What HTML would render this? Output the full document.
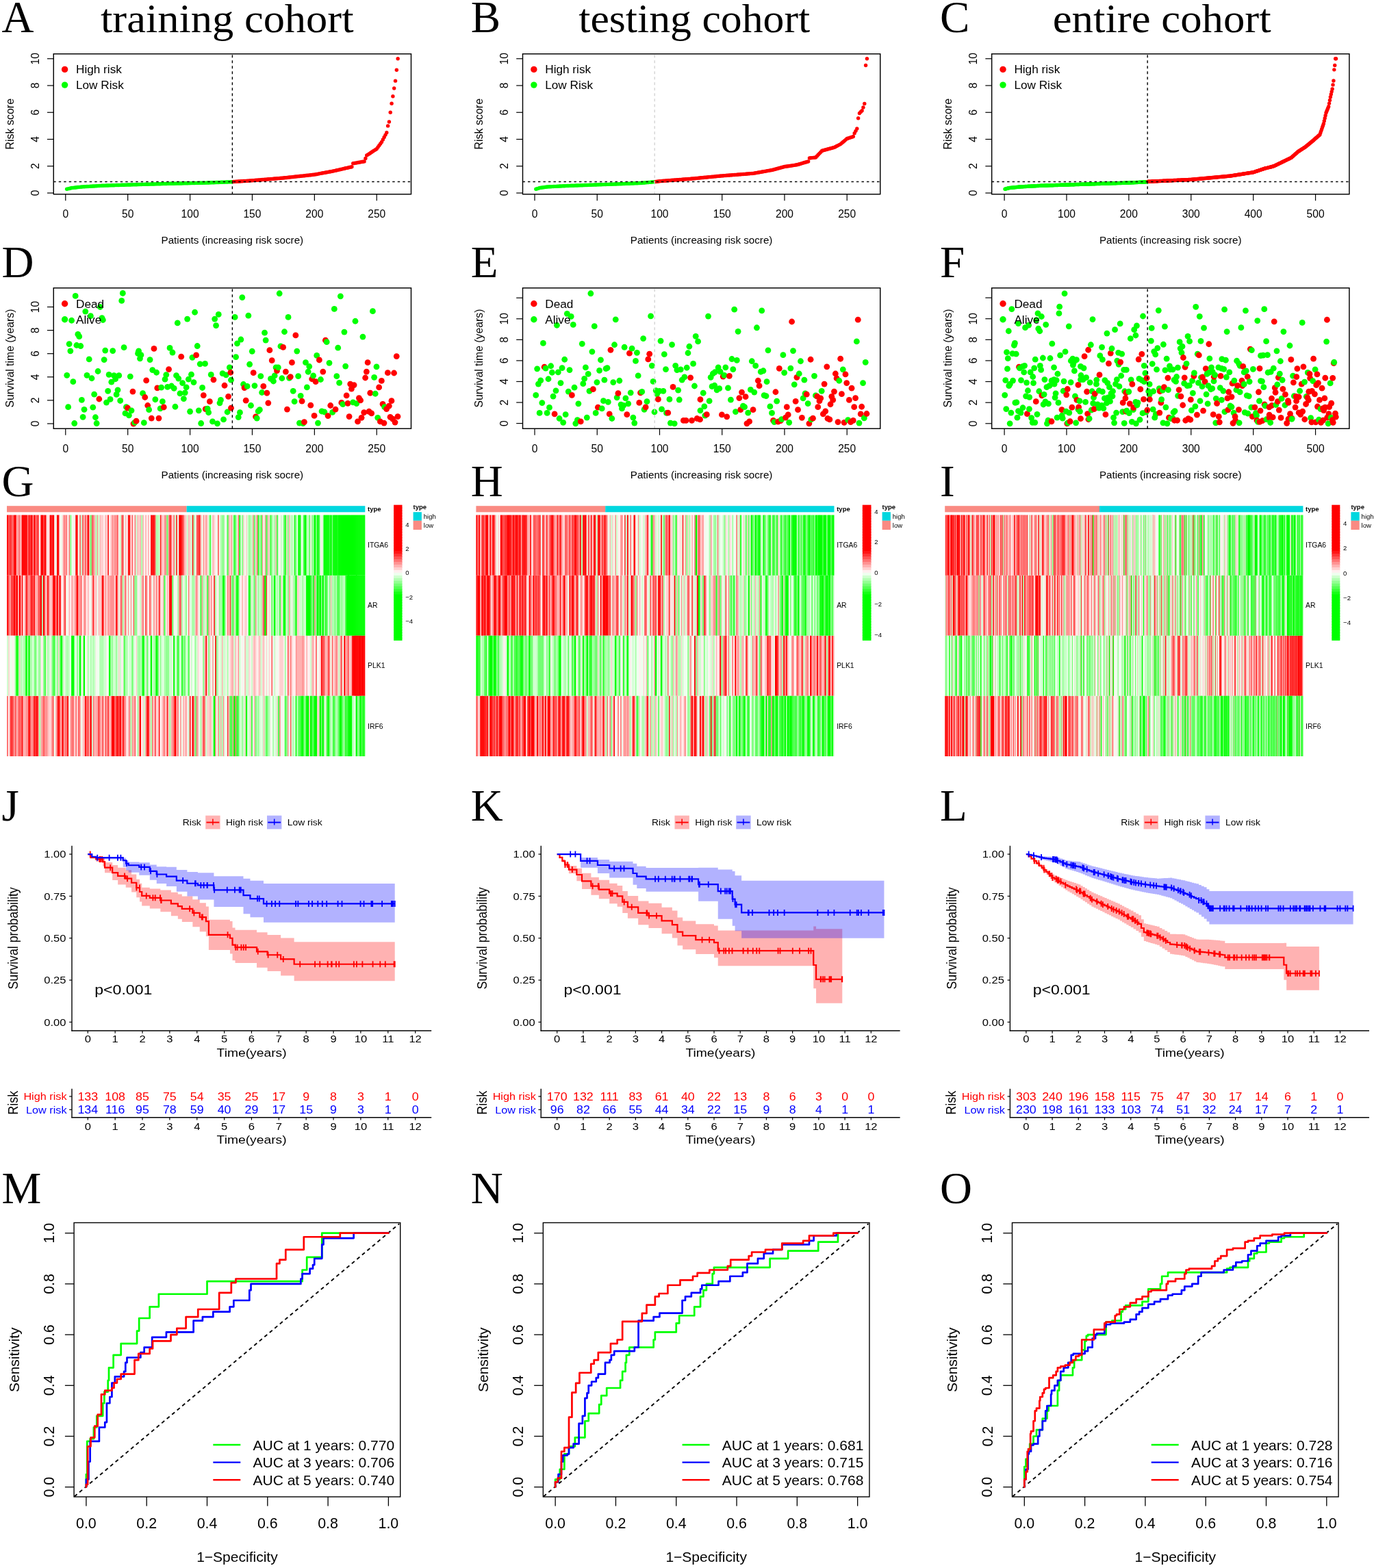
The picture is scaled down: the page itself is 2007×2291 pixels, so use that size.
<!DOCTYPE html><html><head><meta charset="utf-8"><title>Risk model figure</title>
<style>html,body{margin:0;padding:0;background:#fff;}svg{display:block;}</style></head><body>
<svg width="2007" height="2291" viewBox="0 0 2007 2291" font-family="'Liberation Sans', Arial, sans-serif">
<rect x="0" y="0" width="2007" height="2291" fill="#FFFFFF"/>
<text x="2.5" y="47.2" font-size="65" font-family="'Liberation Serif', 'Times New Roman', serif">A</text>
<text x="687.75" y="47.2" font-size="65" font-family="'Liberation Serif', 'Times New Roman', serif">B</text>
<text x="1372.9" y="47.2" font-size="65" font-family="'Liberation Serif', 'Times New Roman', serif">C</text>
<text x="2.5" y="405" font-size="65" font-family="'Liberation Serif', 'Times New Roman', serif">D</text>
<text x="687.75" y="405" font-size="65" font-family="'Liberation Serif', 'Times New Roman', serif">E</text>
<text x="1372.9" y="405" font-size="65" font-family="'Liberation Serif', 'Times New Roman', serif">F</text>
<text x="2.5" y="725" font-size="65" font-family="'Liberation Serif', 'Times New Roman', serif">G</text>
<text x="687.75" y="725" font-size="65" font-family="'Liberation Serif', 'Times New Roman', serif">H</text>
<text x="1372.9" y="725" font-size="65" font-family="'Liberation Serif', 'Times New Roman', serif">I</text>
<text x="2.5" y="1198.8" font-size="65" font-family="'Liberation Serif', 'Times New Roman', serif">J</text>
<text x="687.75" y="1198.8" font-size="65" font-family="'Liberation Serif', 'Times New Roman', serif">K</text>
<text x="1372.9" y="1198.8" font-size="65" font-family="'Liberation Serif', 'Times New Roman', serif">L</text>
<text x="2.5" y="1757.5" font-size="65" font-family="'Liberation Serif', 'Times New Roman', serif">M</text>
<text x="687.75" y="1757.5" font-size="65" font-family="'Liberation Serif', 'Times New Roman', serif">N</text>
<text x="1372.9" y="1757.5" font-size="65" font-family="'Liberation Serif', 'Times New Roman', serif">O</text>
<text x="147" y="46.7" font-size="60" font-family="'Liberation Serif', 'Times New Roman', serif" textLength="369.5" lengthAdjust="spacingAndGlyphs">training cohort</text>
<text x="845.25" y="46.7" font-size="60" font-family="'Liberation Serif', 'Times New Roman', serif" textLength="337.95" lengthAdjust="spacingAndGlyphs">testing cohort</text>
<text x="1537.75" y="46.7" font-size="60" font-family="'Liberation Serif', 'Times New Roman', serif" textLength="318.85" lengthAdjust="spacingAndGlyphs">entire cohort</text>
<g fill="#00FF00"><circle cx="97.59" cy="276.31" r="2.7"/><circle cx="99.41" cy="275.87" r="2.7"/><circle cx="101.23" cy="275.43" r="2.7"/><circle cx="103.05" cy="274.98" r="2.7"/><circle cx="104.86" cy="274.54" r="2.7"/><circle cx="106.68" cy="274.35" r="2.7"/><circle cx="108.5" cy="274.15" r="2.7"/><circle cx="110.32" cy="273.95" r="2.7"/><circle cx="112.14" cy="273.76" r="2.7"/><circle cx="113.95" cy="273.56" r="2.7"/><circle cx="115.77" cy="273.37" r="2.7"/><circle cx="117.59" cy="273.17" r="2.7"/><circle cx="119.41" cy="272.97" r="2.7"/><circle cx="121.23" cy="272.87" r="2.7"/><circle cx="123.04" cy="272.76" r="2.7"/><circle cx="124.86" cy="272.66" r="2.7"/><circle cx="126.68" cy="272.56" r="2.7"/><circle cx="128.5" cy="272.45" r="2.7"/><circle cx="130.32" cy="272.35" r="2.7"/><circle cx="132.13" cy="272.25" r="2.7"/><circle cx="133.95" cy="272.14" r="2.7"/><circle cx="135.77" cy="272.04" r="2.7"/><circle cx="137.59" cy="271.93" r="2.7"/><circle cx="139.4" cy="271.83" r="2.7"/><circle cx="141.22" cy="271.73" r="2.7"/><circle cx="143.04" cy="271.62" r="2.7"/><circle cx="144.86" cy="271.52" r="2.7"/><circle cx="146.68" cy="271.41" r="2.7"/><circle cx="148.49" cy="271.31" r="2.7"/><circle cx="150.31" cy="271.21" r="2.7"/><circle cx="152.13" cy="271.15" r="2.7"/><circle cx="153.95" cy="271.09" r="2.7"/><circle cx="155.77" cy="271.03" r="2.7"/><circle cx="157.58" cy="270.97" r="2.7"/><circle cx="159.4" cy="270.91" r="2.7"/><circle cx="161.22" cy="270.85" r="2.7"/><circle cx="163.04" cy="270.79" r="2.7"/><circle cx="164.86" cy="270.74" r="2.7"/><circle cx="166.67" cy="270.68" r="2.7"/><circle cx="168.49" cy="270.62" r="2.7"/><circle cx="170.31" cy="270.56" r="2.7"/><circle cx="172.13" cy="270.5" r="2.7"/><circle cx="173.94" cy="270.44" r="2.7"/><circle cx="175.76" cy="270.38" r="2.7"/><circle cx="177.58" cy="270.32" r="2.7"/><circle cx="179.4" cy="270.26" r="2.7"/><circle cx="181.22" cy="270.21" r="2.7"/><circle cx="183.03" cy="270.15" r="2.7"/><circle cx="184.85" cy="270.09" r="2.7"/><circle cx="186.67" cy="270.03" r="2.7"/><circle cx="188.49" cy="269.98" r="2.7"/><circle cx="190.31" cy="269.93" r="2.7"/><circle cx="192.12" cy="269.88" r="2.7"/><circle cx="193.94" cy="269.83" r="2.7"/><circle cx="195.76" cy="269.78" r="2.7"/><circle cx="197.58" cy="269.73" r="2.7"/><circle cx="199.4" cy="269.68" r="2.7"/><circle cx="201.21" cy="269.63" r="2.7"/><circle cx="203.03" cy="269.57" r="2.7"/><circle cx="204.85" cy="269.52" r="2.7"/><circle cx="206.67" cy="269.47" r="2.7"/><circle cx="208.49" cy="269.42" r="2.7"/><circle cx="210.3" cy="269.37" r="2.7"/><circle cx="212.12" cy="269.32" r="2.7"/><circle cx="213.94" cy="269.27" r="2.7"/><circle cx="215.76" cy="269.22" r="2.7"/><circle cx="217.57" cy="269.17" r="2.7"/><circle cx="219.39" cy="269.12" r="2.7"/><circle cx="221.21" cy="269.07" r="2.7"/><circle cx="223.03" cy="269.02" r="2.7"/><circle cx="224.85" cy="268.97" r="2.7"/><circle cx="226.66" cy="268.92" r="2.7"/><circle cx="228.48" cy="268.87" r="2.7"/><circle cx="230.3" cy="268.82" r="2.7"/><circle cx="232.12" cy="268.77" r="2.7"/><circle cx="233.94" cy="268.72" r="2.7"/><circle cx="235.75" cy="268.67" r="2.7"/><circle cx="237.57" cy="268.62" r="2.7"/><circle cx="239.39" cy="268.57" r="2.7"/><circle cx="241.21" cy="268.51" r="2.7"/><circle cx="243.03" cy="268.46" r="2.7"/><circle cx="244.84" cy="268.41" r="2.7"/><circle cx="246.66" cy="268.36" r="2.7"/><circle cx="248.48" cy="268.31" r="2.7"/><circle cx="250.3" cy="268.26" r="2.7"/><circle cx="252.12" cy="268.22" r="2.7"/><circle cx="253.93" cy="268.18" r="2.7"/><circle cx="255.75" cy="268.14" r="2.7"/><circle cx="257.57" cy="268.09" r="2.7"/><circle cx="259.39" cy="268.05" r="2.7"/><circle cx="261.2" cy="268.01" r="2.7"/><circle cx="263.02" cy="267.97" r="2.7"/><circle cx="264.84" cy="267.93" r="2.7"/><circle cx="266.66" cy="267.88" r="2.7"/><circle cx="268.48" cy="267.84" r="2.7"/><circle cx="270.29" cy="267.8" r="2.7"/><circle cx="272.11" cy="267.76" r="2.7"/><circle cx="273.93" cy="267.72" r="2.7"/><circle cx="275.75" cy="267.67" r="2.7"/><circle cx="277.57" cy="267.63" r="2.7"/><circle cx="279.38" cy="267.59" r="2.7"/><circle cx="281.2" cy="267.55" r="2.7"/><circle cx="283.02" cy="267.51" r="2.7"/><circle cx="284.84" cy="267.46" r="2.7"/><circle cx="286.66" cy="267.42" r="2.7"/><circle cx="288.47" cy="267.38" r="2.7"/><circle cx="290.29" cy="267.34" r="2.7"/><circle cx="292.11" cy="267.3" r="2.7"/><circle cx="293.93" cy="267.25" r="2.7"/><circle cx="295.75" cy="267.21" r="2.7"/><circle cx="297.56" cy="267.17" r="2.7"/><circle cx="299.38" cy="267.13" r="2.7"/><circle cx="301.2" cy="267.08" r="2.7"/><circle cx="303.02" cy="267.02" r="2.7"/><circle cx="304.83" cy="266.95" r="2.7"/><circle cx="306.65" cy="266.89" r="2.7"/><circle cx="308.47" cy="266.82" r="2.7"/><circle cx="310.29" cy="266.76" r="2.7"/><circle cx="312.11" cy="266.69" r="2.7"/><circle cx="313.92" cy="266.63" r="2.7"/><circle cx="315.74" cy="266.56" r="2.7"/><circle cx="317.56" cy="266.5" r="2.7"/><circle cx="319.38" cy="266.43" r="2.7"/><circle cx="321.2" cy="266.37" r="2.7"/><circle cx="323.01" cy="266.3" r="2.7"/><circle cx="324.83" cy="266.23" r="2.7"/><circle cx="326.65" cy="266.17" r="2.7"/><circle cx="328.47" cy="266.1" r="2.7"/><circle cx="330.29" cy="266.04" r="2.7"/><circle cx="332.1" cy="265.97" r="2.7"/><circle cx="333.92" cy="265.91" r="2.7"/><circle cx="335.74" cy="265.84" r="2.7"/><circle cx="337.56" cy="265.78" r="2.7"/><circle cx="339.38" cy="265.71" r="2.7"/></g>
<g fill="#FF0000"><circle cx="341.19" cy="265.51" r="2.7"/><circle cx="343.01" cy="265.4" r="2.7"/><circle cx="344.83" cy="265.28" r="2.7"/><circle cx="346.65" cy="265.16" r="2.7"/><circle cx="348.46" cy="265.04" r="2.7"/><circle cx="350.28" cy="264.93" r="2.7"/><circle cx="352.1" cy="264.81" r="2.7"/><circle cx="353.92" cy="264.69" r="2.7"/><circle cx="355.74" cy="264.57" r="2.7"/><circle cx="357.55" cy="264.46" r="2.7"/><circle cx="359.37" cy="264.34" r="2.7"/><circle cx="361.19" cy="264.22" r="2.7"/><circle cx="363.01" cy="264.1" r="2.7"/><circle cx="364.83" cy="263.98" r="2.7"/><circle cx="366.64" cy="263.87" r="2.7"/><circle cx="368.46" cy="263.75" r="2.7"/><circle cx="370.28" cy="263.6" r="2.7"/><circle cx="372.1" cy="263.45" r="2.7"/><circle cx="373.92" cy="263.3" r="2.7"/><circle cx="375.73" cy="263.15" r="2.7"/><circle cx="377.55" cy="263" r="2.7"/><circle cx="379.37" cy="262.85" r="2.7"/><circle cx="381.19" cy="262.7" r="2.7"/><circle cx="383" cy="262.56" r="2.7"/><circle cx="384.82" cy="262.41" r="2.7"/><circle cx="386.64" cy="262.26" r="2.7"/><circle cx="388.46" cy="262.11" r="2.7"/><circle cx="390.28" cy="261.96" r="2.7"/><circle cx="392.09" cy="261.81" r="2.7"/><circle cx="393.91" cy="261.66" r="2.7"/><circle cx="395.73" cy="261.51" r="2.7"/><circle cx="397.55" cy="261.36" r="2.7"/><circle cx="399.37" cy="261.21" r="2.7"/><circle cx="401.18" cy="261.06" r="2.7"/><circle cx="403" cy="260.91" r="2.7"/><circle cx="404.82" cy="260.77" r="2.7"/><circle cx="406.64" cy="260.62" r="2.7"/><circle cx="408.46" cy="260.47" r="2.7"/><circle cx="410.27" cy="260.32" r="2.7"/><circle cx="412.09" cy="260.17" r="2.7"/><circle cx="413.91" cy="260.02" r="2.7"/><circle cx="415.73" cy="259.82" r="2.7"/><circle cx="417.55" cy="259.63" r="2.7"/><circle cx="419.36" cy="259.43" r="2.7"/><circle cx="421.18" cy="259.24" r="2.7"/><circle cx="423" cy="259.04" r="2.7"/><circle cx="424.82" cy="258.84" r="2.7"/><circle cx="426.63" cy="258.65" r="2.7"/><circle cx="428.45" cy="258.45" r="2.7"/><circle cx="430.27" cy="258.25" r="2.7"/><circle cx="432.09" cy="258.06" r="2.7"/><circle cx="433.91" cy="257.86" r="2.7"/><circle cx="435.72" cy="257.67" r="2.7"/><circle cx="437.54" cy="257.47" r="2.7"/><circle cx="439.36" cy="257.27" r="2.7"/><circle cx="441.18" cy="257.08" r="2.7"/><circle cx="443" cy="256.88" r="2.7"/><circle cx="444.81" cy="256.68" r="2.7"/><circle cx="446.63" cy="256.49" r="2.7"/><circle cx="448.45" cy="256.29" r="2.7"/><circle cx="450.27" cy="256.1" r="2.7"/><circle cx="452.09" cy="255.9" r="2.7"/><circle cx="453.9" cy="255.7" r="2.7"/><circle cx="455.72" cy="255.51" r="2.7"/><circle cx="457.54" cy="255.31" r="2.7"/><circle cx="459.36" cy="255.11" r="2.7"/><circle cx="461.18" cy="254.77" r="2.7"/><circle cx="462.99" cy="254.43" r="2.7"/><circle cx="464.81" cy="254.09" r="2.7"/><circle cx="466.63" cy="253.75" r="2.7"/><circle cx="468.45" cy="253.41" r="2.7"/><circle cx="470.26" cy="253.07" r="2.7"/><circle cx="472.08" cy="252.73" r="2.7"/><circle cx="473.9" cy="252.39" r="2.7"/><circle cx="475.72" cy="252.05" r="2.7"/><circle cx="477.54" cy="251.71" r="2.7"/><circle cx="479.35" cy="251.37" r="2.7"/><circle cx="481.17" cy="251.03" r="2.7"/><circle cx="482.99" cy="250.69" r="2.7"/><circle cx="484.81" cy="250.35" r="2.7"/><circle cx="486.63" cy="250.01" r="2.7"/><circle cx="488.44" cy="249.59" r="2.7"/><circle cx="490.26" cy="249.17" r="2.7"/><circle cx="492.08" cy="248.76" r="2.7"/><circle cx="493.9" cy="248.34" r="2.7"/><circle cx="495.72" cy="247.92" r="2.7"/><circle cx="497.53" cy="247.5" r="2.7"/><circle cx="499.35" cy="247.08" r="2.7"/><circle cx="501.17" cy="246.66" r="2.7"/><circle cx="502.99" cy="246.24" r="2.7"/><circle cx="504.81" cy="245.82" r="2.7"/><circle cx="506.62" cy="245.41" r="2.7"/><circle cx="508.44" cy="244.99" r="2.7"/><circle cx="510.26" cy="244.57" r="2.7"/><circle cx="512.08" cy="244.15" r="2.7"/><circle cx="513.89" cy="243.73" r="2.7"/><circle cx="515.71" cy="238.82" r="2.7"/><circle cx="517.53" cy="238.5" r="2.7"/><circle cx="519.35" cy="238.17" r="2.7"/><circle cx="521.17" cy="237.84" r="2.7"/><circle cx="522.98" cy="237.52" r="2.7"/><circle cx="524.8" cy="237.19" r="2.7"/><circle cx="526.62" cy="236.86" r="2.7"/><circle cx="528.44" cy="236.54" r="2.7"/><circle cx="530.26" cy="236.21" r="2.7"/><circle cx="532.07" cy="235.88" r="2.7"/><circle cx="533.89" cy="231.47" r="2.7"/><circle cx="535.71" cy="227.05" r="2.7"/><circle cx="537.53" cy="225.85" r="2.7"/><circle cx="539.35" cy="224.65" r="2.7"/><circle cx="541.16" cy="223.44" r="2.7"/><circle cx="542.98" cy="222.24" r="2.7"/><circle cx="544.8" cy="221.04" r="2.7"/><circle cx="546.62" cy="219.84" r="2.7"/><circle cx="548.43" cy="218.64" r="2.7"/><circle cx="550.25" cy="217.43" r="2.7"/><circle cx="552.07" cy="214.93" r="2.7"/><circle cx="553.89" cy="212.43" r="2.7"/><circle cx="555.71" cy="209.93" r="2.7"/><circle cx="557.52" cy="207.43" r="2.7"/><circle cx="559.34" cy="203.99" r="2.7"/><circle cx="561.16" cy="200.56" r="2.7"/><circle cx="562.98" cy="197.12" r="2.7"/><circle cx="564.8" cy="193.69" r="2.7"/><circle cx="566.61" cy="183.88" r="2.7"/><circle cx="568.43" cy="177.99" r="2.7"/><circle cx="570.25" cy="164.25" r="2.7"/><circle cx="572.07" cy="151.3" r="2.7"/><circle cx="573.89" cy="140.7" r="2.7"/><circle cx="575.7" cy="128.93" r="2.7"/><circle cx="577.52" cy="118.13" r="2.7"/><circle cx="579.34" cy="102.23" r="2.7"/><circle cx="581.16" cy="85.75" r="2.7"/></g>
<line x1="339.38" y1="80.25" x2="339.38" y2="283.75" stroke="#000" stroke-width="1.4" stroke-dasharray="4 4"/>
<line x1="78.25" y1="265.51" x2="600.5" y2="265.51" stroke="#000" stroke-width="1.4" stroke-dasharray="3.4 4.1"/>
<rect x="78.25" y="78.75" width="522.25" height="205" fill="none" stroke="#000" stroke-width="1.45"/>
<line x1="68.95" y1="282" x2="78.25" y2="282" stroke="#000" stroke-width="1.2"/>
<text x="56.75" y="282" font-size="15.6" text-anchor="middle" transform="rotate(-90 56.75 282)">0</text>
<line x1="68.95" y1="242.75" x2="78.25" y2="242.75" stroke="#000" stroke-width="1.2"/>
<text x="56.75" y="242.75" font-size="15.6" text-anchor="middle" transform="rotate(-90 56.75 242.75)">2</text>
<line x1="68.95" y1="203.5" x2="78.25" y2="203.5" stroke="#000" stroke-width="1.2"/>
<text x="56.75" y="203.5" font-size="15.6" text-anchor="middle" transform="rotate(-90 56.75 203.5)">4</text>
<line x1="68.95" y1="164.25" x2="78.25" y2="164.25" stroke="#000" stroke-width="1.2"/>
<text x="56.75" y="164.25" font-size="15.6" text-anchor="middle" transform="rotate(-90 56.75 164.25)">6</text>
<line x1="68.95" y1="125" x2="78.25" y2="125" stroke="#000" stroke-width="1.2"/>
<text x="56.75" y="125" font-size="15.6" text-anchor="middle" transform="rotate(-90 56.75 125)">8</text>
<line x1="68.95" y1="85.75" x2="78.25" y2="85.75" stroke="#000" stroke-width="1.2"/>
<text x="56.75" y="85.75" font-size="15.6" text-anchor="middle" transform="rotate(-90 56.75 85.75)">10</text>
<line x1="95.77" y1="283.75" x2="95.77" y2="293.25" stroke="#000" stroke-width="1.2"/>
<text x="95.77" y="318.3" font-size="15.6" text-anchor="middle">0</text>
<line x1="186.67" y1="283.75" x2="186.67" y2="293.25" stroke="#000" stroke-width="1.2"/>
<text x="186.67" y="318.3" font-size="15.6" text-anchor="middle">50</text>
<line x1="277.57" y1="283.75" x2="277.57" y2="293.25" stroke="#000" stroke-width="1.2"/>
<text x="277.57" y="318.3" font-size="15.6" text-anchor="middle">100</text>
<line x1="368.46" y1="283.75" x2="368.46" y2="293.25" stroke="#000" stroke-width="1.2"/>
<text x="368.46" y="318.3" font-size="15.6" text-anchor="middle">150</text>
<line x1="459.36" y1="283.75" x2="459.36" y2="293.25" stroke="#000" stroke-width="1.2"/>
<text x="459.36" y="318.3" font-size="15.6" text-anchor="middle">200</text>
<line x1="550.25" y1="283.75" x2="550.25" y2="293.25" stroke="#000" stroke-width="1.2"/>
<text x="550.25" y="318.3" font-size="15.6" text-anchor="middle">250</text>
<text x="339.38" y="356.2" font-size="15.2" text-anchor="middle">Patients (increasing risk socre)</text>
<text x="20" y="181.25" font-size="16" text-anchor="middle" transform="rotate(-90 20 181.25)">Risk score</text>
<circle cx="94.6" cy="101.4" r="4.7" fill="#FF0000"/>
<circle cx="94.6" cy="124.1" r="4.7" fill="#00FF00"/>
<text x="111" y="107.3" font-size="17.2">High risk</text>
<text x="111" y="130.3" font-size="17.2">Low Risk</text>
<g><circle cx="97.74" cy="548.35" r="4.4" fill="#00FF00"/><circle cx="99.64" cy="594.69" r="4.4" fill="#00FF00"/><circle cx="101.1" cy="502.6" r="4.4" fill="#00FF00"/><circle cx="102.85" cy="512.83" r="4.4" fill="#00FF00"/><circle cx="104.61" cy="468.24" r="4.4" fill="#00FF00"/><circle cx="106.8" cy="557.71" r="4.4" fill="#00FF00"/><circle cx="108.7" cy="618.52" r="4.4" fill="#00FF00"/><circle cx="110.17" cy="432.43" r="4.4" fill="#00FF00"/><circle cx="111.92" cy="504.5" r="4.4" fill="#00FF00"/><circle cx="113.82" cy="488.42" r="4.4" fill="#00FF00"/><circle cx="115.72" cy="491.63" r="4.4" fill="#00FF00"/><circle cx="117.77" cy="505.52" r="4.4" fill="#00FF00"/><circle cx="119.38" cy="584.46" r="4.4" fill="#00FF00"/><circle cx="121.13" cy="609.31" r="4.4" fill="#00FF00"/><circle cx="123.03" cy="598.35" r="4.4" fill="#00FF00"/><circle cx="124.79" cy="455.08" r="4.4" fill="#00FF00"/><circle cx="126.98" cy="548.35" r="4.4" fill="#00FF00"/><circle cx="130.2" cy="524.96" r="4.4" fill="#00FF00"/><circle cx="132.39" cy="461.66" r="4.4" fill="#00FF00"/><circle cx="134" cy="552.74" r="4.4" fill="#00FF00"/><circle cx="135.75" cy="595.13" r="4.4" fill="#00FF00"/><circle cx="137.65" cy="576.13" r="4.4" fill="#00FF00"/><circle cx="139.41" cy="609.75" r="4.4" fill="#00FF00"/><circle cx="141.16" cy="618.52" r="4.4" fill="#00FF00"/><circle cx="143.06" cy="542.5" r="4.4" fill="#00FF00"/><circle cx="144.82" cy="583" r="4.4" fill="#FF0000"/><circle cx="146.28" cy="448.51" r="4.4" fill="#00FF00"/><circle cx="148.91" cy="464.59" r="4.4" fill="#00FF00"/><circle cx="150.37" cy="467.51" r="4.4" fill="#00FF00"/><circle cx="152.13" cy="525.55" r="4.4" fill="#00FF00"/><circle cx="153.73" cy="512.1" r="4.4" fill="#00FF00"/><circle cx="155.49" cy="588.11" r="4.4" fill="#00FF00"/><circle cx="157.68" cy="571.3" r="4.4" fill="#00FF00"/><circle cx="159.14" cy="547.47" r="4.4" fill="#00FF00"/><circle cx="161.04" cy="583.44" r="4.4" fill="#00FF00"/><circle cx="162.8" cy="558.15" r="4.4" fill="#00FF00"/><circle cx="164.7" cy="512.54" r="4.4" fill="#00FF00"/><circle cx="166.45" cy="548.64" r="4.4" fill="#00FF00"/><circle cx="168.65" cy="553.76" r="4.4" fill="#00FF00"/><circle cx="170.11" cy="576.42" r="4.4" fill="#00FF00"/><circle cx="172.01" cy="569.84" r="4.4" fill="#00FF00"/><circle cx="173.76" cy="548.64" r="4.4" fill="#00FF00"/><circle cx="175.67" cy="585.48" r="4.4" fill="#00FF00"/><circle cx="177.71" cy="439.44" r="4.4" fill="#00FF00"/><circle cx="179.32" cy="428.48" r="4.4" fill="#00FF00"/><circle cx="181.07" cy="507.71" r="4.4" fill="#00FF00"/><circle cx="182.98" cy="603.9" r="4.4" fill="#00FF00"/><circle cx="184.44" cy="594.69" r="4.4" fill="#00FF00"/><circle cx="186.48" cy="596.15" r="4.4" fill="#FF0000"/><circle cx="188.38" cy="606.83" r="4.4" fill="#00FF00"/><circle cx="190.29" cy="550.11" r="4.4" fill="#00FF00"/><circle cx="192.04" cy="599.81" r="4.4" fill="#00FF00"/><circle cx="193.94" cy="572.03" r="4.4" fill="#FF0000"/><circle cx="194.96" cy="619.11" r="4.4" fill="#FF0000"/><circle cx="196.72" cy="617.35" r="4.4" fill="#00FF00"/><circle cx="199.06" cy="615.16" r="4.4" fill="#FF0000"/><circle cx="201.54" cy="516.48" r="4.4" fill="#00FF00"/><circle cx="202.57" cy="512.83" r="4.4" fill="#00FF00"/><circle cx="204.47" cy="523.79" r="4.4" fill="#00FF00"/><circle cx="205.93" cy="518.68" r="4.4" fill="#00FF00"/><circle cx="208.56" cy="574.66" r="4.4" fill="#00FF00"/><circle cx="210.32" cy="617.64" r="4.4" fill="#00FF00"/><circle cx="211.78" cy="580.51" r="4.4" fill="#FF0000"/><circle cx="213.68" cy="555.95" r="4.4" fill="#FF0000"/><circle cx="215.73" cy="592.5" r="4.4" fill="#FF0000"/><circle cx="217.63" cy="598.64" r="4.4" fill="#00FF00"/><circle cx="219.09" cy="525.55" r="4.4" fill="#00FF00"/><circle cx="221.28" cy="611.07" r="4.4" fill="#FF0000"/><circle cx="222.74" cy="540.6" r="4.4" fill="#00FF00"/><circle cx="224.94" cy="509.47" r="4.4" fill="#FF0000"/><circle cx="226.84" cy="583.73" r="4.4" fill="#00FF00"/><circle cx="228.59" cy="544.26" r="4.4" fill="#00FF00"/><circle cx="229.76" cy="566.92" r="4.4" fill="#FF0000"/><circle cx="231.95" cy="611.07" r="4.4" fill="#FF0000"/><circle cx="234.15" cy="596.89" r="4.4" fill="#00FF00"/><circle cx="235.61" cy="566.19" r="4.4" fill="#00FF00"/><circle cx="237.36" cy="586.65" r="4.4" fill="#00FF00"/><circle cx="239.26" cy="594.98" r="4.4" fill="#FF0000"/><circle cx="241.02" cy="554.2" r="4.4" fill="#00FF00"/><circle cx="242.77" cy="547.62" r="4.4" fill="#00FF00"/><circle cx="244.67" cy="565.46" r="4.4" fill="#00FF00"/><circle cx="246.57" cy="539.58" r="4.4" fill="#FF0000"/><circle cx="248.04" cy="508.44" r="4.4" fill="#00FF00"/><circle cx="250.52" cy="563.99" r="4.4" fill="#00FF00"/><circle cx="251.98" cy="515.02" r="4.4" fill="#00FF00"/><circle cx="254.18" cy="567.36" r="4.4" fill="#00FF00"/><circle cx="255.93" cy="594.25" r="4.4" fill="#00FF00"/><circle cx="257.54" cy="548.64" r="4.4" fill="#00FF00"/><circle cx="259.29" cy="471.9" r="4.4" fill="#00FF00"/><circle cx="260.76" cy="553.03" r="4.4" fill="#00FF00"/><circle cx="262.95" cy="574.96" r="4.4" fill="#00FF00"/><circle cx="264.7" cy="521.16" r="4.4" fill="#FF0000"/><circle cx="266.6" cy="559.61" r="4.4" fill="#00FF00"/><circle cx="268.36" cy="582.56" r="4.4" fill="#00FF00"/><circle cx="270.26" cy="573.79" r="4.4" fill="#00FF00"/><circle cx="272.16" cy="565.89" r="4.4" fill="#00FF00"/><circle cx="273.62" cy="466.05" r="4.4" fill="#00FF00"/><circle cx="275.38" cy="554.2" r="4.4" fill="#00FF00"/><circle cx="277.57" cy="601.27" r="4.4" fill="#00FF00"/><circle cx="279.47" cy="547.18" r="4.4" fill="#00FF00"/><circle cx="280.93" cy="522.33" r="4.4" fill="#00FF00"/><circle cx="282.98" cy="558.58" r="4.4" fill="#00FF00"/><circle cx="284.59" cy="456.25" r="4.4" fill="#00FF00"/><circle cx="286.63" cy="518.97" r="4.4" fill="#FF0000"/><circle cx="288.24" cy="505.52" r="4.4" fill="#00FF00"/><circle cx="290.29" cy="599.81" r="4.4" fill="#00FF00"/><circle cx="292.19" cy="531.83" r="4.4" fill="#00FF00"/><circle cx="293.65" cy="618.52" r="4.4" fill="#00FF00"/><circle cx="295.55" cy="566.48" r="4.4" fill="#00FF00"/><circle cx="297.31" cy="577.59" r="4.4" fill="#FF0000"/><circle cx="299.5" cy="531.39" r="4.4" fill="#00FF00"/><circle cx="300.23" cy="597.62" r="4.4" fill="#FF0000"/><circle cx="303.16" cy="597.18" r="4.4" fill="#00FF00"/><circle cx="304.62" cy="602.73" r="4.4" fill="#00FF00"/><circle cx="306.37" cy="586.65" r="4.4" fill="#FF0000"/><circle cx="308.27" cy="547.47" r="4.4" fill="#00FF00"/><circle cx="310.47" cy="615.89" r="4.4" fill="#00FF00"/><circle cx="311.93" cy="554.78" r="4.4" fill="#FF0000"/><circle cx="313.68" cy="466.05" r="4.4" fill="#00FF00"/><circle cx="315.58" cy="475.55" r="4.4" fill="#00FF00"/><circle cx="317.48" cy="618.81" r="4.4" fill="#00FF00"/><circle cx="319.24" cy="459.47" r="4.4" fill="#00FF00"/><circle cx="320.99" cy="588.84" r="4.4" fill="#00FF00"/><circle cx="322.46" cy="584.46" r="4.4" fill="#00FF00"/><circle cx="325.09" cy="545.72" r="4.4" fill="#00FF00"/><circle cx="326.55" cy="612.97" r="4.4" fill="#00FF00"/><circle cx="328.01" cy="563.26" r="4.4" fill="#FF0000"/><circle cx="330.2" cy="547.91" r="4.4" fill="#00FF00"/><circle cx="332.1" cy="602" r="4.4" fill="#00FF00"/><circle cx="333.57" cy="579.34" r="4.4" fill="#FF0000"/><circle cx="335.32" cy="536.95" r="4.4" fill="#00FF00"/><circle cx="336.78" cy="544.26" r="4.4" fill="#FF0000"/><circle cx="337.51" cy="555.22" r="4.4" fill="#00FF00"/><circle cx="337.51" cy="596.15" r="4.4" fill="#FF0000"/><circle cx="343.12" cy="463.42" r="4.4" fill="#00FF00"/><circle cx="344.58" cy="521.6" r="4.4" fill="#00FF00"/><circle cx="346.48" cy="501.86" r="4.4" fill="#00FF00"/><circle cx="348.23" cy="609.6" r="4.4" fill="#00FF00"/><circle cx="350.43" cy="602.73" r="4.4" fill="#00FF00"/><circle cx="351.89" cy="496.02" r="4.4" fill="#00FF00"/><circle cx="353.79" cy="434.62" r="4.4" fill="#00FF00"/><circle cx="355.54" cy="561.51" r="4.4" fill="#00FF00"/><circle cx="357.01" cy="566.62" r="4.4" fill="#FF0000"/><circle cx="359.2" cy="585.19" r="4.4" fill="#FF0000"/><circle cx="361.1" cy="564.43" r="4.4" fill="#00FF00"/><circle cx="362.85" cy="461.22" r="4.4" fill="#00FF00"/><circle cx="364.61" cy="532.27" r="4.4" fill="#00FF00"/><circle cx="366.51" cy="592.5" r="4.4" fill="#00FF00"/><circle cx="368.26" cy="513.27" r="4.4" fill="#00FF00"/><circle cx="370.17" cy="544.7" r="4.4" fill="#FF0000"/><circle cx="371.92" cy="563.55" r="4.4" fill="#00FF00"/><circle cx="373.53" cy="608.87" r="4.4" fill="#FF0000"/><circle cx="375.28" cy="611.07" r="4.4" fill="#00FF00"/><circle cx="377.18" cy="600.98" r="4.4" fill="#00FF00"/><circle cx="379.38" cy="598.64" r="4.4" fill="#00FF00"/><circle cx="380.84" cy="549.67" r="4.4" fill="#00FF00"/><circle cx="382.59" cy="573.5" r="4.4" fill="#00FF00"/><circle cx="384.79" cy="564.29" r="4.4" fill="#FF0000"/><circle cx="386.54" cy="486.22" r="4.4" fill="#00FF00"/><circle cx="388.15" cy="497.04" r="4.4" fill="#00FF00"/><circle cx="389.9" cy="574.23" r="4.4" fill="#FF0000"/><circle cx="391.8" cy="588.84" r="4.4" fill="#FF0000"/><circle cx="393.85" cy="511.66" r="4.4" fill="#FF0000"/><circle cx="395.46" cy="553.32" r="4.4" fill="#00FF00"/><circle cx="397.21" cy="526.72" r="4.4" fill="#FF0000"/><circle cx="399.41" cy="556.98" r="4.4" fill="#00FF00"/><circle cx="401.16" cy="548.94" r="4.4" fill="#00FF00"/><circle cx="403.06" cy="536.95" r="4.4" fill="#00FF00"/><circle cx="404.52" cy="541.63" r="4.4" fill="#FF0000"/><circle cx="406.28" cy="536.95" r="4.4" fill="#00FF00"/><circle cx="408.18" cy="428.77" r="4.4" fill="#00FF00"/><circle cx="409.93" cy="505.96" r="4.4" fill="#00FF00"/><circle cx="411.83" cy="552.74" r="4.4" fill="#00FF00"/><circle cx="413.59" cy="507.42" r="4.4" fill="#FF0000"/><circle cx="415.49" cy="484.76" r="4.4" fill="#00FF00"/><circle cx="417.39" cy="543.09" r="4.4" fill="#FF0000"/><circle cx="419.44" cy="598.05" r="4.4" fill="#FF0000"/><circle cx="421.04" cy="463.42" r="4.4" fill="#00FF00"/><circle cx="422.51" cy="552.3" r="4.4" fill="#00FF00"/><circle cx="424.26" cy="550.54" r="4.4" fill="#FF0000"/><circle cx="426.45" cy="529.64" r="4.4" fill="#FF0000"/><circle cx="428.21" cy="571.3" r="4.4" fill="#00FF00"/><circle cx="430.11" cy="586.65" r="4.4" fill="#00FF00"/><circle cx="431.86" cy="489.88" r="4.4" fill="#FF0000"/><circle cx="433.76" cy="513.12" r="4.4" fill="#00FF00"/><circle cx="435.67" cy="549.67" r="4.4" fill="#00FF00"/><circle cx="437.42" cy="618.08" r="4.4" fill="#00FF00"/><circle cx="439.17" cy="578.32" r="4.4" fill="#00FF00"/><circle cx="441.07" cy="586.21" r="4.4" fill="#FF0000"/><circle cx="442.54" cy="618.52" r="4.4" fill="#00FF00"/><circle cx="444.44" cy="616.62" r="4.4" fill="#FF0000"/><circle cx="446.48" cy="529.64" r="4.4" fill="#00FF00"/><circle cx="448.38" cy="565.89" r="4.4" fill="#00FF00"/><circle cx="450.14" cy="543.23" r="4.4" fill="#00FF00"/><circle cx="451.75" cy="535.49" r="4.4" fill="#00FF00"/><circle cx="453.79" cy="592.21" r="4.4" fill="#FF0000"/><circle cx="455.7" cy="553.76" r="4.4" fill="#FF0000"/><circle cx="457.6" cy="548.94" r="4.4" fill="#00FF00"/><circle cx="459.06" cy="607.41" r="4.4" fill="#FF0000"/><circle cx="461.1" cy="557.71" r="4.4" fill="#FF0000"/><circle cx="462.71" cy="519.41" r="4.4" fill="#00FF00"/><circle cx="464.47" cy="618.08" r="4.4" fill="#00FF00"/><circle cx="466.37" cy="525.98" r="4.4" fill="#FF0000"/><circle cx="468.42" cy="554.49" r="4.4" fill="#00FF00"/><circle cx="470.02" cy="600.98" r="4.4" fill="#00FF00"/><circle cx="471.78" cy="543.09" r="4.4" fill="#FF0000"/><circle cx="473.97" cy="602" r="4.4" fill="#00FF00"/><circle cx="475.43" cy="497.19" r="4.4" fill="#FF0000"/><circle cx="477.19" cy="499.67" r="4.4" fill="#00FF00"/><circle cx="479.09" cy="607.56" r="4.4" fill="#FF0000"/><circle cx="480.99" cy="530.37" r="4.4" fill="#00FF00"/><circle cx="482.74" cy="592.5" r="4.4" fill="#FF0000"/><circle cx="485.67" cy="602.44" r="4.4" fill="#00FF00"/><circle cx="488.3" cy="451.43" r="4.4" fill="#00FF00"/><circle cx="490.05" cy="598.05" r="4.4" fill="#FF0000"/><circle cx="491.81" cy="549.67" r="4.4" fill="#00FF00"/><circle cx="493.71" cy="508.15" r="4.4" fill="#00FF00"/><circle cx="495.61" cy="559.32" r="4.4" fill="#00FF00"/><circle cx="497.36" cy="432.86" r="4.4" fill="#00FF00"/><circle cx="498.83" cy="588.41" r="4.4" fill="#FF0000"/><circle cx="500.73" cy="590.6" r="4.4" fill="#00FF00"/><circle cx="502.92" cy="485.05" r="4.4" fill="#00FF00"/><circle cx="504.67" cy="535.05" r="4.4" fill="#00FF00"/><circle cx="506.14" cy="577.88" r="4.4" fill="#FF0000"/><circle cx="508.04" cy="589.28" r="4.4" fill="#FF0000"/><circle cx="510.08" cy="608.58" r="4.4" fill="#FF0000"/><circle cx="511.69" cy="561.07" r="4.4" fill="#FF0000"/><circle cx="513.45" cy="568.09" r="4.4" fill="#FF0000"/><circle cx="515.64" cy="587.82" r="4.4" fill="#00FF00"/><circle cx="517.1" cy="562.53" r="4.4" fill="#FF0000"/><circle cx="519" cy="469.26" r="4.4" fill="#00FF00"/><circle cx="520.76" cy="589.58" r="4.4" fill="#00FF00"/><circle cx="522.51" cy="615.89" r="4.4" fill="#FF0000"/><circle cx="524.41" cy="581.54" r="4.4" fill="#FF0000"/><circle cx="526.6" cy="584.9" r="4.4" fill="#FF0000"/><circle cx="528.07" cy="610.33" r="4.4" fill="#FF0000"/><circle cx="529.97" cy="492.07" r="4.4" fill="#00FF00"/><circle cx="531.72" cy="602.73" r="4.4" fill="#FF0000"/><circle cx="533.62" cy="552.01" r="4.4" fill="#FF0000"/><circle cx="535.38" cy="543.09" r="4.4" fill="#FF0000"/><circle cx="537.13" cy="529.64" r="4.4" fill="#FF0000"/><circle cx="539.03" cy="601.27" r="4.4" fill="#FF0000"/><circle cx="540.79" cy="574.23" r="4.4" fill="#FF0000"/><circle cx="542.69" cy="603.9" r="4.4" fill="#FF0000"/><circle cx="544.44" cy="454.65" r="4.4" fill="#00FF00"/><circle cx="546.63" cy="551.28" r="4.4" fill="#00FF00"/><circle cx="548.24" cy="575.25" r="4.4" fill="#00FF00"/><circle cx="550" cy="535.93" r="4.4" fill="#00FF00"/><circle cx="551.75" cy="610.33" r="4.4" fill="#00FF00"/><circle cx="553.65" cy="565.89" r="4.4" fill="#FF0000"/><circle cx="555.41" cy="615.89" r="4.4" fill="#FF0000"/><circle cx="557.31" cy="556.39" r="4.4" fill="#FF0000"/><circle cx="559.06" cy="590.31" r="4.4" fill="#FF0000"/><circle cx="560.96" cy="618.08" r="4.4" fill="#FF0000"/><circle cx="561.69" cy="594.69" r="4.4" fill="#00FF00"/><circle cx="564.62" cy="597.62" r="4.4" fill="#FF0000"/><circle cx="566.37" cy="544.7" r="4.4" fill="#FF0000"/><circle cx="568.27" cy="593.23" r="4.4" fill="#FF0000"/><circle cx="570.03" cy="609.31" r="4.4" fill="#FF0000"/><circle cx="571.93" cy="585.63" r="4.4" fill="#FF0000"/><circle cx="573.68" cy="612.23" r="4.4" fill="#FF0000"/><circle cx="575.58" cy="544.99" r="4.4" fill="#FF0000"/><circle cx="577.05" cy="617.06" r="4.4" fill="#FF0000"/><circle cx="579.24" cy="520.58" r="4.4" fill="#FF0000"/><circle cx="580.99" cy="608.58" r="4.4" fill="#FF0000"/></g>
<circle cx="94.6" cy="443.8" r="4.7" fill="#FF0000"/>
<circle cx="94.6" cy="466.8" r="4.7" fill="#00FF00"/>
<text x="111" y="449.8" font-size="17.2">Dead</text>
<text x="111" y="472.8" font-size="17.2">Alive</text>
<line x1="339.38" y1="422.25" x2="339.38" y2="626.25" stroke="#000" stroke-width="1.4" stroke-dasharray="4 4"/>
<rect x="78.25" y="420.75" width="522.25" height="205.5" fill="none" stroke="#000" stroke-width="1.45"/>
<line x1="68.95" y1="619" x2="78.25" y2="619" stroke="#000" stroke-width="1.2"/>
<text x="56.75" y="619" font-size="15.6" text-anchor="middle" transform="rotate(-90 56.75 619)">0</text>
<line x1="68.95" y1="584.9" x2="78.25" y2="584.9" stroke="#000" stroke-width="1.2"/>
<text x="56.75" y="584.9" font-size="15.6" text-anchor="middle" transform="rotate(-90 56.75 584.9)">2</text>
<line x1="68.95" y1="550.8" x2="78.25" y2="550.8" stroke="#000" stroke-width="1.2"/>
<text x="56.75" y="550.8" font-size="15.6" text-anchor="middle" transform="rotate(-90 56.75 550.8)">4</text>
<line x1="68.95" y1="516.7" x2="78.25" y2="516.7" stroke="#000" stroke-width="1.2"/>
<text x="56.75" y="516.7" font-size="15.6" text-anchor="middle" transform="rotate(-90 56.75 516.7)">6</text>
<line x1="68.95" y1="482.6" x2="78.25" y2="482.6" stroke="#000" stroke-width="1.2"/>
<text x="56.75" y="482.6" font-size="15.6" text-anchor="middle" transform="rotate(-90 56.75 482.6)">8</text>
<line x1="68.95" y1="448.5" x2="78.25" y2="448.5" stroke="#000" stroke-width="1.2"/>
<text x="56.75" y="448.5" font-size="15.6" text-anchor="middle" transform="rotate(-90 56.75 448.5)">10</text>
<line x1="95.77" y1="626.25" x2="95.77" y2="635.75" stroke="#000" stroke-width="1.2"/>
<text x="95.77" y="660.5" font-size="15.6" text-anchor="middle">0</text>
<line x1="186.67" y1="626.25" x2="186.67" y2="635.75" stroke="#000" stroke-width="1.2"/>
<text x="186.67" y="660.5" font-size="15.6" text-anchor="middle">50</text>
<line x1="277.57" y1="626.25" x2="277.57" y2="635.75" stroke="#000" stroke-width="1.2"/>
<text x="277.57" y="660.5" font-size="15.6" text-anchor="middle">100</text>
<line x1="368.46" y1="626.25" x2="368.46" y2="635.75" stroke="#000" stroke-width="1.2"/>
<text x="368.46" y="660.5" font-size="15.6" text-anchor="middle">150</text>
<line x1="459.36" y1="626.25" x2="459.36" y2="635.75" stroke="#000" stroke-width="1.2"/>
<text x="459.36" y="660.5" font-size="15.6" text-anchor="middle">200</text>
<line x1="550.25" y1="626.25" x2="550.25" y2="635.75" stroke="#000" stroke-width="1.2"/>
<text x="550.25" y="660.5" font-size="15.6" text-anchor="middle">250</text>
<text x="339.38" y="698.7" font-size="15.2" text-anchor="middle">Patients (increasing risk socre)</text>
<text x="20" y="523.5" font-size="15.8" text-anchor="middle" transform="rotate(-90 20 523.5)">Survival time (years)</text>
<path fill="#FF0000" d="M10 752.6h2.31v88.1h-2.31zM35.48 752.6h2.31v88.1h-2.31zM68.8 840.7h2.31v88h-2.31zM168.75 840.7h2.31v88h-2.31zM231.47 840.7h2.31v88h-2.31zM300.07 928.7h2.31v88h-2.31zM468.62 928.7h2.31v88h-2.31zM243.23 1016.7h2.31v88.3h-2.31zM276.55 1016.7h2.31v88.3h-2.31z"/>
<path fill="#FF5353" d="M11.96 752.6h2.31v88.1h-2.31zM15.88 752.6h2.31v88.1h-2.31zM55.08 752.6h2.31v88.1h-2.31zM62.92 752.6h2.31v88.1h-2.31zM115.84 752.6h2.31v88.1h-2.31zM119.76 752.6h2.31v88.1h-2.31zM123.68 752.6h2.31v88.1h-2.31zM133.48 752.6h2.31v88.1h-2.31zM170.71 752.6h2.31v88.1h-2.31zM192.27 752.6h2.31v88.1h-2.31zM225.59 752.6h2.31v88.1h-2.31zM266.75 752.6h2.31v88.1h-2.31zM286.35 752.6h2.31v88.1h-2.31zM288.31 752.6h2.31v88.1h-2.31zM317.71 752.6h2.31v88.1h-2.31zM17.84 840.7h2.31v88h-2.31zM21.76 840.7h2.31v88h-2.31zM43.32 840.7h2.31v88h-2.31zM47.24 840.7h2.31v88h-2.31zM55.08 840.7h2.31v88h-2.31zM57.04 840.7h2.31v88h-2.31zM176.59 840.7h2.31v88h-2.31zM182.47 840.7h2.31v88h-2.31zM194.23 840.7h2.31v88h-2.31zM217.75 840.7h2.31v88h-2.31zM262.83 840.7h2.31v88h-2.31zM396.11 928.7h2.31v88h-2.31zM419.62 928.7h2.31v88h-2.31zM460.78 928.7h2.31v88h-2.31zM470.58 928.7h2.31v88h-2.31zM472.54 928.7h2.31v88h-2.31zM484.3 928.7h2.31v88h-2.31zM498.02 928.7h2.31v88h-2.31zM507.82 928.7h2.31v88h-2.31zM13.92 1016.7h2.31v88.3h-2.31zM17.84 1016.7h2.31v88.3h-2.31zM21.76 1016.7h2.31v88.3h-2.31zM27.64 1016.7h2.31v88.3h-2.31zM43.32 1016.7h2.31v88.3h-2.31zM62.92 1016.7h2.31v88.3h-2.31zM76.64 1016.7h2.31v88.3h-2.31zM82.52 1016.7h2.31v88.3h-2.31zM86.44 1016.7h2.31v88.3h-2.31zM113.88 1016.7h2.31v88.3h-2.31zM153.07 1016.7h2.31v88.3h-2.31zM172.67 1016.7h2.31v88.3h-2.31zM196.19 1016.7h2.31v88.3h-2.31zM253.03 1016.7h2.31v88.3h-2.31zM423.54 1016.7h2.31v88.3h-2.31z"/>
<path fill="#FF3434" d="M13.92 752.6h2.31v88.1h-2.31zM43.32 752.6h2.31v88.1h-2.31zM53.12 752.6h2.31v88.1h-2.31zM74.68 752.6h2.31v88.1h-2.31zM111.92 752.6h2.31v88.1h-2.31zM178.55 752.6h2.31v88.1h-2.31zM264.79 752.6h2.31v88.1h-2.31zM15.88 840.7h2.31v88h-2.31zM94.28 840.7h2.31v88h-2.31zM211.87 840.7h2.31v88h-2.31zM335.35 840.7h2.31v88h-2.31zM384.35 840.7h2.31v88h-2.31zM388.27 840.7h2.31v88h-2.31zM478.42 928.7h2.31v88h-2.31zM15.88 1016.7h2.31v88.3h-2.31zM51.16 1016.7h2.31v88.3h-2.31zM127.6 1016.7h2.31v88.3h-2.31zM149.15 1016.7h2.31v88.3h-2.31zM156.99 1016.7h2.31v88.3h-2.31zM168.75 1016.7h2.31v88.3h-2.31zM225.59 1016.7h2.31v88.3h-2.31zM296.15 1016.7h2.31v88.3h-2.31zM331.43 1016.7h2.31v88.3h-2.31z"/>
<path fill="#FF7272" d="M17.84 752.6h2.31v88.1h-2.31zM27.64 752.6h2.31v88.1h-2.31zM39.4 752.6h2.31v88.1h-2.31zM51.16 752.6h2.31v88.1h-2.31zM92.32 752.6h2.31v88.1h-2.31zM96.24 752.6h2.31v88.1h-2.31zM100.16 752.6h2.31v88.1h-2.31zM135.44 752.6h2.31v88.1h-2.31zM176.59 752.6h2.31v88.1h-2.31zM196.19 752.6h2.31v88.1h-2.31zM249.11 752.6h2.31v88.1h-2.31zM253.03 752.6h2.31v88.1h-2.31zM347.11 752.6h2.31v88.1h-2.31zM374.55 752.6h2.31v88.1h-2.31zM11.96 840.7h2.31v88h-2.31zM39.4 840.7h2.31v88h-2.31zM92.32 840.7h2.31v88h-2.31zM109.96 840.7h2.31v88h-2.31zM117.8 840.7h2.31v88h-2.31zM170.71 840.7h2.31v88h-2.31zM207.95 840.7h2.31v88h-2.31zM227.55 840.7h2.31v88h-2.31zM260.87 840.7h2.31v88h-2.31zM274.59 840.7h2.31v88h-2.31zM286.35 840.7h2.31v88h-2.31zM331.43 840.7h2.31v88h-2.31zM423.54 928.7h2.31v88h-2.31zM480.38 928.7h2.31v88h-2.31zM490.18 928.7h2.31v88h-2.31zM10 1016.7h2.31v88.3h-2.31zM25.68 1016.7h2.31v88.3h-2.31zM29.6 1016.7h2.31v88.3h-2.31zM47.24 1016.7h2.31v88.3h-2.31zM94.28 1016.7h2.31v88.3h-2.31zM96.24 1016.7h2.31v88.3h-2.31zM104.08 1016.7h2.31v88.3h-2.31zM106.04 1016.7h2.31v88.3h-2.31zM109.96 1016.7h2.31v88.3h-2.31zM125.64 1016.7h2.31v88.3h-2.31zM135.44 1016.7h2.31v88.3h-2.31zM166.79 1016.7h2.31v88.3h-2.31zM180.51 1016.7h2.31v88.3h-2.31zM188.35 1016.7h2.31v88.3h-2.31zM221.67 1016.7h2.31v88.3h-2.31zM239.31 1016.7h2.31v88.3h-2.31zM258.91 1016.7h2.31v88.3h-2.31zM286.35 1016.7h2.31v88.3h-2.31zM298.11 1016.7h2.31v88.3h-2.31zM343.19 1016.7h2.31v88.3h-2.31z"/>
<path fill="#FF1515" d="M19.8 752.6h2.31v88.1h-2.31zM41.36 752.6h2.31v88.1h-2.31zM156.99 752.6h2.31v88.1h-2.31zM186.39 752.6h2.31v88.1h-2.31zM188.35 752.6h2.31v88.1h-2.31zM219.71 752.6h2.31v88.1h-2.31zM221.67 752.6h2.31v88.1h-2.31zM223.63 752.6h2.31v88.1h-2.31zM233.43 752.6h2.31v88.1h-2.31zM247.15 752.6h2.31v88.1h-2.31zM256.95 752.6h2.31v88.1h-2.31zM290.27 752.6h2.31v88.1h-2.31zM10 840.7h2.31v88h-2.31zM31.56 840.7h2.31v88h-2.31zM37.44 840.7h2.31v88h-2.31zM45.28 840.7h2.31v88h-2.31zM49.2 840.7h2.31v88h-2.31zM76.64 840.7h2.31v88h-2.31zM135.44 840.7h2.31v88h-2.31zM311.83 840.7h2.31v88h-2.31zM513.7 928.7h2.31v88h-2.31zM31.56 1016.7h2.31v88.3h-2.31zM49.2 1016.7h2.31v88.3h-2.31zM123.68 1016.7h2.31v88.3h-2.31zM143.27 1016.7h2.31v88.3h-2.31zM170.71 1016.7h2.31v88.3h-2.31zM178.55 1016.7h2.31v88.3h-2.31zM213.83 1016.7h2.31v88.3h-2.31zM215.79 1016.7h2.31v88.3h-2.31z"/>
<path fill="#FF0000" d="M21.76 752.6h2.31v88.1h-2.31zM515.66 928.7h2.31v88h-2.31zM527.42 928.7h2.31v88h-2.31zM529.38 928.7h2.31v88h-2.31zM231.47 1016.7h2.31v88.3h-2.31z"/>
<path fill="#FFB1B1" d="M23.72 752.6h2.31v88.1h-2.31zM66.84 752.6h2.31v88.1h-2.31zM121.72 752.6h2.31v88.1h-2.31zM125.64 752.6h2.31v88.1h-2.31zM129.56 752.6h2.31v88.1h-2.31zM137.4 752.6h2.31v88.1h-2.31zM145.23 752.6h2.31v88.1h-2.31zM153.07 752.6h2.31v88.1h-2.31zM164.83 752.6h2.31v88.1h-2.31zM182.47 752.6h2.31v88.1h-2.31zM200.11 752.6h2.31v88.1h-2.31zM204.03 752.6h2.31v88.1h-2.31zM207.95 752.6h2.31v88.1h-2.31zM211.87 752.6h2.31v88.1h-2.31zM215.79 752.6h2.31v88.1h-2.31zM235.39 752.6h2.31v88.1h-2.31zM268.71 752.6h2.31v88.1h-2.31zM274.59 752.6h2.31v88.1h-2.31zM309.87 752.6h2.31v88.1h-2.31zM333.39 752.6h2.31v88.1h-2.31zM390.23 752.6h2.31v88.1h-2.31zM401.99 752.6h2.31v88.1h-2.31zM421.58 752.6h2.31v88.1h-2.31zM51.16 840.7h2.31v88h-2.31zM53.12 840.7h2.31v88h-2.31zM64.88 840.7h2.31v88h-2.31zM66.84 840.7h2.31v88h-2.31zM74.68 840.7h2.31v88h-2.31zM84.48 840.7h2.31v88h-2.31zM100.16 840.7h2.31v88h-2.31zM108 840.7h2.31v88h-2.31zM113.88 840.7h2.31v88h-2.31zM127.6 840.7h2.31v88h-2.31zM139.36 840.7h2.31v88h-2.31zM143.27 840.7h2.31v88h-2.31zM158.95 840.7h2.31v88h-2.31zM180.51 840.7h2.31v88h-2.31zM205.99 840.7h2.31v88h-2.31zM213.83 840.7h2.31v88h-2.31zM219.71 840.7h2.31v88h-2.31zM233.43 840.7h2.31v88h-2.31zM237.35 840.7h2.31v88h-2.31zM243.23 840.7h2.31v88h-2.31zM284.39 840.7h2.31v88h-2.31zM333.39 840.7h2.31v88h-2.31zM352.99 840.7h2.31v88h-2.31zM482.34 840.7h2.31v88h-2.31zM298.11 928.7h2.31v88h-2.31zM323.59 928.7h2.31v88h-2.31zM337.31 928.7h2.31v88h-2.31zM339.27 928.7h2.31v88h-2.31zM343.19 928.7h2.31v88h-2.31zM356.91 928.7h2.31v88h-2.31zM370.63 928.7h2.31v88h-2.31zM378.47 928.7h2.31v88h-2.31zM384.35 928.7h2.31v88h-2.31zM433.34 928.7h2.31v88h-2.31zM435.3 928.7h2.31v88h-2.31zM437.26 928.7h2.31v88h-2.31zM439.22 928.7h2.31v88h-2.31zM443.14 928.7h2.31v88h-2.31zM447.06 928.7h2.31v88h-2.31zM454.9 928.7h2.31v88h-2.31zM456.86 928.7h2.31v88h-2.31zM474.5 928.7h2.31v88h-2.31zM476.46 928.7h2.31v88h-2.31zM488.22 928.7h2.31v88h-2.31zM492.14 928.7h2.31v88h-2.31zM503.9 928.7h2.31v88h-2.31zM511.74 928.7h2.31v88h-2.31zM23.72 1016.7h2.31v88.3h-2.31zM33.52 1016.7h2.31v88.3h-2.31zM35.48 1016.7h2.31v88.3h-2.31zM59 1016.7h2.31v88.3h-2.31zM68.8 1016.7h2.31v88.3h-2.31zM80.56 1016.7h2.31v88.3h-2.31zM88.4 1016.7h2.31v88.3h-2.31zM121.72 1016.7h2.31v88.3h-2.31zM129.56 1016.7h2.31v88.3h-2.31zM137.4 1016.7h2.31v88.3h-2.31zM139.36 1016.7h2.31v88.3h-2.31zM147.19 1016.7h2.31v88.3h-2.31zM158.95 1016.7h2.31v88.3h-2.31zM160.91 1016.7h2.31v88.3h-2.31zM186.39 1016.7h2.31v88.3h-2.31zM194.23 1016.7h2.31v88.3h-2.31zM217.75 1016.7h2.31v88.3h-2.31zM245.19 1016.7h2.31v88.3h-2.31zM249.11 1016.7h2.31v88.3h-2.31zM256.95 1016.7h2.31v88.3h-2.31zM266.75 1016.7h2.31v88.3h-2.31zM288.31 1016.7h2.31v88.3h-2.31zM294.19 1016.7h2.31v88.3h-2.31zM305.95 1016.7h2.31v88.3h-2.31zM321.63 1016.7h2.31v88.3h-2.31zM333.39 1016.7h2.31v88.3h-2.31zM370.63 1016.7h2.31v88.3h-2.31zM384.35 1016.7h2.31v88.3h-2.31z"/>
<path fill="#FF9292" d="M25.68 752.6h2.31v88.1h-2.31zM47.24 752.6h2.31v88.1h-2.31zM94.28 752.6h2.31v88.1h-2.31zM141.31 752.6h2.31v88.1h-2.31zM162.87 752.6h2.31v88.1h-2.31zM166.79 752.6h2.31v88.1h-2.31zM168.75 752.6h2.31v88.1h-2.31zM239.31 752.6h2.31v88.1h-2.31zM241.27 752.6h2.31v88.1h-2.31zM245.19 752.6h2.31v88.1h-2.31zM292.23 752.6h2.31v88.1h-2.31zM296.15 752.6h2.31v88.1h-2.31zM300.07 752.6h2.31v88.1h-2.31zM337.31 752.6h2.31v88.1h-2.31zM368.67 752.6h2.31v88.1h-2.31zM382.39 752.6h2.31v88.1h-2.31zM386.31 752.6h2.31v88.1h-2.31zM13.92 840.7h2.31v88h-2.31zM29.6 840.7h2.31v88h-2.31zM35.48 840.7h2.31v88h-2.31zM41.36 840.7h2.31v88h-2.31zM70.76 840.7h2.31v88h-2.31zM80.56 840.7h2.31v88h-2.31zM104.08 840.7h2.31v88h-2.31zM115.84 840.7h2.31v88h-2.31zM121.72 840.7h2.31v88h-2.31zM123.68 840.7h2.31v88h-2.31zM133.48 840.7h2.31v88h-2.31zM147.19 840.7h2.31v88h-2.31zM153.07 840.7h2.31v88h-2.31zM156.99 840.7h2.31v88h-2.31zM160.91 840.7h2.31v88h-2.31zM162.87 840.7h2.31v88h-2.31zM164.83 840.7h2.31v88h-2.31zM174.63 840.7h2.31v88h-2.31zM186.39 840.7h2.31v88h-2.31zM190.31 840.7h2.31v88h-2.31zM223.63 840.7h2.31v88h-2.31zM294.19 840.7h2.31v88h-2.31zM303.99 840.7h2.31v88h-2.31zM307.91 840.7h2.31v88h-2.31zM372.59 840.7h2.31v88h-2.31zM382.39 840.7h2.31v88h-2.31zM421.58 840.7h2.31v88h-2.31zM458.82 840.7h2.31v88h-2.31zM309.87 928.7h2.31v88h-2.31zM347.11 928.7h2.31v88h-2.31zM431.38 928.7h2.31v88h-2.31zM441.18 928.7h2.31v88h-2.31zM496.06 928.7h2.31v88h-2.31zM505.86 928.7h2.31v88h-2.31zM19.8 1016.7h2.31v88.3h-2.31zM37.44 1016.7h2.31v88.3h-2.31zM39.4 1016.7h2.31v88.3h-2.31zM45.28 1016.7h2.31v88.3h-2.31zM55.08 1016.7h2.31v88.3h-2.31zM60.96 1016.7h2.31v88.3h-2.31zM64.88 1016.7h2.31v88.3h-2.31zM66.84 1016.7h2.31v88.3h-2.31zM74.68 1016.7h2.31v88.3h-2.31zM92.32 1016.7h2.31v88.3h-2.31zM102.12 1016.7h2.31v88.3h-2.31zM115.84 1016.7h2.31v88.3h-2.31zM141.31 1016.7h2.31v88.3h-2.31zM145.23 1016.7h2.31v88.3h-2.31zM155.03 1016.7h2.31v88.3h-2.31zM176.59 1016.7h2.31v88.3h-2.31zM182.47 1016.7h2.31v88.3h-2.31zM192.27 1016.7h2.31v88.3h-2.31zM202.07 1016.7h2.31v88.3h-2.31zM211.87 1016.7h2.31v88.3h-2.31zM237.35 1016.7h2.31v88.3h-2.31zM251.07 1016.7h2.31v88.3h-2.31zM262.83 1016.7h2.31v88.3h-2.31zM270.67 1016.7h2.31v88.3h-2.31zM282.43 1016.7h2.31v88.3h-2.31zM313.79 1016.7h2.31v88.3h-2.31zM317.71 1016.7h2.31v88.3h-2.31zM325.55 1016.7h2.31v88.3h-2.31zM339.27 1016.7h2.31v88.3h-2.31zM407.86 1016.7h2.31v88.3h-2.31zM419.62 1016.7h2.31v88.3h-2.31z"/>
<path fill="#FFD0D0" d="M29.6 752.6h2.31v88.1h-2.31zM70.76 752.6h2.31v88.1h-2.31zM78.6 752.6h2.31v88.1h-2.31zM90.36 752.6h2.31v88.1h-2.31zM147.19 752.6h2.31v88.1h-2.31zM149.15 752.6h2.31v88.1h-2.31zM155.03 752.6h2.31v88.1h-2.31zM160.91 752.6h2.31v88.1h-2.31zM190.31 752.6h2.31v88.1h-2.31zM202.07 752.6h2.31v88.1h-2.31zM237.35 752.6h2.31v88.1h-2.31zM251.07 752.6h2.31v88.1h-2.31zM270.67 752.6h2.31v88.1h-2.31zM276.55 752.6h2.31v88.1h-2.31zM298.11 752.6h2.31v88.1h-2.31zM302.03 752.6h2.31v88.1h-2.31zM311.83 752.6h2.31v88.1h-2.31zM335.35 752.6h2.31v88.1h-2.31zM354.95 752.6h2.31v88.1h-2.31zM358.87 752.6h2.31v88.1h-2.31zM372.59 752.6h2.31v88.1h-2.31zM392.19 752.6h2.31v88.1h-2.31zM417.66 752.6h2.31v88.1h-2.31zM25.68 840.7h2.31v88h-2.31zM72.72 840.7h2.31v88h-2.31zM88.4 840.7h2.31v88h-2.31zM106.04 840.7h2.31v88h-2.31zM137.4 840.7h2.31v88h-2.31zM145.23 840.7h2.31v88h-2.31zM151.11 840.7h2.31v88h-2.31zM155.03 840.7h2.31v88h-2.31zM166.79 840.7h2.31v88h-2.31zM225.59 840.7h2.31v88h-2.31zM229.51 840.7h2.31v88h-2.31zM245.19 840.7h2.31v88h-2.31zM288.31 840.7h2.31v88h-2.31zM300.07 840.7h2.31v88h-2.31zM305.95 840.7h2.31v88h-2.31zM341.23 840.7h2.31v88h-2.31zM356.91 840.7h2.31v88h-2.31zM358.87 840.7h2.31v88h-2.31zM392.19 840.7h2.31v88h-2.31zM409.82 840.7h2.31v88h-2.31zM433.34 840.7h2.31v88h-2.31zM435.3 840.7h2.31v88h-2.31zM11.96 928.7h2.31v88h-2.31zM27.64 928.7h2.31v88h-2.31zM84.48 928.7h2.31v88h-2.31zM172.67 928.7h2.31v88h-2.31zM198.15 928.7h2.31v88h-2.31zM288.31 928.7h2.31v88h-2.31zM302.03 928.7h2.31v88h-2.31zM305.95 928.7h2.31v88h-2.31zM335.35 928.7h2.31v88h-2.31zM362.79 928.7h2.31v88h-2.31zM368.67 928.7h2.31v88h-2.31zM372.59 928.7h2.31v88h-2.31zM376.51 928.7h2.31v88h-2.31zM382.39 928.7h2.31v88h-2.31zM388.27 928.7h2.31v88h-2.31zM392.19 928.7h2.31v88h-2.31zM407.86 928.7h2.31v88h-2.31zM409.82 928.7h2.31v88h-2.31zM411.78 928.7h2.31v88h-2.31zM421.58 928.7h2.31v88h-2.31zM425.5 928.7h2.31v88h-2.31zM466.66 928.7h2.31v88h-2.31zM486.26 928.7h2.31v88h-2.31zM509.78 928.7h2.31v88h-2.31zM70.76 1016.7h2.31v88.3h-2.31zM72.72 1016.7h2.31v88.3h-2.31zM108 1016.7h2.31v88.3h-2.31zM111.92 1016.7h2.31v88.3h-2.31zM119.76 1016.7h2.31v88.3h-2.31zM151.11 1016.7h2.31v88.3h-2.31zM207.95 1016.7h2.31v88.3h-2.31zM223.63 1016.7h2.31v88.3h-2.31zM227.55 1016.7h2.31v88.3h-2.31zM229.51 1016.7h2.31v88.3h-2.31zM235.39 1016.7h2.31v88.3h-2.31zM241.27 1016.7h2.31v88.3h-2.31zM268.71 1016.7h2.31v88.3h-2.31zM302.03 1016.7h2.31v88.3h-2.31zM303.99 1016.7h2.31v88.3h-2.31zM307.91 1016.7h2.31v88.3h-2.31zM356.91 1016.7h2.31v88.3h-2.31zM364.75 1016.7h2.31v88.3h-2.31zM403.94 1016.7h2.31v88.3h-2.31zM450.98 1016.7h2.31v88.3h-2.31zM462.74 1016.7h2.31v88.3h-2.31zM464.7 1016.7h2.31v88.3h-2.31z"/>
<path fill="#FF0000" d="M31.56 752.6h2.31v88.1h-2.31zM84.48 752.6h2.31v88.1h-2.31zM109.96 752.6h2.31v88.1h-2.31zM262.83 752.6h2.31v88.1h-2.31zM249.11 840.7h2.31v88h-2.31zM53.12 1016.7h2.31v88.3h-2.31z"/>
<path fill="#FF0000" d="M33.52 752.6h2.31v88.1h-2.31zM45.28 752.6h2.31v88.1h-2.31zM82.52 752.6h2.31v88.1h-2.31zM27.64 840.7h2.31v88h-2.31zM254.99 1016.7h2.31v88.3h-2.31z"/>
<path fill="#FF0000" d="M37.44 752.6h2.31v88.1h-2.31zM59 752.6h2.31v88.1h-2.31zM127.6 752.6h2.31v88.1h-2.31zM78.6 840.7h2.31v88h-2.31zM313.79 928.7h2.31v88h-2.31zM501.94 928.7h2.31v88h-2.31zM84.48 1016.7h2.31v88.3h-2.31zM98.2 1016.7h2.31v88.3h-2.31zM162.87 1016.7h2.31v88.3h-2.31zM164.83 1016.7h2.31v88.3h-2.31zM204.03 1016.7h2.31v88.3h-2.31z"/>
<path fill="#FF0000" d="M49.2 752.6h2.31v88.1h-2.31zM60.96 752.6h2.31v88.1h-2.31zM260.87 752.6h2.31v88.1h-2.31zM280.47 752.6h2.31v88.1h-2.31z"/>
<path fill="#FFEFEF" d="M57.04 752.6h2.31v88.1h-2.31zM68.8 752.6h2.31v88.1h-2.31zM86.44 752.6h2.31v88.1h-2.31zM98.2 752.6h2.31v88.1h-2.31zM106.04 752.6h2.31v88.1h-2.31zM151.11 752.6h2.31v88.1h-2.31zM158.95 752.6h2.31v88.1h-2.31zM172.67 752.6h2.31v88.1h-2.31zM184.43 752.6h2.31v88.1h-2.31zM194.23 752.6h2.31v88.1h-2.31zM209.91 752.6h2.31v88.1h-2.31zM213.83 752.6h2.31v88.1h-2.31zM217.75 752.6h2.31v88.1h-2.31zM313.79 752.6h2.31v88.1h-2.31zM319.67 752.6h2.31v88.1h-2.31zM327.51 752.6h2.31v88.1h-2.31zM345.15 752.6h2.31v88.1h-2.31zM407.86 752.6h2.31v88.1h-2.31zM452.94 752.6h2.31v88.1h-2.31zM468.62 752.6h2.31v88.1h-2.31zM33.52 840.7h2.31v88h-2.31zM90.36 840.7h2.31v88h-2.31zM98.2 840.7h2.31v88h-2.31zM102.12 840.7h2.31v88h-2.31zM119.76 840.7h2.31v88h-2.31zM125.64 840.7h2.31v88h-2.31zM129.56 840.7h2.31v88h-2.31zM200.11 840.7h2.31v88h-2.31zM202.07 840.7h2.31v88h-2.31zM215.79 840.7h2.31v88h-2.31zM235.39 840.7h2.31v88h-2.31zM241.27 840.7h2.31v88h-2.31zM253.03 840.7h2.31v88h-2.31zM256.95 840.7h2.31v88h-2.31zM266.75 840.7h2.31v88h-2.31zM309.87 840.7h2.31v88h-2.31zM315.75 840.7h2.31v88h-2.31zM317.71 840.7h2.31v88h-2.31zM329.47 840.7h2.31v88h-2.31zM349.07 840.7h2.31v88h-2.31zM351.03 840.7h2.31v88h-2.31zM354.95 840.7h2.31v88h-2.31zM366.71 840.7h2.31v88h-2.31zM394.15 840.7h2.31v88h-2.31zM417.66 840.7h2.31v88h-2.31zM425.5 840.7h2.31v88h-2.31zM17.84 928.7h2.31v88h-2.31zM59 928.7h2.31v88h-2.31zM60.96 928.7h2.31v88h-2.31zM66.84 928.7h2.31v88h-2.31zM72.72 928.7h2.31v88h-2.31zM92.32 928.7h2.31v88h-2.31zM119.76 928.7h2.31v88h-2.31zM125.64 928.7h2.31v88h-2.31zM139.36 928.7h2.31v88h-2.31zM155.03 928.7h2.31v88h-2.31zM176.59 928.7h2.31v88h-2.31zM178.55 928.7h2.31v88h-2.31zM211.87 928.7h2.31v88h-2.31zM231.47 928.7h2.31v88h-2.31zM251.07 928.7h2.31v88h-2.31zM276.55 928.7h2.31v88h-2.31zM290.27 928.7h2.31v88h-2.31zM294.19 928.7h2.31v88h-2.31zM319.67 928.7h2.31v88h-2.31zM329.47 928.7h2.31v88h-2.31zM333.39 928.7h2.31v88h-2.31zM345.15 928.7h2.31v88h-2.31zM352.99 928.7h2.31v88h-2.31zM364.75 928.7h2.31v88h-2.31zM374.55 928.7h2.31v88h-2.31zM394.15 928.7h2.31v88h-2.31zM401.99 928.7h2.31v88h-2.31zM405.9 928.7h2.31v88h-2.31zM413.74 928.7h2.31v88h-2.31zM417.66 928.7h2.31v88h-2.31zM427.46 928.7h2.31v88h-2.31zM429.42 928.7h2.31v88h-2.31zM445.1 928.7h2.31v88h-2.31zM449.02 928.7h2.31v88h-2.31zM450.98 928.7h2.31v88h-2.31zM458.82 928.7h2.31v88h-2.31zM464.7 928.7h2.31v88h-2.31zM11.96 1016.7h2.31v88.3h-2.31zM184.43 1016.7h2.31v88.3h-2.31zM198.15 1016.7h2.31v88.3h-2.31zM205.99 1016.7h2.31v88.3h-2.31zM233.43 1016.7h2.31v88.3h-2.31zM272.63 1016.7h2.31v88.3h-2.31zM278.51 1016.7h2.31v88.3h-2.31zM368.67 1016.7h2.31v88.3h-2.31zM394.15 1016.7h2.31v88.3h-2.31zM411.78 1016.7h2.31v88.3h-2.31zM474.5 1016.7h2.31v88.3h-2.31z"/>
<path fill="#FF0000" d="M64.88 752.6h2.31v88.1h-2.31zM72.72 752.6h2.31v88.1h-2.31zM76.64 752.6h2.31v88.1h-2.31zM19.8 840.7h2.31v88h-2.31zM59 840.7h2.31v88h-2.31zM82.52 840.7h2.31v88h-2.31zM86.44 840.7h2.31v88h-2.31zM111.92 840.7h2.31v88h-2.31zM247.15 840.7h2.31v88h-2.31zM41.36 1016.7h2.31v88.3h-2.31zM90.36 1016.7h2.31v88.3h-2.31zM174.63 1016.7h2.31v88.3h-2.31zM280.47 1016.7h2.31v88.3h-2.31z"/>
<path fill="#EFFFEF" d="M80.56 752.6h2.31v88.1h-2.31zM88.4 752.6h2.31v88.1h-2.31zM104.08 752.6h2.31v88.1h-2.31zM108 752.6h2.31v88.1h-2.31zM113.88 752.6h2.31v88.1h-2.31zM180.51 752.6h2.31v88.1h-2.31zM258.91 752.6h2.31v88.1h-2.31zM284.39 752.6h2.31v88.1h-2.31zM294.19 752.6h2.31v88.1h-2.31zM307.91 752.6h2.31v88.1h-2.31zM315.75 752.6h2.31v88.1h-2.31zM329.47 752.6h2.31v88.1h-2.31zM351.03 752.6h2.31v88.1h-2.31zM356.91 752.6h2.31v88.1h-2.31zM384.35 752.6h2.31v88.1h-2.31zM405.9 752.6h2.31v88.1h-2.31zM411.78 752.6h2.31v88.1h-2.31zM427.46 752.6h2.31v88.1h-2.31zM433.34 752.6h2.31v88.1h-2.31zM439.22 752.6h2.31v88.1h-2.31zM96.24 840.7h2.31v88h-2.31zM131.52 840.7h2.31v88h-2.31zM141.31 840.7h2.31v88h-2.31zM172.67 840.7h2.31v88h-2.31zM184.43 840.7h2.31v88h-2.31zM188.35 840.7h2.31v88h-2.31zM192.27 840.7h2.31v88h-2.31zM209.91 840.7h2.31v88h-2.31zM221.67 840.7h2.31v88h-2.31zM254.99 840.7h2.31v88h-2.31zM272.63 840.7h2.31v88h-2.31zM276.55 840.7h2.31v88h-2.31zM290.27 840.7h2.31v88h-2.31zM360.83 840.7h2.31v88h-2.31zM390.23 840.7h2.31v88h-2.31zM478.42 840.7h2.31v88h-2.31zM13.92 928.7h2.31v88h-2.31zM15.88 928.7h2.31v88h-2.31zM19.8 928.7h2.31v88h-2.31zM47.24 928.7h2.31v88h-2.31zM53.12 928.7h2.31v88h-2.31zM80.56 928.7h2.31v88h-2.31zM102.12 928.7h2.31v88h-2.31zM109.96 928.7h2.31v88h-2.31zM123.68 928.7h2.31v88h-2.31zM129.56 928.7h2.31v88h-2.31zM141.31 928.7h2.31v88h-2.31zM143.27 928.7h2.31v88h-2.31zM156.99 928.7h2.31v88h-2.31zM186.39 928.7h2.31v88h-2.31zM196.19 928.7h2.31v88h-2.31zM217.75 928.7h2.31v88h-2.31zM237.35 928.7h2.31v88h-2.31zM254.99 928.7h2.31v88h-2.31zM262.83 928.7h2.31v88h-2.31zM280.47 928.7h2.31v88h-2.31zM282.43 928.7h2.31v88h-2.31zM292.23 928.7h2.31v88h-2.31zM307.91 928.7h2.31v88h-2.31zM311.83 928.7h2.31v88h-2.31zM351.03 928.7h2.31v88h-2.31zM354.95 928.7h2.31v88h-2.31zM386.31 928.7h2.31v88h-2.31zM390.23 928.7h2.31v88h-2.31zM398.07 928.7h2.31v88h-2.31zM403.94 928.7h2.31v88h-2.31zM462.74 928.7h2.31v88h-2.31zM482.34 928.7h2.31v88h-2.31zM499.98 928.7h2.31v88h-2.31zM78.6 1016.7h2.31v88.3h-2.31zM100.16 1016.7h2.31v88.3h-2.31zM117.8 1016.7h2.31v88.3h-2.31zM260.87 1016.7h2.31v88.3h-2.31zM264.79 1016.7h2.31v88.3h-2.31zM290.27 1016.7h2.31v88.3h-2.31zM315.75 1016.7h2.31v88.3h-2.31zM327.51 1016.7h2.31v88.3h-2.31zM329.47 1016.7h2.31v88.3h-2.31zM360.83 1016.7h2.31v88.3h-2.31zM380.43 1016.7h2.31v88.3h-2.31zM396.11 1016.7h2.31v88.3h-2.31zM400.03 1016.7h2.31v88.3h-2.31zM409.82 1016.7h2.31v88.3h-2.31zM413.74 1016.7h2.31v88.3h-2.31zM421.58 1016.7h2.31v88.3h-2.31zM429.42 1016.7h2.31v88.3h-2.31zM517.62 1016.7h2.31v88.3h-2.31z"/>
<path fill="#92FF92" d="M102.12 752.6h2.31v88.1h-2.31zM323.59 752.6h2.31v88.1h-2.31zM325.55 752.6h2.31v88.1h-2.31zM352.99 752.6h2.31v88.1h-2.31zM362.79 752.6h2.31v88.1h-2.31zM396.11 752.6h2.31v88.1h-2.31zM419.62 752.6h2.31v88.1h-2.31zM431.38 752.6h2.31v88.1h-2.31zM454.9 752.6h2.31v88.1h-2.31zM456.86 752.6h2.31v88.1h-2.31zM460.78 752.6h2.31v88.1h-2.31zM196.19 840.7h2.31v88h-2.31zM198.15 840.7h2.31v88h-2.31zM270.67 840.7h2.31v88h-2.31zM280.47 840.7h2.31v88h-2.31zM319.67 840.7h2.31v88h-2.31zM327.51 840.7h2.31v88h-2.31zM337.31 840.7h2.31v88h-2.31zM343.19 840.7h2.31v88h-2.31zM376.51 840.7h2.31v88h-2.31zM419.62 840.7h2.31v88h-2.31zM429.42 840.7h2.31v88h-2.31zM441.18 840.7h2.31v88h-2.31zM454.9 840.7h2.31v88h-2.31zM460.78 840.7h2.31v88h-2.31zM468.62 840.7h2.31v88h-2.31zM480.38 840.7h2.31v88h-2.31zM498.02 840.7h2.31v88h-2.31zM21.76 928.7h2.31v88h-2.31zM35.48 928.7h2.31v88h-2.31zM49.2 928.7h2.31v88h-2.31zM57.04 928.7h2.31v88h-2.31zM62.92 928.7h2.31v88h-2.31zM82.52 928.7h2.31v88h-2.31zM86.44 928.7h2.31v88h-2.31zM90.36 928.7h2.31v88h-2.31zM111.92 928.7h2.31v88h-2.31zM162.87 928.7h2.31v88h-2.31zM168.75 928.7h2.31v88h-2.31zM202.07 928.7h2.31v88h-2.31zM205.99 928.7h2.31v88h-2.31zM209.91 928.7h2.31v88h-2.31zM225.59 928.7h2.31v88h-2.31zM233.43 928.7h2.31v88h-2.31zM241.27 928.7h2.31v88h-2.31zM243.23 928.7h2.31v88h-2.31zM245.19 928.7h2.31v88h-2.31zM266.75 928.7h2.31v88h-2.31zM284.39 928.7h2.31v88h-2.31zM296.15 928.7h2.31v88h-2.31zM303.99 928.7h2.31v88h-2.31zM315.75 928.7h2.31v88h-2.31zM352.99 1016.7h2.31v88.3h-2.31zM376.51 1016.7h2.31v88.3h-2.31zM390.23 1016.7h2.31v88.3h-2.31zM417.66 1016.7h2.31v88.3h-2.31zM443.14 1016.7h2.31v88.3h-2.31zM492.14 1016.7h2.31v88.3h-2.31zM499.98 1016.7h2.31v88.3h-2.31zM501.94 1016.7h2.31v88.3h-2.31zM521.54 1016.7h2.31v88.3h-2.31z"/>
<path fill="#D0FFD0" d="M117.8 752.6h2.31v88.1h-2.31zM143.27 752.6h2.31v88.1h-2.31zM174.63 752.6h2.31v88.1h-2.31zM198.15 752.6h2.31v88.1h-2.31zM231.47 752.6h2.31v88.1h-2.31zM254.99 752.6h2.31v88.1h-2.31zM272.63 752.6h2.31v88.1h-2.31zM278.51 752.6h2.31v88.1h-2.31zM303.99 752.6h2.31v88.1h-2.31zM339.27 752.6h2.31v88.1h-2.31zM360.83 752.6h2.31v88.1h-2.31zM366.71 752.6h2.31v88.1h-2.31zM378.47 752.6h2.31v88.1h-2.31zM398.07 752.6h2.31v88.1h-2.31zM409.82 752.6h2.31v88.1h-2.31zM423.54 752.6h2.31v88.1h-2.31zM441.18 752.6h2.31v88.1h-2.31zM449.02 752.6h2.31v88.1h-2.31zM466.66 752.6h2.31v88.1h-2.31zM470.58 752.6h2.31v88.1h-2.31zM204.03 840.7h2.31v88h-2.31zM268.71 840.7h2.31v88h-2.31zM278.51 840.7h2.31v88h-2.31zM298.11 840.7h2.31v88h-2.31zM374.55 840.7h2.31v88h-2.31zM378.47 840.7h2.31v88h-2.31zM401.99 840.7h2.31v88h-2.31zM405.9 840.7h2.31v88h-2.31zM411.78 840.7h2.31v88h-2.31zM423.54 840.7h2.31v88h-2.31zM437.26 840.7h2.31v88h-2.31zM439.22 840.7h2.31v88h-2.31zM443.14 840.7h2.31v88h-2.31zM445.1 840.7h2.31v88h-2.31zM501.94 840.7h2.31v88h-2.31zM10 928.7h2.31v88h-2.31zM31.56 928.7h2.31v88h-2.31zM70.76 928.7h2.31v88h-2.31zM94.28 928.7h2.31v88h-2.31zM100.16 928.7h2.31v88h-2.31zM108 928.7h2.31v88h-2.31zM113.88 928.7h2.31v88h-2.31zM117.8 928.7h2.31v88h-2.31zM133.48 928.7h2.31v88h-2.31zM137.4 928.7h2.31v88h-2.31zM151.11 928.7h2.31v88h-2.31zM153.07 928.7h2.31v88h-2.31zM164.83 928.7h2.31v88h-2.31zM166.79 928.7h2.31v88h-2.31zM170.71 928.7h2.31v88h-2.31zM174.63 928.7h2.31v88h-2.31zM188.35 928.7h2.31v88h-2.31zM190.31 928.7h2.31v88h-2.31zM194.23 928.7h2.31v88h-2.31zM215.79 928.7h2.31v88h-2.31zM221.67 928.7h2.31v88h-2.31zM235.39 928.7h2.31v88h-2.31zM247.15 928.7h2.31v88h-2.31zM249.11 928.7h2.31v88h-2.31zM270.67 928.7h2.31v88h-2.31zM272.63 928.7h2.31v88h-2.31zM278.51 928.7h2.31v88h-2.31zM286.35 928.7h2.31v88h-2.31zM317.71 928.7h2.31v88h-2.31zM321.63 928.7h2.31v88h-2.31zM325.55 928.7h2.31v88h-2.31zM327.51 928.7h2.31v88h-2.31zM341.23 928.7h2.31v88h-2.31zM349.07 928.7h2.31v88h-2.31zM358.87 928.7h2.31v88h-2.31zM360.83 928.7h2.31v88h-2.31zM366.71 928.7h2.31v88h-2.31zM380.43 928.7h2.31v88h-2.31zM400.03 928.7h2.31v88h-2.31zM452.94 928.7h2.31v88h-2.31zM494.1 928.7h2.31v88h-2.31zM133.48 1016.7h2.31v88.3h-2.31zM209.91 1016.7h2.31v88.3h-2.31zM274.59 1016.7h2.31v88.3h-2.31zM300.07 1016.7h2.31v88.3h-2.31zM309.87 1016.7h2.31v88.3h-2.31zM349.07 1016.7h2.31v88.3h-2.31zM351.03 1016.7h2.31v88.3h-2.31zM354.95 1016.7h2.31v88.3h-2.31zM362.79 1016.7h2.31v88.3h-2.31zM378.47 1016.7h2.31v88.3h-2.31zM382.39 1016.7h2.31v88.3h-2.31zM401.99 1016.7h2.31v88.3h-2.31zM425.5 1016.7h2.31v88.3h-2.31zM433.34 1016.7h2.31v88.3h-2.31zM482.34 1016.7h2.31v88.3h-2.31zM515.66 1016.7h2.31v88.3h-2.31z"/>
<path fill="#72FF72" d="M131.52 752.6h2.31v88.1h-2.31zM243.23 752.6h2.31v88.1h-2.31zM343.19 752.6h2.31v88.1h-2.31zM370.63 752.6h2.31v88.1h-2.31zM413.74 752.6h2.31v88.1h-2.31zM450.98 752.6h2.31v88.1h-2.31zM484.3 752.6h2.31v88.1h-2.31zM251.07 840.7h2.31v88h-2.31zM323.59 840.7h2.31v88h-2.31zM364.75 840.7h2.31v88h-2.31zM370.63 840.7h2.31v88h-2.31zM396.11 840.7h2.31v88h-2.31zM488.22 840.7h2.31v88h-2.31zM25.68 928.7h2.31v88h-2.31zM51.16 928.7h2.31v88h-2.31zM192.27 928.7h2.31v88h-2.31zM213.83 928.7h2.31v88h-2.31zM268.71 928.7h2.31v88h-2.31zM284.39 1016.7h2.31v88.3h-2.31zM372.59 1016.7h2.31v88.3h-2.31zM445.1 1016.7h2.31v88.3h-2.31zM468.62 1016.7h2.31v88.3h-2.31zM480.38 1016.7h2.31v88.3h-2.31zM488.22 1016.7h2.31v88.3h-2.31zM523.5 1016.7h2.31v88.3h-2.31z"/>
<path fill="#B1FFB1" d="M139.36 752.6h2.31v88.1h-2.31zM205.99 752.6h2.31v88.1h-2.31zM227.55 752.6h2.31v88.1h-2.31zM229.51 752.6h2.31v88.1h-2.31zM282.43 752.6h2.31v88.1h-2.31zM321.63 752.6h2.31v88.1h-2.31zM364.75 752.6h2.31v88.1h-2.31zM400.03 752.6h2.31v88.1h-2.31zM425.5 752.6h2.31v88.1h-2.31zM447.06 752.6h2.31v88.1h-2.31zM60.96 840.7h2.31v88h-2.31zM178.55 840.7h2.31v88h-2.31zM258.91 840.7h2.31v88h-2.31zM264.79 840.7h2.31v88h-2.31zM282.43 840.7h2.31v88h-2.31zM296.15 840.7h2.31v88h-2.31zM313.79 840.7h2.31v88h-2.31zM321.63 840.7h2.31v88h-2.31zM368.67 840.7h2.31v88h-2.31zM380.43 840.7h2.31v88h-2.31zM398.07 840.7h2.31v88h-2.31zM403.94 840.7h2.31v88h-2.31zM427.46 840.7h2.31v88h-2.31zM472.54 840.7h2.31v88h-2.31zM484.3 840.7h2.31v88h-2.31zM486.26 840.7h2.31v88h-2.31zM490.18 840.7h2.31v88h-2.31zM496.06 840.7h2.31v88h-2.31zM499.98 840.7h2.31v88h-2.31zM29.6 928.7h2.31v88h-2.31zM33.52 928.7h2.31v88h-2.31zM39.4 928.7h2.31v88h-2.31zM43.32 928.7h2.31v88h-2.31zM45.28 928.7h2.31v88h-2.31zM55.08 928.7h2.31v88h-2.31zM68.8 928.7h2.31v88h-2.31zM74.68 928.7h2.31v88h-2.31zM96.24 928.7h2.31v88h-2.31zM98.2 928.7h2.31v88h-2.31zM127.6 928.7h2.31v88h-2.31zM131.52 928.7h2.31v88h-2.31zM135.44 928.7h2.31v88h-2.31zM145.23 928.7h2.31v88h-2.31zM147.19 928.7h2.31v88h-2.31zM149.15 928.7h2.31v88h-2.31zM160.91 928.7h2.31v88h-2.31zM182.47 928.7h2.31v88h-2.31zM184.43 928.7h2.31v88h-2.31zM200.11 928.7h2.31v88h-2.31zM204.03 928.7h2.31v88h-2.31zM223.63 928.7h2.31v88h-2.31zM239.31 928.7h2.31v88h-2.31zM256.95 928.7h2.31v88h-2.31zM260.87 928.7h2.31v88h-2.31zM331.43 928.7h2.31v88h-2.31zM415.7 928.7h2.31v88h-2.31zM57.04 1016.7h2.31v88.3h-2.31zM190.31 1016.7h2.31v88.3h-2.31zM200.11 1016.7h2.31v88.3h-2.31zM219.71 1016.7h2.31v88.3h-2.31zM247.15 1016.7h2.31v88.3h-2.31zM292.23 1016.7h2.31v88.3h-2.31zM319.67 1016.7h2.31v88.3h-2.31zM323.59 1016.7h2.31v88.3h-2.31zM374.55 1016.7h2.31v88.3h-2.31zM386.31 1016.7h2.31v88.3h-2.31zM392.19 1016.7h2.31v88.3h-2.31zM398.07 1016.7h2.31v88.3h-2.31zM427.46 1016.7h2.31v88.3h-2.31zM472.54 1016.7h2.31v88.3h-2.31zM484.3 1016.7h2.31v88.3h-2.31zM490.18 1016.7h2.31v88.3h-2.31zM513.7 1016.7h2.31v88.3h-2.31z"/>
<path fill="#53FF53" d="M305.95 752.6h2.31v88.1h-2.31zM331.43 752.6h2.31v88.1h-2.31zM380.43 752.6h2.31v88.1h-2.31zM388.27 752.6h2.31v88.1h-2.31zM394.15 752.6h2.31v88.1h-2.31zM403.94 752.6h2.31v88.1h-2.31zM239.31 840.7h2.31v88h-2.31zM292.23 840.7h2.31v88h-2.31zM302.03 840.7h2.31v88h-2.31zM339.27 840.7h2.31v88h-2.31zM347.11 840.7h2.31v88h-2.31zM407.86 840.7h2.31v88h-2.31zM415.7 840.7h2.31v88h-2.31zM464.7 840.7h2.31v88h-2.31zM476.46 840.7h2.31v88h-2.31zM492.14 840.7h2.31v88h-2.31zM494.1 840.7h2.31v88h-2.31zM503.9 840.7h2.31v88h-2.31zM64.88 928.7h2.31v88h-2.31zM76.64 928.7h2.31v88h-2.31zM78.6 928.7h2.31v88h-2.31zM180.51 928.7h2.31v88h-2.31zM229.51 928.7h2.31v88h-2.31zM274.59 928.7h2.31v88h-2.31zM335.35 1016.7h2.31v88.3h-2.31zM337.31 1016.7h2.31v88.3h-2.31zM347.11 1016.7h2.31v88.3h-2.31zM366.71 1016.7h2.31v88.3h-2.31zM388.27 1016.7h2.31v88.3h-2.31zM405.9 1016.7h2.31v88.3h-2.31zM415.7 1016.7h2.31v88.3h-2.31zM435.3 1016.7h2.31v88.3h-2.31zM437.26 1016.7h2.31v88.3h-2.31zM454.9 1016.7h2.31v88.3h-2.31zM456.86 1016.7h2.31v88.3h-2.31zM476.46 1016.7h2.31v88.3h-2.31zM494.1 1016.7h2.31v88.3h-2.31zM505.86 1016.7h2.31v88.3h-2.31zM527.42 1016.7h2.31v88.3h-2.31z"/>
<path fill="#34FF34" d="M341.23 752.6h2.31v88.1h-2.31zM349.07 752.6h2.31v88.1h-2.31zM376.51 752.6h2.31v88.1h-2.31zM415.7 752.6h2.31v88.1h-2.31zM429.42 752.6h2.31v88.1h-2.31zM443.14 752.6h2.31v88.1h-2.31zM464.7 752.6h2.31v88.1h-2.31zM480.38 752.6h2.31v88.1h-2.31zM452.94 840.7h2.31v88h-2.31zM456.86 840.7h2.31v88h-2.31zM474.5 840.7h2.31v88h-2.31zM258.91 928.7h2.31v88h-2.31zM264.79 928.7h2.31v88h-2.31zM345.15 1016.7h2.31v88.3h-2.31zM431.38 1016.7h2.31v88.3h-2.31zM486.26 1016.7h2.31v88.3h-2.31zM498.02 1016.7h2.31v88.3h-2.31zM503.9 1016.7h2.31v88.3h-2.31zM531.34 1016.7h1.96v88.3h-1.96z"/>
<path fill="#00FF00" d="M435.3 752.6h2.31v88.1h-2.31zM445.1 752.6h2.31v88.1h-2.31zM482.34 752.6h2.31v88.1h-2.31zM462.74 840.7h2.31v88h-2.31zM466.66 840.7h2.31v88h-2.31zM115.84 928.7h2.31v88h-2.31zM358.87 1016.7h2.31v88.3h-2.31zM458.82 1016.7h2.31v88.3h-2.31zM460.78 1016.7h2.31v88.3h-2.31zM509.78 1016.7h2.31v88.3h-2.31zM519.58 1016.7h2.31v88.3h-2.31z"/>
<path fill="#15FF15" d="M437.26 752.6h2.31v88.1h-2.31zM462.74 752.6h2.31v88.1h-2.31zM492.14 752.6h2.31v88.1h-2.31zM362.79 840.7h2.31v88h-2.31zM431.38 840.7h2.31v88h-2.31zM253.03 928.7h2.31v88h-2.31zM439.22 1016.7h2.31v88.3h-2.31zM507.82 1016.7h2.31v88.3h-2.31zM529.38 1016.7h2.31v88.3h-2.31z"/>
<path fill="#00FF00" d="M458.82 752.6h2.31v88.1h-2.31zM490.18 752.6h2.31v88.1h-2.31zM494.1 752.6h2.31v88.1h-2.31zM505.86 752.6h2.31v88.1h-2.31zM517.62 752.6h2.31v88.1h-2.31zM523.5 752.6h2.31v88.1h-2.31zM521.54 840.7h2.31v88h-2.31zM531.34 840.7h1.96v88h-1.96z"/>
<path fill="#00FF00" d="M472.54 752.6h2.31v88.1h-2.31zM498.02 752.6h2.31v88.1h-2.31zM325.55 840.7h2.31v88h-2.31zM88.4 928.7h2.31v88h-2.31zM104.08 928.7h2.31v88h-2.31zM106.04 928.7h2.31v88h-2.31zM158.95 928.7h2.31v88h-2.31zM207.95 928.7h2.31v88h-2.31zM311.83 1016.7h2.31v88.3h-2.31zM341.23 1016.7h2.31v88.3h-2.31zM447.06 1016.7h2.31v88.3h-2.31zM470.58 1016.7h2.31v88.3h-2.31zM496.06 1016.7h2.31v88.3h-2.31z"/>
<path fill="#00FF00" d="M474.5 752.6h2.31v88.1h-2.31zM503.9 752.6h2.31v88.1h-2.31zM386.31 840.7h2.31v88h-2.31zM449.02 840.7h2.31v88h-2.31zM219.71 928.7h2.31v88h-2.31zM441.18 1016.7h2.31v88.3h-2.31zM452.94 1016.7h2.31v88.3h-2.31zM466.66 1016.7h2.31v88.3h-2.31zM511.74 1016.7h2.31v88.3h-2.31z"/>
<path fill="#00FF00" d="M476.46 752.6h2.31v88.1h-2.31zM501.94 752.6h2.31v88.1h-2.31zM413.74 840.7h2.31v88h-2.31zM450.98 840.7h2.31v88h-2.31z"/>
<path fill="#00FF00" d="M478.42 752.6h2.31v88.1h-2.31zM496.06 752.6h2.31v88.1h-2.31zM345.15 840.7h2.31v88h-2.31zM41.36 928.7h2.31v88h-2.31zM227.55 928.7h2.31v88h-2.31zM525.46 1016.7h2.31v88.3h-2.31z"/>
<path fill="#00FF00" d="M486.26 752.6h2.31v88.1h-2.31zM499.98 752.6h2.31v88.1h-2.31zM507.82 752.6h2.31v88.1h-2.31zM515.66 752.6h2.31v88.1h-2.31zM507.82 840.7h2.31v88h-2.31z"/>
<path fill="#00FF00" d="M488.22 752.6h2.31v88.1h-2.31zM470.58 840.7h2.31v88h-2.31zM505.86 840.7h2.31v88h-2.31zM509.78 840.7h2.31v88h-2.31zM515.66 840.7h2.31v88h-2.31zM525.46 840.7h2.31v88h-2.31zM23.72 928.7h2.31v88h-2.31zM37.44 928.7h2.31v88h-2.31zM121.72 928.7h2.31v88h-2.31zM449.02 1016.7h2.31v88.3h-2.31z"/>
<path fill="#00FF00" d="M509.78 752.6h2.31v88.1h-2.31zM511.74 752.6h2.31v88.1h-2.31zM521.54 752.6h2.31v88.1h-2.31z"/>
<path fill="#00FF00" d="M513.7 752.6h2.31v88.1h-2.31zM525.46 752.6h2.31v88.1h-2.31zM400.03 840.7h2.31v88h-2.31zM447.06 840.7h2.31v88h-2.31zM517.62 840.7h2.31v88h-2.31z"/>
<path fill="#00FF00" d="M519.58 752.6h2.31v88.1h-2.31zM527.42 752.6h2.31v88.1h-2.31zM531.34 752.6h1.96v88.1h-1.96zM513.7 840.7h2.31v88h-2.31zM519.58 840.7h2.31v88h-2.31zM523.5 840.7h2.31v88h-2.31zM529.38 840.7h2.31v88h-2.31zM478.42 1016.7h2.31v88.3h-2.31z"/>
<path fill="#00FF00" d="M529.38 752.6h2.31v88.1h-2.31zM527.42 840.7h2.31v88h-2.31z"/>
<path fill="#FF0000" d="M23.72 840.7h2.31v88h-2.31zM62.92 840.7h2.31v88h-2.31z"/>
<path fill="#FF0000" d="M149.15 840.7h2.31v88h-2.31zM131.52 1016.7h2.31v88.3h-2.31z"/>
<path fill="#00FF00" d="M511.74 840.7h2.31v88h-2.31z"/>
<path fill="#FF0000" d="M517.62 928.7h2.31v88h-2.31z"/>
<path fill="#FF0000" d="M519.58 928.7h2.31v88h-2.31zM523.5 928.7h2.31v88h-2.31zM525.46 928.7h2.31v88h-2.31z"/>
<path fill="#FF0000" d="M521.54 928.7h2.31v88h-2.31zM531.34 928.7h1.96v88h-1.96z"/>
<rect x="10" y="739.2" width="262.63" height="9.1" fill="#FA8A82"/>
<rect x="272.63" y="739.2" width="260.67" height="9.1" fill="#00D7DF"/>
<text x="537" y="746.9" font-size="9.5" font-weight="bold">type</text>
<text x="537" y="800.35" font-size="10.4">ITGA6</text>
<text x="537" y="888.4" font-size="10.4">AR</text>
<text x="537" y="976.4" font-size="10.4">PLK1</text>
<text x="537" y="1064.55" font-size="10.4">IRF6</text>
<rect x="575.1" y="737.7" width="12.4" height="4.76" fill="#FF0000"/>
<rect x="575.1" y="741.66" width="12.4" height="4.76" fill="#FF0000"/>
<rect x="575.1" y="745.63" width="12.4" height="4.76" fill="#FF0000"/>
<rect x="575.1" y="749.59" width="12.4" height="4.76" fill="#FF0000"/>
<rect x="575.1" y="753.56" width="12.4" height="4.76" fill="#FF0000"/>
<rect x="575.1" y="757.52" width="12.4" height="4.76" fill="#FF0000"/>
<rect x="575.1" y="761.48" width="12.4" height="4.76" fill="#FF0000"/>
<rect x="575.1" y="765.45" width="12.4" height="4.76" fill="#FF0000"/>
<rect x="575.1" y="769.41" width="12.4" height="4.76" fill="#FF0000"/>
<rect x="575.1" y="773.38" width="12.4" height="4.76" fill="#FF0000"/>
<rect x="575.1" y="777.34" width="12.4" height="4.76" fill="#FF0000"/>
<rect x="575.1" y="781.3" width="12.4" height="4.76" fill="#FF0000"/>
<rect x="575.1" y="785.27" width="12.4" height="4.76" fill="#FF0000"/>
<rect x="575.1" y="789.23" width="12.4" height="4.76" fill="#FF0000"/>
<rect x="575.1" y="793.2" width="12.4" height="4.76" fill="#FF0000"/>
<rect x="575.1" y="797.16" width="12.4" height="4.76" fill="#FF0000"/>
<rect x="575.1" y="801.12" width="12.4" height="4.76" fill="#FF0000"/>
<rect x="575.1" y="805.09" width="12.4" height="4.76" fill="#FF1515"/>
<rect x="575.1" y="809.05" width="12.4" height="4.76" fill="#FF3434"/>
<rect x="575.1" y="813.02" width="12.4" height="4.76" fill="#FF5353"/>
<rect x="575.1" y="816.98" width="12.4" height="4.76" fill="#FF7272"/>
<rect x="575.1" y="820.94" width="12.4" height="4.76" fill="#FF9292"/>
<rect x="575.1" y="824.91" width="12.4" height="4.76" fill="#FFB1B1"/>
<rect x="575.1" y="828.87" width="12.4" height="4.76" fill="#FFD0D0"/>
<rect x="575.1" y="832.84" width="12.4" height="4.76" fill="#FFEFEF"/>
<rect x="575.1" y="836.8" width="12.4" height="4.76" fill="#EFFFEF"/>
<rect x="575.1" y="840.76" width="12.4" height="4.76" fill="#D0FFD0"/>
<rect x="575.1" y="844.73" width="12.4" height="4.76" fill="#B1FFB1"/>
<rect x="575.1" y="848.69" width="12.4" height="4.76" fill="#92FF92"/>
<rect x="575.1" y="852.66" width="12.4" height="4.76" fill="#72FF72"/>
<rect x="575.1" y="856.62" width="12.4" height="4.76" fill="#53FF53"/>
<rect x="575.1" y="860.58" width="12.4" height="4.76" fill="#34FF34"/>
<rect x="575.1" y="864.55" width="12.4" height="4.76" fill="#15FF15"/>
<rect x="575.1" y="868.51" width="12.4" height="4.76" fill="#00FF00"/>
<rect x="575.1" y="872.48" width="12.4" height="4.76" fill="#00FF00"/>
<rect x="575.1" y="876.44" width="12.4" height="4.76" fill="#00FF00"/>
<rect x="575.1" y="880.4" width="12.4" height="4.76" fill="#00FF00"/>
<rect x="575.1" y="884.37" width="12.4" height="4.76" fill="#00FF00"/>
<rect x="575.1" y="888.33" width="12.4" height="4.76" fill="#00FF00"/>
<rect x="575.1" y="892.3" width="12.4" height="4.76" fill="#00FF00"/>
<rect x="575.1" y="896.26" width="12.4" height="4.76" fill="#00FF00"/>
<rect x="575.1" y="900.22" width="12.4" height="4.76" fill="#00FF00"/>
<rect x="575.1" y="904.19" width="12.4" height="4.76" fill="#00FF00"/>
<rect x="575.1" y="908.15" width="12.4" height="4.76" fill="#00FF00"/>
<rect x="575.1" y="912.12" width="12.4" height="4.76" fill="#00FF00"/>
<rect x="575.1" y="916.08" width="12.4" height="4.76" fill="#00FF00"/>
<rect x="575.1" y="920.04" width="12.4" height="4.76" fill="#00FF00"/>
<rect x="575.1" y="924.01" width="12.4" height="4.76" fill="#00FF00"/>
<rect x="575.1" y="927.97" width="12.4" height="4.76" fill="#00FF00"/>
<rect x="575.1" y="931.94" width="12.4" height="3.96" fill="#00FF00"/>
<text x="592.3" y="769.8" font-size="9.5">4</text>
<text x="592.3" y="805.3" font-size="9.5">2</text>
<text x="592.3" y="840.2" font-size="9.5">0</text>
<text x="592.3" y="876.1" font-size="9.5">−2</text>
<text x="592.3" y="911" font-size="9.5">−4</text>
<text x="603.6" y="743.5" font-size="9.5" font-weight="bold">type</text>
<rect x="603.6" y="748.2" width="12.3" height="12.6" fill="#00D7DF"/>
<rect x="603.6" y="760.8" width="12.3" height="13.2" fill="#FA8A82"/>
<text x="618.8" y="757.8" font-size="9.5">high</text>
<text x="618.8" y="770.8" font-size="9.5">low</text>
<path fill="#FF0000" fill-opacity="0.3" d="M128.3 1248.05L132.29 1248.05L132.29 1251.73L140.26 1251.73L140.26 1251.73L150.22 1251.73L150.22 1252.34L153.01 1252.34L153.01 1260.07L164.17 1260.07L164.17 1264L172.15 1264L172.15 1267.68L183.71 1267.68L183.71 1271.36L192.08 1271.36L192.08 1277.49L199.25 1277.49L199.25 1284.85L204.03 1284.85L204.03 1290.74L207.22 1290.74L207.22 1296.63L218.78 1296.63L218.78 1298.47L234.33 1298.47L234.33 1300.55L249.87 1300.55L249.87 1303.87L259.84 1303.87L259.84 1306.53L265.82 1306.53L265.82 1309.59L281.36 1309.59L281.36 1314.13L291.73 1314.13L291.73 1319.2L300.89 1319.2L300.89 1324.39L304.88 1324.39L304.88 1343.64L335.97 1343.64L335.97 1345.95L339.56 1345.95L339.56 1355.47L343.54 1355.47L343.54 1358.81L375.03 1358.81L375.03 1362.32L390.58 1362.32L390.58 1365.93L410.11 1365.93L410.11 1370.44L429.64 1370.44L429.64 1376.37L576.73 1376.37L576.73 1433.29L429.64 1433.29L429.64 1425.59L410.11 1425.59L410.11 1419.07L390.58 1419.07L390.58 1413.85L375.03 1413.85L375.03 1407.09L343.54 1407.09L343.54 1403.33L339.56 1403.33L339.56 1393.45L335.97 1393.45L335.97 1387.92L304.88 1387.92L304.88 1368.06L300.89 1368.06L300.89 1361.22L291.73 1361.22L291.73 1354.29L281.36 1354.29L281.36 1346.96L265.82 1346.96L265.82 1342.82L259.84 1342.82L259.84 1338.37L249.87 1338.37L249.87 1332.27L234.33 1332.27L234.33 1327.39L218.78 1327.39L218.78 1323.57L207.22 1323.57L207.22 1317.48L204.03 1317.48L204.03 1311.3L199.25 1311.3L199.25 1303.5L192.08 1303.5L192.08 1296.85L183.71 1296.85L183.71 1292.46L172.15 1292.46L172.15 1286.08L164.17 1286.08L164.17 1275.28L153.01 1275.28L153.01 1265.84L150.22 1265.84L150.22 1259.09L140.26 1259.09L140.26 1254.18L132.29 1254.18L132.29 1248.05L128.3 1248.05Z"/>
<path fill="#0000FF" fill-opacity="0.3" d="M128.3 1248.05L134.28 1248.05L134.28 1251.31L140.26 1251.31L140.26 1252.35L179.72 1252.35L179.72 1253.48L184.1 1253.48L184.1 1257.34L187.69 1257.34L187.69 1259.56L203.24 1259.56L203.24 1260.21L218.78 1260.21L218.78 1263.48L228.75 1263.48L228.75 1266.3L243.1 1266.3L243.1 1266.84L257.85 1266.84L257.85 1271.03L273.39 1271.03L273.39 1273.93L288.94 1273.93L288.94 1275.35L312.45 1275.35L312.45 1280.19L355.5 1280.19L355.5 1283.63L365.47 1283.63L365.47 1286.78L385 1286.78L385 1290.99L576.73 1290.99L576.73 1347.66L385 1347.66L385 1340.14L365.47 1340.14L365.47 1335.15L355.5 1335.15L355.5 1324.89L312.45 1324.89L312.45 1314.48L288.94 1314.48L288.94 1309.39L273.39 1309.39L273.39 1302.82L257.85 1302.82L257.85 1295.11L243.1 1295.11L243.1 1291.04L228.75 1291.04L228.75 1285.76L218.78 1285.76L218.78 1278.79L203.24 1278.79L203.24 1274.72L187.69 1274.72L187.69 1271.71L184.1 1271.71L184.1 1266.87L179.72 1266.87L179.72 1255.47L140.26 1255.47L140.26 1252.86L134.28 1252.86L134.28 1248.05L128.3 1248.05Z"/>
<path fill="none" stroke="#FF0000" stroke-width="2.2" d="M128.3 1248.05H132.29V1252.96H140.26V1255.41H150.22V1259.09H153.01V1267.68H164.17V1275.04H172.15V1279.95H183.71V1283.63H192.08V1289.76H199.25V1297.12H204.03V1303.01H207.22V1308.9H218.78V1311.84H234.33V1315.52H249.87V1320.43H259.84V1324.11H265.82V1327.79H281.36V1333.92H291.73V1340.06H300.89V1346.19H304.88V1365.82H335.97V1370.73H339.56V1380.54H343.54V1384.22H375.03V1390.35H390.58V1395.26H410.11V1401.39H429.64V1408.75H576.73"/>
<path fill="none" stroke="#FF0000" stroke-width="1.8" d="M131.71 1243.55v9M145.5 1250.91v9M146.87 1250.91v9M149.19 1250.91v9M161.22 1263.18v9M181.99 1275.45v9M186.04 1279.13v9M199.41 1292.62v9M203.93 1292.62v9M213.74 1304.4v9M223.4 1307.34v9M226.73 1307.34v9M233.98 1307.34v9M234.18 1307.34v9M235.14 1311.02v9M235.68 1311.02v9M277.14 1323.29v9M283.38 1329.42v9M294.78 1335.56v9M295.94 1335.56v9M332.58 1361.32v9M344.18 1379.72v9M346.68 1379.72v9M352.42 1379.72v9M355.78 1379.72v9M359.07 1379.72v9M376.72 1385.85v9M391.62 1390.76v9M405.25 1390.76v9M413.78 1396.89v9M438.23 1404.25v9M460.07 1404.25v9M467.26 1404.25v9M478.63 1404.25v9M484.15 1404.25v9M484.65 1404.25v9M490.95 1404.25v9M495.26 1404.25v9M516.85 1404.25v9M520.94 1404.25v9M529.39 1404.25v9M544.56 1404.25v9M555.28 1404.25v9M562.78 1404.25v9M575.64 1404.25v9M576.73 1404.25v9"/>
<path fill="none" stroke="#0000FF" stroke-width="2.2" d="M128.3 1248.05H134.28V1251.73H140.26V1253.2H179.72V1257.13H184.1V1261.54H187.69V1264.24H203.24V1266.94H218.78V1272.83H228.75V1277.49H243.1V1280.68H257.85V1286.57H273.39V1290.74H288.94V1293.44H312.45V1300.31H355.5V1308.16H365.47V1313.07H385V1320.43H576.73"/>
<path fill="none" stroke="#0000FF" stroke-width="1.8" d="M142.27 1248.7v9M159.6 1248.7v9M171.93 1248.7v9M176.4 1248.7v9M184.97 1257.04v9M206.23 1262.44v9M210.95 1262.44v9M220.06 1268.33v9M229.42 1272.99v9M267.18 1282.07v9M285.03 1286.24v9M285.74 1286.24v9M293.34 1288.94v9M297.65 1288.94v9M302.52 1288.94v9M302.88 1288.94v9M312 1288.94v9M313.15 1295.81v9M331.78 1295.81v9M342.94 1295.81v9M349.73 1295.81v9M351.73 1295.81v9M376.02 1308.57v9M378.73 1308.57v9M389.57 1315.93v9M396.92 1315.93v9M402.13 1315.93v9M408.25 1315.93v9M432.04 1315.93v9M435.36 1315.93v9M450.87 1315.93v9M456.08 1315.93v9M464.3 1315.93v9M470.83 1315.93v9M477.18 1315.93v9M493.55 1315.93v9M499.5 1315.93v9M526.53 1315.93v9M531.5 1315.93v9M542.42 1315.93v9M544.17 1315.93v9M558.1 1315.93v9M571.86 1315.93v9M573.52 1315.93v9M574.42 1315.93v9M576.73 1315.93v9"/>
<line x1="105" y1="1235.8" x2="105" y2="1506.6" stroke="#000" stroke-width="1.4"/>
<line x1="104.3" y1="1506" x2="630.2" y2="1506" stroke="#000" stroke-width="1.4"/>
<line x1="101.2" y1="1248.05" x2="105" y2="1248.05" stroke="#000" stroke-width="1.2"/>
<text x="0" y="0" font-size="14.8" text-anchor="end" transform="translate(96.5 1253.35) scale(1.12 1)">1.00</text>
<line x1="101.2" y1="1309.39" x2="105" y2="1309.39" stroke="#000" stroke-width="1.2"/>
<text x="0" y="0" font-size="14.8" text-anchor="end" transform="translate(96.5 1314.69) scale(1.12 1)">0.75</text>
<line x1="101.2" y1="1370.73" x2="105" y2="1370.73" stroke="#000" stroke-width="1.2"/>
<text x="0" y="0" font-size="14.8" text-anchor="end" transform="translate(96.5 1376.03) scale(1.12 1)">0.50</text>
<line x1="101.2" y1="1432.06" x2="105" y2="1432.06" stroke="#000" stroke-width="1.2"/>
<text x="0" y="0" font-size="14.8" text-anchor="end" transform="translate(96.5 1437.36) scale(1.12 1)">0.25</text>
<line x1="101.2" y1="1493.4" x2="105" y2="1493.4" stroke="#000" stroke-width="1.2"/>
<text x="0" y="0" font-size="14.8" text-anchor="end" transform="translate(96.5 1498.7) scale(1.12 1)">0.00</text>
<line x1="128.3" y1="1506" x2="128.3" y2="1509.8" stroke="#000" stroke-width="1.2"/>
<text x="0" y="0" font-size="14.8" text-anchor="middle" transform="translate(128.3 1523.3) scale(1.12 1)">0</text>
<line x1="168.16" y1="1506" x2="168.16" y2="1509.8" stroke="#000" stroke-width="1.2"/>
<text x="0" y="0" font-size="14.8" text-anchor="middle" transform="translate(168.16 1523.3) scale(1.12 1)">1</text>
<line x1="208.02" y1="1506" x2="208.02" y2="1509.8" stroke="#000" stroke-width="1.2"/>
<text x="0" y="0" font-size="14.8" text-anchor="middle" transform="translate(208.02 1523.3) scale(1.12 1)">2</text>
<line x1="247.88" y1="1506" x2="247.88" y2="1509.8" stroke="#000" stroke-width="1.2"/>
<text x="0" y="0" font-size="14.8" text-anchor="middle" transform="translate(247.88 1523.3) scale(1.12 1)">3</text>
<line x1="287.74" y1="1506" x2="287.74" y2="1509.8" stroke="#000" stroke-width="1.2"/>
<text x="0" y="0" font-size="14.8" text-anchor="middle" transform="translate(287.74 1523.3) scale(1.12 1)">4</text>
<line x1="327.6" y1="1506" x2="327.6" y2="1509.8" stroke="#000" stroke-width="1.2"/>
<text x="0" y="0" font-size="14.8" text-anchor="middle" transform="translate(327.6 1523.3) scale(1.12 1)">5</text>
<line x1="367.46" y1="1506" x2="367.46" y2="1509.8" stroke="#000" stroke-width="1.2"/>
<text x="0" y="0" font-size="14.8" text-anchor="middle" transform="translate(367.46 1523.3) scale(1.12 1)">6</text>
<line x1="407.32" y1="1506" x2="407.32" y2="1509.8" stroke="#000" stroke-width="1.2"/>
<text x="0" y="0" font-size="14.8" text-anchor="middle" transform="translate(407.32 1523.3) scale(1.12 1)">7</text>
<line x1="447.18" y1="1506" x2="447.18" y2="1509.8" stroke="#000" stroke-width="1.2"/>
<text x="0" y="0" font-size="14.8" text-anchor="middle" transform="translate(447.18 1523.3) scale(1.12 1)">8</text>
<line x1="487.04" y1="1506" x2="487.04" y2="1509.8" stroke="#000" stroke-width="1.2"/>
<text x="0" y="0" font-size="14.8" text-anchor="middle" transform="translate(487.04 1523.3) scale(1.12 1)">9</text>
<line x1="526.9" y1="1506" x2="526.9" y2="1509.8" stroke="#000" stroke-width="1.2"/>
<text x="0" y="0" font-size="14.8" text-anchor="middle" transform="translate(526.9 1523.3) scale(1.12 1)">10</text>
<line x1="566.76" y1="1506" x2="566.76" y2="1509.8" stroke="#000" stroke-width="1.2"/>
<text x="0" y="0" font-size="14.8" text-anchor="middle" transform="translate(566.76 1523.3) scale(1.12 1)">11</text>
<line x1="606.62" y1="1506" x2="606.62" y2="1509.8" stroke="#000" stroke-width="1.2"/>
<text x="0" y="0" font-size="14.8" text-anchor="middle" transform="translate(606.62 1523.3) scale(1.12 1)">12</text>
<text x="0" y="0" font-size="17.2" text-anchor="middle" transform="translate(367.6 1543.7) scale(1.12 1)">Time(years)</text>
<text x="0" y="0" font-size="17.8" text-anchor="middle" transform="translate(26.2 1370.9) scale(1.12 1) rotate(-90)">Survival probability</text>
<text x="0" y="0" font-size="20.6" transform="translate(138.3 1452.5) scale(1.12 1)">p&lt;0.001</text>
<text x="0" y="0" font-size="12.4" transform="translate(266.8 1206.3) scale(1.12 1)">Risk</text>
<rect x="300.2" y="1191.6" width="21.4" height="19.8" fill="#FFB3B3"/>
<line x1="301.5" y1="1201.6" x2="320.3" y2="1201.6" stroke="#FF0000" stroke-width="1.9"/>
<line x1="310.9" y1="1196.5" x2="310.9" y2="1205.5" stroke="#FF0000" stroke-width="1.5"/>
<text x="0" y="0" font-size="12.4" transform="translate(330.1 1206.3) scale(1.12 1)">High risk</text>
<rect x="390" y="1191.6" width="21.4" height="19.8" fill="#B3B3FF"/>
<line x1="391.3" y1="1201.6" x2="410.1" y2="1201.6" stroke="#0000FF" stroke-width="1.9"/>
<line x1="400.7" y1="1196.5" x2="400.7" y2="1205.5" stroke="#0000FF" stroke-width="1.5"/>
<text x="0" y="0" font-size="12.4" transform="translate(419.7 1206.3) scale(1.12 1)">Low risk</text>
<line x1="105" y1="1590.8" x2="105" y2="1633.3" stroke="#000" stroke-width="1.4"/>
<line x1="104.3" y1="1632.7" x2="630.2" y2="1632.7" stroke="#000" stroke-width="1.4"/>
<line x1="101.2" y1="1602" x2="105" y2="1602" stroke="#000" stroke-width="1.2"/>
<line x1="101.2" y1="1621.3" x2="105" y2="1621.3" stroke="#000" stroke-width="1.2"/>
<text x="0" y="0" font-size="14.5" text-anchor="end" fill="#FF0000" transform="translate(97.5 1607.2) scale(1.12 1)">High risk</text>
<text x="0" y="0" font-size="14.5" text-anchor="end" fill="#0000FF" transform="translate(97.5 1626.5) scale(1.12 1)">Low risk</text>
<text x="0" y="0" font-size="15.9" text-anchor="middle" fill="#FF0000" transform="translate(128.3 1607.6) scale(1.12 1)">133</text>
<text x="0" y="0" font-size="15.9" text-anchor="middle" fill="#0000FF" transform="translate(128.3 1627.1) scale(1.12 1)">134</text>
<line x1="128.3" y1="1632.7" x2="128.3" y2="1636.5" stroke="#000" stroke-width="1.2"/>
<text x="0" y="0" font-size="14.8" text-anchor="middle" transform="translate(128.3 1650.8) scale(1.12 1)">0</text>
<text x="0" y="0" font-size="15.9" text-anchor="middle" fill="#FF0000" transform="translate(168.16 1607.6) scale(1.12 1)">108</text>
<text x="0" y="0" font-size="15.9" text-anchor="middle" fill="#0000FF" transform="translate(168.16 1627.1) scale(1.12 1)">116</text>
<line x1="168.16" y1="1632.7" x2="168.16" y2="1636.5" stroke="#000" stroke-width="1.2"/>
<text x="0" y="0" font-size="14.8" text-anchor="middle" transform="translate(168.16 1650.8) scale(1.12 1)">1</text>
<text x="0" y="0" font-size="15.9" text-anchor="middle" fill="#FF0000" transform="translate(208.02 1607.6) scale(1.12 1)">85</text>
<text x="0" y="0" font-size="15.9" text-anchor="middle" fill="#0000FF" transform="translate(208.02 1627.1) scale(1.12 1)">95</text>
<line x1="208.02" y1="1632.7" x2="208.02" y2="1636.5" stroke="#000" stroke-width="1.2"/>
<text x="0" y="0" font-size="14.8" text-anchor="middle" transform="translate(208.02 1650.8) scale(1.12 1)">2</text>
<text x="0" y="0" font-size="15.9" text-anchor="middle" fill="#FF0000" transform="translate(247.88 1607.6) scale(1.12 1)">75</text>
<text x="0" y="0" font-size="15.9" text-anchor="middle" fill="#0000FF" transform="translate(247.88 1627.1) scale(1.12 1)">78</text>
<line x1="247.88" y1="1632.7" x2="247.88" y2="1636.5" stroke="#000" stroke-width="1.2"/>
<text x="0" y="0" font-size="14.8" text-anchor="middle" transform="translate(247.88 1650.8) scale(1.12 1)">3</text>
<text x="0" y="0" font-size="15.9" text-anchor="middle" fill="#FF0000" transform="translate(287.74 1607.6) scale(1.12 1)">54</text>
<text x="0" y="0" font-size="15.9" text-anchor="middle" fill="#0000FF" transform="translate(287.74 1627.1) scale(1.12 1)">59</text>
<line x1="287.74" y1="1632.7" x2="287.74" y2="1636.5" stroke="#000" stroke-width="1.2"/>
<text x="0" y="0" font-size="14.8" text-anchor="middle" transform="translate(287.74 1650.8) scale(1.12 1)">4</text>
<text x="0" y="0" font-size="15.9" text-anchor="middle" fill="#FF0000" transform="translate(327.6 1607.6) scale(1.12 1)">35</text>
<text x="0" y="0" font-size="15.9" text-anchor="middle" fill="#0000FF" transform="translate(327.6 1627.1) scale(1.12 1)">40</text>
<line x1="327.6" y1="1632.7" x2="327.6" y2="1636.5" stroke="#000" stroke-width="1.2"/>
<text x="0" y="0" font-size="14.8" text-anchor="middle" transform="translate(327.6 1650.8) scale(1.12 1)">5</text>
<text x="0" y="0" font-size="15.9" text-anchor="middle" fill="#FF0000" transform="translate(367.46 1607.6) scale(1.12 1)">25</text>
<text x="0" y="0" font-size="15.9" text-anchor="middle" fill="#0000FF" transform="translate(367.46 1627.1) scale(1.12 1)">29</text>
<line x1="367.46" y1="1632.7" x2="367.46" y2="1636.5" stroke="#000" stroke-width="1.2"/>
<text x="0" y="0" font-size="14.8" text-anchor="middle" transform="translate(367.46 1650.8) scale(1.12 1)">6</text>
<text x="0" y="0" font-size="15.9" text-anchor="middle" fill="#FF0000" transform="translate(407.32 1607.6) scale(1.12 1)">17</text>
<text x="0" y="0" font-size="15.9" text-anchor="middle" fill="#0000FF" transform="translate(407.32 1627.1) scale(1.12 1)">17</text>
<line x1="407.32" y1="1632.7" x2="407.32" y2="1636.5" stroke="#000" stroke-width="1.2"/>
<text x="0" y="0" font-size="14.8" text-anchor="middle" transform="translate(407.32 1650.8) scale(1.12 1)">7</text>
<text x="0" y="0" font-size="15.9" text-anchor="middle" fill="#FF0000" transform="translate(447.18 1607.6) scale(1.12 1)">9</text>
<text x="0" y="0" font-size="15.9" text-anchor="middle" fill="#0000FF" transform="translate(447.18 1627.1) scale(1.12 1)">15</text>
<line x1="447.18" y1="1632.7" x2="447.18" y2="1636.5" stroke="#000" stroke-width="1.2"/>
<text x="0" y="0" font-size="14.8" text-anchor="middle" transform="translate(447.18 1650.8) scale(1.12 1)">8</text>
<text x="0" y="0" font-size="15.9" text-anchor="middle" fill="#FF0000" transform="translate(487.04 1607.6) scale(1.12 1)">8</text>
<text x="0" y="0" font-size="15.9" text-anchor="middle" fill="#0000FF" transform="translate(487.04 1627.1) scale(1.12 1)">9</text>
<line x1="487.04" y1="1632.7" x2="487.04" y2="1636.5" stroke="#000" stroke-width="1.2"/>
<text x="0" y="0" font-size="14.8" text-anchor="middle" transform="translate(487.04 1650.8) scale(1.12 1)">9</text>
<text x="0" y="0" font-size="15.9" text-anchor="middle" fill="#FF0000" transform="translate(526.9 1607.6) scale(1.12 1)">3</text>
<text x="0" y="0" font-size="15.9" text-anchor="middle" fill="#0000FF" transform="translate(526.9 1627.1) scale(1.12 1)">3</text>
<line x1="526.9" y1="1632.7" x2="526.9" y2="1636.5" stroke="#000" stroke-width="1.2"/>
<text x="0" y="0" font-size="14.8" text-anchor="middle" transform="translate(526.9 1650.8) scale(1.12 1)">10</text>
<text x="0" y="0" font-size="15.9" text-anchor="middle" fill="#FF0000" transform="translate(566.76 1607.6) scale(1.12 1)">1</text>
<text x="0" y="0" font-size="15.9" text-anchor="middle" fill="#0000FF" transform="translate(566.76 1627.1) scale(1.12 1)">1</text>
<line x1="566.76" y1="1632.7" x2="566.76" y2="1636.5" stroke="#000" stroke-width="1.2"/>
<text x="0" y="0" font-size="14.8" text-anchor="middle" transform="translate(566.76 1650.8) scale(1.12 1)">11</text>
<text x="0" y="0" font-size="15.9" text-anchor="middle" fill="#FF0000" transform="translate(606.62 1607.6) scale(1.12 1)">0</text>
<text x="0" y="0" font-size="15.9" text-anchor="middle" fill="#0000FF" transform="translate(606.62 1627.1) scale(1.12 1)">0</text>
<line x1="606.62" y1="1632.7" x2="606.62" y2="1636.5" stroke="#000" stroke-width="1.2"/>
<text x="0" y="0" font-size="14.8" text-anchor="middle" transform="translate(606.62 1650.8) scale(1.12 1)">12</text>
<text x="0" y="0" font-size="17.2" text-anchor="middle" transform="translate(367.6 1670.5) scale(1.12 1)">Time(years)</text>
<text x="0" y="0" font-size="18" text-anchor="middle" transform="translate(26 1611.2) scale(1.12 1) rotate(-90)">Risk</text>
<line x1="108.6" y1="2186.5" x2="583.2" y2="1788" stroke="#000" stroke-width="1.9" stroke-dasharray="5.2 4.6"/>
<path fill="none" stroke="#00FF00" stroke-width="2.7" stroke-linejoin="round" stroke-linecap="round" d="M125.9 2172.7L125.9 2154.15L127.22 2154.15L127.22 2135.6L127.22 2105.92L129.43 2105.92L131.64 2105.92L131.64 2102.21L136.94 2102.21L136.94 2085.51L141.35 2085.51L141.35 2068.82L150.18 2068.82L150.18 2050.27L152.39 2050.27L152.39 2033.57L157.69 2033.57L157.69 2016.88L159.01 2016.88L159.01 1998.33L161.22 1998.33L165.63 1998.33L165.63 1979.78L176.67 1979.78L176.67 1963.08L200.07 1963.08L200.07 1944.53L203.16 1944.53L203.16 1925.98L218.62 1925.98L218.62 1909.29L231.86 1909.29L231.86 1890.74L302.5 1890.74L302.5 1872.19L441.57 1872.19L441.57 1855.49L448.2 1855.49L448.2 1836.94L470.27 1836.94L470.27 1801.7L567.4 1801.7"/>
<path fill="none" stroke="#0000FF" stroke-width="2.7" stroke-linejoin="round" stroke-linecap="round" d="M125.9 2172.7L125.9 2165.28L125.9 2161.57L129.43 2161.57L129.43 2135.6L131.64 2135.6L131.64 2113.34L131.64 2105.92L134.73 2105.92L144.88 2105.92L144.88 2085.51L153.27 2085.51L153.27 2078.09L155.92 2078.09L155.92 2050.27L160.34 2050.27L160.34 2040.99L163.43 2040.99L163.43 2020.59L167.84 2020.59L167.84 2011.31L181.09 2011.31L181.09 2003.89L183.3 2003.89L183.3 1990.91L185.5 1990.91L185.5 1983.49L205.37 1983.49L205.37 1976.07L210.67 1976.07L210.67 1968.65L222.15 1968.65L222.15 1953.81L242.9 1953.81L242.9 1946.39L282.63 1946.39L282.63 1929.69L295.88 1929.69L295.88 1924.13L311.33 1924.13L311.33 1916.71L335.61 1916.71L335.61 1909.29L341.35 1909.29L341.35 1900.01L364.31 1900.01L364.31 1885.17L366.52 1885.17L366.52 1875.9L439.37 1875.9L439.37 1868.48L441.57 1868.48L441.57 1861.06L452.61 1861.06L452.61 1853.64L457.02 1853.64L457.02 1848.07L459.23 1848.07L459.23 1838.8L470.27 1838.8L470.27 1818.39L472.48 1818.39L472.48 1809.12L516.63 1809.12L516.63 1801.7L567.4 1801.7"/>
<path fill="none" stroke="#FF0000" stroke-width="2.7" stroke-linejoin="round" stroke-linecap="round" d="M125.9 2172.7L125.9 2168.99L128.11 2168.99L128.11 2113.34L132.52 2113.34L132.52 2100.36L138.26 2100.36L138.26 2083.66L142.68 2083.66L142.68 2066.96L147.98 2066.96L147.98 2037.28L153.27 2037.28L153.27 2031.72L163.43 2031.72L163.43 2028.01L166.52 2028.01L166.52 2020.59L170.93 2020.59L170.93 2015.02L176.67 2015.02L176.67 2007.6L196.54 2007.6L196.54 1987.2L202.28 1987.2L202.28 1977.92L218.62 1977.92L218.62 1970.5L223.03 1970.5L223.03 1959.37L249.52 1959.37L249.52 1950.1L258.35 1950.1L258.35 1940.82L271.6 1940.82L271.6 1924.13L289.25 1924.13L289.25 1913L320.16 1913L320.16 1888.88L337.82 1888.88L337.82 1874.04L344.44 1874.04L344.44 1868.48L404.04 1868.48L404.04 1846.22L408.46 1846.22L408.46 1840.65L417.29 1840.65L417.29 1825.81L443.78 1825.81L443.78 1807.26L496.76 1807.26L496.76 1801.7L567.4 1801.7"/>
<rect x="108.1" y="1786.5" width="476.6" height="400.5" fill="none" stroke="#000" stroke-width="1.4"/>
<line x1="94.9" y1="2172.7" x2="108.1" y2="2172.7" stroke="#000" stroke-width="1.3"/>
<text x="79.1" y="2172.7" font-size="21.4" text-anchor="middle" transform="rotate(-90 79.1 2172.7)">0.0</text>
<line x1="125.9" y1="2187" x2="125.9" y2="2200.5" stroke="#000" stroke-width="1.3"/>
<text x="125.9" y="2233.4" font-size="21.4" text-anchor="middle">0.0</text>
<line x1="94.9" y1="2098.5" x2="108.1" y2="2098.5" stroke="#000" stroke-width="1.3"/>
<text x="79.1" y="2098.5" font-size="21.4" text-anchor="middle" transform="rotate(-90 79.1 2098.5)">0.2</text>
<line x1="214.2" y1="2187" x2="214.2" y2="2200.5" stroke="#000" stroke-width="1.3"/>
<text x="214.2" y="2233.4" font-size="21.4" text-anchor="middle">0.2</text>
<line x1="94.9" y1="2024.3" x2="108.1" y2="2024.3" stroke="#000" stroke-width="1.3"/>
<text x="79.1" y="2024.3" font-size="21.4" text-anchor="middle" transform="rotate(-90 79.1 2024.3)">0.4</text>
<line x1="302.5" y1="2187" x2="302.5" y2="2200.5" stroke="#000" stroke-width="1.3"/>
<text x="302.5" y="2233.4" font-size="21.4" text-anchor="middle">0.4</text>
<line x1="94.9" y1="1950.1" x2="108.1" y2="1950.1" stroke="#000" stroke-width="1.3"/>
<text x="79.1" y="1950.1" font-size="21.4" text-anchor="middle" transform="rotate(-90 79.1 1950.1)">0.6</text>
<line x1="390.8" y1="2187" x2="390.8" y2="2200.5" stroke="#000" stroke-width="1.3"/>
<text x="390.8" y="2233.4" font-size="21.4" text-anchor="middle">0.6</text>
<line x1="94.9" y1="1875.9" x2="108.1" y2="1875.9" stroke="#000" stroke-width="1.3"/>
<text x="79.1" y="1875.9" font-size="21.4" text-anchor="middle" transform="rotate(-90 79.1 1875.9)">0.8</text>
<line x1="479.1" y1="2187" x2="479.1" y2="2200.5" stroke="#000" stroke-width="1.3"/>
<text x="479.1" y="2233.4" font-size="21.4" text-anchor="middle">0.8</text>
<line x1="94.9" y1="1801.7" x2="108.1" y2="1801.7" stroke="#000" stroke-width="1.3"/>
<text x="79.1" y="1801.7" font-size="21.4" text-anchor="middle" transform="rotate(-90 79.1 1801.7)">1.0</text>
<line x1="567.4" y1="2187" x2="567.4" y2="2200.5" stroke="#000" stroke-width="1.3"/>
<text x="567.4" y="2233.4" font-size="21.4" text-anchor="middle">1.0</text>
<text x="346.4" y="2282" font-size="21" text-anchor="middle">1−Specificity</text>
<text x="27.5" y="1986.75" font-size="21" text-anchor="middle" transform="rotate(-90 27.5 1986.75)">Sensitivity</text>
<line x1="311.3" y1="2111" x2="351.3" y2="2111" stroke="#00FF00" stroke-width="2.4"/>
<text x="369.5" y="2118.6" font-size="21">AUC at 1 years: 0.770</text>
<line x1="311.3" y1="2136.6" x2="351.3" y2="2136.6" stroke="#0000FF" stroke-width="2.4"/>
<text x="369.5" y="2144.2" font-size="21">AUC at 3 years: 0.706</text>
<line x1="311.3" y1="2162.2" x2="351.3" y2="2162.2" stroke="#FF0000" stroke-width="2.4"/>
<text x="369.5" y="2169.8" font-size="21">AUC at 5 years: 0.740</text>
<g fill="#00FF00"><circle cx="782.84" cy="276.31" r="2.7"/><circle cx="784.67" cy="275.72" r="2.7"/><circle cx="786.49" cy="275.13" r="2.7"/><circle cx="788.32" cy="274.54" r="2.7"/><circle cx="790.14" cy="274.28" r="2.7"/><circle cx="791.97" cy="274.02" r="2.7"/><circle cx="793.79" cy="273.76" r="2.7"/><circle cx="795.62" cy="273.5" r="2.7"/><circle cx="797.44" cy="273.23" r="2.7"/><circle cx="799.27" cy="272.97" r="2.7"/><circle cx="801.09" cy="272.88" r="2.7"/><circle cx="802.92" cy="272.79" r="2.7"/><circle cx="804.74" cy="272.7" r="2.7"/><circle cx="806.56" cy="272.61" r="2.7"/><circle cx="808.39" cy="272.51" r="2.7"/><circle cx="810.21" cy="272.42" r="2.7"/><circle cx="812.04" cy="272.33" r="2.7"/><circle cx="813.86" cy="272.24" r="2.7"/><circle cx="815.69" cy="272.15" r="2.7"/><circle cx="817.51" cy="272.06" r="2.7"/><circle cx="819.34" cy="271.97" r="2.7"/><circle cx="821.16" cy="271.87" r="2.7"/><circle cx="822.99" cy="271.78" r="2.7"/><circle cx="824.81" cy="271.69" r="2.7"/><circle cx="826.64" cy="271.6" r="2.7"/><circle cx="828.46" cy="271.53" r="2.7"/><circle cx="830.29" cy="271.46" r="2.7"/><circle cx="832.11" cy="271.39" r="2.7"/><circle cx="833.94" cy="271.32" r="2.7"/><circle cx="835.76" cy="271.26" r="2.7"/><circle cx="837.59" cy="271.19" r="2.7"/><circle cx="839.41" cy="271.12" r="2.7"/><circle cx="841.24" cy="271.05" r="2.7"/><circle cx="843.06" cy="270.98" r="2.7"/><circle cx="844.88" cy="270.91" r="2.7"/><circle cx="846.71" cy="270.84" r="2.7"/><circle cx="848.53" cy="270.77" r="2.7"/><circle cx="850.36" cy="270.71" r="2.7"/><circle cx="852.18" cy="270.64" r="2.7"/><circle cx="854.01" cy="270.57" r="2.7"/><circle cx="855.83" cy="270.5" r="2.7"/><circle cx="857.66" cy="270.43" r="2.7"/><circle cx="859.48" cy="270.36" r="2.7"/><circle cx="861.31" cy="270.29" r="2.7"/><circle cx="863.13" cy="270.23" r="2.7"/><circle cx="864.96" cy="270.16" r="2.7"/><circle cx="866.78" cy="270.1" r="2.7"/><circle cx="868.61" cy="270.04" r="2.7"/><circle cx="870.43" cy="269.97" r="2.7"/><circle cx="872.26" cy="269.91" r="2.7"/><circle cx="874.08" cy="269.85" r="2.7"/><circle cx="875.91" cy="269.79" r="2.7"/><circle cx="877.73" cy="269.72" r="2.7"/><circle cx="879.56" cy="269.66" r="2.7"/><circle cx="881.38" cy="269.6" r="2.7"/><circle cx="883.21" cy="269.53" r="2.7"/><circle cx="885.03" cy="269.47" r="2.7"/><circle cx="886.85" cy="269.41" r="2.7"/><circle cx="888.68" cy="269.35" r="2.7"/><circle cx="890.5" cy="269.28" r="2.7"/><circle cx="892.33" cy="269.22" r="2.7"/><circle cx="894.15" cy="269.16" r="2.7"/><circle cx="895.98" cy="269.09" r="2.7"/><circle cx="897.8" cy="269.03" r="2.7"/><circle cx="899.63" cy="268.97" r="2.7"/><circle cx="901.45" cy="268.91" r="2.7"/><circle cx="903.28" cy="268.84" r="2.7"/><circle cx="905.1" cy="268.78" r="2.7"/><circle cx="906.93" cy="268.72" r="2.7"/><circle cx="908.75" cy="268.65" r="2.7"/><circle cx="910.58" cy="268.58" r="2.7"/><circle cx="912.4" cy="268.5" r="2.7"/><circle cx="914.23" cy="268.42" r="2.7"/><circle cx="916.05" cy="268.34" r="2.7"/><circle cx="917.88" cy="268.26" r="2.7"/><circle cx="919.7" cy="268.18" r="2.7"/><circle cx="921.53" cy="268.11" r="2.7"/><circle cx="923.35" cy="268.03" r="2.7"/><circle cx="925.17" cy="267.95" r="2.7"/><circle cx="927" cy="267.87" r="2.7"/><circle cx="928.82" cy="267.79" r="2.7"/><circle cx="930.65" cy="267.71" r="2.7"/><circle cx="932.47" cy="267.63" r="2.7"/><circle cx="934.3" cy="267.56" r="2.7"/><circle cx="936.12" cy="267.48" r="2.7"/><circle cx="937.95" cy="267.32" r="2.7"/><circle cx="939.77" cy="267.16" r="2.7"/><circle cx="941.6" cy="267" r="2.7"/><circle cx="943.42" cy="266.84" r="2.7"/><circle cx="945.25" cy="266.67" r="2.7"/><circle cx="947.07" cy="266.51" r="2.7"/><circle cx="948.9" cy="266.35" r="2.7"/><circle cx="950.72" cy="266.19" r="2.7"/><circle cx="952.55" cy="266.03" r="2.7"/><circle cx="954.37" cy="265.87" r="2.7"/><circle cx="956.2" cy="265.71" r="2.7"/></g>
<g fill="#FF0000"><circle cx="958.02" cy="265.51" r="2.7"/><circle cx="959.85" cy="265.25" r="2.7"/><circle cx="961.67" cy="264.99" r="2.7"/><circle cx="963.5" cy="264.73" r="2.7"/><circle cx="965.32" cy="264.59" r="2.7"/><circle cx="967.14" cy="264.45" r="2.7"/><circle cx="968.97" cy="264.31" r="2.7"/><circle cx="970.79" cy="264.16" r="2.7"/><circle cx="972.62" cy="264.02" r="2.7"/><circle cx="974.44" cy="263.88" r="2.7"/><circle cx="976.27" cy="263.74" r="2.7"/><circle cx="978.09" cy="263.6" r="2.7"/><circle cx="979.92" cy="263.46" r="2.7"/><circle cx="981.74" cy="263.32" r="2.7"/><circle cx="983.57" cy="263.18" r="2.7"/><circle cx="985.39" cy="263.03" r="2.7"/><circle cx="987.22" cy="262.89" r="2.7"/><circle cx="989.04" cy="262.75" r="2.7"/><circle cx="990.87" cy="262.61" r="2.7"/><circle cx="992.69" cy="262.47" r="2.7"/><circle cx="994.52" cy="262.33" r="2.7"/><circle cx="996.34" cy="262.19" r="2.7"/><circle cx="998.17" cy="262.05" r="2.7"/><circle cx="999.99" cy="261.9" r="2.7"/><circle cx="1001.82" cy="261.76" r="2.7"/><circle cx="1003.64" cy="261.62" r="2.7"/><circle cx="1005.46" cy="261.48" r="2.7"/><circle cx="1007.29" cy="261.34" r="2.7"/><circle cx="1009.11" cy="261.2" r="2.7"/><circle cx="1010.94" cy="261.02" r="2.7"/><circle cx="1012.76" cy="260.85" r="2.7"/><circle cx="1014.59" cy="260.68" r="2.7"/><circle cx="1016.41" cy="260.51" r="2.7"/><circle cx="1018.24" cy="260.33" r="2.7"/><circle cx="1020.06" cy="260.16" r="2.7"/><circle cx="1021.89" cy="259.99" r="2.7"/><circle cx="1023.71" cy="259.82" r="2.7"/><circle cx="1025.54" cy="259.64" r="2.7"/><circle cx="1027.36" cy="259.47" r="2.7"/><circle cx="1029.19" cy="259.3" r="2.7"/><circle cx="1031.01" cy="259.13" r="2.7"/><circle cx="1032.84" cy="258.95" r="2.7"/><circle cx="1034.66" cy="258.78" r="2.7"/><circle cx="1036.49" cy="258.61" r="2.7"/><circle cx="1038.31" cy="258.43" r="2.7"/><circle cx="1040.14" cy="258.26" r="2.7"/><circle cx="1041.96" cy="258.09" r="2.7"/><circle cx="1043.79" cy="257.92" r="2.7"/><circle cx="1045.61" cy="257.74" r="2.7"/><circle cx="1047.43" cy="257.57" r="2.7"/><circle cx="1049.26" cy="257.4" r="2.7"/><circle cx="1051.08" cy="257.23" r="2.7"/><circle cx="1052.91" cy="257.05" r="2.7"/><circle cx="1054.73" cy="256.88" r="2.7"/><circle cx="1056.56" cy="256.74" r="2.7"/><circle cx="1058.38" cy="256.6" r="2.7"/><circle cx="1060.21" cy="256.46" r="2.7"/><circle cx="1062.03" cy="256.31" r="2.7"/><circle cx="1063.86" cy="256.17" r="2.7"/><circle cx="1065.68" cy="256.03" r="2.7"/><circle cx="1067.51" cy="255.89" r="2.7"/><circle cx="1069.33" cy="255.75" r="2.7"/><circle cx="1071.16" cy="255.61" r="2.7"/><circle cx="1072.98" cy="255.47" r="2.7"/><circle cx="1074.81" cy="255.33" r="2.7"/><circle cx="1076.63" cy="255.18" r="2.7"/><circle cx="1078.46" cy="255.04" r="2.7"/><circle cx="1080.28" cy="254.9" r="2.7"/><circle cx="1082.11" cy="254.76" r="2.7"/><circle cx="1083.93" cy="254.62" r="2.7"/><circle cx="1085.75" cy="254.48" r="2.7"/><circle cx="1087.58" cy="254.34" r="2.7"/><circle cx="1089.4" cy="254.2" r="2.7"/><circle cx="1091.23" cy="254.05" r="2.7"/><circle cx="1093.05" cy="253.91" r="2.7"/><circle cx="1094.88" cy="253.77" r="2.7"/><circle cx="1096.7" cy="253.63" r="2.7"/><circle cx="1098.53" cy="253.49" r="2.7"/><circle cx="1100.35" cy="253.35" r="2.7"/><circle cx="1102.18" cy="253.02" r="2.7"/><circle cx="1104" cy="252.69" r="2.7"/><circle cx="1105.83" cy="252.37" r="2.7"/><circle cx="1107.65" cy="252.04" r="2.7"/><circle cx="1109.48" cy="251.71" r="2.7"/><circle cx="1111.3" cy="251.38" r="2.7"/><circle cx="1113.13" cy="251.06" r="2.7"/><circle cx="1114.95" cy="250.73" r="2.7"/><circle cx="1116.78" cy="250.4" r="2.7"/><circle cx="1118.6" cy="250.08" r="2.7"/><circle cx="1120.43" cy="249.75" r="2.7"/><circle cx="1122.25" cy="249.42" r="2.7"/><circle cx="1124.08" cy="249.1" r="2.7"/><circle cx="1125.9" cy="248.77" r="2.7"/><circle cx="1127.72" cy="248.44" r="2.7"/><circle cx="1129.55" cy="247.95" r="2.7"/><circle cx="1131.37" cy="247.46" r="2.7"/><circle cx="1133.2" cy="246.97" r="2.7"/><circle cx="1135.02" cy="246.48" r="2.7"/><circle cx="1136.85" cy="245.99" r="2.7"/><circle cx="1138.67" cy="245.5" r="2.7"/><circle cx="1140.5" cy="245.01" r="2.7"/><circle cx="1142.32" cy="244.52" r="2.7"/><circle cx="1144.15" cy="244.03" r="2.7"/><circle cx="1145.97" cy="243.53" r="2.7"/><circle cx="1147.8" cy="243.26" r="2.7"/><circle cx="1149.62" cy="242.99" r="2.7"/><circle cx="1151.45" cy="242.71" r="2.7"/><circle cx="1153.27" cy="242.44" r="2.7"/><circle cx="1155.1" cy="242.16" r="2.7"/><circle cx="1156.92" cy="241.89" r="2.7"/><circle cx="1158.75" cy="241.61" r="2.7"/><circle cx="1160.57" cy="241.34" r="2.7"/><circle cx="1162.4" cy="241.06" r="2.7"/><circle cx="1164.22" cy="240.79" r="2.7"/><circle cx="1166.04" cy="240.24" r="2.7"/><circle cx="1167.87" cy="239.7" r="2.7"/><circle cx="1169.69" cy="239.15" r="2.7"/><circle cx="1171.52" cy="238.61" r="2.7"/><circle cx="1173.34" cy="238.06" r="2.7"/><circle cx="1175.17" cy="237.52" r="2.7"/><circle cx="1176.99" cy="236.97" r="2.7"/><circle cx="1178.82" cy="236.43" r="2.7"/><circle cx="1180.64" cy="235.88" r="2.7"/><circle cx="1182.47" cy="230.97" r="2.7"/><circle cx="1184.29" cy="230.78" r="2.7"/><circle cx="1186.12" cy="230.58" r="2.7"/><circle cx="1187.94" cy="230.39" r="2.7"/><circle cx="1189.77" cy="230.19" r="2.7"/><circle cx="1191.59" cy="229.99" r="2.7"/><circle cx="1193.42" cy="228.03" r="2.7"/><circle cx="1195.24" cy="226.07" r="2.7"/><circle cx="1197.07" cy="224.11" r="2.7"/><circle cx="1198.89" cy="222.14" r="2.7"/><circle cx="1200.72" cy="220.18" r="2.7"/><circle cx="1202.54" cy="219.69" r="2.7"/><circle cx="1204.37" cy="219.2" r="2.7"/><circle cx="1206.19" cy="218.71" r="2.7"/><circle cx="1208.01" cy="218.22" r="2.7"/><circle cx="1209.84" cy="217.73" r="2.7"/><circle cx="1211.66" cy="217.24" r="2.7"/><circle cx="1213.49" cy="216.75" r="2.7"/><circle cx="1215.31" cy="216.26" r="2.7"/><circle cx="1217.14" cy="215.77" r="2.7"/><circle cx="1218.96" cy="215.28" r="2.7"/><circle cx="1220.79" cy="214.29" r="2.7"/><circle cx="1222.61" cy="213.31" r="2.7"/><circle cx="1224.44" cy="212.33" r="2.7"/><circle cx="1226.26" cy="211.35" r="2.7"/><circle cx="1228.09" cy="210.37" r="2.7"/><circle cx="1229.91" cy="208.8" r="2.7"/><circle cx="1231.74" cy="207.23" r="2.7"/><circle cx="1233.56" cy="205.66" r="2.7"/><circle cx="1235.39" cy="204.09" r="2.7"/><circle cx="1237.21" cy="202.52" r="2.7"/><circle cx="1239.04" cy="201.93" r="2.7"/><circle cx="1240.86" cy="201.34" r="2.7"/><circle cx="1242.69" cy="200.75" r="2.7"/><circle cx="1244.51" cy="200.16" r="2.7"/><circle cx="1246.33" cy="199.57" r="2.7"/><circle cx="1248.16" cy="194.67" r="2.7"/><circle cx="1249.98" cy="191.33" r="2.7"/><circle cx="1251.81" cy="188" r="2.7"/><circle cx="1253.63" cy="172.69" r="2.7"/><circle cx="1255.46" cy="165.43" r="2.7"/><circle cx="1257.28" cy="163.56" r="2.7"/><circle cx="1259.11" cy="161.7" r="2.7"/><circle cx="1260.93" cy="156.99" r="2.7"/><circle cx="1262.76" cy="151.49" r="2.7"/><circle cx="1264.58" cy="95.56" r="2.7"/><circle cx="1266.41" cy="85.75" r="2.7"/></g>
<line x1="956.2" y1="80.25" x2="956.2" y2="283.75" stroke="#D3D3D3" stroke-width="1.4" stroke-dasharray="4 4"/>
<line x1="763.5" y1="265.51" x2="1285.75" y2="265.51" stroke="#000" stroke-width="1.4" stroke-dasharray="3.4 4.1"/>
<rect x="763.5" y="78.75" width="522.25" height="205" fill="none" stroke="#000" stroke-width="1.45"/>
<line x1="754.2" y1="282" x2="763.5" y2="282" stroke="#000" stroke-width="1.2"/>
<text x="742" y="282" font-size="15.6" text-anchor="middle" transform="rotate(-90 742 282)">0</text>
<line x1="754.2" y1="242.75" x2="763.5" y2="242.75" stroke="#000" stroke-width="1.2"/>
<text x="742" y="242.75" font-size="15.6" text-anchor="middle" transform="rotate(-90 742 242.75)">2</text>
<line x1="754.2" y1="203.5" x2="763.5" y2="203.5" stroke="#000" stroke-width="1.2"/>
<text x="742" y="203.5" font-size="15.6" text-anchor="middle" transform="rotate(-90 742 203.5)">4</text>
<line x1="754.2" y1="164.25" x2="763.5" y2="164.25" stroke="#000" stroke-width="1.2"/>
<text x="742" y="164.25" font-size="15.6" text-anchor="middle" transform="rotate(-90 742 164.25)">6</text>
<line x1="754.2" y1="125" x2="763.5" y2="125" stroke="#000" stroke-width="1.2"/>
<text x="742" y="125" font-size="15.6" text-anchor="middle" transform="rotate(-90 742 125)">8</text>
<line x1="754.2" y1="85.75" x2="763.5" y2="85.75" stroke="#000" stroke-width="1.2"/>
<text x="742" y="85.75" font-size="15.6" text-anchor="middle" transform="rotate(-90 742 85.75)">10</text>
<line x1="781.02" y1="283.75" x2="781.02" y2="293.25" stroke="#000" stroke-width="1.2"/>
<text x="781.02" y="318.3" font-size="15.6" text-anchor="middle">0</text>
<line x1="872.26" y1="283.75" x2="872.26" y2="293.25" stroke="#000" stroke-width="1.2"/>
<text x="872.26" y="318.3" font-size="15.6" text-anchor="middle">50</text>
<line x1="963.5" y1="283.75" x2="963.5" y2="293.25" stroke="#000" stroke-width="1.2"/>
<text x="963.5" y="318.3" font-size="15.6" text-anchor="middle">100</text>
<line x1="1054.73" y1="283.75" x2="1054.73" y2="293.25" stroke="#000" stroke-width="1.2"/>
<text x="1054.73" y="318.3" font-size="15.6" text-anchor="middle">150</text>
<line x1="1145.97" y1="283.75" x2="1145.97" y2="293.25" stroke="#000" stroke-width="1.2"/>
<text x="1145.97" y="318.3" font-size="15.6" text-anchor="middle">200</text>
<line x1="1237.21" y1="283.75" x2="1237.21" y2="293.25" stroke="#000" stroke-width="1.2"/>
<text x="1237.21" y="318.3" font-size="15.6" text-anchor="middle">250</text>
<text x="1024.62" y="356.2" font-size="15.2" text-anchor="middle">Patients (increasing risk socre)</text>
<text x="705.25" y="181.25" font-size="16" text-anchor="middle" transform="rotate(-90 705.25 181.25)">Risk score</text>
<circle cx="779.85" cy="101.4" r="4.7" fill="#FF0000"/>
<circle cx="779.85" cy="124.1" r="4.7" fill="#00FF00"/>
<text x="796.25" y="107.3" font-size="17.2">High risk</text>
<text x="796.25" y="130.3" font-size="17.2">Low Risk</text>
<g><circle cx="782.74" cy="577.44" r="4.4" fill="#00FF00"/><circle cx="784.64" cy="538.85" r="4.4" fill="#00FF00"/><circle cx="786.39" cy="561.07" r="4.4" fill="#00FF00"/><circle cx="788.15" cy="603.46" r="4.4" fill="#00FF00"/><circle cx="789.76" cy="555.95" r="4.4" fill="#00FF00"/><circle cx="791.8" cy="588.55" r="4.4" fill="#00FF00"/><circle cx="793.41" cy="501.43" r="4.4" fill="#00FF00"/><circle cx="795.17" cy="536.22" r="4.4" fill="#FF0000"/><circle cx="797.07" cy="538.12" r="4.4" fill="#00FF00"/><circle cx="799.11" cy="603.46" r="4.4" fill="#00FF00"/><circle cx="801.01" cy="553.76" r="4.4" fill="#00FF00"/><circle cx="802.48" cy="595.42" r="4.4" fill="#00FF00"/><circle cx="804.67" cy="534.76" r="4.4" fill="#00FF00"/><circle cx="806.42" cy="544.26" r="4.4" fill="#00FF00"/><circle cx="808.03" cy="579.05" r="4.4" fill="#00FF00"/><circle cx="810.08" cy="604.93" r="4.4" fill="#FF0000"/><circle cx="811.98" cy="570.86" r="4.4" fill="#00FF00"/><circle cx="813.44" cy="475.26" r="4.4" fill="#00FF00"/><circle cx="815.34" cy="543.82" r="4.4" fill="#00FF00"/><circle cx="817.1" cy="611.5" r="4.4" fill="#00FF00"/><circle cx="819" cy="559.61" r="4.4" fill="#00FF00"/><circle cx="821.04" cy="537.68" r="4.4" fill="#00FF00"/><circle cx="822.65" cy="617.35" r="4.4" fill="#00FF00"/><circle cx="824.7" cy="525.25" r="4.4" fill="#00FF00"/><circle cx="826.16" cy="605.66" r="4.4" fill="#00FF00"/><circle cx="828.35" cy="458.3" r="4.4" fill="#00FF00"/><circle cx="830.25" cy="572.03" r="4.4" fill="#00FF00"/><circle cx="832.01" cy="540.6" r="4.4" fill="#00FF00"/><circle cx="834.2" cy="462.39" r="4.4" fill="#00FF00"/><circle cx="835.37" cy="577.44" r="4.4" fill="#FF0000"/><circle cx="837.27" cy="474.38" r="4.4" fill="#00FF00"/><circle cx="839.03" cy="566.19" r="4.4" fill="#00FF00"/><circle cx="840.78" cy="618.81" r="4.4" fill="#00FF00"/><circle cx="843.41" cy="613.7" r="4.4" fill="#00FF00"/><circle cx="844.87" cy="589.87" r="4.4" fill="#00FF00"/><circle cx="848.24" cy="615.89" r="4.4" fill="#FF0000"/><circle cx="850.28" cy="502.3" r="4.4" fill="#00FF00"/><circle cx="851.75" cy="560.63" r="4.4" fill="#00FF00"/><circle cx="853.65" cy="553.32" r="4.4" fill="#00FF00"/><circle cx="855.4" cy="536.95" r="4.4" fill="#00FF00"/><circle cx="857.3" cy="610.04" r="4.4" fill="#00FF00"/><circle cx="859.2" cy="546.45" r="4.4" fill="#00FF00"/><circle cx="860.96" cy="571.3" r="4.4" fill="#00FF00"/><circle cx="862.86" cy="428.77" r="4.4" fill="#00FF00"/><circle cx="864.91" cy="513.85" r="4.4" fill="#00FF00"/><circle cx="866.37" cy="568.67" r="4.4" fill="#FF0000"/><circle cx="868.27" cy="476.72" r="4.4" fill="#00FF00"/><circle cx="870.17" cy="603.46" r="4.4" fill="#00FF00"/><circle cx="871.92" cy="558.58" r="4.4" fill="#00FF00"/><circle cx="873.38" cy="595.13" r="4.4" fill="#FF0000"/><circle cx="875.58" cy="541.33" r="4.4" fill="#00FF00"/><circle cx="877.48" cy="525.98" r="4.4" fill="#00FF00"/><circle cx="879.23" cy="596.89" r="4.4" fill="#00FF00"/><circle cx="881.43" cy="585.63" r="4.4" fill="#00FF00"/><circle cx="882.89" cy="555.22" r="4.4" fill="#00FF00"/><circle cx="885.08" cy="538.7" r="4.4" fill="#00FF00"/><circle cx="886.98" cy="537.68" r="4.4" fill="#00FF00"/><circle cx="888.3" cy="587.38" r="4.4" fill="#00FF00"/><circle cx="890.2" cy="604.93" r="4.4" fill="#FF0000"/><circle cx="891.95" cy="511.37" r="4.4" fill="#FF0000"/><circle cx="893.85" cy="611.5" r="4.4" fill="#00FF00"/><circle cx="895.75" cy="558.58" r="4.4" fill="#00FF00"/><circle cx="897.51" cy="503.76" r="4.4" fill="#00FF00"/><circle cx="899.26" cy="466.78" r="4.4" fill="#00FF00"/><circle cx="901.16" cy="580.8" r="4.4" fill="#00FF00"/><circle cx="902.92" cy="574.66" r="4.4" fill="#FF0000"/><circle cx="904.82" cy="556.25" r="4.4" fill="#00FF00"/><circle cx="907.01" cy="591.04" r="4.4" fill="#00FF00"/><circle cx="908.47" cy="596.89" r="4.4" fill="#00FF00"/><circle cx="910.67" cy="592.5" r="4.4" fill="#00FF00"/><circle cx="912.13" cy="507.27" r="4.4" fill="#00FF00"/><circle cx="913.88" cy="581.97" r="4.4" fill="#00FF00"/><circle cx="915.78" cy="605.66" r="4.4" fill="#FF0000"/><circle cx="917.69" cy="589.87" r="4.4" fill="#00FF00"/><circle cx="919.44" cy="516.19" r="4.4" fill="#FF0000"/><circle cx="921.19" cy="573.79" r="4.4" fill="#00FF00"/><circle cx="923.09" cy="509.17" r="4.4" fill="#00FF00"/><circle cx="924.85" cy="610.04" r="4.4" fill="#00FF00"/><circle cx="926.75" cy="618.08" r="4.4" fill="#00FF00"/><circle cx="928.5" cy="527.45" r="4.4" fill="#00FF00"/><circle cx="930.41" cy="515.31" r="4.4" fill="#00FF00"/><circle cx="932.16" cy="548.94" r="4.4" fill="#00FF00"/><circle cx="933.77" cy="588.41" r="4.4" fill="#FF0000"/><circle cx="935.52" cy="573.93" r="4.4" fill="#FF0000"/><circle cx="937.72" cy="572.47" r="4.4" fill="#00FF00"/><circle cx="939.62" cy="494.55" r="4.4" fill="#00FF00"/><circle cx="941.08" cy="598.35" r="4.4" fill="#00FF00"/><circle cx="943.12" cy="594.98" r="4.4" fill="#FF0000"/><circle cx="945.03" cy="586.65" r="4.4" fill="#00FF00"/><circle cx="946.78" cy="524.96" r="4.4" fill="#FF0000"/><circle cx="948.68" cy="517.21" r="4.4" fill="#FF0000"/><circle cx="950.58" cy="461.96" r="4.4" fill="#00FF00"/><circle cx="952.34" cy="534.32" r="4.4" fill="#00FF00"/><circle cx="954.09" cy="557.41" r="4.4" fill="#00FF00"/><circle cx="955.99" cy="602" r="4.4" fill="#00FF00"/><circle cx="958.18" cy="570.57" r="4.4" fill="#00FF00"/><circle cx="959.65" cy="575.69" r="4.4" fill="#00FF00"/><circle cx="961.4" cy="583.44" r="4.4" fill="#FF0000"/><circle cx="963.3" cy="571.3" r="4.4" fill="#00FF00"/><circle cx="965.06" cy="498.21" r="4.4" fill="#00FF00"/><circle cx="966.52" cy="597.91" r="4.4" fill="#00FF00"/><circle cx="968.86" cy="571.3" r="4.4" fill="#00FF00"/><circle cx="970.32" cy="517.65" r="4.4" fill="#00FF00"/><circle cx="972.51" cy="539.58" r="4.4" fill="#00FF00"/><circle cx="973.54" cy="603.46" r="4.4" fill="#00FF00"/><circle cx="975.73" cy="603.17" r="4.4" fill="#FF0000"/><circle cx="977.92" cy="583.44" r="4.4" fill="#00FF00"/><circle cx="979.38" cy="618.08" r="4.4" fill="#00FF00"/><circle cx="981.58" cy="503.62" r="4.4" fill="#00FF00"/><circle cx="983.04" cy="565.46" r="4.4" fill="#FF0000"/><circle cx="985.23" cy="618.81" r="4.4" fill="#00FF00"/><circle cx="986.69" cy="534.32" r="4.4" fill="#00FF00"/><circle cx="988.89" cy="540.6" r="4.4" fill="#00FF00"/><circle cx="990.64" cy="570.13" r="4.4" fill="#00FF00"/><circle cx="992.25" cy="584.02" r="4.4" fill="#00FF00"/><circle cx="994.3" cy="539.87" r="4.4" fill="#00FF00"/><circle cx="996.2" cy="555.22" r="4.4" fill="#00FF00"/><circle cx="998.39" cy="614.43" r="4.4" fill="#FF0000"/><circle cx="999.85" cy="550.84" r="4.4" fill="#00FF00"/><circle cx="1002.05" cy="614.43" r="4.4" fill="#FF0000"/><circle cx="1003.22" cy="537.24" r="4.4" fill="#00FF00"/><circle cx="1004.97" cy="515.75" r="4.4" fill="#00FF00"/><circle cx="1006.87" cy="506.25" r="4.4" fill="#00FF00"/><circle cx="1008.62" cy="551.86" r="4.4" fill="#FF0000"/><circle cx="1010.53" cy="614.43" r="4.4" fill="#FF0000"/><circle cx="1012.57" cy="531.39" r="4.4" fill="#00FF00"/><circle cx="1014.47" cy="563.99" r="4.4" fill="#00FF00"/><circle cx="1016.23" cy="491.34" r="4.4" fill="#00FF00"/><circle cx="1018.13" cy="611.5" r="4.4" fill="#FF0000"/><circle cx="1019.59" cy="498.94" r="4.4" fill="#00FF00"/><circle cx="1022.51" cy="612.97" r="4.4" fill="#FF0000"/><circle cx="1022.95" cy="583.73" r="4.4" fill="#FF0000"/><circle cx="1022.95" cy="599.81" r="4.4" fill="#00FF00"/><circle cx="1027.22" cy="574.23" r="4.4" fill="#00FF00"/><circle cx="1028.82" cy="593.96" r="4.4" fill="#00FF00"/><circle cx="1029.85" cy="607.12" r="4.4" fill="#00FF00"/><circle cx="1032.33" cy="605.66" r="4.4" fill="#FF0000"/><circle cx="1034.53" cy="462.1" r="4.4" fill="#00FF00"/><circle cx="1036.14" cy="585.92" r="4.4" fill="#00FF00"/><circle cx="1038.18" cy="551.28" r="4.4" fill="#00FF00"/><circle cx="1040.08" cy="564.72" r="4.4" fill="#00FF00"/><circle cx="1041.25" cy="546.01" r="4.4" fill="#00FF00"/><circle cx="1043.74" cy="563.26" r="4.4" fill="#00FF00"/><circle cx="1044.47" cy="543.53" r="4.4" fill="#00FF00"/><circle cx="1047.1" cy="569.84" r="4.4" fill="#00FF00"/><circle cx="1049.15" cy="536.95" r="4.4" fill="#00FF00"/><circle cx="1050.76" cy="567.65" r="4.4" fill="#00FF00"/><circle cx="1052.22" cy="543.09" r="4.4" fill="#00FF00"/><circle cx="1054.41" cy="605.95" r="4.4" fill="#FF0000"/><circle cx="1056.17" cy="550.11" r="4.4" fill="#FF0000"/><circle cx="1057.92" cy="548.35" r="4.4" fill="#00FF00"/><circle cx="1059.82" cy="536.95" r="4.4" fill="#00FF00"/><circle cx="1061.72" cy="608.87" r="4.4" fill="#FF0000"/><circle cx="1063.48" cy="566.92" r="4.4" fill="#00FF00"/><circle cx="1065.38" cy="549.37" r="4.4" fill="#FF0000"/><circle cx="1067.42" cy="584.17" r="4.4" fill="#00FF00"/><circle cx="1069.03" cy="524.52" r="4.4" fill="#00FF00"/><circle cx="1070.79" cy="539.58" r="4.4" fill="#00FF00"/><circle cx="1072.69" cy="452.16" r="4.4" fill="#00FF00"/><circle cx="1074.44" cy="601.56" r="4.4" fill="#00FF00"/><circle cx="1076.34" cy="526.42" r="4.4" fill="#00FF00"/><circle cx="1078.1" cy="484.32" r="4.4" fill="#00FF00"/><circle cx="1079.85" cy="581.54" r="4.4" fill="#FF0000"/><circle cx="1081.75" cy="598.64" r="4.4" fill="#FF0000"/><circle cx="1083.51" cy="573.06" r="4.4" fill="#FF0000"/><circle cx="1085.41" cy="593.23" r="4.4" fill="#00FF00"/><circle cx="1087.6" cy="594.69" r="4.4" fill="#00FF00"/><circle cx="1089.06" cy="579.64" r="4.4" fill="#FF0000"/><circle cx="1090.96" cy="618.81" r="4.4" fill="#FF0000"/><circle cx="1092.72" cy="603.17" r="4.4" fill="#00FF00"/><circle cx="1094.62" cy="615.89" r="4.4" fill="#FF0000"/><circle cx="1096.37" cy="569.4" r="4.4" fill="#00FF00"/><circle cx="1098.27" cy="527.74" r="4.4" fill="#00FF00"/><circle cx="1100.03" cy="598.64" r="4.4" fill="#FF0000"/><circle cx="1101.78" cy="573.06" r="4.4" fill="#00FF00"/><circle cx="1103.68" cy="534.46" r="4.4" fill="#00FF00"/><circle cx="1105.44" cy="478.77" r="4.4" fill="#00FF00"/><circle cx="1107.34" cy="556.25" r="4.4" fill="#FF0000"/><circle cx="1109.09" cy="563.7" r="4.4" fill="#FF0000"/><circle cx="1111.28" cy="543.23" r="4.4" fill="#00FF00"/><circle cx="1112.75" cy="453.92" r="4.4" fill="#00FF00"/><circle cx="1114.94" cy="541.77" r="4.4" fill="#00FF00"/><circle cx="1116.11" cy="577.59" r="4.4" fill="#00FF00"/><circle cx="1119.03" cy="578.61" r="4.4" fill="#00FF00"/><circle cx="1120.06" cy="557.71" r="4.4" fill="#00FF00"/><circle cx="1121.96" cy="511.8" r="4.4" fill="#00FF00"/><circle cx="1124.88" cy="593.96" r="4.4" fill="#00FF00"/><circle cx="1127.51" cy="603.46" r="4.4" fill="#00FF00"/><circle cx="1129.56" cy="614.43" r="4.4" fill="#FF0000"/><circle cx="1131.02" cy="616.62" r="4.4" fill="#00FF00"/><circle cx="1132.92" cy="572.76" r="4.4" fill="#FF0000"/><circle cx="1134.68" cy="586.21" r="4.4" fill="#00FF00"/><circle cx="1136.58" cy="616.18" r="4.4" fill="#FF0000"/><circle cx="1138.33" cy="538.41" r="4.4" fill="#FF0000"/><circle cx="1140.23" cy="614.72" r="4.4" fill="#FF0000"/><circle cx="1141.7" cy="612.67" r="4.4" fill="#00FF00"/><circle cx="1143.89" cy="518.68" r="4.4" fill="#00FF00"/><circle cx="1145.64" cy="544.55" r="4.4" fill="#00FF00"/><circle cx="1147.54" cy="610.04" r="4.4" fill="#FF0000"/><circle cx="1149.3" cy="594.69" r="4.4" fill="#FF0000"/><circle cx="1151.2" cy="605.95" r="4.4" fill="#FF0000"/><circle cx="1152.66" cy="617.35" r="4.4" fill="#00FF00"/><circle cx="1154.85" cy="538.12" r="4.4" fill="#00FF00"/><circle cx="1156.61" cy="470" r="4.4" fill="#FF0000"/><circle cx="1158.51" cy="512.54" r="4.4" fill="#00FF00"/><circle cx="1160.26" cy="561.8" r="4.4" fill="#00FF00"/><circle cx="1162.16" cy="586.36" r="4.4" fill="#FF0000"/><circle cx="1163.92" cy="551.28" r="4.4" fill="#FF0000"/><circle cx="1165.53" cy="598.64" r="4.4" fill="#FF0000"/><circle cx="1167.28" cy="546.01" r="4.4" fill="#00FF00"/><circle cx="1169.47" cy="527.74" r="4.4" fill="#00FF00"/><circle cx="1171.37" cy="610.33" r="4.4" fill="#FF0000"/><circle cx="1173.13" cy="581.97" r="4.4" fill="#00FF00"/><circle cx="1174.88" cy="555.22" r="4.4" fill="#00FF00"/><circle cx="1176.05" cy="574.96" r="4.4" fill="#00FF00"/><circle cx="1178.25" cy="576.13" r="4.4" fill="#FF0000"/><circle cx="1180.15" cy="589.58" r="4.4" fill="#00FF00"/><circle cx="1181.9" cy="618.81" r="4.4" fill="#FF0000"/><circle cx="1184.09" cy="525.25" r="4.4" fill="#FF0000"/><circle cx="1184.83" cy="612.97" r="4.4" fill="#00FF00"/><circle cx="1187.46" cy="611.21" r="4.4" fill="#FF0000"/><circle cx="1189.5" cy="549.37" r="4.4" fill="#00FF00"/><circle cx="1191.41" cy="577.88" r="4.4" fill="#00FF00"/><circle cx="1193.6" cy="579.05" r="4.4" fill="#FF0000"/><circle cx="1194.77" cy="594.69" r="4.4" fill="#FF0000"/><circle cx="1196.96" cy="585.92" r="4.4" fill="#FF0000"/><circle cx="1198.72" cy="581.97" r="4.4" fill="#FF0000"/><circle cx="1200.18" cy="571.3" r="4.4" fill="#00FF00"/><circle cx="1202.37" cy="604.93" r="4.4" fill="#FF0000"/><circle cx="1204.12" cy="561.07" r="4.4" fill="#FF0000"/><circle cx="1205.73" cy="600.83" r="4.4" fill="#FF0000"/><circle cx="1207.78" cy="535.78" r="4.4" fill="#FF0000"/><circle cx="1208.95" cy="611.5" r="4.4" fill="#FF0000"/><circle cx="1211.87" cy="612.97" r="4.4" fill="#FF0000"/><circle cx="1213.04" cy="590.75" r="4.4" fill="#FF0000"/><circle cx="1214.8" cy="579.34" r="4.4" fill="#FF0000"/><circle cx="1216.7" cy="584.46" r="4.4" fill="#FF0000"/><circle cx="1218.45" cy="572.03" r="4.4" fill="#FF0000"/><circle cx="1220.35" cy="546.01" r="4.4" fill="#FF0000"/><circle cx="1222.11" cy="552.74" r="4.4" fill="#FF0000"/><circle cx="1224.01" cy="616.62" r="4.4" fill="#FF0000"/><circle cx="1225.76" cy="556.25" r="4.4" fill="#00FF00"/><circle cx="1227.66" cy="524.23" r="4.4" fill="#FF0000"/><circle cx="1229.42" cy="575.69" r="4.4" fill="#FF0000"/><circle cx="1231.32" cy="539.87" r="4.4" fill="#00FF00"/><circle cx="1233.07" cy="617.35" r="4.4" fill="#FF0000"/><circle cx="1234.97" cy="546.89" r="4.4" fill="#FF0000"/><circle cx="1236.73" cy="559.61" r="4.4" fill="#FF0000"/><circle cx="1238.63" cy="613.7" r="4.4" fill="#00FF00"/><circle cx="1240.38" cy="584.46" r="4.4" fill="#FF0000"/><circle cx="1242.58" cy="616.62" r="4.4" fill="#FF0000"/><circle cx="1244.04" cy="567.21" r="4.4" fill="#FF0000"/><circle cx="1246.23" cy="614.43" r="4.4" fill="#FF0000"/><circle cx="1247.69" cy="594.69" r="4.4" fill="#FF0000"/><circle cx="1249.59" cy="581.54" r="4.4" fill="#FF0000"/><circle cx="1251.35" cy="498.94" r="4.4" fill="#00FF00"/><circle cx="1253.25" cy="467.22" r="4.4" fill="#FF0000"/><circle cx="1255" cy="618.08" r="4.4" fill="#00FF00"/><circle cx="1257.2" cy="604.93" r="4.4" fill="#FF0000"/><circle cx="1258.66" cy="594.25" r="4.4" fill="#FF0000"/><circle cx="1260.56" cy="559.61" r="4.4" fill="#00FF00"/><circle cx="1262.31" cy="610.77" r="4.4" fill="#00FF00"/><circle cx="1264.22" cy="529.35" r="4.4" fill="#00FF00"/><circle cx="1265.97" cy="604.49" r="4.4" fill="#FF0000"/></g>
<circle cx="779.85" cy="443.8" r="4.7" fill="#FF0000"/>
<circle cx="779.85" cy="466.8" r="4.7" fill="#00FF00"/>
<text x="796.25" y="449.8" font-size="17.2">Dead</text>
<text x="796.25" y="472.8" font-size="17.2">Alive</text>
<line x1="956.2" y1="422.25" x2="956.2" y2="626.25" stroke="#D3D3D3" stroke-width="1.4" stroke-dasharray="4 4"/>
<rect x="763.5" y="420.75" width="522.25" height="205.5" fill="none" stroke="#000" stroke-width="1.45"/>
<line x1="754.2" y1="618.6" x2="763.5" y2="618.6" stroke="#000" stroke-width="1.2"/>
<text x="742" y="618.6" font-size="15.6" text-anchor="middle" transform="rotate(-90 742 618.6)">0</text>
<line x1="754.2" y1="588.04" x2="763.5" y2="588.04" stroke="#000" stroke-width="1.2"/>
<text x="742" y="588.04" font-size="15.6" text-anchor="middle" transform="rotate(-90 742 588.04)">2</text>
<line x1="754.2" y1="557.48" x2="763.5" y2="557.48" stroke="#000" stroke-width="1.2"/>
<text x="742" y="557.48" font-size="15.6" text-anchor="middle" transform="rotate(-90 742 557.48)">4</text>
<line x1="754.2" y1="526.92" x2="763.5" y2="526.92" stroke="#000" stroke-width="1.2"/>
<text x="742" y="526.92" font-size="15.6" text-anchor="middle" transform="rotate(-90 742 526.92)">6</text>
<line x1="754.2" y1="496.36" x2="763.5" y2="496.36" stroke="#000" stroke-width="1.2"/>
<text x="742" y="496.36" font-size="15.6" text-anchor="middle" transform="rotate(-90 742 496.36)">8</text>
<line x1="754.2" y1="465.8" x2="763.5" y2="465.8" stroke="#000" stroke-width="1.2"/>
<text x="742" y="465.8" font-size="15.6" text-anchor="middle" transform="rotate(-90 742 465.8)">10</text>
<line x1="754.2" y1="435.24" x2="763.5" y2="435.24" stroke="#000" stroke-width="1.2"/>
<line x1="781.02" y1="626.25" x2="781.02" y2="635.75" stroke="#000" stroke-width="1.2"/>
<text x="781.02" y="660.5" font-size="15.6" text-anchor="middle">0</text>
<line x1="872.26" y1="626.25" x2="872.26" y2="635.75" stroke="#000" stroke-width="1.2"/>
<text x="872.26" y="660.5" font-size="15.6" text-anchor="middle">50</text>
<line x1="963.5" y1="626.25" x2="963.5" y2="635.75" stroke="#000" stroke-width="1.2"/>
<text x="963.5" y="660.5" font-size="15.6" text-anchor="middle">100</text>
<line x1="1054.73" y1="626.25" x2="1054.73" y2="635.75" stroke="#000" stroke-width="1.2"/>
<text x="1054.73" y="660.5" font-size="15.6" text-anchor="middle">150</text>
<line x1="1145.97" y1="626.25" x2="1145.97" y2="635.75" stroke="#000" stroke-width="1.2"/>
<text x="1145.97" y="660.5" font-size="15.6" text-anchor="middle">200</text>
<line x1="1237.21" y1="626.25" x2="1237.21" y2="635.75" stroke="#000" stroke-width="1.2"/>
<text x="1237.21" y="660.5" font-size="15.6" text-anchor="middle">250</text>
<text x="1024.62" y="698.7" font-size="15.2" text-anchor="middle">Patients (increasing risk socre)</text>
<text x="705.25" y="523.5" font-size="15.8" text-anchor="middle" transform="rotate(-90 705.25 523.5)">Survival time (years)</text>
<path fill="#FF0000" d="M695.4 752.6h2.32v88.1h-2.32zM719 752.6h2.32v88.1h-2.32zM752.43 752.6h2.32v88.1h-2.32zM846.82 752.6h2.32v88.1h-2.32zM866.49 752.6h2.32v88.1h-2.32zM964.82 752.6h2.32v88.1h-2.32zM697.37 840.7h2.32v88h-2.32zM699.33 840.7h2.32v88h-2.32zM720.97 840.7h2.32v88h-2.32zM736.7 840.7h2.32v88h-2.32zM746.53 840.7h2.32v88h-2.32zM750.46 840.7h2.32v88h-2.32zM772.1 840.7h2.32v88h-2.32zM777.99 840.7h2.32v88h-2.32zM797.66 840.7h2.32v88h-2.32zM831.09 840.7h2.32v88h-2.32zM915.65 840.7h2.32v88h-2.32zM1104.44 928.7h2.32v88h-2.32zM1120.17 928.7h2.32v88h-2.32zM1147.7 928.7h2.32v88h-2.32zM724.9 1016.7h2.32v88.3h-2.32zM807.49 1016.7h2.32v88.3h-2.32zM895.99 1016.7h2.32v88.3h-2.32z"/>
<path fill="#FF7272" d="M697.37 752.6h2.32v88.1h-2.32zM707.2 752.6h2.32v88.1h-2.32zM777.99 752.6h2.32v88.1h-2.32zM781.93 752.6h2.32v88.1h-2.32zM783.89 752.6h2.32v88.1h-2.32zM793.73 752.6h2.32v88.1h-2.32zM801.59 752.6h2.32v88.1h-2.32zM827.16 752.6h2.32v88.1h-2.32zM880.25 752.6h2.32v88.1h-2.32zM919.59 752.6h2.32v88.1h-2.32zM1013.98 752.6h2.32v88.1h-2.32zM1047.41 752.6h2.32v88.1h-2.32zM1074.94 752.6h2.32v88.1h-2.32zM709.17 840.7h2.32v88h-2.32zM715.07 840.7h2.32v88h-2.32zM732.76 840.7h2.32v88h-2.32zM764.23 840.7h2.32v88h-2.32zM787.83 840.7h2.32v88h-2.32zM809.46 840.7h2.32v88h-2.32zM811.43 840.7h2.32v88h-2.32zM821.26 840.7h2.32v88h-2.32zM833.06 840.7h2.32v88h-2.32zM872.39 840.7h2.32v88h-2.32zM894.02 840.7h2.32v88h-2.32zM901.89 840.7h2.32v88h-2.32zM905.82 840.7h2.32v88h-2.32zM929.42 840.7h2.32v88h-2.32zM943.18 840.7h2.32v88h-2.32zM954.98 840.7h2.32v88h-2.32zM1029.71 840.7h2.32v88h-2.32zM1049.38 840.7h2.32v88h-2.32zM1074.94 840.7h2.32v88h-2.32zM974.65 928.7h2.32v88h-2.32zM1063.14 928.7h2.32v88h-2.32zM1069.04 928.7h2.32v88h-2.32zM1090.67 928.7h2.32v88h-2.32zM1098.54 928.7h2.32v88h-2.32zM1135.91 928.7h2.32v88h-2.32zM1157.54 928.7h2.32v88h-2.32zM1169.34 928.7h2.32v88h-2.32zM1179.17 928.7h2.32v88h-2.32zM1189 928.7h2.32v88h-2.32zM1208.67 928.7h2.32v88h-2.32zM722.93 1016.7h2.32v88.3h-2.32zM726.86 1016.7h2.32v88.3h-2.32zM734.73 1016.7h2.32v88.3h-2.32zM738.66 1016.7h2.32v88.3h-2.32zM740.63 1016.7h2.32v88.3h-2.32zM756.36 1016.7h2.32v88.3h-2.32zM787.83 1016.7h2.32v88.3h-2.32zM848.79 1016.7h2.32v88.3h-2.32zM852.72 1016.7h2.32v88.3h-2.32zM870.42 1016.7h2.32v88.3h-2.32zM886.15 1016.7h2.32v88.3h-2.32zM890.09 1016.7h2.32v88.3h-2.32zM901.89 1016.7h2.32v88.3h-2.32zM905.82 1016.7h2.32v88.3h-2.32zM943.18 1016.7h2.32v88.3h-2.32z"/>
<path fill="#FF0000" d="M699.33 752.6h2.32v88.1h-2.32zM715.07 752.6h2.32v88.1h-2.32zM754.4 752.6h2.32v88.1h-2.32zM762.26 752.6h2.32v88.1h-2.32zM854.69 752.6h2.32v88.1h-2.32zM766.2 840.7h2.32v88h-2.32zM793.73 840.7h2.32v88h-2.32zM807.49 840.7h2.32v88h-2.32zM817.33 840.7h2.32v88h-2.32zM884.19 840.7h2.32v88h-2.32zM886.15 840.7h2.32v88h-2.32zM1214.57 928.7h2.32v88h-2.32zM705.23 1016.7h2.32v88.3h-2.32zM746.53 1016.7h2.32v88.3h-2.32zM764.23 1016.7h2.32v88.3h-2.32zM766.2 1016.7h2.32v88.3h-2.32zM838.96 1016.7h2.32v88.3h-2.32zM923.52 1016.7h2.32v88.3h-2.32z"/>
<path fill="#FFD0D0" d="M701.3 752.6h2.32v88.1h-2.32zM726.86 752.6h2.32v88.1h-2.32zM795.69 752.6h2.32v88.1h-2.32zM821.26 752.6h2.32v88.1h-2.32zM823.23 752.6h2.32v88.1h-2.32zM860.59 752.6h2.32v88.1h-2.32zM864.52 752.6h2.32v88.1h-2.32zM894.02 752.6h2.32v88.1h-2.32zM921.55 752.6h2.32v88.1h-2.32zM927.45 752.6h2.32v88.1h-2.32zM941.22 752.6h2.32v88.1h-2.32zM978.58 752.6h2.32v88.1h-2.32zM980.55 752.6h2.32v88.1h-2.32zM988.41 752.6h2.32v88.1h-2.32zM992.35 752.6h2.32v88.1h-2.32zM1004.15 752.6h2.32v88.1h-2.32zM1023.81 752.6h2.32v88.1h-2.32zM1059.21 752.6h2.32v88.1h-2.32zM1065.11 752.6h2.32v88.1h-2.32zM1078.88 752.6h2.32v88.1h-2.32zM1084.78 752.6h2.32v88.1h-2.32zM1090.67 752.6h2.32v88.1h-2.32zM1135.91 752.6h2.32v88.1h-2.32zM717.03 840.7h2.32v88h-2.32zM776.03 840.7h2.32v88h-2.32zM803.56 840.7h2.32v88h-2.32zM878.29 840.7h2.32v88h-2.32zM907.79 840.7h2.32v88h-2.32zM972.68 840.7h2.32v88h-2.32zM974.65 840.7h2.32v88h-2.32zM980.55 840.7h2.32v88h-2.32zM1002.18 840.7h2.32v88h-2.32zM1015.95 840.7h2.32v88h-2.32zM1023.81 840.7h2.32v88h-2.32zM1037.58 840.7h2.32v88h-2.32zM1039.54 840.7h2.32v88h-2.32zM1053.31 840.7h2.32v88h-2.32zM1084.78 840.7h2.32v88h-2.32zM1094.61 840.7h2.32v88h-2.32zM1143.77 840.7h2.32v88h-2.32zM872.39 928.7h2.32v88h-2.32zM892.05 928.7h2.32v88h-2.32zM939.25 928.7h2.32v88h-2.32zM994.31 928.7h2.32v88h-2.32zM1006.11 928.7h2.32v88h-2.32zM1039.54 928.7h2.32v88h-2.32zM1049.38 928.7h2.32v88h-2.32zM1074.94 928.7h2.32v88h-2.32zM1078.88 928.7h2.32v88h-2.32zM1100.51 928.7h2.32v88h-2.32zM1112.31 928.7h2.32v88h-2.32zM1116.24 928.7h2.32v88h-2.32zM1128.04 928.7h2.32v88h-2.32zM1137.87 928.7h2.32v88h-2.32zM1167.37 928.7h2.32v88h-2.32zM1194.9 928.7h2.32v88h-2.32zM1200.8 928.7h2.32v88h-2.32zM1212.6 928.7h2.32v88h-2.32zM697.37 1016.7h2.32v88.3h-2.32zM699.33 1016.7h2.32v88.3h-2.32zM768.16 1016.7h2.32v88.3h-2.32zM781.93 1016.7h2.32v88.3h-2.32zM797.66 1016.7h2.32v88.3h-2.32zM833.06 1016.7h2.32v88.3h-2.32zM846.82 1016.7h2.32v88.3h-2.32zM878.29 1016.7h2.32v88.3h-2.32zM894.02 1016.7h2.32v88.3h-2.32zM921.55 1016.7h2.32v88.3h-2.32zM933.35 1016.7h2.32v88.3h-2.32zM941.22 1016.7h2.32v88.3h-2.32zM953.02 1016.7h2.32v88.3h-2.32zM964.82 1016.7h2.32v88.3h-2.32zM966.78 1016.7h2.32v88.3h-2.32zM994.31 1016.7h2.32v88.3h-2.32zM1120.17 1016.7h2.32v88.3h-2.32z"/>
<path fill="#FF3434" d="M703.27 752.6h2.32v88.1h-2.32zM705.23 752.6h2.32v88.1h-2.32zM720.97 752.6h2.32v88.1h-2.32zM732.76 752.6h2.32v88.1h-2.32zM736.7 752.6h2.32v88.1h-2.32zM738.66 752.6h2.32v88.1h-2.32zM750.46 752.6h2.32v88.1h-2.32zM756.36 752.6h2.32v88.1h-2.32zM768.16 752.6h2.32v88.1h-2.32zM787.83 752.6h2.32v88.1h-2.32zM791.76 752.6h2.32v88.1h-2.32zM797.66 752.6h2.32v88.1h-2.32zM803.56 752.6h2.32v88.1h-2.32zM831.09 752.6h2.32v88.1h-2.32zM835.02 752.6h2.32v88.1h-2.32zM840.92 752.6h2.32v88.1h-2.32zM862.56 752.6h2.32v88.1h-2.32zM878.29 752.6h2.32v88.1h-2.32zM911.72 752.6h2.32v88.1h-2.32zM705.23 840.7h2.32v88h-2.32zM726.86 840.7h2.32v88h-2.32zM734.73 840.7h2.32v88h-2.32zM781.93 840.7h2.32v88h-2.32zM785.86 840.7h2.32v88h-2.32zM791.76 840.7h2.32v88h-2.32zM805.53 840.7h2.32v88h-2.32zM836.99 840.7h2.32v88h-2.32zM840.92 840.7h2.32v88h-2.32zM842.89 840.7h2.32v88h-2.32zM860.59 840.7h2.32v88h-2.32zM864.52 840.7h2.32v88h-2.32zM899.92 840.7h2.32v88h-2.32zM1027.75 840.7h2.32v88h-2.32zM1059.21 840.7h2.32v88h-2.32zM1088.71 928.7h2.32v88h-2.32zM1171.3 928.7h2.32v88h-2.32zM709.17 1016.7h2.32v88.3h-2.32zM720.97 1016.7h2.32v88.3h-2.32zM752.43 1016.7h2.32v88.3h-2.32zM758.33 1016.7h2.32v88.3h-2.32zM770.13 1016.7h2.32v88.3h-2.32zM817.33 1016.7h2.32v88.3h-2.32z"/>
<path fill="#FF0000" d="M709.17 752.6h2.32v88.1h-2.32zM711.13 840.7h2.32v88h-2.32zM876.32 840.7h2.32v88h-2.32z"/>
<path fill="#FF0000" d="M711.13 752.6h2.32v88.1h-2.32zM742.6 752.6h2.32v88.1h-2.32zM774.06 752.6h2.32v88.1h-2.32zM813.39 752.6h2.32v88.1h-2.32zM838.96 752.6h2.32v88.1h-2.32zM945.15 752.6h2.32v88.1h-2.32zM713.1 840.7h2.32v88h-2.32zM754.4 840.7h2.32v88h-2.32zM762.26 840.7h2.32v88h-2.32zM862.56 840.7h2.32v88h-2.32zM1072.98 928.7h2.32v88h-2.32zM1210.63 928.7h2.32v88h-2.32zM748.5 1016.7h2.32v88.3h-2.32zM783.89 1016.7h2.32v88.3h-2.32zM799.63 1016.7h2.32v88.3h-2.32z"/>
<path fill="#FFB1B1" d="M713.1 752.6h2.32v88.1h-2.32zM722.93 752.6h2.32v88.1h-2.32zM770.13 752.6h2.32v88.1h-2.32zM772.1 752.6h2.32v88.1h-2.32zM799.63 752.6h2.32v88.1h-2.32zM809.46 752.6h2.32v88.1h-2.32zM876.32 752.6h2.32v88.1h-2.32zM886.15 752.6h2.32v88.1h-2.32zM890.09 752.6h2.32v88.1h-2.32zM954.98 752.6h2.32v88.1h-2.32zM1010.05 752.6h2.32v88.1h-2.32zM1017.91 752.6h2.32v88.1h-2.32zM1021.85 752.6h2.32v88.1h-2.32zM701.3 840.7h2.32v88h-2.32zM730.8 840.7h2.32v88h-2.32zM756.36 840.7h2.32v88h-2.32zM799.63 840.7h2.32v88h-2.32zM813.39 840.7h2.32v88h-2.32zM815.36 840.7h2.32v88h-2.32zM819.29 840.7h2.32v88h-2.32zM825.19 840.7h2.32v88h-2.32zM827.16 840.7h2.32v88h-2.32zM838.96 840.7h2.32v88h-2.32zM846.82 840.7h2.32v88h-2.32zM868.46 840.7h2.32v88h-2.32zM895.99 840.7h2.32v88h-2.32zM897.95 840.7h2.32v88h-2.32zM913.69 840.7h2.32v88h-2.32zM933.35 840.7h2.32v88h-2.32zM964.82 840.7h2.32v88h-2.32zM988.41 840.7h2.32v88h-2.32zM998.25 840.7h2.32v88h-2.32zM1006.11 840.7h2.32v88h-2.32zM1047.41 840.7h2.32v88h-2.32zM1076.91 840.7h2.32v88h-2.32zM1102.47 840.7h2.32v88h-2.32zM943.18 928.7h2.32v88h-2.32zM982.52 928.7h2.32v88h-2.32zM988.41 928.7h2.32v88h-2.32zM1017.91 928.7h2.32v88h-2.32zM1045.44 928.7h2.32v88h-2.32zM1082.81 928.7h2.32v88h-2.32zM1084.78 928.7h2.32v88h-2.32zM1118.21 928.7h2.32v88h-2.32zM1149.67 928.7h2.32v88h-2.32zM1175.24 928.7h2.32v88h-2.32zM1185.07 928.7h2.32v88h-2.32zM1190.97 928.7h2.32v88h-2.32zM760.3 1016.7h2.32v88.3h-2.32zM793.73 1016.7h2.32v88.3h-2.32zM803.56 1016.7h2.32v88.3h-2.32zM813.39 1016.7h2.32v88.3h-2.32zM825.19 1016.7h2.32v88.3h-2.32zM835.02 1016.7h2.32v88.3h-2.32zM858.62 1016.7h2.32v88.3h-2.32zM860.59 1016.7h2.32v88.3h-2.32zM872.39 1016.7h2.32v88.3h-2.32zM874.36 1016.7h2.32v88.3h-2.32zM882.22 1016.7h2.32v88.3h-2.32zM909.75 1016.7h2.32v88.3h-2.32zM913.69 1016.7h2.32v88.3h-2.32zM917.62 1016.7h2.32v88.3h-2.32zM956.95 1016.7h2.32v88.3h-2.32zM980.55 1016.7h2.32v88.3h-2.32zM992.35 1016.7h2.32v88.3h-2.32zM998.25 1016.7h2.32v88.3h-2.32zM1012.01 1016.7h2.32v88.3h-2.32zM1023.81 1016.7h2.32v88.3h-2.32zM1027.75 1016.7h2.32v88.3h-2.32zM1031.68 1016.7h2.32v88.3h-2.32z"/>
<path fill="#FF9292" d="M717.03 752.6h2.32v88.1h-2.32zM760.3 752.6h2.32v88.1h-2.32zM811.43 752.6h2.32v88.1h-2.32zM815.36 752.6h2.32v88.1h-2.32zM819.29 752.6h2.32v88.1h-2.32zM829.12 752.6h2.32v88.1h-2.32zM833.06 752.6h2.32v88.1h-2.32zM844.86 752.6h2.32v88.1h-2.32zM897.95 752.6h2.32v88.1h-2.32zM905.82 752.6h2.32v88.1h-2.32zM907.79 752.6h2.32v88.1h-2.32zM931.38 752.6h2.32v88.1h-2.32zM943.18 752.6h2.32v88.1h-2.32zM953.02 752.6h2.32v88.1h-2.32zM970.72 752.6h2.32v88.1h-2.32zM974.65 752.6h2.32v88.1h-2.32zM1000.21 752.6h2.32v88.1h-2.32zM1025.78 752.6h2.32v88.1h-2.32zM1037.58 752.6h2.32v88.1h-2.32zM719 840.7h2.32v88h-2.32zM724.9 840.7h2.32v88h-2.32zM740.63 840.7h2.32v88h-2.32zM744.56 840.7h2.32v88h-2.32zM752.43 840.7h2.32v88h-2.32zM768.16 840.7h2.32v88h-2.32zM848.79 840.7h2.32v88h-2.32zM852.72 840.7h2.32v88h-2.32zM858.62 840.7h2.32v88h-2.32zM911.72 840.7h2.32v88h-2.32zM925.49 840.7h2.32v88h-2.32zM994.31 840.7h2.32v88h-2.32zM1041.51 840.7h2.32v88h-2.32zM1043.48 840.7h2.32v88h-2.32zM1063.14 840.7h2.32v88h-2.32zM1108.37 840.7h2.32v88h-2.32zM1135.91 840.7h2.32v88h-2.32zM954.98 928.7h2.32v88h-2.32zM986.45 928.7h2.32v88h-2.32zM1008.08 928.7h2.32v88h-2.32zM1055.28 928.7h2.32v88h-2.32zM1076.91 928.7h2.32v88h-2.32zM1102.47 928.7h2.32v88h-2.32zM1139.84 928.7h2.32v88h-2.32zM1145.74 928.7h2.32v88h-2.32zM1155.57 928.7h2.32v88h-2.32zM1165.4 928.7h2.32v88h-2.32zM1177.2 928.7h2.32v88h-2.32zM1187.04 928.7h2.32v88h-2.32zM1198.83 928.7h2.32v88h-2.32zM1202.77 928.7h2.32v88h-2.32zM1216.53 928.7h1.97v88h-1.97zM736.7 1016.7h2.32v88.3h-2.32zM750.46 1016.7h2.32v88.3h-2.32zM779.96 1016.7h2.32v88.3h-2.32zM785.86 1016.7h2.32v88.3h-2.32zM789.79 1016.7h2.32v88.3h-2.32zM805.53 1016.7h2.32v88.3h-2.32zM819.29 1016.7h2.32v88.3h-2.32zM831.09 1016.7h2.32v88.3h-2.32zM836.99 1016.7h2.32v88.3h-2.32zM842.89 1016.7h2.32v88.3h-2.32zM854.69 1016.7h2.32v88.3h-2.32zM864.52 1016.7h2.32v88.3h-2.32zM876.32 1016.7h2.32v88.3h-2.32zM911.72 1016.7h2.32v88.3h-2.32zM915.65 1016.7h2.32v88.3h-2.32zM949.08 1016.7h2.32v88.3h-2.32zM988.41 1016.7h2.32v88.3h-2.32zM1000.21 1016.7h2.32v88.3h-2.32zM1041.51 1016.7h2.32v88.3h-2.32zM1126.07 1016.7h2.32v88.3h-2.32z"/>
<path fill="#EFFFEF" d="M724.9 752.6h2.32v88.1h-2.32zM789.79 752.6h2.32v88.1h-2.32zM856.66 752.6h2.32v88.1h-2.32zM888.12 752.6h2.32v88.1h-2.32zM895.99 752.6h2.32v88.1h-2.32zM917.62 752.6h2.32v88.1h-2.32zM923.52 752.6h2.32v88.1h-2.32zM929.42 752.6h2.32v88.1h-2.32zM935.32 752.6h2.32v88.1h-2.32zM962.85 752.6h2.32v88.1h-2.32zM994.31 752.6h2.32v88.1h-2.32zM998.25 752.6h2.32v88.1h-2.32zM1029.71 752.6h2.32v88.1h-2.32zM1031.68 752.6h2.32v88.1h-2.32zM1033.65 752.6h2.32v88.1h-2.32zM1051.34 752.6h2.32v88.1h-2.32zM1053.31 752.6h2.32v88.1h-2.32zM1071.01 752.6h2.32v88.1h-2.32zM1072.98 752.6h2.32v88.1h-2.32zM1082.81 752.6h2.32v88.1h-2.32zM1112.31 752.6h2.32v88.1h-2.32zM829.12 840.7h2.32v88h-2.32zM844.86 840.7h2.32v88h-2.32zM892.05 840.7h2.32v88h-2.32zM903.85 840.7h2.32v88h-2.32zM958.92 840.7h2.32v88h-2.32zM982.52 840.7h2.32v88h-2.32zM992.35 840.7h2.32v88h-2.32zM1008.08 840.7h2.32v88h-2.32zM1012.01 840.7h2.32v88h-2.32zM1033.65 840.7h2.32v88h-2.32zM1055.28 840.7h2.32v88h-2.32zM1090.67 840.7h2.32v88h-2.32zM1133.94 840.7h2.32v88h-2.32zM1155.57 840.7h2.32v88h-2.32zM1167.37 840.7h2.32v88h-2.32zM1183.1 840.7h2.32v88h-2.32zM1187.04 840.7h2.32v88h-2.32zM711.13 928.7h2.32v88h-2.32zM795.69 928.7h2.32v88h-2.32zM819.29 928.7h2.32v88h-2.32zM827.16 928.7h2.32v88h-2.32zM831.09 928.7h2.32v88h-2.32zM905.82 928.7h2.32v88h-2.32zM921.55 928.7h2.32v88h-2.32zM925.49 928.7h2.32v88h-2.32zM929.42 928.7h2.32v88h-2.32zM931.38 928.7h2.32v88h-2.32zM935.32 928.7h2.32v88h-2.32zM937.28 928.7h2.32v88h-2.32zM941.22 928.7h2.32v88h-2.32zM947.12 928.7h2.32v88h-2.32zM949.08 928.7h2.32v88h-2.32zM953.02 928.7h2.32v88h-2.32zM958.92 928.7h2.32v88h-2.32zM968.75 928.7h2.32v88h-2.32zM976.62 928.7h2.32v88h-2.32zM998.25 928.7h2.32v88h-2.32zM1000.21 928.7h2.32v88h-2.32zM1002.18 928.7h2.32v88h-2.32zM1010.05 928.7h2.32v88h-2.32zM1029.71 928.7h2.32v88h-2.32zM1033.65 928.7h2.32v88h-2.32zM1086.74 928.7h2.32v88h-2.32zM1092.64 928.7h2.32v88h-2.32zM1106.41 928.7h2.32v88h-2.32zM1130.01 928.7h2.32v88h-2.32zM1153.6 928.7h2.32v88h-2.32zM713.1 1016.7h2.32v88.3h-2.32zM866.49 1016.7h2.32v88.3h-2.32zM897.95 1016.7h2.32v88.3h-2.32zM907.79 1016.7h2.32v88.3h-2.32zM935.32 1016.7h2.32v88.3h-2.32zM968.75 1016.7h2.32v88.3h-2.32zM990.38 1016.7h2.32v88.3h-2.32zM1002.18 1016.7h2.32v88.3h-2.32zM1017.91 1016.7h2.32v88.3h-2.32zM1019.88 1016.7h2.32v88.3h-2.32zM1049.38 1016.7h2.32v88.3h-2.32zM1053.31 1016.7h2.32v88.3h-2.32zM1059.21 1016.7h2.32v88.3h-2.32zM1088.71 1016.7h2.32v88.3h-2.32zM1094.61 1016.7h2.32v88.3h-2.32zM1100.51 1016.7h2.32v88.3h-2.32zM1190.97 1016.7h2.32v88.3h-2.32z"/>
<path fill="#FFEFEF" d="M728.83 752.6h2.32v88.1h-2.32zM776.03 752.6h2.32v88.1h-2.32zM901.89 752.6h2.32v88.1h-2.32zM903.85 752.6h2.32v88.1h-2.32zM909.75 752.6h2.32v88.1h-2.32zM937.28 752.6h2.32v88.1h-2.32zM947.12 752.6h2.32v88.1h-2.32zM958.92 752.6h2.32v88.1h-2.32zM990.38 752.6h2.32v88.1h-2.32zM1008.08 752.6h2.32v88.1h-2.32zM1012.01 752.6h2.32v88.1h-2.32zM1027.75 752.6h2.32v88.1h-2.32zM1039.54 752.6h2.32v88.1h-2.32zM1061.18 752.6h2.32v88.1h-2.32zM1067.08 752.6h2.32v88.1h-2.32zM1094.61 752.6h2.32v88.1h-2.32zM1126.07 752.6h2.32v88.1h-2.32zM770.13 840.7h2.32v88h-2.32zM789.79 840.7h2.32v88h-2.32zM850.76 840.7h2.32v88h-2.32zM874.36 840.7h2.32v88h-2.32zM919.59 840.7h2.32v88h-2.32zM931.38 840.7h2.32v88h-2.32zM935.32 840.7h2.32v88h-2.32zM939.25 840.7h2.32v88h-2.32zM945.15 840.7h2.32v88h-2.32zM951.05 840.7h2.32v88h-2.32zM970.72 840.7h2.32v88h-2.32zM978.58 840.7h2.32v88h-2.32zM1031.68 840.7h2.32v88h-2.32zM1061.18 840.7h2.32v88h-2.32zM1098.54 840.7h2.32v88h-2.32zM1112.31 840.7h2.32v88h-2.32zM1122.14 840.7h2.32v88h-2.32zM1130.01 840.7h2.32v88h-2.32zM1151.64 840.7h2.32v88h-2.32zM734.73 928.7h2.32v88h-2.32zM736.7 928.7h2.32v88h-2.32zM803.56 928.7h2.32v88h-2.32zM840.92 928.7h2.32v88h-2.32zM848.79 928.7h2.32v88h-2.32zM878.29 928.7h2.32v88h-2.32zM907.79 928.7h2.32v88h-2.32zM919.59 928.7h2.32v88h-2.32zM933.35 928.7h2.32v88h-2.32zM962.85 928.7h2.32v88h-2.32zM1012.01 928.7h2.32v88h-2.32zM1023.81 928.7h2.32v88h-2.32zM1025.78 928.7h2.32v88h-2.32zM1035.61 928.7h2.32v88h-2.32zM1043.48 928.7h2.32v88h-2.32zM1047.41 928.7h2.32v88h-2.32zM1061.18 928.7h2.32v88h-2.32zM1067.08 928.7h2.32v88h-2.32zM1071.01 928.7h2.32v88h-2.32zM1094.61 928.7h2.32v88h-2.32zM1114.27 928.7h2.32v88h-2.32zM1126.07 928.7h2.32v88h-2.32zM1151.64 928.7h2.32v88h-2.32zM1159.5 928.7h2.32v88h-2.32zM1161.47 928.7h2.32v88h-2.32zM1181.14 928.7h2.32v88h-2.32zM888.12 1016.7h2.32v88.3h-2.32zM899.92 1016.7h2.32v88.3h-2.32zM903.85 1016.7h2.32v88.3h-2.32zM927.45 1016.7h2.32v88.3h-2.32zM958.92 1016.7h2.32v88.3h-2.32zM962.85 1016.7h2.32v88.3h-2.32zM984.48 1016.7h2.32v88.3h-2.32zM996.28 1016.7h2.32v88.3h-2.32zM1033.65 1016.7h2.32v88.3h-2.32zM1057.24 1016.7h2.32v88.3h-2.32zM1067.08 1016.7h2.32v88.3h-2.32zM1116.24 1016.7h2.32v88.3h-2.32z"/>
<path fill="#FF0000" d="M730.8 752.6h2.32v88.1h-2.32zM748.5 752.6h2.32v88.1h-2.32zM738.66 840.7h2.32v88h-2.32zM880.25 840.7h2.32v88h-2.32zM882.22 840.7h2.32v88h-2.32zM1131.97 928.7h2.32v88h-2.32zM701.3 1016.7h2.32v88.3h-2.32zM801.59 1016.7h2.32v88.3h-2.32z"/>
<path fill="#FF5353" d="M734.73 752.6h2.32v88.1h-2.32zM746.53 752.6h2.32v88.1h-2.32zM779.96 752.6h2.32v88.1h-2.32zM785.86 752.6h2.32v88.1h-2.32zM807.49 752.6h2.32v88.1h-2.32zM825.19 752.6h2.32v88.1h-2.32zM836.99 752.6h2.32v88.1h-2.32zM842.89 752.6h2.32v88.1h-2.32zM858.62 752.6h2.32v88.1h-2.32zM884.19 752.6h2.32v88.1h-2.32zM972.68 752.6h2.32v88.1h-2.32zM996.28 752.6h2.32v88.1h-2.32zM1019.88 752.6h2.32v88.1h-2.32zM742.6 840.7h2.32v88h-2.32zM760.3 840.7h2.32v88h-2.32zM774.06 840.7h2.32v88h-2.32zM779.96 840.7h2.32v88h-2.32zM783.89 840.7h2.32v88h-2.32zM795.69 840.7h2.32v88h-2.32zM801.59 840.7h2.32v88h-2.32zM888.12 840.7h2.32v88h-2.32zM890.09 840.7h2.32v88h-2.32zM923.52 840.7h2.32v88h-2.32zM941.22 840.7h2.32v88h-2.32zM949.08 840.7h2.32v88h-2.32zM953.02 840.7h2.32v88h-2.32zM956.95 840.7h2.32v88h-2.32zM966.78 840.7h2.32v88h-2.32zM976.62 840.7h2.32v88h-2.32zM1004.15 840.7h2.32v88h-2.32zM1010.05 840.7h2.32v88h-2.32zM1057.24 928.7h2.32v88h-2.32zM1110.34 928.7h2.32v88h-2.32zM1122.14 928.7h2.32v88h-2.32zM1124.11 928.7h2.32v88h-2.32zM1163.44 928.7h2.32v88h-2.32zM1196.87 928.7h2.32v88h-2.32zM695.4 1016.7h2.32v88.3h-2.32zM719 1016.7h2.32v88.3h-2.32zM732.76 1016.7h2.32v88.3h-2.32zM744.56 1016.7h2.32v88.3h-2.32zM762.26 1016.7h2.32v88.3h-2.32zM774.06 1016.7h2.32v88.3h-2.32zM809.46 1016.7h2.32v88.3h-2.32zM811.43 1016.7h2.32v88.3h-2.32zM840.92 1016.7h2.32v88.3h-2.32zM844.86 1016.7h2.32v88.3h-2.32zM862.56 1016.7h2.32v88.3h-2.32zM925.49 1016.7h2.32v88.3h-2.32zM1008.08 1016.7h2.32v88.3h-2.32zM1015.95 1016.7h2.32v88.3h-2.32z"/>
<path fill="#FF0000" d="M740.63 752.6h2.32v88.1h-2.32zM707.2 840.7h2.32v88h-2.32zM776.03 1016.7h2.32v88.3h-2.32zM815.36 1016.7h2.32v88.3h-2.32zM850.76 1016.7h2.32v88.3h-2.32zM1037.58 1016.7h2.32v88.3h-2.32z"/>
<path fill="#FF1515" d="M744.56 752.6h2.32v88.1h-2.32zM764.23 752.6h2.32v88.1h-2.32zM766.2 752.6h2.32v88.1h-2.32zM817.33 752.6h2.32v88.1h-2.32zM850.76 752.6h2.32v88.1h-2.32zM852.72 752.6h2.32v88.1h-2.32zM868.46 752.6h2.32v88.1h-2.32zM872.39 752.6h2.32v88.1h-2.32zM882.22 752.6h2.32v88.1h-2.32zM915.65 752.6h2.32v88.1h-2.32zM976.62 752.6h2.32v88.1h-2.32zM695.4 840.7h2.32v88h-2.32zM722.93 840.7h2.32v88h-2.32zM748.5 840.7h2.32v88h-2.32zM758.33 840.7h2.32v88h-2.32zM854.69 840.7h2.32v88h-2.32zM856.66 840.7h2.32v88h-2.32zM866.49 840.7h2.32v88h-2.32zM960.88 840.7h2.32v88h-2.32zM962.85 840.7h2.32v88h-2.32zM984.48 840.7h2.32v88h-2.32zM1017.91 840.7h2.32v88h-2.32zM1013.98 928.7h2.32v88h-2.32zM1059.21 928.7h2.32v88h-2.32zM1133.94 928.7h2.32v88h-2.32zM1143.77 928.7h2.32v88h-2.32zM1192.93 928.7h2.32v88h-2.32zM1204.73 928.7h2.32v88h-2.32zM707.2 1016.7h2.32v88.3h-2.32zM711.13 1016.7h2.32v88.3h-2.32zM717.03 1016.7h2.32v88.3h-2.32zM728.83 1016.7h2.32v88.3h-2.32zM754.4 1016.7h2.32v88.3h-2.32zM791.76 1016.7h2.32v88.3h-2.32zM795.69 1016.7h2.32v88.3h-2.32zM823.23 1016.7h2.32v88.3h-2.32zM827.16 1016.7h2.32v88.3h-2.32zM829.12 1016.7h2.32v88.3h-2.32zM868.46 1016.7h2.32v88.3h-2.32zM880.25 1016.7h2.32v88.3h-2.32zM945.15 1016.7h2.32v88.3h-2.32zM976.62 1016.7h2.32v88.3h-2.32zM1010.05 1016.7h2.32v88.3h-2.32zM1021.85 1016.7h2.32v88.3h-2.32zM1043.48 1016.7h2.32v88.3h-2.32z"/>
<path fill="#FF0000" d="M758.33 752.6h2.32v88.1h-2.32zM728.83 840.7h2.32v88h-2.32zM730.8 1016.7h2.32v88.3h-2.32z"/>
<path fill="#FF0000" d="M805.53 752.6h2.32v88.1h-2.32zM823.23 840.7h2.32v88h-2.32zM921.55 840.7h2.32v88h-2.32zM715.07 1016.7h2.32v88.3h-2.32zM742.6 1016.7h2.32v88.3h-2.32zM772.1 1016.7h2.32v88.3h-2.32zM821.26 1016.7h2.32v88.3h-2.32zM1013.98 1016.7h2.32v88.3h-2.32z"/>
<path fill="#B1FFB1" d="M848.79 752.6h2.32v88.1h-2.32zM949.08 752.6h2.32v88.1h-2.32zM1006.11 752.6h2.32v88.1h-2.32zM1035.61 752.6h2.32v88.1h-2.32zM1041.51 752.6h2.32v88.1h-2.32zM1063.14 752.6h2.32v88.1h-2.32zM1069.04 752.6h2.32v88.1h-2.32zM1100.51 752.6h2.32v88.1h-2.32zM1110.34 752.6h2.32v88.1h-2.32zM1131.97 752.6h2.32v88.1h-2.32zM1153.6 752.6h2.32v88.1h-2.32zM870.42 840.7h2.32v88h-2.32zM968.75 840.7h2.32v88h-2.32zM1021.85 840.7h2.32v88h-2.32zM1069.04 840.7h2.32v88h-2.32zM1080.84 840.7h2.32v88h-2.32zM1088.71 840.7h2.32v88h-2.32zM1100.51 840.7h2.32v88h-2.32zM1106.41 840.7h2.32v88h-2.32zM1116.24 840.7h2.32v88h-2.32zM1126.07 840.7h2.32v88h-2.32zM1128.04 840.7h2.32v88h-2.32zM1131.97 840.7h2.32v88h-2.32zM1137.87 840.7h2.32v88h-2.32zM1179.17 840.7h2.32v88h-2.32zM1181.14 840.7h2.32v88h-2.32zM1216.53 840.7h1.97v88h-1.97zM703.27 928.7h2.32v88h-2.32zM705.23 928.7h2.32v88h-2.32zM728.83 928.7h2.32v88h-2.32zM730.8 928.7h2.32v88h-2.32zM742.6 928.7h2.32v88h-2.32zM744.56 928.7h2.32v88h-2.32zM764.23 928.7h2.32v88h-2.32zM770.13 928.7h2.32v88h-2.32zM783.89 928.7h2.32v88h-2.32zM799.63 928.7h2.32v88h-2.32zM807.49 928.7h2.32v88h-2.32zM811.43 928.7h2.32v88h-2.32zM823.23 928.7h2.32v88h-2.32zM825.19 928.7h2.32v88h-2.32zM846.82 928.7h2.32v88h-2.32zM852.72 928.7h2.32v88h-2.32zM858.62 928.7h2.32v88h-2.32zM864.52 928.7h2.32v88h-2.32zM874.36 928.7h2.32v88h-2.32zM884.19 928.7h2.32v88h-2.32zM886.15 928.7h2.32v88h-2.32zM899.92 928.7h2.32v88h-2.32zM901.89 928.7h2.32v88h-2.32zM913.69 928.7h2.32v88h-2.32zM927.45 928.7h2.32v88h-2.32zM951.05 928.7h2.32v88h-2.32zM966.78 928.7h2.32v88h-2.32zM970.72 928.7h2.32v88h-2.32zM990.38 928.7h2.32v88h-2.32zM992.35 928.7h2.32v88h-2.32zM1041.51 928.7h2.32v88h-2.32zM1080.84 928.7h2.32v88h-2.32zM1141.8 928.7h2.32v88h-2.32zM1206.7 928.7h2.32v88h-2.32zM884.19 1016.7h2.32v88.3h-2.32zM919.59 1016.7h2.32v88.3h-2.32zM937.28 1016.7h2.32v88.3h-2.32zM939.25 1016.7h2.32v88.3h-2.32zM951.05 1016.7h2.32v88.3h-2.32zM954.98 1016.7h2.32v88.3h-2.32zM970.72 1016.7h2.32v88.3h-2.32zM974.65 1016.7h2.32v88.3h-2.32zM982.52 1016.7h2.32v88.3h-2.32zM986.45 1016.7h2.32v88.3h-2.32zM1006.11 1016.7h2.32v88.3h-2.32zM1029.71 1016.7h2.32v88.3h-2.32zM1069.04 1016.7h2.32v88.3h-2.32zM1106.41 1016.7h2.32v88.3h-2.32zM1135.91 1016.7h2.32v88.3h-2.32zM1147.7 1016.7h2.32v88.3h-2.32zM1183.1 1016.7h2.32v88.3h-2.32zM1198.83 1016.7h2.32v88.3h-2.32zM1206.7 1016.7h2.32v88.3h-2.32zM1216.53 1016.7h1.97v88.3h-1.97z"/>
<path fill="#D0FFD0" d="M870.42 752.6h2.32v88.1h-2.32zM892.05 752.6h2.32v88.1h-2.32zM899.92 752.6h2.32v88.1h-2.32zM913.69 752.6h2.32v88.1h-2.32zM933.35 752.6h2.32v88.1h-2.32zM939.25 752.6h2.32v88.1h-2.32zM956.95 752.6h2.32v88.1h-2.32zM960.88 752.6h2.32v88.1h-2.32zM966.78 752.6h2.32v88.1h-2.32zM984.48 752.6h2.32v88.1h-2.32zM1045.44 752.6h2.32v88.1h-2.32zM1049.38 752.6h2.32v88.1h-2.32zM1055.28 752.6h2.32v88.1h-2.32zM1076.91 752.6h2.32v88.1h-2.32zM1086.74 752.6h2.32v88.1h-2.32zM1118.21 752.6h2.32v88.1h-2.32zM1137.87 752.6h2.32v88.1h-2.32zM1163.44 752.6h2.32v88.1h-2.32zM909.75 840.7h2.32v88h-2.32zM917.62 840.7h2.32v88h-2.32zM937.28 840.7h2.32v88h-2.32zM947.12 840.7h2.32v88h-2.32zM996.28 840.7h2.32v88h-2.32zM1000.21 840.7h2.32v88h-2.32zM1013.98 840.7h2.32v88h-2.32zM1057.24 840.7h2.32v88h-2.32zM1072.98 840.7h2.32v88h-2.32zM1078.88 840.7h2.32v88h-2.32zM1082.81 840.7h2.32v88h-2.32zM1104.44 840.7h2.32v88h-2.32zM1114.27 840.7h2.32v88h-2.32zM1124.11 840.7h2.32v88h-2.32zM1157.54 840.7h2.32v88h-2.32zM1190.97 840.7h2.32v88h-2.32zM701.3 928.7h2.32v88h-2.32zM732.76 928.7h2.32v88h-2.32zM738.66 928.7h2.32v88h-2.32zM748.5 928.7h2.32v88h-2.32zM777.99 928.7h2.32v88h-2.32zM779.96 928.7h2.32v88h-2.32zM781.93 928.7h2.32v88h-2.32zM793.73 928.7h2.32v88h-2.32zM805.53 928.7h2.32v88h-2.32zM821.26 928.7h2.32v88h-2.32zM833.06 928.7h2.32v88h-2.32zM842.89 928.7h2.32v88h-2.32zM890.09 928.7h2.32v88h-2.32zM894.02 928.7h2.32v88h-2.32zM895.99 928.7h2.32v88h-2.32zM911.72 928.7h2.32v88h-2.32zM917.62 928.7h2.32v88h-2.32zM923.52 928.7h2.32v88h-2.32zM960.88 928.7h2.32v88h-2.32zM972.68 928.7h2.32v88h-2.32zM978.58 928.7h2.32v88h-2.32zM984.48 928.7h2.32v88h-2.32zM996.28 928.7h2.32v88h-2.32zM1019.88 928.7h2.32v88h-2.32zM1021.85 928.7h2.32v88h-2.32zM1031.68 928.7h2.32v88h-2.32zM1037.58 928.7h2.32v88h-2.32zM1065.11 928.7h2.32v88h-2.32zM1096.57 928.7h2.32v88h-2.32zM1173.27 928.7h2.32v88h-2.32zM856.66 1016.7h2.32v88.3h-2.32zM947.12 1016.7h2.32v88.3h-2.32zM978.58 1016.7h2.32v88.3h-2.32zM1055.28 1016.7h2.32v88.3h-2.32zM1063.14 1016.7h2.32v88.3h-2.32zM1076.91 1016.7h2.32v88.3h-2.32zM1096.57 1016.7h2.32v88.3h-2.32zM1185.07 1016.7h2.32v88.3h-2.32z"/>
<path fill="#FF0000" d="M874.36 752.6h2.32v88.1h-2.32zM925.49 752.6h2.32v88.1h-2.32zM1051.34 928.7h2.32v88h-2.32zM1183.1 928.7h2.32v88h-2.32zM777.99 1016.7h2.32v88.3h-2.32zM1025.78 1016.7h2.32v88.3h-2.32z"/>
<path fill="#15FF15" d="M951.05 752.6h2.32v88.1h-2.32zM1106.41 752.6h2.32v88.1h-2.32zM1114.27 752.6h2.32v88.1h-2.32zM1122.14 752.6h2.32v88.1h-2.32zM1214.57 752.6h2.32v88.1h-2.32zM1092.64 840.7h2.32v88h-2.32zM1141.8 840.7h2.32v88h-2.32zM1149.67 840.7h2.32v88h-2.32zM1161.47 840.7h2.32v88h-2.32zM1196.87 840.7h2.32v88h-2.32zM1198.83 840.7h2.32v88h-2.32zM722.93 928.7h2.32v88h-2.32zM762.26 928.7h2.32v88h-2.32zM815.36 928.7h2.32v88h-2.32zM850.76 928.7h2.32v88h-2.32zM1086.74 1016.7h2.32v88.3h-2.32zM1122.14 1016.7h2.32v88.3h-2.32zM1141.8 1016.7h2.32v88.3h-2.32zM1155.57 1016.7h2.32v88.3h-2.32zM1167.37 1016.7h2.32v88.3h-2.32zM1173.27 1016.7h2.32v88.3h-2.32zM1181.14 1016.7h2.32v88.3h-2.32zM1194.9 1016.7h2.32v88.3h-2.32z"/>
<path fill="#72FF72" d="M968.75 752.6h2.32v88.1h-2.32zM1088.71 752.6h2.32v88.1h-2.32zM1092.64 752.6h2.32v88.1h-2.32zM1143.77 752.6h2.32v88.1h-2.32zM1147.7 752.6h2.32v88.1h-2.32zM990.38 840.7h2.32v88h-2.32zM1025.78 840.7h2.32v88h-2.32zM1051.34 840.7h2.32v88h-2.32zM1163.44 840.7h2.32v88h-2.32zM1185.07 840.7h2.32v88h-2.32zM1192.93 840.7h2.32v88h-2.32zM1202.77 840.7h2.32v88h-2.32zM719 928.7h2.32v88h-2.32zM766.2 928.7h2.32v88h-2.32zM768.16 928.7h2.32v88h-2.32zM774.06 928.7h2.32v88h-2.32zM776.03 928.7h2.32v88h-2.32zM785.86 928.7h2.32v88h-2.32zM787.83 928.7h2.32v88h-2.32zM789.79 928.7h2.32v88h-2.32zM791.76 928.7h2.32v88h-2.32zM809.46 928.7h2.32v88h-2.32zM829.12 928.7h2.32v88h-2.32zM868.46 928.7h2.32v88h-2.32zM870.42 928.7h2.32v88h-2.32zM945.15 928.7h2.32v88h-2.32zM1108.37 928.7h2.32v88h-2.32zM960.88 1016.7h2.32v88.3h-2.32zM1035.61 1016.7h2.32v88.3h-2.32zM1045.44 1016.7h2.32v88.3h-2.32zM1047.41 1016.7h2.32v88.3h-2.32zM1051.34 1016.7h2.32v88.3h-2.32zM1071.01 1016.7h2.32v88.3h-2.32zM1080.84 1016.7h2.32v88.3h-2.32zM1098.54 1016.7h2.32v88.3h-2.32zM1102.47 1016.7h2.32v88.3h-2.32zM1130.01 1016.7h2.32v88.3h-2.32zM1165.4 1016.7h2.32v88.3h-2.32zM1189 1016.7h2.32v88.3h-2.32zM1192.93 1016.7h2.32v88.3h-2.32zM1196.87 1016.7h2.32v88.3h-2.32z"/>
<path fill="#92FF92" d="M982.52 752.6h2.32v88.1h-2.32zM1002.18 752.6h2.32v88.1h-2.32zM1043.48 752.6h2.32v88.1h-2.32zM1057.24 752.6h2.32v88.1h-2.32zM1120.17 752.6h2.32v88.1h-2.32zM1141.8 752.6h2.32v88.1h-2.32zM1167.37 752.6h2.32v88.1h-2.32zM1171.3 752.6h2.32v88.1h-2.32zM1177.2 752.6h2.32v88.1h-2.32zM1189 752.6h2.32v88.1h-2.32zM1206.7 752.6h2.32v88.1h-2.32zM927.45 840.7h2.32v88h-2.32zM986.45 840.7h2.32v88h-2.32zM1035.61 840.7h2.32v88h-2.32zM1065.11 840.7h2.32v88h-2.32zM1086.74 840.7h2.32v88h-2.32zM1096.57 840.7h2.32v88h-2.32zM1153.6 840.7h2.32v88h-2.32zM1169.34 840.7h2.32v88h-2.32zM1177.2 840.7h2.32v88h-2.32zM1189 840.7h2.32v88h-2.32zM1194.9 840.7h2.32v88h-2.32zM1212.6 840.7h2.32v88h-2.32zM724.9 928.7h2.32v88h-2.32zM797.66 928.7h2.32v88h-2.32zM813.39 928.7h2.32v88h-2.32zM836.99 928.7h2.32v88h-2.32zM854.69 928.7h2.32v88h-2.32zM866.49 928.7h2.32v88h-2.32zM882.22 928.7h2.32v88h-2.32zM888.12 928.7h2.32v88h-2.32zM980.55 928.7h2.32v88h-2.32zM1004.15 928.7h2.32v88h-2.32zM1015.95 928.7h2.32v88h-2.32zM1027.75 928.7h2.32v88h-2.32zM1053.31 928.7h2.32v88h-2.32zM892.05 1016.7h2.32v88.3h-2.32zM931.38 1016.7h2.32v88.3h-2.32zM972.68 1016.7h2.32v88.3h-2.32zM1004.15 1016.7h2.32v88.3h-2.32zM1039.54 1016.7h2.32v88.3h-2.32zM1061.18 1016.7h2.32v88.3h-2.32zM1072.98 1016.7h2.32v88.3h-2.32zM1082.81 1016.7h2.32v88.3h-2.32zM1108.37 1016.7h2.32v88.3h-2.32zM1163.44 1016.7h2.32v88.3h-2.32zM1175.24 1016.7h2.32v88.3h-2.32zM1177.2 1016.7h2.32v88.3h-2.32z"/>
<path fill="#34FF34" d="M986.45 752.6h2.32v88.1h-2.32zM1080.84 752.6h2.32v88.1h-2.32zM1124.11 752.6h2.32v88.1h-2.32zM1128.04 752.6h2.32v88.1h-2.32zM1133.94 752.6h2.32v88.1h-2.32zM1139.84 752.6h2.32v88.1h-2.32zM1145.74 752.6h2.32v88.1h-2.32zM1155.57 752.6h2.32v88.1h-2.32zM1165.4 752.6h2.32v88.1h-2.32zM1175.24 752.6h2.32v88.1h-2.32zM1179.17 752.6h2.32v88.1h-2.32zM1187.04 752.6h2.32v88.1h-2.32zM1192.93 752.6h2.32v88.1h-2.32zM1045.44 840.7h2.32v88h-2.32zM1071.01 840.7h2.32v88h-2.32zM1110.34 840.7h2.32v88h-2.32zM1159.5 840.7h2.32v88h-2.32zM1204.73 840.7h2.32v88h-2.32zM1208.67 840.7h2.32v88h-2.32zM697.37 928.7h2.32v88h-2.32zM699.33 928.7h2.32v88h-2.32zM709.17 928.7h2.32v88h-2.32zM713.1 928.7h2.32v88h-2.32zM746.53 928.7h2.32v88h-2.32zM752.43 928.7h2.32v88h-2.32zM754.4 928.7h2.32v88h-2.32zM758.33 928.7h2.32v88h-2.32zM801.59 928.7h2.32v88h-2.32zM860.59 928.7h2.32v88h-2.32zM862.56 928.7h2.32v88h-2.32zM880.25 928.7h2.32v88h-2.32zM909.75 928.7h2.32v88h-2.32zM929.42 1016.7h2.32v88.3h-2.32zM1065.11 1016.7h2.32v88.3h-2.32zM1084.78 1016.7h2.32v88.3h-2.32zM1092.64 1016.7h2.32v88.3h-2.32zM1110.34 1016.7h2.32v88.3h-2.32zM1124.11 1016.7h2.32v88.3h-2.32zM1131.97 1016.7h2.32v88.3h-2.32zM1139.84 1016.7h2.32v88.3h-2.32zM1151.64 1016.7h2.32v88.3h-2.32zM1161.47 1016.7h2.32v88.3h-2.32z"/>
<path fill="#00FF00" d="M1015.95 752.6h2.32v88.1h-2.32zM1151.64 752.6h2.32v88.1h-2.32zM1159.5 752.6h2.32v88.1h-2.32zM1181.14 752.6h2.32v88.1h-2.32zM1190.97 752.6h2.32v88.1h-2.32zM1175.24 840.7h2.32v88h-2.32zM1206.7 840.7h2.32v88h-2.32zM695.4 928.7h2.32v88h-2.32zM717.03 928.7h2.32v88h-2.32zM740.63 928.7h2.32v88h-2.32zM964.82 928.7h2.32v88h-2.32zM1078.88 1016.7h2.32v88.3h-2.32zM1114.27 1016.7h2.32v88.3h-2.32zM1133.94 1016.7h2.32v88.3h-2.32zM1145.74 1016.7h2.32v88.3h-2.32zM1171.3 1016.7h2.32v88.3h-2.32zM1179.17 1016.7h2.32v88.3h-2.32zM1208.67 1016.7h2.32v88.3h-2.32zM1214.57 1016.7h2.32v88.3h-2.32z"/>
<path fill="#00FF00" d="M1096.57 752.6h2.32v88.1h-2.32zM1118.21 840.7h2.32v88h-2.32z"/>
<path fill="#53FF53" d="M1098.54 752.6h2.32v88.1h-2.32zM1104.44 752.6h2.32v88.1h-2.32zM1116.24 752.6h2.32v88.1h-2.32zM1130.01 752.6h2.32v88.1h-2.32zM1149.67 752.6h2.32v88.1h-2.32zM1169.34 752.6h2.32v88.1h-2.32zM1183.1 752.6h2.32v88.1h-2.32zM1185.07 752.6h2.32v88.1h-2.32zM1200.8 752.6h2.32v88.1h-2.32zM1212.6 752.6h2.32v88.1h-2.32zM1067.08 840.7h2.32v88h-2.32zM1120.17 840.7h2.32v88h-2.32zM1139.84 840.7h2.32v88h-2.32zM1145.74 840.7h2.32v88h-2.32zM1171.3 840.7h2.32v88h-2.32zM1173.27 840.7h2.32v88h-2.32zM1214.57 840.7h2.32v88h-2.32zM707.2 928.7h2.32v88h-2.32zM726.86 928.7h2.32v88h-2.32zM750.46 928.7h2.32v88h-2.32zM756.36 928.7h2.32v88h-2.32zM835.02 928.7h2.32v88h-2.32zM844.86 928.7h2.32v88h-2.32zM876.32 928.7h2.32v88h-2.32zM903.85 928.7h2.32v88h-2.32zM1090.67 1016.7h2.32v88.3h-2.32zM1104.44 1016.7h2.32v88.3h-2.32zM1137.87 1016.7h2.32v88.3h-2.32zM1143.77 1016.7h2.32v88.3h-2.32zM1157.54 1016.7h2.32v88.3h-2.32zM1159.5 1016.7h2.32v88.3h-2.32zM1169.34 1016.7h2.32v88.3h-2.32zM1202.77 1016.7h2.32v88.3h-2.32zM1204.73 1016.7h2.32v88.3h-2.32zM1212.6 1016.7h2.32v88.3h-2.32z"/>
<path fill="#00FF00" d="M1102.47 752.6h2.32v88.1h-2.32zM1194.9 752.6h2.32v88.1h-2.32zM1216.53 752.6h1.97v88.1h-1.97zM1187.04 1016.7h2.32v88.3h-2.32z"/>
<path fill="#00FF00" d="M1108.37 752.6h2.32v88.1h-2.32zM1202.77 752.6h2.32v88.1h-2.32zM1074.94 1016.7h2.32v88.3h-2.32zM1210.63 1016.7h2.32v88.3h-2.32z"/>
<path fill="#00FF00" d="M1157.54 752.6h2.32v88.1h-2.32zM1173.27 752.6h2.32v88.1h-2.32zM1196.87 752.6h2.32v88.1h-2.32zM1198.83 752.6h2.32v88.1h-2.32zM1165.4 840.7h2.32v88h-2.32zM720.97 928.7h2.32v88h-2.32zM897.95 928.7h2.32v88h-2.32zM1153.6 1016.7h2.32v88.3h-2.32zM1200.8 1016.7h2.32v88.3h-2.32z"/>
<path fill="#00FF00" d="M1161.47 752.6h2.32v88.1h-2.32zM1204.73 752.6h2.32v88.1h-2.32zM1208.67 752.6h2.32v88.1h-2.32zM715.07 928.7h2.32v88h-2.32zM838.96 928.7h2.32v88h-2.32zM856.66 928.7h2.32v88h-2.32zM1112.31 1016.7h2.32v88.3h-2.32z"/>
<path fill="#00FF00" d="M1210.63 752.6h2.32v88.1h-2.32zM1019.88 840.7h2.32v88h-2.32zM1147.7 840.7h2.32v88h-2.32zM1200.8 840.7h2.32v88h-2.32zM1210.63 840.7h2.32v88h-2.32zM760.3 928.7h2.32v88h-2.32zM772.1 928.7h2.32v88h-2.32zM817.33 928.7h2.32v88h-2.32zM915.65 928.7h2.32v88h-2.32zM1118.21 1016.7h2.32v88.3h-2.32zM1149.67 1016.7h2.32v88.3h-2.32z"/>
<path fill="#FF0000" d="M703.27 840.7h2.32v88h-2.32zM835.02 840.7h2.32v88h-2.32zM703.27 1016.7h2.32v88.3h-2.32z"/>
<path fill="#00FF00" d="M956.95 928.7h2.32v88h-2.32zM1128.04 1016.7h2.32v88.3h-2.32z"/>
<rect x="695.4" y="739.2" width="188.79" height="9.1" fill="#FA8A82"/>
<rect x="884.19" y="739.2" width="334.31" height="9.1" fill="#00D7DF"/>
<text x="1222.2" y="746.9" font-size="9.5" font-weight="bold">type</text>
<text x="1222.2" y="800.35" font-size="10.4">ITGA6</text>
<text x="1222.2" y="888.4" font-size="10.4">AR</text>
<text x="1222.2" y="976.4" font-size="10.4">PLK1</text>
<text x="1222.2" y="1064.55" font-size="10.4">IRF6</text>
<rect x="1259.8" y="737.7" width="12.7" height="4.76" fill="#FF0000"/>
<rect x="1259.8" y="741.66" width="12.7" height="4.76" fill="#FF0000"/>
<rect x="1259.8" y="745.63" width="12.7" height="4.76" fill="#FF0000"/>
<rect x="1259.8" y="749.59" width="12.7" height="4.76" fill="#FF0000"/>
<rect x="1259.8" y="753.56" width="12.7" height="4.76" fill="#FF0000"/>
<rect x="1259.8" y="757.52" width="12.7" height="4.76" fill="#FF0000"/>
<rect x="1259.8" y="761.48" width="12.7" height="4.76" fill="#FF0000"/>
<rect x="1259.8" y="765.45" width="12.7" height="4.76" fill="#FF0000"/>
<rect x="1259.8" y="769.41" width="12.7" height="4.76" fill="#FF0000"/>
<rect x="1259.8" y="773.38" width="12.7" height="4.76" fill="#FF0000"/>
<rect x="1259.8" y="777.34" width="12.7" height="4.76" fill="#FF0000"/>
<rect x="1259.8" y="781.3" width="12.7" height="4.76" fill="#FF0000"/>
<rect x="1259.8" y="785.27" width="12.7" height="4.76" fill="#FF0000"/>
<rect x="1259.8" y="789.23" width="12.7" height="4.76" fill="#FF0000"/>
<rect x="1259.8" y="793.2" width="12.7" height="4.76" fill="#FF0000"/>
<rect x="1259.8" y="797.16" width="12.7" height="4.76" fill="#FF0000"/>
<rect x="1259.8" y="801.12" width="12.7" height="4.76" fill="#FF0000"/>
<rect x="1259.8" y="805.09" width="12.7" height="4.76" fill="#FF1515"/>
<rect x="1259.8" y="809.05" width="12.7" height="4.76" fill="#FF3434"/>
<rect x="1259.8" y="813.02" width="12.7" height="4.76" fill="#FF5353"/>
<rect x="1259.8" y="816.98" width="12.7" height="4.76" fill="#FF7272"/>
<rect x="1259.8" y="820.94" width="12.7" height="4.76" fill="#FF9292"/>
<rect x="1259.8" y="824.91" width="12.7" height="4.76" fill="#FFB1B1"/>
<rect x="1259.8" y="828.87" width="12.7" height="4.76" fill="#FFD0D0"/>
<rect x="1259.8" y="832.84" width="12.7" height="4.76" fill="#FFEFEF"/>
<rect x="1259.8" y="836.8" width="12.7" height="4.76" fill="#EFFFEF"/>
<rect x="1259.8" y="840.76" width="12.7" height="4.76" fill="#D0FFD0"/>
<rect x="1259.8" y="844.73" width="12.7" height="4.76" fill="#B1FFB1"/>
<rect x="1259.8" y="848.69" width="12.7" height="4.76" fill="#92FF92"/>
<rect x="1259.8" y="852.66" width="12.7" height="4.76" fill="#72FF72"/>
<rect x="1259.8" y="856.62" width="12.7" height="4.76" fill="#53FF53"/>
<rect x="1259.8" y="860.58" width="12.7" height="4.76" fill="#34FF34"/>
<rect x="1259.8" y="864.55" width="12.7" height="4.76" fill="#15FF15"/>
<rect x="1259.8" y="868.51" width="12.7" height="4.76" fill="#00FF00"/>
<rect x="1259.8" y="872.48" width="12.7" height="4.76" fill="#00FF00"/>
<rect x="1259.8" y="876.44" width="12.7" height="4.76" fill="#00FF00"/>
<rect x="1259.8" y="880.4" width="12.7" height="4.76" fill="#00FF00"/>
<rect x="1259.8" y="884.37" width="12.7" height="4.76" fill="#00FF00"/>
<rect x="1259.8" y="888.33" width="12.7" height="4.76" fill="#00FF00"/>
<rect x="1259.8" y="892.3" width="12.7" height="4.76" fill="#00FF00"/>
<rect x="1259.8" y="896.26" width="12.7" height="4.76" fill="#00FF00"/>
<rect x="1259.8" y="900.22" width="12.7" height="4.76" fill="#00FF00"/>
<rect x="1259.8" y="904.19" width="12.7" height="4.76" fill="#00FF00"/>
<rect x="1259.8" y="908.15" width="12.7" height="4.76" fill="#00FF00"/>
<rect x="1259.8" y="912.12" width="12.7" height="4.76" fill="#00FF00"/>
<rect x="1259.8" y="916.08" width="12.7" height="4.76" fill="#00FF00"/>
<rect x="1259.8" y="920.04" width="12.7" height="4.76" fill="#00FF00"/>
<rect x="1259.8" y="924.01" width="12.7" height="4.76" fill="#00FF00"/>
<rect x="1259.8" y="927.97" width="12.7" height="4.76" fill="#00FF00"/>
<rect x="1259.8" y="931.94" width="12.7" height="3.96" fill="#00FF00"/>
<text x="1277.3" y="750.6" font-size="9.5">4</text>
<text x="1277.3" y="795.2" font-size="9.5">2</text>
<text x="1277.3" y="840.2" font-size="9.5">0</text>
<text x="1277.3" y="885.5" font-size="9.5">−2</text>
<text x="1277.3" y="930.9" font-size="9.5">−4</text>
<text x="1288.6" y="743.5" font-size="9.5" font-weight="bold">type</text>
<rect x="1288.6" y="748.2" width="12.3" height="12.6" fill="#00D7DF"/>
<rect x="1288.6" y="760.8" width="12.3" height="13.2" fill="#FA8A82"/>
<text x="1303.8" y="757.8" font-size="9.5">high</text>
<text x="1303.8" y="770.8" font-size="9.5">low</text>
<path fill="#FF0000" fill-opacity="0.3" d="M813.7 1248.05L817.52 1248.05L817.52 1251.73L821.34 1251.73L821.34 1255.41L825.17 1255.41L825.17 1259.83L830.9 1259.83L830.9 1265.1L842.37 1265.1L842.37 1268.78L850.01 1268.78L850.01 1275.65L863.39 1275.65L863.39 1281.66L874.85 1281.66L874.85 1285.83L890.14 1285.83L890.14 1290.74L901.61 1290.74L901.61 1293.93L909.25 1293.93L909.25 1302.03L916.89 1302.03L916.89 1308.9L932.18 1308.9L932.18 1316.5L947.47 1316.5L947.47 1319.69L966.58 1319.69L966.58 1325.83L981.87 1325.83L981.87 1330.49L989.51 1330.49L989.51 1340.55L997.16 1340.55L997.16 1345.45L1016.27 1345.45L1016.27 1350.36L1043.02 1350.36L1043.02 1352.57L1048.75 1352.57L1048.75 1359.44L1188.26 1359.44L1188.26 1353.55L1192.08 1353.55L1192.08 1357.23L1230.3 1357.23L1230.3 1465.68L1192.08 1465.68L1192.08 1444.33L1188.26 1444.33L1188.26 1411.21L1048.75 1411.21L1048.75 1399.19L1043.02 1399.19L1043.02 1394.12L1016.27 1394.12L1016.27 1387.16L997.16 1387.16L997.16 1381.44L989.51 1381.44L989.51 1370.56L981.87 1370.56L981.87 1364.26L966.58 1364.26L966.58 1356.09L947.47 1356.09L947.47 1351.26L932.18 1351.26L932.18 1341.77L916.89 1341.77L916.89 1333.92L909.25 1333.92L909.25 1324.84L901.61 1324.84L901.61 1320.18L890.14 1320.18L890.14 1313.31L874.85 1313.31L874.85 1307.67L863.39 1307.67L863.39 1298.96L850.01 1298.96L850.01 1287.18L842.37 1287.18L842.37 1276.14L830.9 1276.14L830.9 1267.19L825.17 1267.19L825.17 1260.32L821.34 1260.32L821.34 1254.18L817.52 1254.18L817.52 1248.05L813.7 1248.05Z"/>
<path fill="#0000FF" fill-opacity="0.3" d="M813.7 1248.05L848.1 1248.05L848.1 1252.96L872.94 1252.96L872.94 1256.05L890.14 1256.05L890.14 1258.86L924.54 1258.86L924.54 1261.77L930.27 1261.77L930.27 1265.76L943.65 1265.76L943.65 1268.01L1020.09 1268.01L1020.09 1267.68L1048.75 1267.68L1048.75 1270.59L1069.77 1270.59L1069.77 1273L1073.6 1273L1073.6 1279.37L1083.15 1279.37L1083.15 1286.82L1291.45 1286.82L1291.45 1370.73L1083.15 1370.73L1083.15 1360.25L1073.6 1360.25L1073.6 1352.67L1069.77 1352.67L1069.77 1342.66L1048.75 1342.66L1048.75 1316.75L1020.09 1316.75L1020.09 1302.76L943.65 1302.76L943.65 1298.01L930.27 1298.01L930.27 1292.84L924.54 1292.84L924.54 1282.57L890.14 1282.57L890.14 1276.09L872.94 1276.09L872.94 1267.68L848.1 1267.68L848.1 1248.05L813.7 1248.05Z"/>
<path fill="none" stroke="#FF0000" stroke-width="2.2" d="M813.7 1248.05H817.52V1252.96H821.34V1257.86H825.17V1263.51H830.9V1270.62H842.37V1277.98H850.01V1287.31H863.39V1294.67H874.85V1299.57H890.14V1305.46H901.61V1309.39H909.25V1317.97H916.89V1325.34H932.18V1333.92H947.47V1338.09H966.58V1345.45H981.87V1351.1H989.51V1361.65H997.16V1367.04H1016.27V1373.18H1043.02V1377.1H1048.75V1389.13H1188.26V1409.98H1192.08V1430.84H1230.3"/>
<path fill="none" stroke="#FF0000" stroke-width="1.8" d="M825.4 1259.01v9M828.99 1259.01v9M835.7 1266.12v9M835.98 1266.12v9M865.62 1290.17v9M873.82 1290.17v9M874.59 1290.17v9M892.02 1300.96v9M892.34 1300.96v9M894.46 1300.96v9M911.71 1313.47v9M922.77 1320.84v9M944.45 1329.42v9M945.19 1329.42v9M948.08 1333.59v9M958.95 1333.59v9M1025.56 1368.68v9M1036.15 1368.68v9M1050.45 1384.63v9M1057.3 1384.63v9M1060.09 1384.63v9M1064.9 1384.63v9M1069.53 1384.63v9M1085.52 1384.63v9M1085.75 1384.63v9M1092.41 1384.63v9M1099.78 1384.63v9M1105.22 1384.63v9M1109.26 1384.63v9M1136.56 1384.63v9M1139.53 1384.63v9M1157.82 1384.63v9M1168.02 1384.63v9M1181.1 1384.63v9M1184.5 1384.63v9M1198.72 1426.34v9M1199.23 1426.34v9M1202.14 1426.34v9M1204.58 1426.34v9M1211.49 1426.34v9M1212.35 1426.34v9M1212.97 1426.34v9M1213.5 1426.34v9M1214.2 1426.34v9M1229.73 1426.34v9M1230.3 1426.34v9"/>
<path fill="none" stroke="#0000FF" stroke-width="2.2" d="M813.7 1248.05H848.1V1257.86H872.94V1264H890.14V1268.9H924.54V1276.02H930.27V1280.68H943.65V1284.36H1020.09V1292.21H1048.75V1302.03H1069.77V1313.56H1073.6V1321.66H1083.15V1333.43H1291.45"/>
<path fill="none" stroke="#0000FF" stroke-width="1.8" d="M833.21 1243.55v9M840.4 1243.55v9M857.54 1253.36v9M861.56 1253.36v9M897.17 1264.4v9M906.62 1264.4v9M911.5 1264.4v9M957.09 1279.86v9M961.84 1279.86v9M971.82 1279.86v9M981.74 1279.86v9M984.87 1279.86v9M985.58 1279.86v9M993.47 1279.86v9M1006.26 1279.86v9M1007.28 1279.86v9M1010.44 1279.86v9M1011.06 1279.86v9M1021.06 1287.71v9M1021.87 1287.71v9M1034.77 1287.71v9M1052.83 1297.53v9M1059.24 1297.53v9M1061.77 1297.53v9M1064.93 1297.53v9M1066.97 1297.53v9M1070.4 1309.06v9M1074.05 1317.16v9M1075.72 1317.16v9M1092.83 1328.93v9M1093.76 1328.93v9M1099.04 1328.93v9M1123.52 1328.93v9M1130.14 1328.93v9M1135.96 1328.93v9M1145.68 1328.93v9M1194.33 1328.93v9M1209.65 1328.93v9M1218.42 1328.93v9M1241.73 1328.93v9M1251.7 1328.93v9M1253.87 1328.93v9M1257.91 1328.93v9M1268.68 1328.93v9M1289.78 1328.93v9M1291.45 1328.93v9"/>
<line x1="790.25" y1="1235.8" x2="790.25" y2="1506.6" stroke="#000" stroke-width="1.4"/>
<line x1="789.55" y1="1506" x2="1314.65" y2="1506" stroke="#000" stroke-width="1.4"/>
<line x1="786.45" y1="1248.05" x2="790.25" y2="1248.05" stroke="#000" stroke-width="1.2"/>
<text x="0" y="0" font-size="14.8" text-anchor="end" transform="translate(781.75 1253.35) scale(1.12 1)">1.00</text>
<line x1="786.45" y1="1309.39" x2="790.25" y2="1309.39" stroke="#000" stroke-width="1.2"/>
<text x="0" y="0" font-size="14.8" text-anchor="end" transform="translate(781.75 1314.69) scale(1.12 1)">0.75</text>
<line x1="786.45" y1="1370.73" x2="790.25" y2="1370.73" stroke="#000" stroke-width="1.2"/>
<text x="0" y="0" font-size="14.8" text-anchor="end" transform="translate(781.75 1376.03) scale(1.12 1)">0.50</text>
<line x1="786.45" y1="1432.06" x2="790.25" y2="1432.06" stroke="#000" stroke-width="1.2"/>
<text x="0" y="0" font-size="14.8" text-anchor="end" transform="translate(781.75 1437.36) scale(1.12 1)">0.25</text>
<line x1="786.45" y1="1493.4" x2="790.25" y2="1493.4" stroke="#000" stroke-width="1.2"/>
<text x="0" y="0" font-size="14.8" text-anchor="end" transform="translate(781.75 1498.7) scale(1.12 1)">0.00</text>
<line x1="813.7" y1="1506" x2="813.7" y2="1509.8" stroke="#000" stroke-width="1.2"/>
<text x="0" y="0" font-size="14.8" text-anchor="middle" transform="translate(813.7 1523.3) scale(1.12 1)">0</text>
<line x1="851.92" y1="1506" x2="851.92" y2="1509.8" stroke="#000" stroke-width="1.2"/>
<text x="0" y="0" font-size="14.8" text-anchor="middle" transform="translate(851.92 1523.3) scale(1.12 1)">1</text>
<line x1="890.14" y1="1506" x2="890.14" y2="1509.8" stroke="#000" stroke-width="1.2"/>
<text x="0" y="0" font-size="14.8" text-anchor="middle" transform="translate(890.14 1523.3) scale(1.12 1)">2</text>
<line x1="928.36" y1="1506" x2="928.36" y2="1509.8" stroke="#000" stroke-width="1.2"/>
<text x="0" y="0" font-size="14.8" text-anchor="middle" transform="translate(928.36 1523.3) scale(1.12 1)">3</text>
<line x1="966.58" y1="1506" x2="966.58" y2="1509.8" stroke="#000" stroke-width="1.2"/>
<text x="0" y="0" font-size="14.8" text-anchor="middle" transform="translate(966.58 1523.3) scale(1.12 1)">4</text>
<line x1="1004.8" y1="1506" x2="1004.8" y2="1509.8" stroke="#000" stroke-width="1.2"/>
<text x="0" y="0" font-size="14.8" text-anchor="middle" transform="translate(1004.8 1523.3) scale(1.12 1)">5</text>
<line x1="1043.02" y1="1506" x2="1043.02" y2="1509.8" stroke="#000" stroke-width="1.2"/>
<text x="0" y="0" font-size="14.8" text-anchor="middle" transform="translate(1043.02 1523.3) scale(1.12 1)">6</text>
<line x1="1081.24" y1="1506" x2="1081.24" y2="1509.8" stroke="#000" stroke-width="1.2"/>
<text x="0" y="0" font-size="14.8" text-anchor="middle" transform="translate(1081.24 1523.3) scale(1.12 1)">7</text>
<line x1="1119.46" y1="1506" x2="1119.46" y2="1509.8" stroke="#000" stroke-width="1.2"/>
<text x="0" y="0" font-size="14.8" text-anchor="middle" transform="translate(1119.46 1523.3) scale(1.12 1)">8</text>
<line x1="1157.68" y1="1506" x2="1157.68" y2="1509.8" stroke="#000" stroke-width="1.2"/>
<text x="0" y="0" font-size="14.8" text-anchor="middle" transform="translate(1157.68 1523.3) scale(1.12 1)">9</text>
<line x1="1195.9" y1="1506" x2="1195.9" y2="1509.8" stroke="#000" stroke-width="1.2"/>
<text x="0" y="0" font-size="14.8" text-anchor="middle" transform="translate(1195.9 1523.3) scale(1.12 1)">10</text>
<line x1="1234.12" y1="1506" x2="1234.12" y2="1509.8" stroke="#000" stroke-width="1.2"/>
<text x="0" y="0" font-size="14.8" text-anchor="middle" transform="translate(1234.12 1523.3) scale(1.12 1)">11</text>
<line x1="1272.34" y1="1506" x2="1272.34" y2="1509.8" stroke="#000" stroke-width="1.2"/>
<text x="0" y="0" font-size="14.8" text-anchor="middle" transform="translate(1272.34 1523.3) scale(1.12 1)">12</text>
<text x="0" y="0" font-size="17.2" text-anchor="middle" transform="translate(1052.45 1543.7) scale(1.12 1)">Time(years)</text>
<text x="0" y="0" font-size="17.8" text-anchor="middle" transform="translate(711.45 1370.9) scale(1.12 1) rotate(-90)">Survival probability</text>
<text x="0" y="0" font-size="20.6" transform="translate(823.55 1452.5) scale(1.12 1)">p&lt;0.001</text>
<text x="0" y="0" font-size="12.4" transform="translate(952.05 1206.3) scale(1.12 1)">Risk</text>
<rect x="985.45" y="1191.6" width="21.4" height="19.8" fill="#FFB3B3"/>
<line x1="986.75" y1="1201.6" x2="1005.55" y2="1201.6" stroke="#FF0000" stroke-width="1.9"/>
<line x1="996.15" y1="1196.5" x2="996.15" y2="1205.5" stroke="#FF0000" stroke-width="1.5"/>
<text x="0" y="0" font-size="12.4" transform="translate(1015.35 1206.3) scale(1.12 1)">High risk</text>
<rect x="1075.25" y="1191.6" width="21.4" height="19.8" fill="#B3B3FF"/>
<line x1="1076.55" y1="1201.6" x2="1095.35" y2="1201.6" stroke="#0000FF" stroke-width="1.9"/>
<line x1="1085.95" y1="1196.5" x2="1085.95" y2="1205.5" stroke="#0000FF" stroke-width="1.5"/>
<text x="0" y="0" font-size="12.4" transform="translate(1104.95 1206.3) scale(1.12 1)">Low risk</text>
<line x1="790.25" y1="1590.8" x2="790.25" y2="1633.3" stroke="#000" stroke-width="1.4"/>
<line x1="789.55" y1="1632.7" x2="1314.65" y2="1632.7" stroke="#000" stroke-width="1.4"/>
<line x1="786.45" y1="1602" x2="790.25" y2="1602" stroke="#000" stroke-width="1.2"/>
<line x1="786.45" y1="1621.3" x2="790.25" y2="1621.3" stroke="#000" stroke-width="1.2"/>
<text x="0" y="0" font-size="14.5" text-anchor="end" fill="#FF0000" transform="translate(782.75 1607.2) scale(1.12 1)">High risk</text>
<text x="0" y="0" font-size="14.5" text-anchor="end" fill="#0000FF" transform="translate(782.75 1626.5) scale(1.12 1)">Low risk</text>
<text x="0" y="0" font-size="15.9" text-anchor="middle" fill="#FF0000" transform="translate(813.7 1607.6) scale(1.12 1)">170</text>
<text x="0" y="0" font-size="15.9" text-anchor="middle" fill="#0000FF" transform="translate(813.7 1627.1) scale(1.12 1)">96</text>
<line x1="813.7" y1="1632.7" x2="813.7" y2="1636.5" stroke="#000" stroke-width="1.2"/>
<text x="0" y="0" font-size="14.8" text-anchor="middle" transform="translate(813.7 1650.8) scale(1.12 1)">0</text>
<text x="0" y="0" font-size="15.9" text-anchor="middle" fill="#FF0000" transform="translate(851.92 1607.6) scale(1.12 1)">132</text>
<text x="0" y="0" font-size="15.9" text-anchor="middle" fill="#0000FF" transform="translate(851.92 1627.1) scale(1.12 1)">82</text>
<line x1="851.92" y1="1632.7" x2="851.92" y2="1636.5" stroke="#000" stroke-width="1.2"/>
<text x="0" y="0" font-size="14.8" text-anchor="middle" transform="translate(851.92 1650.8) scale(1.12 1)">1</text>
<text x="0" y="0" font-size="15.9" text-anchor="middle" fill="#FF0000" transform="translate(890.14 1607.6) scale(1.12 1)">111</text>
<text x="0" y="0" font-size="15.9" text-anchor="middle" fill="#0000FF" transform="translate(890.14 1627.1) scale(1.12 1)">66</text>
<line x1="890.14" y1="1632.7" x2="890.14" y2="1636.5" stroke="#000" stroke-width="1.2"/>
<text x="0" y="0" font-size="14.8" text-anchor="middle" transform="translate(890.14 1650.8) scale(1.12 1)">2</text>
<text x="0" y="0" font-size="15.9" text-anchor="middle" fill="#FF0000" transform="translate(928.36 1607.6) scale(1.12 1)">83</text>
<text x="0" y="0" font-size="15.9" text-anchor="middle" fill="#0000FF" transform="translate(928.36 1627.1) scale(1.12 1)">55</text>
<line x1="928.36" y1="1632.7" x2="928.36" y2="1636.5" stroke="#000" stroke-width="1.2"/>
<text x="0" y="0" font-size="14.8" text-anchor="middle" transform="translate(928.36 1650.8) scale(1.12 1)">3</text>
<text x="0" y="0" font-size="15.9" text-anchor="middle" fill="#FF0000" transform="translate(966.58 1607.6) scale(1.12 1)">61</text>
<text x="0" y="0" font-size="15.9" text-anchor="middle" fill="#0000FF" transform="translate(966.58 1627.1) scale(1.12 1)">44</text>
<line x1="966.58" y1="1632.7" x2="966.58" y2="1636.5" stroke="#000" stroke-width="1.2"/>
<text x="0" y="0" font-size="14.8" text-anchor="middle" transform="translate(966.58 1650.8) scale(1.12 1)">4</text>
<text x="0" y="0" font-size="15.9" text-anchor="middle" fill="#FF0000" transform="translate(1004.8 1607.6) scale(1.12 1)">40</text>
<text x="0" y="0" font-size="15.9" text-anchor="middle" fill="#0000FF" transform="translate(1004.8 1627.1) scale(1.12 1)">34</text>
<line x1="1004.8" y1="1632.7" x2="1004.8" y2="1636.5" stroke="#000" stroke-width="1.2"/>
<text x="0" y="0" font-size="14.8" text-anchor="middle" transform="translate(1004.8 1650.8) scale(1.12 1)">5</text>
<text x="0" y="0" font-size="15.9" text-anchor="middle" fill="#FF0000" transform="translate(1043.02 1607.6) scale(1.12 1)">22</text>
<text x="0" y="0" font-size="15.9" text-anchor="middle" fill="#0000FF" transform="translate(1043.02 1627.1) scale(1.12 1)">22</text>
<line x1="1043.02" y1="1632.7" x2="1043.02" y2="1636.5" stroke="#000" stroke-width="1.2"/>
<text x="0" y="0" font-size="14.8" text-anchor="middle" transform="translate(1043.02 1650.8) scale(1.12 1)">6</text>
<text x="0" y="0" font-size="15.9" text-anchor="middle" fill="#FF0000" transform="translate(1081.24 1607.6) scale(1.12 1)">13</text>
<text x="0" y="0" font-size="15.9" text-anchor="middle" fill="#0000FF" transform="translate(1081.24 1627.1) scale(1.12 1)">15</text>
<line x1="1081.24" y1="1632.7" x2="1081.24" y2="1636.5" stroke="#000" stroke-width="1.2"/>
<text x="0" y="0" font-size="14.8" text-anchor="middle" transform="translate(1081.24 1650.8) scale(1.12 1)">7</text>
<text x="0" y="0" font-size="15.9" text-anchor="middle" fill="#FF0000" transform="translate(1119.46 1607.6) scale(1.12 1)">8</text>
<text x="0" y="0" font-size="15.9" text-anchor="middle" fill="#0000FF" transform="translate(1119.46 1627.1) scale(1.12 1)">9</text>
<line x1="1119.46" y1="1632.7" x2="1119.46" y2="1636.5" stroke="#000" stroke-width="1.2"/>
<text x="0" y="0" font-size="14.8" text-anchor="middle" transform="translate(1119.46 1650.8) scale(1.12 1)">8</text>
<text x="0" y="0" font-size="15.9" text-anchor="middle" fill="#FF0000" transform="translate(1157.68 1607.6) scale(1.12 1)">6</text>
<text x="0" y="0" font-size="15.9" text-anchor="middle" fill="#0000FF" transform="translate(1157.68 1627.1) scale(1.12 1)">8</text>
<line x1="1157.68" y1="1632.7" x2="1157.68" y2="1636.5" stroke="#000" stroke-width="1.2"/>
<text x="0" y="0" font-size="14.8" text-anchor="middle" transform="translate(1157.68 1650.8) scale(1.12 1)">9</text>
<text x="0" y="0" font-size="15.9" text-anchor="middle" fill="#FF0000" transform="translate(1195.9 1607.6) scale(1.12 1)">3</text>
<text x="0" y="0" font-size="15.9" text-anchor="middle" fill="#0000FF" transform="translate(1195.9 1627.1) scale(1.12 1)">4</text>
<line x1="1195.9" y1="1632.7" x2="1195.9" y2="1636.5" stroke="#000" stroke-width="1.2"/>
<text x="0" y="0" font-size="14.8" text-anchor="middle" transform="translate(1195.9 1650.8) scale(1.12 1)">10</text>
<text x="0" y="0" font-size="15.9" text-anchor="middle" fill="#FF0000" transform="translate(1234.12 1607.6) scale(1.12 1)">0</text>
<text x="0" y="0" font-size="15.9" text-anchor="middle" fill="#0000FF" transform="translate(1234.12 1627.1) scale(1.12 1)">1</text>
<line x1="1234.12" y1="1632.7" x2="1234.12" y2="1636.5" stroke="#000" stroke-width="1.2"/>
<text x="0" y="0" font-size="14.8" text-anchor="middle" transform="translate(1234.12 1650.8) scale(1.12 1)">11</text>
<text x="0" y="0" font-size="15.9" text-anchor="middle" fill="#FF0000" transform="translate(1272.34 1607.6) scale(1.12 1)">0</text>
<text x="0" y="0" font-size="15.9" text-anchor="middle" fill="#0000FF" transform="translate(1272.34 1627.1) scale(1.12 1)">1</text>
<line x1="1272.34" y1="1632.7" x2="1272.34" y2="1636.5" stroke="#000" stroke-width="1.2"/>
<text x="0" y="0" font-size="14.8" text-anchor="middle" transform="translate(1272.34 1650.8) scale(1.12 1)">12</text>
<text x="0" y="0" font-size="17.2" text-anchor="middle" transform="translate(1052.45 1670.5) scale(1.12 1)">Time(years)</text>
<text x="0" y="0" font-size="18" text-anchor="middle" transform="translate(711.25 1611.2) scale(1.12 1) rotate(-90)">Risk</text>
<line x1="793.85" y1="2186.5" x2="1268.45" y2="1788" stroke="#000" stroke-width="1.9" stroke-dasharray="5.2 4.6"/>
<path fill="none" stroke="#00FF00" stroke-width="2.7" stroke-linejoin="round" stroke-linecap="round" d="M811.15 2172.7L811.15 2161.57L817.77 2161.57L817.77 2146.73L824.39 2146.73L824.39 2124.47L831.02 2124.47L831.02 2113.34L839.85 2113.34L839.85 2100.36L854.42 2100.36L854.42 2076.24L859.71 2076.24L859.71 2065.11L875.17 2065.11L875.17 2052.12L878.26 2052.12L878.26 2039.14L886.2 2039.14L886.2 2028.01L906.07 2028.01L906.07 2016.88L909.16 2016.88L909.16 2003.89L913.58 2003.89L913.58 1990.91L914.9 1990.91L914.9 1979.78L919.32 1979.78L919.32 1968.65L954.64 1968.65L954.64 1957.52L956.85 1957.52L956.85 1946.39L987.75 1946.39L987.75 1933.4L992.16 1933.4L992.16 1922.27L1014.24 1922.27L1014.24 1909.29L1023.07 1909.29L1023.07 1894.45L1027.48 1894.45L1027.48 1885.17L1031.9 1885.17L1031.9 1875.9L1040.73 1875.9L1040.73 1861.06L1042.94 1861.06L1042.94 1851.78L1124.62 1851.78L1124.62 1838.8L1151.11 1838.8L1151.11 1827.67L1195.26 1827.67L1195.26 1814.68L1223.95 1814.68L1223.95 1801.7L1252.65 1801.7"/>
<path fill="none" stroke="#0000FF" stroke-width="2.7" stroke-linejoin="round" stroke-linecap="round" d="M811.15 2172.7L811.15 2165.28L815.56 2165.28L815.56 2154.15L819.98 2154.15L819.98 2135.6L822.19 2135.6L822.19 2126.32L828.81 2126.32L828.81 2124.47L831.02 2124.47L831.02 2115.19L837.64 2115.19L837.64 2109.63L845.59 2109.63L845.59 2079.95L850.88 2079.95L850.88 2068.82L854.42 2068.82L854.42 2042.85L857.51 2042.85L857.51 2035.43L859.71 2035.43L859.71 2024.3L864.13 2024.3L864.13 2018.73L870.75 2018.73L870.75 2013.17L873.84 2013.17L873.84 2007.6L884 2007.6L884 1990.91L890.62 1990.91L890.62 1987.2L892.83 1987.2L892.83 1979.78L897.24 1979.78L897.24 1974.21L926.82 1974.21L926.82 1968.65L932.56 1968.65L932.56 1929.69L954.64 1929.69L954.64 1924.13L963.47 1924.13L963.47 1918.56L996.58 1918.56L996.58 1900.01L1001 1900.01L1001 1894.45L1009.83 1894.45L1009.83 1888.88L1023.07 1888.88L1023.07 1883.32L1025.28 1883.32L1025.28 1877.75L1049.56 1877.75L1049.56 1872.19L1066.34 1872.19L1066.34 1864.77L1084.88 1864.77L1084.88 1859.2L1091.5 1859.2L1091.5 1846.22L1106.95 1846.22L1106.95 1838.8L1115.78 1838.8L1115.78 1831.38L1129.03 1831.38L1129.03 1825.81L1142.28 1825.81L1142.28 1818.39L1182.01 1818.39L1182.01 1812.83L1188.63 1812.83L1188.63 1805.41L1221.74 1805.41L1221.74 1801.7L1252.65 1801.7"/>
<path fill="none" stroke="#FF0000" stroke-width="2.7" stroke-linejoin="round" stroke-linecap="round" d="M811.15 2172.7L811.15 2165.28L814.68 2165.28L814.68 2159.71L819.98 2159.71L819.98 2120.76L820.86 2120.76L824.39 2120.76L824.39 2115.19L831.02 2115.19L831.02 2070.67L835.43 2070.67L835.43 2034.69L841.17 2034.69L841.17 2020.96L846.47 2020.96L846.47 2005.75L863.25 2005.75L863.25 1992.76L867.66 1992.76L867.66 1987.2L873.84 1987.2L873.84 1976.07L891.94 1976.07L891.94 1963.08L901.66 1963.08L901.66 1957.52L909.16 1957.52L909.16 1930.81L937.86 1930.81L937.86 1918.94L944.48 1918.94L944.48 1906.69L956.85 1906.69L956.85 1894.45L962.58 1894.45L962.58 1890L975.39 1890L975.39 1877.75L993.49 1877.75L993.49 1870.33L1012.03 1870.33L1012.03 1864.77L1018.65 1864.77L1018.65 1859.95L1036.32 1859.95L1036.32 1855.49L1062.8 1855.49L1062.8 1849.93L1067.22 1849.93L1067.22 1840.65L1093.71 1840.65L1093.71 1835.09L1098.12 1835.09L1098.12 1829.52L1117.99 1829.52L1117.99 1825.81L1142.28 1825.81L1142.28 1816.54L1173.18 1816.54L1173.18 1812.83L1182.01 1812.83L1182.01 1805.41L1217.33 1805.41L1217.33 1801.7L1252.65 1801.7"/>
<rect x="793.35" y="1786.5" width="476.6" height="400.5" fill="none" stroke="#000" stroke-width="1.4"/>
<line x1="780.15" y1="2172.7" x2="793.35" y2="2172.7" stroke="#000" stroke-width="1.3"/>
<text x="764.35" y="2172.7" font-size="21.4" text-anchor="middle" transform="rotate(-90 764.35 2172.7)">0.0</text>
<line x1="811.15" y1="2187" x2="811.15" y2="2200.5" stroke="#000" stroke-width="1.3"/>
<text x="811.15" y="2233.4" font-size="21.4" text-anchor="middle">0.0</text>
<line x1="780.15" y1="2098.5" x2="793.35" y2="2098.5" stroke="#000" stroke-width="1.3"/>
<text x="764.35" y="2098.5" font-size="21.4" text-anchor="middle" transform="rotate(-90 764.35 2098.5)">0.2</text>
<line x1="899.45" y1="2187" x2="899.45" y2="2200.5" stroke="#000" stroke-width="1.3"/>
<text x="899.45" y="2233.4" font-size="21.4" text-anchor="middle">0.2</text>
<line x1="780.15" y1="2024.3" x2="793.35" y2="2024.3" stroke="#000" stroke-width="1.3"/>
<text x="764.35" y="2024.3" font-size="21.4" text-anchor="middle" transform="rotate(-90 764.35 2024.3)">0.4</text>
<line x1="987.75" y1="2187" x2="987.75" y2="2200.5" stroke="#000" stroke-width="1.3"/>
<text x="987.75" y="2233.4" font-size="21.4" text-anchor="middle">0.4</text>
<line x1="780.15" y1="1950.1" x2="793.35" y2="1950.1" stroke="#000" stroke-width="1.3"/>
<text x="764.35" y="1950.1" font-size="21.4" text-anchor="middle" transform="rotate(-90 764.35 1950.1)">0.6</text>
<line x1="1076.05" y1="2187" x2="1076.05" y2="2200.5" stroke="#000" stroke-width="1.3"/>
<text x="1076.05" y="2233.4" font-size="21.4" text-anchor="middle">0.6</text>
<line x1="780.15" y1="1875.9" x2="793.35" y2="1875.9" stroke="#000" stroke-width="1.3"/>
<text x="764.35" y="1875.9" font-size="21.4" text-anchor="middle" transform="rotate(-90 764.35 1875.9)">0.8</text>
<line x1="1164.35" y1="2187" x2="1164.35" y2="2200.5" stroke="#000" stroke-width="1.3"/>
<text x="1164.35" y="2233.4" font-size="21.4" text-anchor="middle">0.8</text>
<line x1="780.15" y1="1801.7" x2="793.35" y2="1801.7" stroke="#000" stroke-width="1.3"/>
<text x="764.35" y="1801.7" font-size="21.4" text-anchor="middle" transform="rotate(-90 764.35 1801.7)">1.0</text>
<line x1="1252.65" y1="2187" x2="1252.65" y2="2200.5" stroke="#000" stroke-width="1.3"/>
<text x="1252.65" y="2233.4" font-size="21.4" text-anchor="middle">1.0</text>
<text x="1031.65" y="2282" font-size="21" text-anchor="middle">1−Specificity</text>
<text x="712.75" y="1986.75" font-size="21" text-anchor="middle" transform="rotate(-90 712.75 1986.75)">Sensitivity</text>
<line x1="996.55" y1="2111" x2="1036.55" y2="2111" stroke="#00FF00" stroke-width="2.4"/>
<text x="1054.75" y="2118.6" font-size="21">AUC at 1 years: 0.681</text>
<line x1="996.55" y1="2136.6" x2="1036.55" y2="2136.6" stroke="#0000FF" stroke-width="2.4"/>
<text x="1054.75" y="2144.2" font-size="21">AUC at 3 years: 0.715</text>
<line x1="996.55" y1="2162.2" x2="1036.55" y2="2162.2" stroke="#FF0000" stroke-width="2.4"/>
<text x="1054.75" y="2169.8" font-size="21">AUC at 5 years: 0.768</text>
<g fill="#00FF00"><circle cx="1467.99" cy="276.31" r="2.7"/><circle cx="1468.9" cy="276.06" r="2.7"/><circle cx="1469.81" cy="275.8" r="2.7"/><circle cx="1470.72" cy="275.55" r="2.7"/><circle cx="1471.63" cy="275.3" r="2.7"/><circle cx="1472.54" cy="275.05" r="2.7"/><circle cx="1473.45" cy="274.79" r="2.7"/><circle cx="1474.36" cy="274.54" r="2.7"/><circle cx="1475.26" cy="274.45" r="2.7"/><circle cx="1476.17" cy="274.36" r="2.7"/><circle cx="1477.08" cy="274.27" r="2.7"/><circle cx="1477.99" cy="274.17" r="2.7"/><circle cx="1478.9" cy="274.08" r="2.7"/><circle cx="1479.81" cy="273.99" r="2.7"/><circle cx="1480.72" cy="273.9" r="2.7"/><circle cx="1481.63" cy="273.8" r="2.7"/><circle cx="1482.54" cy="273.71" r="2.7"/><circle cx="1483.44" cy="273.62" r="2.7"/><circle cx="1484.35" cy="273.53" r="2.7"/><circle cx="1485.26" cy="273.43" r="2.7"/><circle cx="1486.17" cy="273.34" r="2.7"/><circle cx="1487.08" cy="273.25" r="2.7"/><circle cx="1487.99" cy="273.16" r="2.7"/><circle cx="1488.9" cy="273.06" r="2.7"/><circle cx="1489.81" cy="272.97" r="2.7"/><circle cx="1490.72" cy="272.92" r="2.7"/><circle cx="1491.63" cy="272.87" r="2.7"/><circle cx="1492.53" cy="272.82" r="2.7"/><circle cx="1493.44" cy="272.77" r="2.7"/><circle cx="1494.35" cy="272.72" r="2.7"/><circle cx="1495.26" cy="272.67" r="2.7"/><circle cx="1496.17" cy="272.62" r="2.7"/><circle cx="1497.08" cy="272.57" r="2.7"/><circle cx="1497.99" cy="272.52" r="2.7"/><circle cx="1498.9" cy="272.47" r="2.7"/><circle cx="1499.81" cy="272.42" r="2.7"/><circle cx="1500.72" cy="272.37" r="2.7"/><circle cx="1501.62" cy="272.32" r="2.7"/><circle cx="1502.53" cy="272.27" r="2.7"/><circle cx="1503.44" cy="272.22" r="2.7"/><circle cx="1504.35" cy="272.17" r="2.7"/><circle cx="1505.26" cy="272.11" r="2.7"/><circle cx="1506.17" cy="272.06" r="2.7"/><circle cx="1507.08" cy="272.01" r="2.7"/><circle cx="1507.99" cy="271.96" r="2.7"/><circle cx="1508.9" cy="271.91" r="2.7"/><circle cx="1509.8" cy="271.86" r="2.7"/><circle cx="1510.71" cy="271.81" r="2.7"/><circle cx="1511.62" cy="271.76" r="2.7"/><circle cx="1512.53" cy="271.71" r="2.7"/><circle cx="1513.44" cy="271.66" r="2.7"/><circle cx="1514.35" cy="271.61" r="2.7"/><circle cx="1515.26" cy="271.56" r="2.7"/><circle cx="1516.17" cy="271.51" r="2.7"/><circle cx="1517.08" cy="271.46" r="2.7"/><circle cx="1517.99" cy="271.41" r="2.7"/><circle cx="1518.89" cy="271.36" r="2.7"/><circle cx="1519.8" cy="271.31" r="2.7"/><circle cx="1520.71" cy="271.26" r="2.7"/><circle cx="1521.62" cy="271.21" r="2.7"/><circle cx="1522.53" cy="271.18" r="2.7"/><circle cx="1523.44" cy="271.15" r="2.7"/><circle cx="1524.35" cy="271.12" r="2.7"/><circle cx="1525.26" cy="271.09" r="2.7"/><circle cx="1526.17" cy="271.06" r="2.7"/><circle cx="1527.07" cy="271.03" r="2.7"/><circle cx="1527.98" cy="271" r="2.7"/><circle cx="1528.89" cy="270.97" r="2.7"/><circle cx="1529.8" cy="270.94" r="2.7"/><circle cx="1530.71" cy="270.91" r="2.7"/><circle cx="1531.62" cy="270.88" r="2.7"/><circle cx="1532.53" cy="270.85" r="2.7"/><circle cx="1533.44" cy="270.82" r="2.7"/><circle cx="1534.35" cy="270.79" r="2.7"/><circle cx="1535.26" cy="270.76" r="2.7"/><circle cx="1536.16" cy="270.74" r="2.7"/><circle cx="1537.07" cy="270.71" r="2.7"/><circle cx="1537.98" cy="270.68" r="2.7"/><circle cx="1538.89" cy="270.65" r="2.7"/><circle cx="1539.8" cy="270.62" r="2.7"/><circle cx="1540.71" cy="270.59" r="2.7"/><circle cx="1541.62" cy="270.56" r="2.7"/><circle cx="1542.53" cy="270.53" r="2.7"/><circle cx="1543.44" cy="270.5" r="2.7"/><circle cx="1544.34" cy="270.47" r="2.7"/><circle cx="1545.25" cy="270.44" r="2.7"/><circle cx="1546.16" cy="270.41" r="2.7"/><circle cx="1547.07" cy="270.38" r="2.7"/><circle cx="1547.98" cy="270.35" r="2.7"/><circle cx="1548.89" cy="270.32" r="2.7"/><circle cx="1549.8" cy="270.29" r="2.7"/><circle cx="1550.71" cy="270.26" r="2.7"/><circle cx="1551.62" cy="270.23" r="2.7"/><circle cx="1552.53" cy="270.21" r="2.7"/><circle cx="1553.43" cy="270.18" r="2.7"/><circle cx="1554.34" cy="270.15" r="2.7"/><circle cx="1555.25" cy="270.12" r="2.7"/><circle cx="1556.16" cy="270.09" r="2.7"/><circle cx="1557.07" cy="270.06" r="2.7"/><circle cx="1557.98" cy="270.03" r="2.7"/><circle cx="1558.89" cy="270" r="2.7"/><circle cx="1559.8" cy="269.97" r="2.7"/><circle cx="1560.71" cy="269.94" r="2.7"/><circle cx="1561.62" cy="269.91" r="2.7"/><circle cx="1562.52" cy="269.88" r="2.7"/><circle cx="1563.43" cy="269.85" r="2.7"/><circle cx="1564.34" cy="269.82" r="2.7"/><circle cx="1565.25" cy="269.79" r="2.7"/><circle cx="1566.16" cy="269.76" r="2.7"/><circle cx="1567.07" cy="269.73" r="2.7"/><circle cx="1567.98" cy="269.7" r="2.7"/><circle cx="1568.89" cy="269.68" r="2.7"/><circle cx="1569.8" cy="269.65" r="2.7"/><circle cx="1570.7" cy="269.62" r="2.7"/><circle cx="1571.61" cy="269.59" r="2.7"/><circle cx="1572.52" cy="269.56" r="2.7"/><circle cx="1573.43" cy="269.53" r="2.7"/><circle cx="1574.34" cy="269.5" r="2.7"/><circle cx="1575.25" cy="269.47" r="2.7"/><circle cx="1576.16" cy="269.44" r="2.7"/><circle cx="1577.07" cy="269.41" r="2.7"/><circle cx="1577.98" cy="269.38" r="2.7"/><circle cx="1578.89" cy="269.35" r="2.7"/><circle cx="1579.79" cy="269.32" r="2.7"/><circle cx="1580.7" cy="269.29" r="2.7"/><circle cx="1581.61" cy="269.26" r="2.7"/><circle cx="1582.52" cy="269.23" r="2.7"/><circle cx="1583.43" cy="269.2" r="2.7"/><circle cx="1584.34" cy="269.18" r="2.7"/><circle cx="1585.25" cy="269.15" r="2.7"/><circle cx="1586.16" cy="269.12" r="2.7"/><circle cx="1587.07" cy="269.09" r="2.7"/><circle cx="1587.97" cy="269.06" r="2.7"/><circle cx="1588.88" cy="269.03" r="2.7"/><circle cx="1589.79" cy="269" r="2.7"/><circle cx="1590.7" cy="268.97" r="2.7"/><circle cx="1591.61" cy="268.94" r="2.7"/><circle cx="1592.52" cy="268.91" r="2.7"/><circle cx="1593.43" cy="268.88" r="2.7"/><circle cx="1594.34" cy="268.85" r="2.7"/><circle cx="1595.25" cy="268.82" r="2.7"/><circle cx="1596.16" cy="268.79" r="2.7"/><circle cx="1597.06" cy="268.76" r="2.7"/><circle cx="1597.97" cy="268.73" r="2.7"/><circle cx="1598.88" cy="268.7" r="2.7"/><circle cx="1599.79" cy="268.67" r="2.7"/><circle cx="1600.7" cy="268.65" r="2.7"/><circle cx="1601.61" cy="268.62" r="2.7"/><circle cx="1602.52" cy="268.59" r="2.7"/><circle cx="1603.43" cy="268.56" r="2.7"/><circle cx="1604.34" cy="268.53" r="2.7"/><circle cx="1605.25" cy="268.5" r="2.7"/><circle cx="1606.15" cy="268.47" r="2.7"/><circle cx="1607.06" cy="268.44" r="2.7"/><circle cx="1607.97" cy="268.41" r="2.7"/><circle cx="1608.88" cy="268.38" r="2.7"/><circle cx="1609.79" cy="268.35" r="2.7"/><circle cx="1610.7" cy="268.32" r="2.7"/><circle cx="1611.61" cy="268.29" r="2.7"/><circle cx="1612.52" cy="268.26" r="2.7"/><circle cx="1613.43" cy="268.23" r="2.7"/><circle cx="1614.33" cy="268.2" r="2.7"/><circle cx="1615.24" cy="268.17" r="2.7"/><circle cx="1616.15" cy="268.14" r="2.7"/><circle cx="1617.06" cy="268.12" r="2.7"/><circle cx="1617.97" cy="268.09" r="2.7"/><circle cx="1618.88" cy="268.06" r="2.7"/><circle cx="1619.79" cy="268.03" r="2.7"/><circle cx="1620.7" cy="268" r="2.7"/><circle cx="1621.61" cy="267.97" r="2.7"/><circle cx="1622.52" cy="267.94" r="2.7"/><circle cx="1623.42" cy="267.91" r="2.7"/><circle cx="1624.33" cy="267.88" r="2.7"/><circle cx="1625.24" cy="267.85" r="2.7"/><circle cx="1626.15" cy="267.82" r="2.7"/><circle cx="1627.06" cy="267.79" r="2.7"/><circle cx="1627.97" cy="267.76" r="2.7"/><circle cx="1628.88" cy="267.73" r="2.7"/><circle cx="1629.79" cy="267.7" r="2.7"/><circle cx="1630.7" cy="267.67" r="2.7"/><circle cx="1631.6" cy="267.64" r="2.7"/><circle cx="1632.51" cy="267.61" r="2.7"/><circle cx="1633.42" cy="267.59" r="2.7"/><circle cx="1634.33" cy="267.56" r="2.7"/><circle cx="1635.24" cy="267.53" r="2.7"/><circle cx="1636.15" cy="267.5" r="2.7"/><circle cx="1637.06" cy="267.47" r="2.7"/><circle cx="1637.97" cy="267.44" r="2.7"/><circle cx="1638.88" cy="267.41" r="2.7"/><circle cx="1639.79" cy="267.38" r="2.7"/><circle cx="1640.69" cy="267.35" r="2.7"/><circle cx="1641.6" cy="267.32" r="2.7"/><circle cx="1642.51" cy="267.29" r="2.7"/><circle cx="1643.42" cy="267.26" r="2.7"/><circle cx="1644.33" cy="267.23" r="2.7"/><circle cx="1645.24" cy="267.2" r="2.7"/><circle cx="1646.15" cy="267.17" r="2.7"/><circle cx="1647.06" cy="267.14" r="2.7"/><circle cx="1647.97" cy="267.11" r="2.7"/><circle cx="1648.87" cy="267.08" r="2.7"/><circle cx="1649.78" cy="267.04" r="2.7"/><circle cx="1650.69" cy="266.99" r="2.7"/><circle cx="1651.6" cy="266.95" r="2.7"/><circle cx="1652.51" cy="266.9" r="2.7"/><circle cx="1653.42" cy="266.86" r="2.7"/><circle cx="1654.33" cy="266.81" r="2.7"/><circle cx="1655.24" cy="266.76" r="2.7"/><circle cx="1656.15" cy="266.72" r="2.7"/><circle cx="1657.06" cy="266.67" r="2.7"/><circle cx="1657.96" cy="266.63" r="2.7"/><circle cx="1658.87" cy="266.58" r="2.7"/><circle cx="1659.78" cy="266.54" r="2.7"/><circle cx="1660.69" cy="266.49" r="2.7"/><circle cx="1661.6" cy="266.44" r="2.7"/><circle cx="1662.51" cy="266.4" r="2.7"/><circle cx="1663.42" cy="266.35" r="2.7"/><circle cx="1664.33" cy="266.31" r="2.7"/><circle cx="1665.24" cy="266.26" r="2.7"/><circle cx="1666.15" cy="266.21" r="2.7"/><circle cx="1667.05" cy="266.17" r="2.7"/><circle cx="1667.96" cy="266.12" r="2.7"/><circle cx="1668.87" cy="266.08" r="2.7"/><circle cx="1669.78" cy="266.03" r="2.7"/><circle cx="1670.69" cy="265.99" r="2.7"/><circle cx="1671.6" cy="265.94" r="2.7"/><circle cx="1672.51" cy="265.89" r="2.7"/><circle cx="1673.42" cy="265.85" r="2.7"/><circle cx="1674.33" cy="265.8" r="2.7"/><circle cx="1675.23" cy="265.76" r="2.7"/><circle cx="1676.14" cy="265.71" r="2.7"/></g>
<g fill="#FF0000"><circle cx="1677.05" cy="265.32" r="2.7"/><circle cx="1677.96" cy="265.28" r="2.7"/><circle cx="1678.87" cy="265.23" r="2.7"/><circle cx="1679.78" cy="265.19" r="2.7"/><circle cx="1680.69" cy="265.15" r="2.7"/><circle cx="1681.6" cy="265.11" r="2.7"/><circle cx="1682.51" cy="265.06" r="2.7"/><circle cx="1683.42" cy="265.02" r="2.7"/><circle cx="1684.32" cy="264.98" r="2.7"/><circle cx="1685.23" cy="264.93" r="2.7"/><circle cx="1686.14" cy="264.89" r="2.7"/><circle cx="1687.05" cy="264.85" r="2.7"/><circle cx="1687.96" cy="264.81" r="2.7"/><circle cx="1688.87" cy="264.76" r="2.7"/><circle cx="1689.78" cy="264.72" r="2.7"/><circle cx="1690.69" cy="264.68" r="2.7"/><circle cx="1691.6" cy="264.64" r="2.7"/><circle cx="1692.5" cy="264.59" r="2.7"/><circle cx="1693.41" cy="264.55" r="2.7"/><circle cx="1694.32" cy="264.51" r="2.7"/><circle cx="1695.23" cy="264.47" r="2.7"/><circle cx="1696.14" cy="264.42" r="2.7"/><circle cx="1697.05" cy="264.38" r="2.7"/><circle cx="1697.96" cy="264.34" r="2.7"/><circle cx="1698.87" cy="264.29" r="2.7"/><circle cx="1699.78" cy="264.25" r="2.7"/><circle cx="1700.69" cy="264.21" r="2.7"/><circle cx="1701.59" cy="264.17" r="2.7"/><circle cx="1702.5" cy="264.12" r="2.7"/><circle cx="1703.41" cy="264.08" r="2.7"/><circle cx="1704.32" cy="264.04" r="2.7"/><circle cx="1705.23" cy="264" r="2.7"/><circle cx="1706.14" cy="263.95" r="2.7"/><circle cx="1707.05" cy="263.91" r="2.7"/><circle cx="1707.96" cy="263.87" r="2.7"/><circle cx="1708.87" cy="263.83" r="2.7"/><circle cx="1709.78" cy="263.78" r="2.7"/><circle cx="1710.68" cy="263.74" r="2.7"/><circle cx="1711.59" cy="263.7" r="2.7"/><circle cx="1712.5" cy="263.65" r="2.7"/><circle cx="1713.41" cy="263.61" r="2.7"/><circle cx="1714.32" cy="263.57" r="2.7"/><circle cx="1715.23" cy="263.53" r="2.7"/><circle cx="1716.14" cy="263.48" r="2.7"/><circle cx="1717.05" cy="263.44" r="2.7"/><circle cx="1717.96" cy="263.4" r="2.7"/><circle cx="1718.86" cy="263.36" r="2.7"/><circle cx="1719.77" cy="263.31" r="2.7"/><circle cx="1720.68" cy="263.27" r="2.7"/><circle cx="1721.59" cy="263.23" r="2.7"/><circle cx="1722.5" cy="263.19" r="2.7"/><circle cx="1723.41" cy="263.14" r="2.7"/><circle cx="1724.32" cy="263.1" r="2.7"/><circle cx="1725.23" cy="263.06" r="2.7"/><circle cx="1726.14" cy="263.01" r="2.7"/><circle cx="1727.05" cy="262.97" r="2.7"/><circle cx="1727.95" cy="262.93" r="2.7"/><circle cx="1728.86" cy="262.89" r="2.7"/><circle cx="1729.77" cy="262.84" r="2.7"/><circle cx="1730.68" cy="262.8" r="2.7"/><circle cx="1731.59" cy="262.76" r="2.7"/><circle cx="1732.5" cy="262.72" r="2.7"/><circle cx="1733.41" cy="262.67" r="2.7"/><circle cx="1734.32" cy="262.63" r="2.7"/><circle cx="1735.23" cy="262.59" r="2.7"/><circle cx="1736.13" cy="262.55" r="2.7"/><circle cx="1737.04" cy="262.5" r="2.7"/><circle cx="1737.95" cy="262.46" r="2.7"/><circle cx="1738.86" cy="262.42" r="2.7"/><circle cx="1739.77" cy="262.38" r="2.7"/><circle cx="1740.68" cy="262.29" r="2.7"/><circle cx="1741.59" cy="262.21" r="2.7"/><circle cx="1742.5" cy="262.12" r="2.7"/><circle cx="1743.41" cy="262.04" r="2.7"/><circle cx="1744.32" cy="261.95" r="2.7"/><circle cx="1745.22" cy="261.87" r="2.7"/><circle cx="1746.13" cy="261.79" r="2.7"/><circle cx="1747.04" cy="261.7" r="2.7"/><circle cx="1747.95" cy="261.62" r="2.7"/><circle cx="1748.86" cy="261.53" r="2.7"/><circle cx="1749.77" cy="261.45" r="2.7"/><circle cx="1750.68" cy="261.37" r="2.7"/><circle cx="1751.59" cy="261.28" r="2.7"/><circle cx="1752.5" cy="261.2" r="2.7"/><circle cx="1753.4" cy="261.11" r="2.7"/><circle cx="1754.31" cy="261.03" r="2.7"/><circle cx="1755.22" cy="260.95" r="2.7"/><circle cx="1756.13" cy="260.86" r="2.7"/><circle cx="1757.04" cy="260.78" r="2.7"/><circle cx="1757.95" cy="260.69" r="2.7"/><circle cx="1758.86" cy="260.61" r="2.7"/><circle cx="1759.77" cy="260.52" r="2.7"/><circle cx="1760.68" cy="260.44" r="2.7"/><circle cx="1761.59" cy="260.36" r="2.7"/><circle cx="1762.49" cy="260.27" r="2.7"/><circle cx="1763.4" cy="260.19" r="2.7"/><circle cx="1764.31" cy="260.1" r="2.7"/><circle cx="1765.22" cy="260.02" r="2.7"/><circle cx="1766.13" cy="259.94" r="2.7"/><circle cx="1767.04" cy="259.85" r="2.7"/><circle cx="1767.95" cy="259.77" r="2.7"/><circle cx="1768.86" cy="259.68" r="2.7"/><circle cx="1769.77" cy="259.6" r="2.7"/><circle cx="1770.68" cy="259.52" r="2.7"/><circle cx="1771.58" cy="259.43" r="2.7"/><circle cx="1772.49" cy="259.35" r="2.7"/><circle cx="1773.4" cy="259.26" r="2.7"/><circle cx="1774.31" cy="259.18" r="2.7"/><circle cx="1775.22" cy="259.09" r="2.7"/><circle cx="1776.13" cy="259.01" r="2.7"/><circle cx="1777.04" cy="258.93" r="2.7"/><circle cx="1777.95" cy="258.84" r="2.7"/><circle cx="1778.86" cy="258.76" r="2.7"/><circle cx="1779.76" cy="258.67" r="2.7"/><circle cx="1780.67" cy="258.59" r="2.7"/><circle cx="1781.58" cy="258.51" r="2.7"/><circle cx="1782.49" cy="258.42" r="2.7"/><circle cx="1783.4" cy="258.34" r="2.7"/><circle cx="1784.31" cy="258.25" r="2.7"/><circle cx="1785.22" cy="258.17" r="2.7"/><circle cx="1786.13" cy="258.09" r="2.7"/><circle cx="1787.04" cy="258" r="2.7"/><circle cx="1787.95" cy="257.92" r="2.7"/><circle cx="1788.85" cy="257.83" r="2.7"/><circle cx="1789.76" cy="257.75" r="2.7"/><circle cx="1790.67" cy="257.67" r="2.7"/><circle cx="1791.58" cy="257.58" r="2.7"/><circle cx="1792.49" cy="257.5" r="2.7"/><circle cx="1793.4" cy="257.41" r="2.7"/><circle cx="1794.31" cy="257.33" r="2.7"/><circle cx="1795.22" cy="257.24" r="2.7"/><circle cx="1796.13" cy="257.16" r="2.7"/><circle cx="1797.03" cy="257.08" r="2.7"/><circle cx="1797.94" cy="256.93" r="2.7"/><circle cx="1798.85" cy="256.79" r="2.7"/><circle cx="1799.76" cy="256.65" r="2.7"/><circle cx="1800.67" cy="256.5" r="2.7"/><circle cx="1801.58" cy="256.36" r="2.7"/><circle cx="1802.49" cy="256.22" r="2.7"/><circle cx="1803.4" cy="256.07" r="2.7"/><circle cx="1804.31" cy="255.93" r="2.7"/><circle cx="1805.22" cy="255.79" r="2.7"/><circle cx="1806.12" cy="255.64" r="2.7"/><circle cx="1807.03" cy="255.5" r="2.7"/><circle cx="1807.94" cy="255.36" r="2.7"/><circle cx="1808.85" cy="255.21" r="2.7"/><circle cx="1809.76" cy="255.07" r="2.7"/><circle cx="1810.67" cy="254.93" r="2.7"/><circle cx="1811.58" cy="254.78" r="2.7"/><circle cx="1812.49" cy="254.64" r="2.7"/><circle cx="1813.4" cy="254.5" r="2.7"/><circle cx="1814.3" cy="254.36" r="2.7"/><circle cx="1815.21" cy="254.21" r="2.7"/><circle cx="1816.12" cy="254.07" r="2.7"/><circle cx="1817.03" cy="253.93" r="2.7"/><circle cx="1817.94" cy="253.78" r="2.7"/><circle cx="1818.85" cy="253.64" r="2.7"/><circle cx="1819.76" cy="253.5" r="2.7"/><circle cx="1820.67" cy="253.35" r="2.7"/><circle cx="1821.58" cy="253.21" r="2.7"/><circle cx="1822.49" cy="253.07" r="2.7"/><circle cx="1823.39" cy="252.92" r="2.7"/><circle cx="1824.3" cy="252.78" r="2.7"/><circle cx="1825.21" cy="252.64" r="2.7"/><circle cx="1826.12" cy="252.49" r="2.7"/><circle cx="1827.03" cy="252.35" r="2.7"/><circle cx="1827.94" cy="252.21" r="2.7"/><circle cx="1828.85" cy="252.06" r="2.7"/><circle cx="1829.76" cy="251.92" r="2.7"/><circle cx="1830.67" cy="251.78" r="2.7"/><circle cx="1831.58" cy="251.47" r="2.7"/><circle cx="1832.48" cy="251.17" r="2.7"/><circle cx="1833.39" cy="250.86" r="2.7"/><circle cx="1834.3" cy="250.56" r="2.7"/><circle cx="1835.21" cy="250.25" r="2.7"/><circle cx="1836.12" cy="249.95" r="2.7"/><circle cx="1837.03" cy="249.64" r="2.7"/><circle cx="1837.94" cy="249.34" r="2.7"/><circle cx="1838.85" cy="249.03" r="2.7"/><circle cx="1839.76" cy="248.72" r="2.7"/><circle cx="1840.66" cy="248.42" r="2.7"/><circle cx="1841.57" cy="248.11" r="2.7"/><circle cx="1842.48" cy="247.81" r="2.7"/><circle cx="1843.39" cy="247.5" r="2.7"/><circle cx="1844.3" cy="247.2" r="2.7"/><circle cx="1845.21" cy="246.89" r="2.7"/><circle cx="1846.12" cy="246.59" r="2.7"/><circle cx="1847.03" cy="246.28" r="2.7"/><circle cx="1847.94" cy="246.05" r="2.7"/><circle cx="1848.85" cy="245.81" r="2.7"/><circle cx="1849.75" cy="245.58" r="2.7"/><circle cx="1850.66" cy="245.34" r="2.7"/><circle cx="1851.57" cy="245.1" r="2.7"/><circle cx="1852.48" cy="244.87" r="2.7"/><circle cx="1853.39" cy="244.63" r="2.7"/><circle cx="1854.3" cy="244.4" r="2.7"/><circle cx="1855.21" cy="244.16" r="2.7"/><circle cx="1856.12" cy="243.93" r="2.7"/><circle cx="1857.03" cy="243.69" r="2.7"/><circle cx="1857.93" cy="243.46" r="2.7"/><circle cx="1858.84" cy="243.22" r="2.7"/><circle cx="1859.75" cy="242.99" r="2.7"/><circle cx="1860.66" cy="242.75" r="2.7"/><circle cx="1861.57" cy="242.31" r="2.7"/><circle cx="1862.48" cy="241.87" r="2.7"/><circle cx="1863.39" cy="241.43" r="2.7"/><circle cx="1864.3" cy="240.98" r="2.7"/><circle cx="1865.21" cy="240.54" r="2.7"/><circle cx="1866.12" cy="240.1" r="2.7"/><circle cx="1867.02" cy="239.66" r="2.7"/><circle cx="1867.93" cy="239.22" r="2.7"/><circle cx="1868.84" cy="238.78" r="2.7"/><circle cx="1869.75" cy="238.33" r="2.7"/><circle cx="1870.66" cy="237.89" r="2.7"/><circle cx="1871.57" cy="237.45" r="2.7"/><circle cx="1872.48" cy="237.01" r="2.7"/><circle cx="1873.39" cy="236.57" r="2.7"/><circle cx="1874.3" cy="236.13" r="2.7"/><circle cx="1875.21" cy="235.69" r="2.7"/><circle cx="1876.11" cy="235.24" r="2.7"/><circle cx="1877.02" cy="234.8" r="2.7"/><circle cx="1877.93" cy="234.36" r="2.7"/><circle cx="1878.84" cy="233.92" r="2.7"/><circle cx="1879.75" cy="233.48" r="2.7"/><circle cx="1880.66" cy="233.04" r="2.7"/><circle cx="1881.57" cy="232.59" r="2.7"/><circle cx="1882.48" cy="232.15" r="2.7"/><circle cx="1883.39" cy="231.71" r="2.7"/><circle cx="1884.29" cy="231.27" r="2.7"/><circle cx="1885.2" cy="230.83" r="2.7"/><circle cx="1886.11" cy="230.39" r="2.7"/><circle cx="1887.02" cy="229.58" r="2.7"/><circle cx="1887.93" cy="228.78" r="2.7"/><circle cx="1888.84" cy="227.98" r="2.7"/><circle cx="1889.75" cy="227.17" r="2.7"/><circle cx="1890.66" cy="226.37" r="2.7"/><circle cx="1891.57" cy="225.57" r="2.7"/><circle cx="1892.48" cy="224.77" r="2.7"/><circle cx="1893.38" cy="223.96" r="2.7"/><circle cx="1894.29" cy="223.16" r="2.7"/><circle cx="1895.2" cy="222.36" r="2.7"/><circle cx="1896.11" cy="221.56" r="2.7"/><circle cx="1897.02" cy="220.97" r="2.7"/><circle cx="1897.93" cy="220.38" r="2.7"/><circle cx="1898.84" cy="219.79" r="2.7"/><circle cx="1899.75" cy="219.2" r="2.7"/><circle cx="1900.66" cy="218.61" r="2.7"/><circle cx="1901.56" cy="218.02" r="2.7"/><circle cx="1902.47" cy="217.43" r="2.7"/><circle cx="1903.38" cy="216.84" r="2.7"/><circle cx="1904.29" cy="216.26" r="2.7"/><circle cx="1905.2" cy="215.67" r="2.7"/><circle cx="1906.11" cy="215.08" r="2.7"/><circle cx="1907.02" cy="214.49" r="2.7"/><circle cx="1907.93" cy="213.74" r="2.7"/><circle cx="1908.84" cy="212.99" r="2.7"/><circle cx="1909.75" cy="212.23" r="2.7"/><circle cx="1910.65" cy="211.48" r="2.7"/><circle cx="1911.56" cy="210.73" r="2.7"/><circle cx="1912.47" cy="209.98" r="2.7"/><circle cx="1913.38" cy="209.22" r="2.7"/><circle cx="1914.29" cy="208.47" r="2.7"/><circle cx="1915.2" cy="207.72" r="2.7"/><circle cx="1916.11" cy="206.97" r="2.7"/><circle cx="1917.02" cy="206.21" r="2.7"/><circle cx="1917.93" cy="205.46" r="2.7"/><circle cx="1918.83" cy="204.66" r="2.7"/><circle cx="1919.74" cy="203.86" r="2.7"/><circle cx="1920.65" cy="203.05" r="2.7"/><circle cx="1921.56" cy="202.25" r="2.7"/><circle cx="1922.47" cy="201.45" r="2.7"/><circle cx="1923.38" cy="200.65" r="2.7"/><circle cx="1924.29" cy="199.84" r="2.7"/><circle cx="1925.2" cy="199.04" r="2.7"/><circle cx="1926.11" cy="198.24" r="2.7"/><circle cx="1927.02" cy="197.43" r="2.7"/><circle cx="1927.92" cy="196.63" r="2.7"/><circle cx="1928.83" cy="193.98" r="2.7"/><circle cx="1929.74" cy="191.33" r="2.7"/><circle cx="1930.65" cy="188.68" r="2.7"/><circle cx="1931.56" cy="186.03" r="2.7"/><circle cx="1932.47" cy="183.38" r="2.7"/><circle cx="1933.38" cy="180.74" r="2.7"/><circle cx="1934.29" cy="176.71" r="2.7"/><circle cx="1935.2" cy="172.69" r="2.7"/><circle cx="1936.11" cy="168.67" r="2.7"/><circle cx="1937.01" cy="164.64" r="2.7"/><circle cx="1937.92" cy="162.43" r="2.7"/><circle cx="1938.83" cy="160.23" r="2.7"/><circle cx="1939.74" cy="158.02" r="2.7"/><circle cx="1940.65" cy="155.81" r="2.7"/><circle cx="1941.56" cy="151.1" r="2.7"/><circle cx="1942.47" cy="146.39" r="2.7"/><circle cx="1943.38" cy="141.68" r="2.7"/><circle cx="1944.29" cy="137.76" r="2.7"/><circle cx="1945.19" cy="133.83" r="2.7"/><circle cx="1946.1" cy="129.91" r="2.7"/><circle cx="1947.01" cy="123.92" r="2.7"/><circle cx="1947.92" cy="117.94" r="2.7"/><circle cx="1948.83" cy="101.84" r="2.7"/><circle cx="1949.74" cy="95.56" r="2.7"/><circle cx="1950.65" cy="85.75" r="2.7"/><circle cx="1951.56" cy="85.75" r="2.7"/></g>
<line x1="1676.14" y1="80.25" x2="1676.14" y2="283.75" stroke="#000" stroke-width="1.4" stroke-dasharray="4 4"/>
<line x1="1448.65" y1="265.51" x2="1970.9" y2="265.51" stroke="#000" stroke-width="1.4" stroke-dasharray="3.4 4.1"/>
<rect x="1448.65" y="78.75" width="522.25" height="205" fill="none" stroke="#000" stroke-width="1.45"/>
<line x1="1439.35" y1="282" x2="1448.65" y2="282" stroke="#000" stroke-width="1.2"/>
<text x="1427.15" y="282" font-size="15.6" text-anchor="middle" transform="rotate(-90 1427.15 282)">0</text>
<line x1="1439.35" y1="242.75" x2="1448.65" y2="242.75" stroke="#000" stroke-width="1.2"/>
<text x="1427.15" y="242.75" font-size="15.6" text-anchor="middle" transform="rotate(-90 1427.15 242.75)">2</text>
<line x1="1439.35" y1="203.5" x2="1448.65" y2="203.5" stroke="#000" stroke-width="1.2"/>
<text x="1427.15" y="203.5" font-size="15.6" text-anchor="middle" transform="rotate(-90 1427.15 203.5)">4</text>
<line x1="1439.35" y1="164.25" x2="1448.65" y2="164.25" stroke="#000" stroke-width="1.2"/>
<text x="1427.15" y="164.25" font-size="15.6" text-anchor="middle" transform="rotate(-90 1427.15 164.25)">6</text>
<line x1="1439.35" y1="125" x2="1448.65" y2="125" stroke="#000" stroke-width="1.2"/>
<text x="1427.15" y="125" font-size="15.6" text-anchor="middle" transform="rotate(-90 1427.15 125)">8</text>
<line x1="1439.35" y1="85.75" x2="1448.65" y2="85.75" stroke="#000" stroke-width="1.2"/>
<text x="1427.15" y="85.75" font-size="15.6" text-anchor="middle" transform="rotate(-90 1427.15 85.75)">10</text>
<line x1="1467.08" y1="283.75" x2="1467.08" y2="293.25" stroke="#000" stroke-width="1.2"/>
<text x="1467.08" y="318.3" font-size="15.6" text-anchor="middle">0</text>
<line x1="1557.98" y1="283.75" x2="1557.98" y2="293.25" stroke="#000" stroke-width="1.2"/>
<text x="1557.98" y="318.3" font-size="15.6" text-anchor="middle">100</text>
<line x1="1648.87" y1="283.75" x2="1648.87" y2="293.25" stroke="#000" stroke-width="1.2"/>
<text x="1648.87" y="318.3" font-size="15.6" text-anchor="middle">200</text>
<line x1="1739.77" y1="283.75" x2="1739.77" y2="293.25" stroke="#000" stroke-width="1.2"/>
<text x="1739.77" y="318.3" font-size="15.6" text-anchor="middle">300</text>
<line x1="1830.67" y1="283.75" x2="1830.67" y2="293.25" stroke="#000" stroke-width="1.2"/>
<text x="1830.67" y="318.3" font-size="15.6" text-anchor="middle">400</text>
<line x1="1921.56" y1="283.75" x2="1921.56" y2="293.25" stroke="#000" stroke-width="1.2"/>
<text x="1921.56" y="318.3" font-size="15.6" text-anchor="middle">500</text>
<text x="1709.78" y="356.2" font-size="15.2" text-anchor="middle">Patients (increasing risk socre)</text>
<text x="1390.4" y="181.25" font-size="16" text-anchor="middle" transform="rotate(-90 1390.4 181.25)">Risk score</text>
<circle cx="1465" cy="101.4" r="4.7" fill="#FF0000"/>
<circle cx="1465" cy="124.1" r="4.7" fill="#00FF00"/>
<text x="1481.4" y="107.3" font-size="17.2">High risk</text>
<text x="1481.4" y="130.3" font-size="17.2">Low Risk</text>
<g><circle cx="1467.72" cy="577.32" r="4.4" fill="#00FF00"/><circle cx="1468.74" cy="555.57" r="4.4" fill="#00FF00"/><circle cx="1469.75" cy="597.56" r="4.4" fill="#00FF00"/><circle cx="1470.46" cy="514.6" r="4.4" fill="#00FF00"/><circle cx="1471.47" cy="538.88" r="4.4" fill="#00FF00"/><circle cx="1472.28" cy="523.7" r="4.4" fill="#00FF00"/><circle cx="1473.29" cy="483.74" r="4.4" fill="#00FF00"/><circle cx="1473.79" cy="563.67" r="4.4" fill="#00FF00"/><circle cx="1475.11" cy="618.81" r="4.4" fill="#00FF00"/><circle cx="1475.31" cy="561.14" r="4.4" fill="#00FF00"/><circle cx="1476.83" cy="603.12" r="4.4" fill="#00FF00"/><circle cx="1477.84" cy="451.57" r="4.4" fill="#00FF00"/><circle cx="1478.85" cy="516.62" r="4.4" fill="#00FF00"/><circle cx="1479.56" cy="556.08" r="4.4" fill="#00FF00"/><circle cx="1481.38" cy="504.48" r="4.4" fill="#00FF00"/><circle cx="1482.39" cy="501.44" r="4.4" fill="#00FF00"/><circle cx="1482.9" cy="588.45" r="4.4" fill="#00FF00"/><circle cx="1484.21" cy="517.13" r="4.4" fill="#00FF00"/><circle cx="1484.92" cy="587.95" r="4.4" fill="#00FF00"/><circle cx="1485.93" cy="610.21" r="4.4" fill="#00FF00"/><circle cx="1487.45" cy="472.61" r="4.4" fill="#00FF00"/><circle cx="1487.45" cy="600.59" r="4.4" fill="#00FF00"/><circle cx="1488.46" cy="536.15" r="4.4" fill="#FF0000"/><circle cx="1489.47" cy="537.87" r="4.4" fill="#00FF00"/><circle cx="1490.99" cy="603.12" r="4.4" fill="#00FF00"/><circle cx="1491.5" cy="555.57" r="4.4" fill="#00FF00"/><circle cx="1494.02" cy="535.34" r="4.4" fill="#00FF00"/><circle cx="1494.02" cy="595.74" r="4.4" fill="#00FF00"/><circle cx="1495.74" cy="543.94" r="4.4" fill="#00FF00"/><circle cx="1496.55" cy="534.33" r="4.4" fill="#00FF00"/><circle cx="1497.57" cy="478.68" r="4.4" fill="#00FF00"/><circle cx="1498.58" cy="578.84" r="4.4" fill="#00FF00"/><circle cx="1499.59" cy="559.11" r="4.4" fill="#00FF00"/><circle cx="1500.4" cy="604.64" r="4.4" fill="#FF0000"/><circle cx="1501.41" cy="570.75" r="4.4" fill="#00FF00"/><circle cx="1502.62" cy="475.14" r="4.4" fill="#00FF00"/><circle cx="1503.43" cy="597.56" r="4.4" fill="#00FF00"/><circle cx="1503.63" cy="580.36" r="4.4" fill="#00FF00"/><circle cx="1505.15" cy="543.94" r="4.4" fill="#00FF00"/><circle cx="1506.67" cy="610.71" r="4.4" fill="#00FF00"/><circle cx="1508.19" cy="617.29" r="4.4" fill="#00FF00"/><circle cx="1508.69" cy="550.51" r="4.4" fill="#00FF00"/><circle cx="1509.5" cy="559.62" r="4.4" fill="#00FF00"/><circle cx="1510.71" cy="537.87" r="4.4" fill="#00FF00"/><circle cx="1511.73" cy="617.29" r="4.4" fill="#00FF00"/><circle cx="1512.23" cy="525.22" r="4.4" fill="#00FF00"/><circle cx="1513.24" cy="586.63" r="4.4" fill="#FF0000"/><circle cx="1513.75" cy="467.55" r="4.4" fill="#00FF00"/><circle cx="1514.96" cy="605.35" r="4.4" fill="#00FF00"/><circle cx="1515.97" cy="457.94" r="4.4" fill="#00FF00"/><circle cx="1516.78" cy="480.2" r="4.4" fill="#00FF00"/><circle cx="1517.8" cy="571.76" r="4.4" fill="#00FF00"/><circle cx="1518.81" cy="483.74" r="4.4" fill="#00FF00"/><circle cx="1519.31" cy="534.33" r="4.4" fill="#00FF00"/><circle cx="1520.63" cy="540.4" r="4.4" fill="#00FF00"/><circle cx="1521.34" cy="462.49" r="4.4" fill="#00FF00"/><circle cx="1521.84" cy="577.83" r="4.4" fill="#FF0000"/><circle cx="1523.36" cy="522.99" r="4.4" fill="#00FF00"/><circle cx="1524.07" cy="590.98" r="4.4" fill="#00FF00"/><circle cx="1525.08" cy="576.31" r="4.4" fill="#00FF00"/><circle cx="1525.89" cy="554.56" r="4.4" fill="#00FF00"/><circle cx="1526.9" cy="586.94" r="4.4" fill="#00FF00"/><circle cx="1527.71" cy="474.33" r="4.4" fill="#00FF00"/><circle cx="1528.92" cy="565.69" r="4.4" fill="#00FF00"/><circle cx="1529.43" cy="618.81" r="4.4" fill="#00FF00"/><circle cx="1530.95" cy="614.25" r="4.4" fill="#00FF00"/><circle cx="1531.45" cy="589.97" r="4.4" fill="#00FF00"/><circle cx="1532.97" cy="563.67" r="4.4" fill="#00FF00"/><circle cx="1533.98" cy="523.5" r="4.4" fill="#00FF00"/><circle cx="1536" cy="556.08" r="4.4" fill="#00FF00"/><circle cx="1536" cy="615.77" r="4.4" fill="#FF0000"/><circle cx="1536.81" cy="502.15" r="4.4" fill="#00FF00"/><circle cx="1539.54" cy="536.86" r="4.4" fill="#00FF00"/><circle cx="1539.54" cy="554.56" r="4.4" fill="#00FF00"/><circle cx="1540.05" cy="561.14" r="4.4" fill="#00FF00"/><circle cx="1541.06" cy="580.87" r="4.4" fill="#00FF00"/><circle cx="1542.07" cy="574.8" r="4.4" fill="#00FF00"/><circle cx="1543.08" cy="555.57" r="4.4" fill="#00FF00"/><circle cx="1544.1" cy="610.21" r="4.4" fill="#00FF00"/><circle cx="1544.9" cy="546.26" r="4.4" fill="#00FF00"/><circle cx="1545.92" cy="588.45" r="4.4" fill="#00FF00"/><circle cx="1546.93" cy="457.94" r="4.4" fill="#00FF00"/><circle cx="1547.64" cy="448.13" r="4.4" fill="#00FF00"/><circle cx="1548.65" cy="519.15" r="4.4" fill="#00FF00"/><circle cx="1550.97" cy="598.57" r="4.4" fill="#FF0000"/><circle cx="1551.18" cy="607.17" r="4.4" fill="#00FF00"/><circle cx="1552.19" cy="611.22" r="4.4" fill="#00FF00"/><circle cx="1553.2" cy="571.25" r="4.4" fill="#00FF00"/><circle cx="1554.01" cy="557.09" r="4.4" fill="#00FF00"/><circle cx="1555.02" cy="428.9" r="4.4" fill="#00FF00"/><circle cx="1556.03" cy="513.89" r="4.4" fill="#00FF00"/><circle cx="1557.25" cy="601.1" r="4.4" fill="#00FF00"/><circle cx="1557.75" cy="576.82" r="4.4" fill="#FF0000"/><circle cx="1558.76" cy="618.81" r="4.4" fill="#FF0000"/><circle cx="1559.27" cy="568.52" r="4.4" fill="#FF0000"/><circle cx="1559.77" cy="617.79" r="4.4" fill="#00FF00"/><circle cx="1561.29" cy="476.86" r="4.4" fill="#00FF00"/><circle cx="1561.8" cy="603.12" r="4.4" fill="#00FF00"/><circle cx="1563.11" cy="615.77" r="4.4" fill="#FF0000"/><circle cx="1564.12" cy="558.61" r="4.4" fill="#00FF00"/><circle cx="1564.33" cy="527.24" r="4.4" fill="#00FF00"/><circle cx="1565.84" cy="595.23" r="4.4" fill="#FF0000"/><circle cx="1566.85" cy="524.21" r="4.4" fill="#00FF00"/><circle cx="1567.36" cy="533.31" r="4.4" fill="#00FF00"/><circle cx="1568.37" cy="529.27" r="4.4" fill="#00FF00"/><circle cx="1569.38" cy="541.91" r="4.4" fill="#00FF00"/><circle cx="1570.4" cy="578.84" r="4.4" fill="#00FF00"/><circle cx="1571.61" cy="617.79" r="4.4" fill="#00FF00"/><circle cx="1572.42" cy="525.73" r="4.4" fill="#00FF00"/><circle cx="1572.92" cy="584.41" r="4.4" fill="#FF0000"/><circle cx="1574.95" cy="562.45" r="4.4" fill="#FF0000"/><circle cx="1574.95" cy="598.07" r="4.4" fill="#00FF00"/><circle cx="1575.66" cy="594.83" r="4.4" fill="#FF0000"/><circle cx="1576.97" cy="585.92" r="4.4" fill="#00FF00"/><circle cx="1577.48" cy="601.1" r="4.4" fill="#00FF00"/><circle cx="1578.49" cy="535.34" r="4.4" fill="#00FF00"/><circle cx="1578.49" cy="554.56" r="4.4" fill="#00FF00"/><circle cx="1578.49" cy="611.72" r="4.4" fill="#FF0000"/><circle cx="1578.99" cy="548.49" r="4.4" fill="#00FF00"/><circle cx="1582.03" cy="554.56" r="4.4" fill="#00FF00"/><circle cx="1583.05" cy="537.87" r="4.4" fill="#00FF00"/><circle cx="1584.06" cy="520.67" r="4.4" fill="#FF0000"/><circle cx="1585.57" cy="587.44" r="4.4" fill="#00FF00"/><circle cx="1586.59" cy="551.53" r="4.4" fill="#00FF00"/><circle cx="1587.6" cy="572.27" r="4.4" fill="#FF0000"/><circle cx="1588.61" cy="604.64" r="4.4" fill="#FF0000"/><circle cx="1589.62" cy="511.26" r="4.4" fill="#FF0000"/><circle cx="1589.92" cy="612.74" r="4.4" fill="#FF0000"/><circle cx="1591.14" cy="611.72" r="4.4" fill="#00FF00"/><circle cx="1592.15" cy="558.81" r="4.4" fill="#00FF00"/><circle cx="1593.36" cy="503.77" r="4.4" fill="#00FF00"/><circle cx="1594.17" cy="599.08" r="4.4" fill="#00FF00"/><circle cx="1595.18" cy="571.76" r="4.4" fill="#00FF00"/><circle cx="1595.99" cy="466.54" r="4.4" fill="#00FF00"/><circle cx="1596.7" cy="589.47" r="4.4" fill="#00FF00"/><circle cx="1597.51" cy="580.87" r="4.4" fill="#00FF00"/><circle cx="1598.22" cy="597.56" r="4.4" fill="#FF0000"/><circle cx="1599.23" cy="575.3" r="4.4" fill="#FF0000"/><circle cx="1601.46" cy="561.14" r="4.4" fill="#00FF00"/><circle cx="1601.76" cy="555.07" r="4.4" fill="#00FF00"/><circle cx="1603.28" cy="590.98" r="4.4" fill="#00FF00"/><circle cx="1605.3" cy="570.75" r="4.4" fill="#00FF00"/><circle cx="1605.3" cy="596.04" r="4.4" fill="#00FF00"/><circle cx="1606.01" cy="547.68" r="4.4" fill="#FF0000"/><circle cx="1606.82" cy="519.66" r="4.4" fill="#00FF00"/><circle cx="1609.35" cy="592.5" r="4.4" fill="#00FF00"/><circle cx="1609.55" cy="507.31" r="4.4" fill="#00FF00"/><circle cx="1610.36" cy="525.42" r="4.4" fill="#00FF00"/><circle cx="1610.36" cy="572.27" r="4.4" fill="#00FF00"/><circle cx="1611.87" cy="596.55" r="4.4" fill="#00FF00"/><circle cx="1613.39" cy="581.88" r="4.4" fill="#00FF00"/><circle cx="1613.9" cy="555.57" r="4.4" fill="#00FF00"/><circle cx="1614.91" cy="605.65" r="4.4" fill="#FF0000"/><circle cx="1616.43" cy="588.96" r="4.4" fill="#00FF00"/><circle cx="1616.93" cy="487.08" r="4.4" fill="#00FF00"/><circle cx="1617.74" cy="559.62" r="4.4" fill="#00FF00"/><circle cx="1618.45" cy="580.87" r="4.4" fill="#00FF00"/><circle cx="1619.46" cy="531.09" r="4.4" fill="#FF0000"/><circle cx="1620.47" cy="565.69" r="4.4" fill="#00FF00"/><circle cx="1621.48" cy="586.43" r="4.4" fill="#00FF00"/><circle cx="1622.29" cy="516.11" r="4.4" fill="#FF0000"/><circle cx="1623" cy="574.8" r="4.4" fill="#00FF00"/><circle cx="1624.01" cy="509.24" r="4.4" fill="#00FF00"/><circle cx="1625.02" cy="578.84" r="4.4" fill="#00FF00"/><circle cx="1625.53" cy="571.76" r="4.4" fill="#00FF00"/><circle cx="1626.54" cy="610.21" r="4.4" fill="#00FF00"/><circle cx="1627.55" cy="617.79" r="4.4" fill="#00FF00"/><circle cx="1628.57" cy="481.72" r="4.4" fill="#00FF00"/><circle cx="1629.58" cy="561.14" r="4.4" fill="#00FF00"/><circle cx="1630.59" cy="603.12" r="4.4" fill="#00FF00"/><circle cx="1631.4" cy="554.56" r="4.4" fill="#00FF00"/><circle cx="1631.8" cy="527.04" r="4.4" fill="#00FF00"/><circle cx="1633.62" cy="515.31" r="4.4" fill="#00FF00"/><circle cx="1634.13" cy="532.3" r="4.4" fill="#00FF00"/><circle cx="1634.94" cy="564.68" r="4.4" fill="#00FF00"/><circle cx="1636.15" cy="472.91" r="4.4" fill="#00FF00"/><circle cx="1636.66" cy="529.07" r="4.4" fill="#FF0000"/><circle cx="1637.67" cy="549" r="4.4" fill="#00FF00"/><circle cx="1638.68" cy="517.13" r="4.4" fill="#00FF00"/><circle cx="1639.69" cy="601.61" r="4.4" fill="#00FF00"/><circle cx="1640.2" cy="588.45" r="4.4" fill="#FF0000"/><circle cx="1641.71" cy="540.4" r="4.4" fill="#00FF00"/><circle cx="1642.22" cy="618.3" r="4.4" fill="#00FF00"/><circle cx="1642.73" cy="571.76" r="4.4" fill="#00FF00"/><circle cx="1643.94" cy="581.88" r="4.4" fill="#FF0000"/><circle cx="1644.75" cy="573.78" r="4.4" fill="#FF0000"/><circle cx="1644.75" cy="601.1" r="4.4" fill="#FF0000"/><circle cx="1645.26" cy="540.4" r="4.4" fill="#00FF00"/><circle cx="1645.76" cy="600.09" r="4.4" fill="#00FF00"/><circle cx="1648.8" cy="572.27" r="4.4" fill="#00FF00"/><circle cx="1649.3" cy="603.63" r="4.4" fill="#00FF00"/><circle cx="1650.31" cy="589.97" r="4.4" fill="#FF0000"/><circle cx="1651.32" cy="494.67" r="4.4" fill="#00FF00"/><circle cx="1652.13" cy="554.86" r="4.4" fill="#00FF00"/><circle cx="1653.35" cy="616.28" r="4.4" fill="#00FF00"/><circle cx="1653.85" cy="561.44" r="4.4" fill="#FF0000"/><circle cx="1655.37" cy="598.57" r="4.4" fill="#00FF00"/><circle cx="1655.67" cy="595.54" r="4.4" fill="#FF0000"/><circle cx="1656.69" cy="481.72" r="4.4" fill="#00FF00"/><circle cx="1658.91" cy="490.01" r="4.4" fill="#00FF00"/><circle cx="1658.91" cy="587.44" r="4.4" fill="#00FF00"/><circle cx="1659.42" cy="618.81" r="4.4" fill="#00FF00"/><circle cx="1660.43" cy="475.95" r="4.4" fill="#00FF00"/><circle cx="1660.93" cy="592" r="4.4" fill="#00FF00"/><circle cx="1661.95" cy="588.45" r="4.4" fill="#00FF00"/><circle cx="1663.16" cy="525.02" r="4.4" fill="#FF0000"/><circle cx="1663.97" cy="553.35" r="4.4" fill="#00FF00"/><circle cx="1664.98" cy="613.24" r="4.4" fill="#00FF00"/><circle cx="1665.79" cy="568.73" r="4.4" fill="#FF0000"/><circle cx="1667.81" cy="517.33" r="4.4" fill="#FF0000"/><circle cx="1668.01" cy="555.57" r="4.4" fill="#00FF00"/><circle cx="1669.03" cy="603.63" r="4.4" fill="#00FF00"/><circle cx="1669.53" cy="461.99" r="4.4" fill="#00FF00"/><circle cx="1670.54" cy="583.4" r="4.4" fill="#FF0000"/><circle cx="1671.25" cy="534.33" r="4.4" fill="#00FF00"/><circle cx="1671.25" cy="557.6" r="4.4" fill="#00FF00"/><circle cx="1672.87" cy="545.15" r="4.4" fill="#00FF00"/><circle cx="1674.08" cy="602.11" r="4.4" fill="#00FF00"/><circle cx="1675.1" cy="552.34" r="4.4" fill="#FF0000"/><circle cx="1675.9" cy="599.08" r="4.4" fill="#FF0000"/><circle cx="1677.62" cy="571.76" r="4.4" fill="#00FF00"/><circle cx="1679.14" cy="561.44" r="4.4" fill="#00FF00"/><circle cx="1679.14" cy="576.31" r="4.4" fill="#00FF00"/><circle cx="1679.34" cy="583.7" r="4.4" fill="#FF0000"/><circle cx="1681.37" cy="498.21" r="4.4" fill="#00FF00"/><circle cx="1682.18" cy="479.39" r="4.4" fill="#00FF00"/><circle cx="1683.19" cy="531.59" r="4.4" fill="#00FF00"/><circle cx="1684.2" cy="598.07" r="4.4" fill="#00FF00"/><circle cx="1684.71" cy="571.76" r="4.4" fill="#00FF00"/><circle cx="1685.72" cy="513.59" r="4.4" fill="#00FF00"/><circle cx="1686.73" cy="610.21" r="4.4" fill="#00FF00"/><circle cx="1687.74" cy="517.94" r="4.4" fill="#00FF00"/><circle cx="1688.25" cy="605.15" r="4.4" fill="#00FF00"/><circle cx="1689.56" cy="539.89" r="4.4" fill="#00FF00"/><circle cx="1690.77" cy="508.53" r="4.4" fill="#00FF00"/><circle cx="1692.29" cy="453.59" r="4.4" fill="#00FF00"/><circle cx="1693.3" cy="567.71" r="4.4" fill="#00FF00"/><circle cx="1693.81" cy="603.12" r="4.4" fill="#FF0000"/><circle cx="1694.31" cy="571.76" r="4.4" fill="#FF0000"/><circle cx="1695.83" cy="588.45" r="4.4" fill="#FF0000"/><circle cx="1696.64" cy="583.7" r="4.4" fill="#00FF00"/><circle cx="1698.36" cy="570.24" r="4.4" fill="#00FF00"/><circle cx="1698.87" cy="617.79" r="4.4" fill="#00FF00"/><circle cx="1699.37" cy="503.27" r="4.4" fill="#00FF00"/><circle cx="1700.38" cy="565.69" r="4.4" fill="#FF0000"/><circle cx="1701.4" cy="477.16" r="4.4" fill="#00FF00"/><circle cx="1701.9" cy="540.9" r="4.4" fill="#00FF00"/><circle cx="1702.91" cy="595.03" r="4.4" fill="#00FF00"/><circle cx="1704.13" cy="524.21" r="4.4" fill="#00FF00"/><circle cx="1704.94" cy="618.81" r="4.4" fill="#00FF00"/><circle cx="1705.95" cy="552.23" r="4.4" fill="#FF0000"/><circle cx="1706.45" cy="569.53" r="4.4" fill="#00FF00"/><circle cx="1707.46" cy="610.21" r="4.4" fill="#FF0000"/><circle cx="1708.48" cy="534.83" r="4.4" fill="#00FF00"/><circle cx="1709.49" cy="539.89" r="4.4" fill="#00FF00"/><circle cx="1710.5" cy="611.72" r="4.4" fill="#00FF00"/><circle cx="1713.03" cy="539.89" r="4.4" fill="#00FF00"/><circle cx="1713.03" cy="611.22" r="4.4" fill="#00FF00"/><circle cx="1714.05" cy="602.62" r="4.4" fill="#00FF00"/><circle cx="1715.06" cy="555.07" r="4.4" fill="#00FF00"/><circle cx="1715.56" cy="614.25" r="4.4" fill="#FF0000"/><circle cx="1716.07" cy="600.59" r="4.4" fill="#00FF00"/><circle cx="1717.59" cy="557.29" r="4.4" fill="#00FF00"/><circle cx="1718.6" cy="550.51" r="4.4" fill="#00FF00"/><circle cx="1719.61" cy="614.25" r="4.4" fill="#FF0000"/><circle cx="1720.42" cy="537.16" r="4.4" fill="#00FF00"/><circle cx="1720.62" cy="578.34" r="4.4" fill="#00FF00"/><circle cx="1722.14" cy="569.53" r="4.4" fill="#FF0000"/><circle cx="1723.15" cy="499.72" r="4.4" fill="#00FF00"/><circle cx="1724.16" cy="509.03" r="4.4" fill="#00FF00"/><circle cx="1724.97" cy="579.04" r="4.4" fill="#FF0000"/><circle cx="1725.98" cy="515.31" r="4.4" fill="#00FF00"/><circle cx="1726.99" cy="506.2" r="4.4" fill="#00FF00"/><circle cx="1727.7" cy="592" r="4.4" fill="#FF0000"/><circle cx="1728.41" cy="522.49" r="4.4" fill="#FF0000"/><circle cx="1729.72" cy="560.13" r="4.4" fill="#00FF00"/><circle cx="1730.23" cy="551.83" r="4.4" fill="#FF0000"/><circle cx="1731.04" cy="536.35" r="4.4" fill="#FF0000"/><circle cx="1731.75" cy="614.25" r="4.4" fill="#FF0000"/><circle cx="1733.06" cy="531.29" r="4.4" fill="#00FF00"/><circle cx="1734.28" cy="563.67" r="4.4" fill="#00FF00"/><circle cx="1735.09" cy="491.33" r="4.4" fill="#00FF00"/><circle cx="1735.79" cy="611.72" r="4.4" fill="#FF0000"/><circle cx="1737.31" cy="563.16" r="4.4" fill="#00FF00"/><circle cx="1737.61" cy="498.71" r="4.4" fill="#00FF00"/><circle cx="1738.83" cy="613.24" r="4.4" fill="#FF0000"/><circle cx="1739.33" cy="583.9" r="4.4" fill="#FF0000"/><circle cx="1740.35" cy="599.58" r="4.4" fill="#00FF00"/><circle cx="1741.56" cy="556.38" r="4.4" fill="#00FF00"/><circle cx="1742.37" cy="574.29" r="4.4" fill="#00FF00"/><circle cx="1743.89" cy="549.5" r="4.4" fill="#FF0000"/><circle cx="1744.39" cy="544.95" r="4.4" fill="#00FF00"/><circle cx="1745.91" cy="593.82" r="4.4" fill="#00FF00"/><circle cx="1746.72" cy="448.33" r="4.4" fill="#00FF00"/><circle cx="1748.44" cy="606.16" r="4.4" fill="#FF0000"/><circle cx="1749.25" cy="517.13" r="4.4" fill="#00FF00"/><circle cx="1750.46" cy="559.42" r="4.4" fill="#00FF00"/><circle cx="1751.27" cy="518.95" r="4.4" fill="#FF0000"/><circle cx="1752.28" cy="462.29" r="4.4" fill="#00FF00"/><circle cx="1752.99" cy="585.92" r="4.4" fill="#00FF00"/><circle cx="1754" cy="498.41" r="4.4" fill="#00FF00"/><circle cx="1754.51" cy="551.53" r="4.4" fill="#00FF00"/><circle cx="1756.02" cy="564.68" r="4.4" fill="#00FF00"/><circle cx="1756.53" cy="551.02" r="4.4" fill="#FF0000"/><circle cx="1757.54" cy="600.09" r="4.4" fill="#FF0000"/><circle cx="1758.55" cy="479.19" r="4.4" fill="#00FF00"/><circle cx="1760.07" cy="557.6" r="4.4" fill="#FF0000"/><circle cx="1761.28" cy="538.58" r="4.4" fill="#FF0000"/><circle cx="1762.09" cy="576.11" r="4.4" fill="#00FF00"/><circle cx="1763.11" cy="546.47" r="4.4" fill="#00FF00"/><circle cx="1764.12" cy="589.97" r="4.4" fill="#00FF00"/><circle cx="1764.93" cy="563.67" r="4.4" fill="#00FF00"/><circle cx="1765.84" cy="502.76" r="4.4" fill="#FF0000"/><circle cx="1766.14" cy="544.44" r="4.4" fill="#00FF00"/><circle cx="1766.85" cy="523.91" r="4.4" fill="#00FF00"/><circle cx="1768.67" cy="568.73" r="4.4" fill="#00FF00"/><circle cx="1769.48" cy="536.86" r="4.4" fill="#00FF00"/><circle cx="1770.69" cy="567.71" r="4.4" fill="#00FF00"/><circle cx="1771.2" cy="543.43" r="4.4" fill="#00FF00"/><circle cx="1772.21" cy="605.65" r="4.4" fill="#FF0000"/><circle cx="1773.02" cy="556.89" r="4.4" fill="#00FF00"/><circle cx="1773.22" cy="550.51" r="4.4" fill="#FF0000"/><circle cx="1774.74" cy="547.98" r="4.4" fill="#00FF00"/><circle cx="1775.75" cy="617.79" r="4.4" fill="#00FF00"/><circle cx="1776.26" cy="582.38" r="4.4" fill="#00FF00"/><circle cx="1777.57" cy="589.47" r="4.4" fill="#FF0000"/><circle cx="1779.8" cy="536.86" r="4.4" fill="#00FF00"/><circle cx="1780.3" cy="608.69" r="4.4" fill="#FF0000"/><circle cx="1781.31" cy="616.78" r="4.4" fill="#FF0000"/><circle cx="1782.32" cy="566.7" r="4.4" fill="#00FF00"/><circle cx="1783.03" cy="549.3" r="4.4" fill="#FF0000"/><circle cx="1784.35" cy="538.37" r="4.4" fill="#00FF00"/><circle cx="1784.35" cy="584.41" r="4.4" fill="#00FF00"/><circle cx="1784.85" cy="524.71" r="4.4" fill="#00FF00"/><circle cx="1786.88" cy="571.25" r="4.4" fill="#00FF00"/><circle cx="1787.69" cy="539.38" r="4.4" fill="#00FF00"/><circle cx="1788.6" cy="452.17" r="4.4" fill="#00FF00"/><circle cx="1788.9" cy="601.61" r="4.4" fill="#00FF00"/><circle cx="1790.42" cy="526.23" r="4.4" fill="#00FF00"/><circle cx="1791.43" cy="551.02" r="4.4" fill="#00FF00"/><circle cx="1792.14" cy="484.55" r="4.4" fill="#00FF00"/><circle cx="1792.95" cy="581.88" r="4.4" fill="#FF0000"/><circle cx="1793.75" cy="598.87" r="4.4" fill="#FF0000"/><circle cx="1794.77" cy="572.77" r="4.4" fill="#FF0000"/><circle cx="1795.78" cy="543.94" r="4.4" fill="#00FF00"/><circle cx="1796.99" cy="593.01" r="4.4" fill="#00FF00"/><circle cx="1799.01" cy="579.85" r="4.4" fill="#FF0000"/><circle cx="1799.01" cy="594.52" r="4.4" fill="#00FF00"/><circle cx="1800.03" cy="560.13" r="4.4" fill="#FF0000"/><circle cx="1801.04" cy="618.3" r="4.4" fill="#FF0000"/><circle cx="1802.05" cy="603.12" r="4.4" fill="#00FF00"/><circle cx="1802.86" cy="556.08" r="4.4" fill="#00FF00"/><circle cx="1804.07" cy="608.69" r="4.4" fill="#FF0000"/><circle cx="1804.58" cy="614.25" r="4.4" fill="#FF0000"/><circle cx="1805.89" cy="569.74" r="4.4" fill="#00FF00"/><circle cx="1806.6" cy="527.24" r="4.4" fill="#00FF00"/><circle cx="1807.61" cy="563.46" r="4.4" fill="#FF0000"/><circle cx="1809.43" cy="598.57" r="4.4" fill="#FF0000"/><circle cx="1809.64" cy="531.29" r="4.4" fill="#00FF00"/><circle cx="1810.14" cy="617.79" r="4.4" fill="#00FF00"/><circle cx="1811.15" cy="534.33" r="4.4" fill="#00FF00"/><circle cx="1811.15" cy="572.77" r="4.4" fill="#00FF00"/><circle cx="1812.87" cy="478.68" r="4.4" fill="#00FF00"/><circle cx="1813.99" cy="556.08" r="4.4" fill="#FF0000"/><circle cx="1814.69" cy="563.67" r="4.4" fill="#FF0000"/><circle cx="1815.71" cy="535.34" r="4.4" fill="#FF0000"/><circle cx="1817.22" cy="543.94" r="4.4" fill="#00FF00"/><circle cx="1817.22" cy="561.44" r="4.4" fill="#00FF00"/><circle cx="1818.23" cy="602.62" r="4.4" fill="#00FF00"/><circle cx="1819.45" cy="453.89" r="4.4" fill="#00FF00"/><circle cx="1820.26" cy="541.91" r="4.4" fill="#00FF00"/><circle cx="1821.27" cy="577.83" r="4.4" fill="#00FF00"/><circle cx="1822.28" cy="550.51" r="4.4" fill="#FF0000"/><circle cx="1822.79" cy="604.14" r="4.4" fill="#00FF00"/><circle cx="1824.3" cy="578.84" r="4.4" fill="#00FF00"/><circle cx="1825.11" cy="557.6" r="4.4" fill="#00FF00"/><circle cx="1826.33" cy="510.04" r="4.4" fill="#FF0000"/><circle cx="1827.84" cy="595.03" r="4.4" fill="#00FF00"/><circle cx="1828.35" cy="511.56" r="4.4" fill="#00FF00"/><circle cx="1829.36" cy="608.69" r="4.4" fill="#FF0000"/><circle cx="1830.37" cy="539.38" r="4.4" fill="#00FF00"/><circle cx="1832.9" cy="595.03" r="4.4" fill="#FF0000"/><circle cx="1834.42" cy="603.63" r="4.4" fill="#00FF00"/><circle cx="1835.43" cy="607.17" r="4.4" fill="#00FF00"/><circle cx="1835.94" cy="614.25" r="4.4" fill="#FF0000"/><circle cx="1836.74" cy="468.56" r="4.4" fill="#00FF00"/><circle cx="1837.45" cy="616.28" r="4.4" fill="#00FF00"/><circle cx="1838.46" cy="572.77" r="4.4" fill="#FF0000"/><circle cx="1839.48" cy="585.92" r="4.4" fill="#00FF00"/><circle cx="1839.98" cy="538.37" r="4.4" fill="#FF0000"/><circle cx="1839.98" cy="616.28" r="4.4" fill="#FF0000"/><circle cx="1840.99" cy="600.09" r="4.4" fill="#FF0000"/><circle cx="1841.5" cy="519.66" r="4.4" fill="#00FF00"/><circle cx="1841.5" cy="556.58" r="4.4" fill="#00FF00"/><circle cx="1843.53" cy="557.09" r="4.4" fill="#00FF00"/><circle cx="1844.03" cy="614.76" r="4.4" fill="#FF0000"/><circle cx="1845.05" cy="519.15" r="4.4" fill="#00FF00"/><circle cx="1845.86" cy="565.69" r="4.4" fill="#00FF00"/><circle cx="1846.77" cy="451.67" r="4.4" fill="#00FF00"/><circle cx="1847.07" cy="590.98" r="4.4" fill="#FF0000"/><circle cx="1848.08" cy="593.01" r="4.4" fill="#00FF00"/><circle cx="1849.6" cy="498.71" r="4.4" fill="#00FF00"/><circle cx="1849.9" cy="612.74" r="4.4" fill="#00FF00"/><circle cx="1851.42" cy="518.64" r="4.4" fill="#00FF00"/><circle cx="1852.13" cy="544.24" r="4.4" fill="#00FF00"/><circle cx="1853.95" cy="594.83" r="4.4" fill="#FF0000"/><circle cx="1854.15" cy="606.16" r="4.4" fill="#FF0000"/><circle cx="1854.15" cy="610.21" r="4.4" fill="#FF0000"/><circle cx="1855.67" cy="617.49" r="4.4" fill="#00FF00"/><circle cx="1856.17" cy="543.43" r="4.4" fill="#00FF00"/><circle cx="1857.49" cy="582.08" r="4.4" fill="#FF0000"/><circle cx="1857.69" cy="592.5" r="4.4" fill="#FF0000"/><circle cx="1859.21" cy="609.7" r="4.4" fill="#FF0000"/><circle cx="1860.22" cy="538.17" r="4.4" fill="#00FF00"/><circle cx="1861.23" cy="469.78" r="4.4" fill="#FF0000"/><circle cx="1862.24" cy="566.7" r="4.4" fill="#FF0000"/><circle cx="1863.05" cy="573.28" r="4.4" fill="#FF0000"/><circle cx="1863.76" cy="591.49" r="4.4" fill="#00FF00"/><circle cx="1864.97" cy="512.78" r="4.4" fill="#00FF00"/><circle cx="1865.78" cy="561.85" r="4.4" fill="#00FF00"/><circle cx="1866.29" cy="586.73" r="4.4" fill="#FF0000"/><circle cx="1867.3" cy="551.53" r="4.4" fill="#FF0000"/><circle cx="1868.31" cy="599.08" r="4.4" fill="#FF0000"/><circle cx="1869.32" cy="546.16" r="4.4" fill="#00FF00"/><circle cx="1870.33" cy="527.75" r="4.4" fill="#00FF00"/><circle cx="1871.04" cy="610.41" r="4.4" fill="#FF0000"/><circle cx="1872.05" cy="582.38" r="4.4" fill="#00FF00"/><circle cx="1873.07" cy="555.27" r="4.4" fill="#00FF00"/><circle cx="1873.87" cy="568.42" r="4.4" fill="#FF0000"/><circle cx="1874.89" cy="484.55" r="4.4" fill="#00FF00"/><circle cx="1876.91" cy="592" r="4.4" fill="#00FF00"/><circle cx="1877.42" cy="576.31" r="4.4" fill="#FF0000"/><circle cx="1879.64" cy="618.3" r="4.4" fill="#FF0000"/><circle cx="1881.46" cy="585.62" r="4.4" fill="#FF0000"/><circle cx="1881.97" cy="588.45" r="4.4" fill="#FF0000"/><circle cx="1881.97" cy="612.23" r="4.4" fill="#FF0000"/><circle cx="1883.99" cy="504.99" r="4.4" fill="#00FF00"/><circle cx="1884.5" cy="604.64" r="4.4" fill="#FF0000"/><circle cx="1885.81" cy="525.42" r="4.4" fill="#FF0000"/><circle cx="1887.02" cy="611.22" r="4.4" fill="#FF0000"/><circle cx="1887.02" cy="612.23" r="4.4" fill="#00FF00"/><circle cx="1888.54" cy="549.2" r="4.4" fill="#00FF00"/><circle cx="1889.35" cy="558.81" r="4.4" fill="#FF0000"/><circle cx="1890.36" cy="578.64" r="4.4" fill="#00FF00"/><circle cx="1892.08" cy="595.03" r="4.4" fill="#FF0000"/><circle cx="1893.09" cy="579.35" r="4.4" fill="#FF0000"/><circle cx="1893.6" cy="585.92" r="4.4" fill="#FF0000"/><circle cx="1893.8" cy="550.72" r="4.4" fill="#FF0000"/><circle cx="1894.91" cy="538.68" r="4.4" fill="#FF0000"/><circle cx="1897.14" cy="579.85" r="4.4" fill="#FF0000"/><circle cx="1897.14" cy="602.92" r="4.4" fill="#FF0000"/><circle cx="1898.66" cy="571.25" r="4.4" fill="#00FF00"/><circle cx="1899.67" cy="605.65" r="4.4" fill="#FF0000"/><circle cx="1901.19" cy="561.14" r="4.4" fill="#FF0000"/><circle cx="1902.2" cy="471.4" r="4.4" fill="#00FF00"/><circle cx="1902.7" cy="601.1" r="4.4" fill="#FF0000"/><circle cx="1903.92" cy="535.84" r="4.4" fill="#FF0000"/><circle cx="1905.54" cy="558.1" r="4.4" fill="#00FF00"/><circle cx="1905.74" cy="612.74" r="4.4" fill="#FF0000"/><circle cx="1907.56" cy="590.48" r="4.4" fill="#FF0000"/><circle cx="1908.27" cy="579.35" r="4.4" fill="#00FF00"/><circle cx="1909.78" cy="580.87" r="4.4" fill="#FF0000"/><circle cx="1910.29" cy="544.44" r="4.4" fill="#00FF00"/><circle cx="1911.3" cy="584.71" r="4.4" fill="#FF0000"/><circle cx="1911.81" cy="572.27" r="4.4" fill="#FF0000"/><circle cx="1913.02" cy="546.47" r="4.4" fill="#FF0000"/><circle cx="1913.63" cy="552.54" r="4.4" fill="#FF0000"/><circle cx="1914.64" cy="610.71" r="4.4" fill="#00FF00"/><circle cx="1915.85" cy="616.78" r="4.4" fill="#FF0000"/><circle cx="1916.36" cy="571.46" r="4.4" fill="#FF0000"/><circle cx="1917.67" cy="556.58" r="4.4" fill="#00FF00"/><circle cx="1918.58" cy="524.21" r="4.4" fill="#FF0000"/><circle cx="1920.41" cy="575.81" r="4.4" fill="#FF0000"/><circle cx="1921.11" cy="539.89" r="4.4" fill="#00FF00"/><circle cx="1921.92" cy="616.78" r="4.4" fill="#FF0000"/><circle cx="1922.73" cy="562.65" r="4.4" fill="#FF0000"/><circle cx="1923.95" cy="546.97" r="4.4" fill="#FF0000"/><circle cx="1924.45" cy="594.02" r="4.4" fill="#FF0000"/><circle cx="1925.46" cy="559.62" r="4.4" fill="#FF0000"/><circle cx="1926.47" cy="613.24" r="4.4" fill="#00FF00"/><circle cx="1927.49" cy="584.41" r="4.4" fill="#FF0000"/><circle cx="1929" cy="597.56" r="4.4" fill="#00FF00"/><circle cx="1929.51" cy="617.29" r="4.4" fill="#FF0000"/><circle cx="1931.03" cy="567.21" r="4.4" fill="#FF0000"/><circle cx="1932.54" cy="596.55" r="4.4" fill="#FF0000"/><circle cx="1932.54" cy="614.25" r="4.4" fill="#FF0000"/><circle cx="1933.56" cy="599.58" r="4.4" fill="#FF0000"/><circle cx="1934.87" cy="581.88" r="4.4" fill="#FF0000"/><circle cx="1935.58" cy="595.03" r="4.4" fill="#FF0000"/><circle cx="1935.78" cy="552.23" r="4.4" fill="#FF0000"/><circle cx="1937.6" cy="499.12" r="4.4" fill="#00FF00"/><circle cx="1938.41" cy="467.25" r="4.4" fill="#FF0000"/><circle cx="1938.61" cy="610.21" r="4.4" fill="#FF0000"/><circle cx="1940.13" cy="618.81" r="4.4" fill="#00FF00"/><circle cx="1940.94" cy="604.64" r="4.4" fill="#FF0000"/><circle cx="1941.65" cy="594.52" r="4.4" fill="#FF0000"/><circle cx="1943.16" cy="559.92" r="4.4" fill="#00FF00"/><circle cx="1944.18" cy="610.21" r="4.4" fill="#00FF00"/><circle cx="1944.68" cy="589.16" r="4.4" fill="#FF0000"/><circle cx="1946.2" cy="613.75" r="4.4" fill="#FF0000"/><circle cx="1946.71" cy="552.34" r="4.4" fill="#FF0000"/><circle cx="1947.21" cy="617.29" r="4.4" fill="#FF0000"/><circle cx="1948.22" cy="530.58" r="4.4" fill="#FF0000"/><circle cx="1948.73" cy="529.27" r="4.4" fill="#00FF00"/><circle cx="1950.45" cy="604.14" r="4.4" fill="#FF0000"/><circle cx="1951.26" cy="609.19" r="4.4" fill="#FF0000"/></g>
<circle cx="1465" cy="443.8" r="4.7" fill="#FF0000"/>
<circle cx="1465" cy="466.8" r="4.7" fill="#00FF00"/>
<text x="1481.4" y="449.8" font-size="17.2">Dead</text>
<text x="1481.4" y="472.8" font-size="17.2">Alive</text>
<line x1="1676.14" y1="422.25" x2="1676.14" y2="626.25" stroke="#000" stroke-width="1.4" stroke-dasharray="4 4"/>
<rect x="1448.65" y="420.75" width="522.25" height="205.5" fill="none" stroke="#000" stroke-width="1.45"/>
<line x1="1439.35" y1="618.8" x2="1448.65" y2="618.8" stroke="#000" stroke-width="1.2"/>
<text x="1427.15" y="618.8" font-size="15.6" text-anchor="middle" transform="rotate(-90 1427.15 618.8)">0</text>
<line x1="1439.35" y1="588.18" x2="1448.65" y2="588.18" stroke="#000" stroke-width="1.2"/>
<text x="1427.15" y="588.18" font-size="15.6" text-anchor="middle" transform="rotate(-90 1427.15 588.18)">2</text>
<line x1="1439.35" y1="557.56" x2="1448.65" y2="557.56" stroke="#000" stroke-width="1.2"/>
<text x="1427.15" y="557.56" font-size="15.6" text-anchor="middle" transform="rotate(-90 1427.15 557.56)">4</text>
<line x1="1439.35" y1="526.94" x2="1448.65" y2="526.94" stroke="#000" stroke-width="1.2"/>
<text x="1427.15" y="526.94" font-size="15.6" text-anchor="middle" transform="rotate(-90 1427.15 526.94)">6</text>
<line x1="1439.35" y1="496.32" x2="1448.65" y2="496.32" stroke="#000" stroke-width="1.2"/>
<text x="1427.15" y="496.32" font-size="15.6" text-anchor="middle" transform="rotate(-90 1427.15 496.32)">8</text>
<line x1="1439.35" y1="465.7" x2="1448.65" y2="465.7" stroke="#000" stroke-width="1.2"/>
<text x="1427.15" y="465.7" font-size="15.6" text-anchor="middle" transform="rotate(-90 1427.15 465.7)">10</text>
<line x1="1439.35" y1="435.08" x2="1448.65" y2="435.08" stroke="#000" stroke-width="1.2"/>
<line x1="1467.08" y1="626.25" x2="1467.08" y2="635.75" stroke="#000" stroke-width="1.2"/>
<text x="1467.08" y="660.5" font-size="15.6" text-anchor="middle">0</text>
<line x1="1557.98" y1="626.25" x2="1557.98" y2="635.75" stroke="#000" stroke-width="1.2"/>
<text x="1557.98" y="660.5" font-size="15.6" text-anchor="middle">100</text>
<line x1="1648.87" y1="626.25" x2="1648.87" y2="635.75" stroke="#000" stroke-width="1.2"/>
<text x="1648.87" y="660.5" font-size="15.6" text-anchor="middle">200</text>
<line x1="1739.77" y1="626.25" x2="1739.77" y2="635.75" stroke="#000" stroke-width="1.2"/>
<text x="1739.77" y="660.5" font-size="15.6" text-anchor="middle">300</text>
<line x1="1830.67" y1="626.25" x2="1830.67" y2="635.75" stroke="#000" stroke-width="1.2"/>
<text x="1830.67" y="660.5" font-size="15.6" text-anchor="middle">400</text>
<line x1="1921.56" y1="626.25" x2="1921.56" y2="635.75" stroke="#000" stroke-width="1.2"/>
<text x="1921.56" y="660.5" font-size="15.6" text-anchor="middle">500</text>
<text x="1709.78" y="698.7" font-size="15.2" text-anchor="middle">Patients (increasing risk socre)</text>
<text x="1390.4" y="523.5" font-size="15.8" text-anchor="middle" transform="rotate(-90 1390.4 523.5)">Survival time (years)</text>
<path fill="#FFB1B1" d="M1380.2 752.6h1.33v88.1h-1.33zM1401.8 752.6h1.33v88.1h-1.33zM1418.48 752.6h1.33v88.1h-1.33zM1424.37 752.6h1.33v88.1h-1.33zM1425.35 752.6h1.33v88.1h-1.33zM1427.32 752.6h1.33v88.1h-1.33zM1438.12 752.6h1.33v88.1h-1.33zM1441.06 752.6h1.33v88.1h-1.33zM1448.91 752.6h1.33v88.1h-1.33zM1461.67 752.6h1.33v88.1h-1.33zM1465.6 752.6h1.33v88.1h-1.33zM1469.53 752.6h1.33v88.1h-1.33zM1471.49 752.6h1.33v88.1h-1.33zM1472.47 752.6h1.33v88.1h-1.33zM1479.34 752.6h1.33v88.1h-1.33zM1480.32 752.6h1.33v88.1h-1.33zM1486.21 752.6h1.33v88.1h-1.33zM1494.07 752.6h1.33v88.1h-1.33zM1497.99 752.6h1.33v88.1h-1.33zM1510.75 752.6h1.33v88.1h-1.33zM1526.46 752.6h1.33v88.1h-1.33zM1527.44 752.6h1.33v88.1h-1.33zM1543.15 752.6h1.33v88.1h-1.33zM1547.07 752.6h1.33v88.1h-1.33zM1549.04 752.6h1.33v88.1h-1.33zM1557.87 752.6h1.33v88.1h-1.33zM1569.65 752.6h1.33v88.1h-1.33zM1570.63 752.6h1.33v88.1h-1.33zM1586.34 752.6h1.33v88.1h-1.33zM1598.12 752.6h1.33v88.1h-1.33zM1600.08 752.6h1.33v88.1h-1.33zM1604.01 752.6h1.33v88.1h-1.33zM1608.92 752.6h1.33v88.1h-1.33zM1613.82 752.6h1.33v88.1h-1.33zM1622.66 752.6h1.33v88.1h-1.33zM1628.55 752.6h1.33v88.1h-1.33zM1632.47 752.6h1.33v88.1h-1.33zM1637.38 752.6h1.33v88.1h-1.33zM1642.29 752.6h1.33v88.1h-1.33zM1653.09 752.6h1.33v88.1h-1.33zM1656.03 752.6h1.33v88.1h-1.33zM1671.74 752.6h1.33v88.1h-1.33zM1703.15 752.6h1.33v88.1h-1.33zM1711.99 752.6h1.33v88.1h-1.33zM1726.71 752.6h1.33v88.1h-1.33zM1727.69 752.6h1.33v88.1h-1.33zM1739.47 752.6h1.33v88.1h-1.33zM1741.43 752.6h1.33v88.1h-1.33zM1388.05 840.7h1.33v88h-1.33zM1394.92 840.7h1.33v88h-1.33zM1397.87 840.7h1.33v88h-1.33zM1405.72 840.7h1.33v88h-1.33zM1418.48 840.7h1.33v88h-1.33zM1423.39 840.7h1.33v88h-1.33zM1460.69 840.7h1.33v88h-1.33zM1467.56 840.7h1.33v88h-1.33zM1509.77 840.7h1.33v88h-1.33zM1525.48 840.7h1.33v88h-1.33zM1531.37 840.7h1.33v88h-1.33zM1543.15 840.7h1.33v88h-1.33zM1549.04 840.7h1.33v88h-1.33zM1561.8 840.7h1.33v88h-1.33zM1567.69 840.7h1.33v88h-1.33zM1574.56 840.7h1.33v88h-1.33zM1586.34 840.7h1.33v88h-1.33zM1591.25 840.7h1.33v88h-1.33zM1597.14 840.7h1.33v88h-1.33zM1604.99 840.7h1.33v88h-1.33zM1608.92 840.7h1.33v88h-1.33zM1609.9 840.7h1.33v88h-1.33zM1613.82 840.7h1.33v88h-1.33zM1621.68 840.7h1.33v88h-1.33zM1622.66 840.7h1.33v88h-1.33zM1630.51 840.7h1.33v88h-1.33zM1634.44 840.7h1.33v88h-1.33zM1643.27 840.7h1.33v88h-1.33zM1653.09 840.7h1.33v88h-1.33zM1658.98 840.7h1.33v88h-1.33zM1666.83 840.7h1.33v88h-1.33zM1710.02 840.7h1.33v88h-1.33zM1716.89 840.7h1.33v88h-1.33zM1746.34 840.7h1.33v88h-1.33zM1753.21 840.7h1.33v88h-1.33zM1780.7 840.7h1.33v88h-1.33zM1783.64 840.7h1.33v88h-1.33zM1820.94 840.7h1.33v88h-1.33zM1391 928.7h1.33v88h-1.33zM1398.85 928.7h1.33v88h-1.33zM1452.84 928.7h1.33v88h-1.33zM1489.16 928.7h1.33v88h-1.33zM1505.85 928.7h1.33v88h-1.33zM1506.83 928.7h1.33v88h-1.33zM1514.68 928.7h1.33v88h-1.33zM1529.41 928.7h1.33v88h-1.33zM1620.7 928.7h1.33v88h-1.33zM1644.25 928.7h1.33v88h-1.33zM1648.18 928.7h1.33v88h-1.33zM1660.94 928.7h1.33v88h-1.33zM1683.52 928.7h1.33v88h-1.33zM1686.46 928.7h1.33v88h-1.33zM1695.3 928.7h1.33v88h-1.33zM1698.24 928.7h1.33v88h-1.33zM1729.65 928.7h1.33v88h-1.33zM1733.58 928.7h1.33v88h-1.33zM1734.56 928.7h1.33v88h-1.33zM1739.47 928.7h1.33v88h-1.33zM1740.45 928.7h1.33v88h-1.33zM1749.29 928.7h1.33v88h-1.33zM1759.1 928.7h1.33v88h-1.33zM1763.03 928.7h1.33v88h-1.33zM1787.57 928.7h1.33v88h-1.33zM1790.51 928.7h1.33v88h-1.33zM1795.42 928.7h1.33v88h-1.33zM1797.39 928.7h1.33v88h-1.33zM1799.35 928.7h1.33v88h-1.33zM1806.22 928.7h1.33v88h-1.33zM1813.09 928.7h1.33v88h-1.33zM1816.04 928.7h1.33v88h-1.33zM1817.02 928.7h1.33v88h-1.33zM1819.96 928.7h1.33v88h-1.33zM1821.93 928.7h1.33v88h-1.33zM1828.8 928.7h1.33v88h-1.33zM1831.74 928.7h1.33v88h-1.33zM1833.71 928.7h1.33v88h-1.33zM1835.67 928.7h1.33v88h-1.33zM1846.47 928.7h1.33v88h-1.33zM1847.45 928.7h1.33v88h-1.33zM1867.08 928.7h1.33v88h-1.33zM1872.97 928.7h1.33v88h-1.33zM1385.11 1016.7h1.33v88.3h-1.33zM1391 1016.7h1.33v88.3h-1.33zM1391.98 1016.7h1.33v88.3h-1.33zM1400.81 1016.7h1.33v88.3h-1.33zM1415.54 1016.7h1.33v88.3h-1.33zM1440.08 1016.7h1.33v88.3h-1.33zM1445.97 1016.7h1.33v88.3h-1.33zM1451.86 1016.7h1.33v88.3h-1.33zM1462.66 1016.7h1.33v88.3h-1.33zM1465.6 1016.7h1.33v88.3h-1.33zM1474.43 1016.7h1.33v88.3h-1.33zM1480.32 1016.7h1.33v88.3h-1.33zM1483.27 1016.7h1.33v88.3h-1.33zM1489.16 1016.7h1.33v88.3h-1.33zM1494.07 1016.7h1.33v88.3h-1.33zM1498.98 1016.7h1.33v88.3h-1.33zM1501.92 1016.7h1.33v88.3h-1.33zM1503.88 1016.7h1.33v88.3h-1.33zM1505.85 1016.7h1.33v88.3h-1.33zM1559.84 1016.7h1.33v88.3h-1.33zM1561.8 1016.7h1.33v88.3h-1.33zM1573.58 1016.7h1.33v88.3h-1.33zM1590.27 1016.7h1.33v88.3h-1.33zM1593.21 1016.7h1.33v88.3h-1.33zM1615.79 1016.7h1.33v88.3h-1.33zM1621.68 1016.7h1.33v88.3h-1.33zM1623.64 1016.7h1.33v88.3h-1.33zM1625.6 1016.7h1.33v88.3h-1.33zM1663.89 1016.7h1.33v88.3h-1.33zM1675.67 1016.7h1.33v88.3h-1.33zM1714.93 1016.7h1.33v88.3h-1.33zM1738.49 1016.7h1.33v88.3h-1.33z"/>
<path fill="#FF1515" d="M1381.18 752.6h1.33v88.1h-1.33zM1385.11 752.6h1.33v88.1h-1.33zM1429.28 752.6h1.33v88.1h-1.33zM1431.24 752.6h1.33v88.1h-1.33zM1447.93 752.6h1.33v88.1h-1.33zM1451.86 752.6h1.33v88.1h-1.33zM1460.69 752.6h1.33v88.1h-1.33zM1463.64 752.6h1.33v88.1h-1.33zM1481.31 752.6h1.33v88.1h-1.33zM1482.29 752.6h1.33v88.1h-1.33zM1492.1 752.6h1.33v88.1h-1.33zM1506.83 752.6h1.33v88.1h-1.33zM1522.53 752.6h1.33v88.1h-1.33zM1538.24 752.6h1.33v88.1h-1.33zM1541.18 752.6h1.33v88.1h-1.33zM1576.52 752.6h1.33v88.1h-1.33zM1725.73 752.6h1.33v88.1h-1.33zM1381.18 840.7h1.33v88h-1.33zM1407.69 840.7h1.33v88h-1.33zM1410.63 840.7h1.33v88h-1.33zM1482.29 840.7h1.33v88h-1.33zM1484.25 840.7h1.33v88h-1.33zM1497.99 840.7h1.33v88h-1.33zM1511.74 840.7h1.33v88h-1.33zM1512.72 840.7h1.33v88h-1.33zM1518.61 840.7h1.33v88h-1.33zM1568.67 840.7h1.33v88h-1.33zM1779.72 840.7h1.33v88h-1.33zM1792.48 840.7h1.33v88h-1.33zM1730.64 928.7h1.33v88h-1.33zM1774.81 928.7h1.33v88h-1.33zM1780.7 928.7h1.33v88h-1.33zM1834.69 928.7h1.33v88h-1.33zM1838.61 928.7h1.33v88h-1.33zM1866.1 928.7h1.33v88h-1.33zM1876.9 928.7h1.33v88h-1.33zM1879.84 928.7h1.33v88h-1.33zM1885.73 928.7h1.33v88h-1.33zM1887.69 928.7h1.33v88h-1.33zM1890.64 928.7h1.33v88h-1.33zM1381.18 1016.7h1.33v88.3h-1.33zM1398.85 1016.7h1.33v88.3h-1.33zM1457.75 1016.7h1.33v88.3h-1.33zM1518.61 1016.7h1.33v88.3h-1.33zM1519.59 1016.7h1.33v88.3h-1.33zM1523.52 1016.7h1.33v88.3h-1.33zM1538.24 1016.7h1.33v88.3h-1.33zM1572.6 1016.7h1.33v88.3h-1.33zM1589.28 1016.7h1.33v88.3h-1.33z"/>
<path fill="#FF5353" d="M1382.16 752.6h1.33v88.1h-1.33zM1391.98 752.6h1.33v88.1h-1.33zM1396.89 752.6h1.33v88.1h-1.33zM1415.54 752.6h1.33v88.1h-1.33zM1432.23 752.6h1.33v88.1h-1.33zM1433.21 752.6h1.33v88.1h-1.33zM1444 752.6h1.33v88.1h-1.33zM1449.89 752.6h1.33v88.1h-1.33zM1452.84 752.6h1.33v88.1h-1.33zM1454.8 752.6h1.33v88.1h-1.33zM1462.66 752.6h1.33v88.1h-1.33zM1468.55 752.6h1.33v88.1h-1.33zM1475.42 752.6h1.33v88.1h-1.33zM1490.14 752.6h1.33v88.1h-1.33zM1512.72 752.6h1.33v88.1h-1.33zM1523.52 752.6h1.33v88.1h-1.33zM1535.29 752.6h1.33v88.1h-1.33zM1539.22 752.6h1.33v88.1h-1.33zM1540.2 752.6h1.33v88.1h-1.33zM1548.06 752.6h1.33v88.1h-1.33zM1550.02 752.6h1.33v88.1h-1.33zM1552.96 752.6h1.33v88.1h-1.33zM1555.91 752.6h1.33v88.1h-1.33zM1565.72 752.6h1.33v88.1h-1.33zM1572.6 752.6h1.33v88.1h-1.33zM1574.56 752.6h1.33v88.1h-1.33zM1581.43 752.6h1.33v88.1h-1.33zM1584.38 752.6h1.33v88.1h-1.33zM1634.44 752.6h1.33v88.1h-1.33zM1728.67 752.6h1.33v88.1h-1.33zM1804.26 752.6h1.33v88.1h-1.33zM1386.09 840.7h1.33v88h-1.33zM1389.03 840.7h1.33v88h-1.33zM1393.94 840.7h1.33v88h-1.33zM1412.59 840.7h1.33v88h-1.33zM1428.3 840.7h1.33v88h-1.33zM1440.08 840.7h1.33v88h-1.33zM1446.95 840.7h1.33v88h-1.33zM1450.88 840.7h1.33v88h-1.33zM1468.55 840.7h1.33v88h-1.33zM1469.53 840.7h1.33v88h-1.33zM1472.47 840.7h1.33v88h-1.33zM1473.45 840.7h1.33v88h-1.33zM1515.66 840.7h1.33v88h-1.33zM1516.64 840.7h1.33v88h-1.33zM1536.28 840.7h1.33v88h-1.33zM1539.22 840.7h1.33v88h-1.33zM1550.02 840.7h1.33v88h-1.33zM1552.96 840.7h1.33v88h-1.33zM1560.82 840.7h1.33v88h-1.33zM1583.39 840.7h1.33v88h-1.33zM1588.3 840.7h1.33v88h-1.33zM1589.28 840.7h1.33v88h-1.33zM1623.64 840.7h1.33v88h-1.33zM1679.59 840.7h1.33v88h-1.33zM1703.15 840.7h1.33v88h-1.33zM1705.11 840.7h1.33v88h-1.33zM1723.76 840.7h1.33v88h-1.33zM1726.71 840.7h1.33v88h-1.33zM1736.53 840.7h1.33v88h-1.33zM1767.94 840.7h1.33v88h-1.33zM1701.19 928.7h1.33v88h-1.33zM1719.84 928.7h1.33v88h-1.33zM1720.82 928.7h1.33v88h-1.33zM1747.32 928.7h1.33v88h-1.33zM1748.31 928.7h1.33v88h-1.33zM1764.01 928.7h1.33v88h-1.33zM1768.92 928.7h1.33v88h-1.33zM1793.46 928.7h1.33v88h-1.33zM1851.37 928.7h1.33v88h-1.33zM1854.32 928.7h1.33v88h-1.33zM1865.12 928.7h1.33v88h-1.33zM1873.95 928.7h1.33v88h-1.33zM1881.8 928.7h1.33v88h-1.33zM1884.75 928.7h1.33v88h-1.33zM1891.62 928.7h1.33v88h-1.33zM1893.58 928.7h1.33v88h-1.33zM1384.13 1016.7h1.33v88.3h-1.33zM1387.07 1016.7h1.33v88.3h-1.33zM1396.89 1016.7h1.33v88.3h-1.33zM1404.74 1016.7h1.33v88.3h-1.33zM1407.69 1016.7h1.33v88.3h-1.33zM1409.65 1016.7h1.33v88.3h-1.33zM1412.59 1016.7h1.33v88.3h-1.33zM1421.43 1016.7h1.33v88.3h-1.33zM1424.37 1016.7h1.33v88.3h-1.33zM1429.28 1016.7h1.33v88.3h-1.33zM1431.24 1016.7h1.33v88.3h-1.33zM1433.21 1016.7h1.33v88.3h-1.33zM1441.06 1016.7h1.33v88.3h-1.33zM1467.56 1016.7h1.33v88.3h-1.33zM1470.51 1016.7h1.33v88.3h-1.33zM1485.23 1016.7h1.33v88.3h-1.33zM1487.2 1016.7h1.33v88.3h-1.33zM1495.05 1016.7h1.33v88.3h-1.33zM1502.9 1016.7h1.33v88.3h-1.33zM1510.75 1016.7h1.33v88.3h-1.33zM1513.7 1016.7h1.33v88.3h-1.33zM1516.64 1016.7h1.33v88.3h-1.33zM1520.57 1016.7h1.33v88.3h-1.33zM1521.55 1016.7h1.33v88.3h-1.33zM1524.5 1016.7h1.33v88.3h-1.33zM1526.46 1016.7h1.33v88.3h-1.33zM1537.26 1016.7h1.33v88.3h-1.33zM1539.22 1016.7h1.33v88.3h-1.33zM1557.87 1016.7h1.33v88.3h-1.33zM1567.69 1016.7h1.33v88.3h-1.33zM1640.33 1016.7h1.33v88.3h-1.33z"/>
<path fill="#FF3434" d="M1383.14 752.6h1.33v88.1h-1.33zM1391 752.6h1.33v88.1h-1.33zM1399.83 752.6h1.33v88.1h-1.33zM1403.76 752.6h1.33v88.1h-1.33zM1411.61 752.6h1.33v88.1h-1.33zM1419.46 752.6h1.33v88.1h-1.33zM1428.3 752.6h1.33v88.1h-1.33zM1436.15 752.6h1.33v88.1h-1.33zM1466.58 752.6h1.33v88.1h-1.33zM1485.23 752.6h1.33v88.1h-1.33zM1488.18 752.6h1.33v88.1h-1.33zM1495.05 752.6h1.33v88.1h-1.33zM1497.01 752.6h1.33v88.1h-1.33zM1515.66 752.6h1.33v88.1h-1.33zM1516.64 752.6h1.33v88.1h-1.33zM1524.5 752.6h1.33v88.1h-1.33zM1530.39 752.6h1.33v88.1h-1.33zM1551 752.6h1.33v88.1h-1.33zM1551.98 752.6h1.33v88.1h-1.33zM1560.82 752.6h1.33v88.1h-1.33zM1585.36 752.6h1.33v88.1h-1.33zM1588.3 752.6h1.33v88.1h-1.33zM1589.28 752.6h1.33v88.1h-1.33zM1606.95 752.6h1.33v88.1h-1.33zM1395.91 840.7h1.33v88h-1.33zM1403.76 840.7h1.33v88h-1.33zM1404.74 840.7h1.33v88h-1.33zM1406.7 840.7h1.33v88h-1.33zM1421.43 840.7h1.33v88h-1.33zM1430.26 840.7h1.33v88h-1.33zM1437.13 840.7h1.33v88h-1.33zM1443.02 840.7h1.33v88h-1.33zM1444.99 840.7h1.33v88h-1.33zM1461.67 840.7h1.33v88h-1.33zM1479.34 840.7h1.33v88h-1.33zM1483.27 840.7h1.33v88h-1.33zM1489.16 840.7h1.33v88h-1.33zM1490.14 840.7h1.33v88h-1.33zM1506.83 840.7h1.33v88h-1.33zM1507.81 840.7h1.33v88h-1.33zM1528.42 840.7h1.33v88h-1.33zM1537.26 840.7h1.33v88h-1.33zM1547.07 840.7h1.33v88h-1.33zM1584.38 840.7h1.33v88h-1.33zM1594.19 840.7h1.33v88h-1.33zM1598.12 840.7h1.33v88h-1.33zM1689.41 840.7h1.33v88h-1.33zM1693.33 840.7h1.33v88h-1.33zM1775.79 840.7h1.33v88h-1.33zM1714.93 928.7h1.33v88h-1.33zM1781.68 928.7h1.33v88h-1.33zM1810.15 928.7h1.33v88h-1.33zM1818 928.7h1.33v88h-1.33zM1830.76 928.7h1.33v88h-1.33zM1844.5 928.7h1.33v88h-1.33zM1886.71 928.7h1.33v88h-1.33zM1888.68 928.7h1.33v88h-1.33zM1889.66 928.7h1.33v88h-1.33zM1894.57 928.7h1.33v88h-1.33zM1901.44 928.7h1.33v88h-1.33zM1390.02 1016.7h1.33v88.3h-1.33zM1399.83 1016.7h1.33v88.3h-1.33zM1410.63 1016.7h1.33v88.3h-1.33zM1420.45 1016.7h1.33v88.3h-1.33zM1438.12 1016.7h1.33v88.3h-1.33zM1459.71 1016.7h1.33v88.3h-1.33zM1463.64 1016.7h1.33v88.3h-1.33zM1464.62 1016.7h1.33v88.3h-1.33zM1469.53 1016.7h1.33v88.3h-1.33zM1471.49 1016.7h1.33v88.3h-1.33zM1490.14 1016.7h1.33v88.3h-1.33zM1497.01 1016.7h1.33v88.3h-1.33zM1511.74 1016.7h1.33v88.3h-1.33zM1514.68 1016.7h1.33v88.3h-1.33zM1534.31 1016.7h1.33v88.3h-1.33zM1535.29 1016.7h1.33v88.3h-1.33zM1536.28 1016.7h1.33v88.3h-1.33zM1545.11 1016.7h1.33v88.3h-1.33zM1562.78 1016.7h1.33v88.3h-1.33zM1580.45 1016.7h1.33v88.3h-1.33zM1595.17 1016.7h1.33v88.3h-1.33zM1604.99 1016.7h1.33v88.3h-1.33z"/>
<path fill="#FF0000" d="M1384.13 752.6h1.33v88.1h-1.33zM1437.13 752.6h1.33v88.1h-1.33zM1492.1 840.7h1.33v88h-1.33zM1662.9 840.7h1.33v88h-1.33z"/>
<path fill="#FF0000" d="M1386.09 752.6h1.33v88.1h-1.33zM1397.87 752.6h1.33v88.1h-1.33zM1413.57 752.6h1.33v88.1h-1.33zM1487.2 752.6h1.33v88.1h-1.33zM1562.78 752.6h1.33v88.1h-1.33zM1644.25 752.6h1.33v88.1h-1.33zM1392.96 840.7h1.33v88h-1.33zM1478.36 840.7h1.33v88h-1.33zM1493.09 840.7h1.33v88h-1.33zM1532.35 840.7h1.33v88h-1.33zM1544.13 840.7h1.33v88h-1.33zM1702.17 928.7h1.33v88h-1.33zM1732.6 928.7h1.33v88h-1.33zM1895.55 928.7h1.33v88h-1.33zM1896.53 928.7h1.33v88h-1.33zM1386.09 1016.7h1.33v88.3h-1.33zM1405.72 1016.7h1.33v88.3h-1.33zM1411.61 1016.7h1.33v88.3h-1.33zM1448.91 1016.7h1.33v88.3h-1.33zM1450.88 1016.7h1.33v88.3h-1.33zM1472.47 1016.7h1.33v88.3h-1.33zM1527.44 1016.7h1.33v88.3h-1.33zM1528.42 1016.7h1.33v88.3h-1.33z"/>
<path fill="#FFD0D0" d="M1387.07 752.6h1.33v88.1h-1.33zM1393.94 752.6h1.33v88.1h-1.33zM1409.65 752.6h1.33v88.1h-1.33zM1423.39 752.6h1.33v88.1h-1.33zM1439.1 752.6h1.33v88.1h-1.33zM1453.82 752.6h1.33v88.1h-1.33zM1455.78 752.6h1.33v88.1h-1.33zM1457.75 752.6h1.33v88.1h-1.33zM1467.56 752.6h1.33v88.1h-1.33zM1473.45 752.6h1.33v88.1h-1.33zM1477.38 752.6h1.33v88.1h-1.33zM1478.36 752.6h1.33v88.1h-1.33zM1507.81 752.6h1.33v88.1h-1.33zM1554.93 752.6h1.33v88.1h-1.33zM1556.89 752.6h1.33v88.1h-1.33zM1575.54 752.6h1.33v88.1h-1.33zM1594.19 752.6h1.33v88.1h-1.33zM1604.99 752.6h1.33v88.1h-1.33zM1605.97 752.6h1.33v88.1h-1.33zM1607.93 752.6h1.33v88.1h-1.33zM1623.64 752.6h1.33v88.1h-1.33zM1625.6 752.6h1.33v88.1h-1.33zM1633.46 752.6h1.33v88.1h-1.33zM1638.36 752.6h1.33v88.1h-1.33zM1649.16 752.6h1.33v88.1h-1.33zM1655.05 752.6h1.33v88.1h-1.33zM1657.02 752.6h1.33v88.1h-1.33zM1658 752.6h1.33v88.1h-1.33zM1664.87 752.6h1.33v88.1h-1.33zM1686.46 752.6h1.33v88.1h-1.33zM1702.17 752.6h1.33v88.1h-1.33zM1707.08 752.6h1.33v88.1h-1.33zM1750.27 752.6h1.33v88.1h-1.33zM1757.14 752.6h1.33v88.1h-1.33zM1775.79 752.6h1.33v88.1h-1.33zM1808.18 752.6h1.33v88.1h-1.33zM1817.02 752.6h1.33v88.1h-1.33zM1831.74 752.6h1.33v88.1h-1.33zM1884.75 752.6h1.33v88.1h-1.33zM1408.67 840.7h1.33v88h-1.33zM1413.57 840.7h1.33v88h-1.33zM1416.52 840.7h1.33v88h-1.33zM1417.5 840.7h1.33v88h-1.33zM1439.1 840.7h1.33v88h-1.33zM1441.06 840.7h1.33v88h-1.33zM1470.51 840.7h1.33v88h-1.33zM1475.42 840.7h1.33v88h-1.33zM1480.32 840.7h1.33v88h-1.33zM1486.21 840.7h1.33v88h-1.33zM1495.05 840.7h1.33v88h-1.33zM1498.98 840.7h1.33v88h-1.33zM1522.53 840.7h1.33v88h-1.33zM1530.39 840.7h1.33v88h-1.33zM1541.18 840.7h1.33v88h-1.33zM1542.17 840.7h1.33v88h-1.33zM1548.06 840.7h1.33v88h-1.33zM1554.93 840.7h1.33v88h-1.33zM1557.87 840.7h1.33v88h-1.33zM1559.84 840.7h1.33v88h-1.33zM1570.63 840.7h1.33v88h-1.33zM1572.6 840.7h1.33v88h-1.33zM1575.54 840.7h1.33v88h-1.33zM1579.47 840.7h1.33v88h-1.33zM1585.36 840.7h1.33v88h-1.33zM1590.27 840.7h1.33v88h-1.33zM1599.1 840.7h1.33v88h-1.33zM1606.95 840.7h1.33v88h-1.33zM1648.18 840.7h1.33v88h-1.33zM1673.7 840.7h1.33v88h-1.33zM1688.43 840.7h1.33v88h-1.33zM1695.3 840.7h1.33v88h-1.33zM1700.21 840.7h1.33v88h-1.33zM1709.04 840.7h1.33v88h-1.33zM1718.86 840.7h1.33v88h-1.33zM1725.73 840.7h1.33v88h-1.33zM1729.65 840.7h1.33v88h-1.33zM1738.49 840.7h1.33v88h-1.33zM1742.42 840.7h1.33v88h-1.33zM1752.23 840.7h1.33v88h-1.33zM1810.15 840.7h1.33v88h-1.33zM1816.04 840.7h1.33v88h-1.33zM1837.63 840.7h1.33v88h-1.33zM1876.9 840.7h1.33v88h-1.33zM1413.57 928.7h1.33v88h-1.33zM1417.5 928.7h1.33v88h-1.33zM1472.47 928.7h1.33v88h-1.33zM1495.05 928.7h1.33v88h-1.33zM1498.98 928.7h1.33v88h-1.33zM1516.64 928.7h1.33v88h-1.33zM1570.63 928.7h1.33v88h-1.33zM1581.43 928.7h1.33v88h-1.33zM1586.34 928.7h1.33v88h-1.33zM1618.73 928.7h1.33v88h-1.33zM1622.66 928.7h1.33v88h-1.33zM1626.58 928.7h1.33v88h-1.33zM1641.31 928.7h1.33v88h-1.33zM1706.1 928.7h1.33v88h-1.33zM1711.99 928.7h1.33v88h-1.33zM1713.95 928.7h1.33v88h-1.33zM1723.76 928.7h1.33v88h-1.33zM1728.67 928.7h1.33v88h-1.33zM1736.53 928.7h1.33v88h-1.33zM1738.49 928.7h1.33v88h-1.33zM1741.43 928.7h1.33v88h-1.33zM1742.42 928.7h1.33v88h-1.33zM1756.16 928.7h1.33v88h-1.33zM1757.14 928.7h1.33v88h-1.33zM1766.96 928.7h1.33v88h-1.33zM1775.79 928.7h1.33v88h-1.33zM1794.44 928.7h1.33v88h-1.33zM1796.4 928.7h1.33v88h-1.33zM1798.37 928.7h1.33v88h-1.33zM1802.29 928.7h1.33v88h-1.33zM1812.11 928.7h1.33v88h-1.33zM1825.85 928.7h1.33v88h-1.33zM1836.65 928.7h1.33v88h-1.33zM1841.56 928.7h1.33v88h-1.33zM1850.39 928.7h1.33v88h-1.33zM1858.25 928.7h1.33v88h-1.33zM1862.17 928.7h1.33v88h-1.33zM1388.05 1016.7h1.33v88.3h-1.33zM1394.92 1016.7h1.33v88.3h-1.33zM1403.76 1016.7h1.33v88.3h-1.33zM1417.5 1016.7h1.33v88.3h-1.33zM1419.46 1016.7h1.33v88.3h-1.33zM1427.32 1016.7h1.33v88.3h-1.33zM1435.17 1016.7h1.33v88.3h-1.33zM1443.02 1016.7h1.33v88.3h-1.33zM1452.84 1016.7h1.33v88.3h-1.33zM1456.77 1016.7h1.33v88.3h-1.33zM1475.42 1016.7h1.33v88.3h-1.33zM1481.31 1016.7h1.33v88.3h-1.33zM1504.86 1016.7h1.33v88.3h-1.33zM1508.79 1016.7h1.33v88.3h-1.33zM1515.66 1016.7h1.33v88.3h-1.33zM1531.37 1016.7h1.33v88.3h-1.33zM1532.35 1016.7h1.33v88.3h-1.33zM1546.09 1016.7h1.33v88.3h-1.33zM1566.71 1016.7h1.33v88.3h-1.33zM1571.61 1016.7h1.33v88.3h-1.33zM1600.08 1016.7h1.33v88.3h-1.33zM1635.42 1016.7h1.33v88.3h-1.33zM1636.4 1016.7h1.33v88.3h-1.33zM1638.36 1016.7h1.33v88.3h-1.33zM1643.27 1016.7h1.33v88.3h-1.33zM1690.39 1016.7h1.33v88.3h-1.33zM1711.99 1016.7h1.33v88.3h-1.33zM1727.69 1016.7h1.33v88.3h-1.33zM1796.4 1016.7h1.33v88.3h-1.33zM1799.35 1016.7h1.33v88.3h-1.33zM1811.13 1016.7h1.33v88.3h-1.33zM1880.82 1016.7h1.33v88.3h-1.33zM1898.49 1016.7h1.33v88.3h-1.33z"/>
<path fill="#FF0000" d="M1388.05 752.6h1.33v88.1h-1.33zM1563.76 840.7h1.33v88h-1.33zM1578.49 840.7h1.33v88h-1.33zM1645.24 840.7h1.33v88h-1.33zM1430.26 1016.7h1.33v88.3h-1.33z"/>
<path fill="#FF0000" d="M1389.03 752.6h1.33v88.1h-1.33zM1553.95 752.6h1.33v88.1h-1.33zM1449.89 840.7h1.33v88h-1.33zM1476.4 840.7h1.33v88h-1.33zM1513.7 840.7h1.33v88h-1.33zM1540.2 840.7h1.33v88h-1.33zM1625.6 840.7h1.33v88h-1.33zM1782.66 928.7h1.33v88h-1.33zM1843.52 928.7h1.33v88h-1.33zM1861.19 928.7h1.33v88h-1.33zM1899.47 928.7h1.33v88h-1.33zM1382.16 1016.7h1.33v88.3h-1.33zM1468.55 1016.7h1.33v88.3h-1.33z"/>
<path fill="#FF0000" d="M1390.02 752.6h1.33v88.1h-1.33zM1420.45 752.6h1.33v88.1h-1.33zM1496.03 840.7h1.33v88h-1.33zM1898.49 928.7h1.33v88h-1.33zM1525.48 1016.7h1.33v88.3h-1.33zM1555.91 1016.7h1.33v88.3h-1.33z"/>
<path fill="#FF0000" d="M1392.96 752.6h1.33v88.1h-1.33zM1414.56 752.6h1.33v88.1h-1.33zM1442.04 752.6h1.33v88.1h-1.33zM1545.11 752.6h1.33v88.1h-1.33zM1592.23 752.6h1.33v88.1h-1.33zM1527.44 840.7h1.33v88h-1.33zM1651.13 840.7h1.33v88h-1.33zM1857.26 928.7h1.33v88h-1.33zM1392.96 1016.7h1.33v88.3h-1.33zM1402.78 1016.7h1.33v88.3h-1.33zM1428.3 1016.7h1.33v88.3h-1.33zM1447.93 1016.7h1.33v88.3h-1.33zM1449.89 1016.7h1.33v88.3h-1.33zM1473.45 1016.7h1.33v88.3h-1.33z"/>
<path fill="#FF0000" d="M1394.92 752.6h1.33v88.1h-1.33zM1398.85 752.6h1.33v88.1h-1.33zM1404.74 752.6h1.33v88.1h-1.33zM1406.7 752.6h1.33v88.1h-1.33zM1564.74 752.6h1.33v88.1h-1.33zM1618.73 752.6h1.33v88.1h-1.33zM1640.33 752.6h1.33v88.1h-1.33zM1683.52 752.6h1.33v88.1h-1.33zM1699.22 752.6h1.33v88.1h-1.33zM1742.42 752.6h1.33v88.1h-1.33zM1385.11 840.7h1.33v88h-1.33zM1401.8 840.7h1.33v88h-1.33zM1411.61 840.7h1.33v88h-1.33zM1453.82 840.7h1.33v88h-1.33zM1455.78 840.7h1.33v88h-1.33zM1458.73 840.7h1.33v88h-1.33zM1503.88 840.7h1.33v88h-1.33zM1517.63 840.7h1.33v88h-1.33zM1658 840.7h1.33v88h-1.33zM1696.28 840.7h1.33v88h-1.33zM1721.8 928.7h1.33v88h-1.33zM1765.97 928.7h1.33v88h-1.33zM1871.01 928.7h1.33v88h-1.33zM1883.77 928.7h1.33v88h-1.33zM1897.51 928.7h1.33v88h-1.33zM1900.46 928.7h1.33v88h-1.33zM1380.2 1016.7h1.33v88.3h-1.33zM1389.03 1016.7h1.33v88.3h-1.33zM1406.7 1016.7h1.33v88.3h-1.33zM1479.34 1016.7h1.33v88.3h-1.33zM1491.12 1016.7h1.33v88.3h-1.33zM1499.96 1016.7h1.33v88.3h-1.33zM1556.89 1016.7h1.33v88.3h-1.33zM1565.72 1016.7h1.33v88.3h-1.33zM1570.63 1016.7h1.33v88.3h-1.33zM1602.04 1016.7h1.33v88.3h-1.33z"/>
<path fill="#FF7272" d="M1395.91 752.6h1.33v88.1h-1.33zM1408.67 752.6h1.33v88.1h-1.33zM1410.63 752.6h1.33v88.1h-1.33zM1421.43 752.6h1.33v88.1h-1.33zM1444.99 752.6h1.33v88.1h-1.33zM1470.51 752.6h1.33v88.1h-1.33zM1474.43 752.6h1.33v88.1h-1.33zM1493.09 752.6h1.33v88.1h-1.33zM1502.9 752.6h1.33v88.1h-1.33zM1511.74 752.6h1.33v88.1h-1.33zM1529.41 752.6h1.33v88.1h-1.33zM1531.37 752.6h1.33v88.1h-1.33zM1544.13 752.6h1.33v88.1h-1.33zM1546.09 752.6h1.33v88.1h-1.33zM1567.69 752.6h1.33v88.1h-1.33zM1579.47 752.6h1.33v88.1h-1.33zM1597.14 752.6h1.33v88.1h-1.33zM1599.1 752.6h1.33v88.1h-1.33zM1601.06 752.6h1.33v88.1h-1.33zM1602.04 752.6h1.33v88.1h-1.33zM1612.84 752.6h1.33v88.1h-1.33zM1621.68 752.6h1.33v88.1h-1.33zM1643.27 752.6h1.33v88.1h-1.33zM1645.24 752.6h1.33v88.1h-1.33zM1647.2 752.6h1.33v88.1h-1.33zM1696.28 752.6h1.33v88.1h-1.33zM1731.62 752.6h1.33v88.1h-1.33zM1751.25 752.6h1.33v88.1h-1.33zM1755.18 752.6h1.33v88.1h-1.33zM1788.55 752.6h1.33v88.1h-1.33zM1806.22 752.6h1.33v88.1h-1.33zM1391 840.7h1.33v88h-1.33zM1399.83 840.7h1.33v88h-1.33zM1409.65 840.7h1.33v88h-1.33zM1422.41 840.7h1.33v88h-1.33zM1427.32 840.7h1.33v88h-1.33zM1438.12 840.7h1.33v88h-1.33zM1445.97 840.7h1.33v88h-1.33zM1465.6 840.7h1.33v88h-1.33zM1474.43 840.7h1.33v88h-1.33zM1481.31 840.7h1.33v88h-1.33zM1488.18 840.7h1.33v88h-1.33zM1499.96 840.7h1.33v88h-1.33zM1500.94 840.7h1.33v88h-1.33zM1501.92 840.7h1.33v88h-1.33zM1502.9 840.7h1.33v88h-1.33zM1504.86 840.7h1.33v88h-1.33zM1505.85 840.7h1.33v88h-1.33zM1508.79 840.7h1.33v88h-1.33zM1519.59 840.7h1.33v88h-1.33zM1533.33 840.7h1.33v88h-1.33zM1545.11 840.7h1.33v88h-1.33zM1551 840.7h1.33v88h-1.33zM1556.89 840.7h1.33v88h-1.33zM1558.85 840.7h1.33v88h-1.33zM1587.32 840.7h1.33v88h-1.33zM1603.03 840.7h1.33v88h-1.33zM1604.01 840.7h1.33v88h-1.33zM1610.88 840.7h1.33v88h-1.33zM1611.86 840.7h1.33v88h-1.33zM1618.73 840.7h1.33v88h-1.33zM1627.57 840.7h1.33v88h-1.33zM1628.55 840.7h1.33v88h-1.33zM1649.16 840.7h1.33v88h-1.33zM1674.68 840.7h1.33v88h-1.33zM1686.46 840.7h1.33v88h-1.33zM1701.19 840.7h1.33v88h-1.33zM1711.99 840.7h1.33v88h-1.33zM1712.97 840.7h1.33v88h-1.33zM1715.91 840.7h1.33v88h-1.33zM1747.32 840.7h1.33v88h-1.33zM1759.1 840.7h1.33v88h-1.33zM1770.88 840.7h1.33v88h-1.33zM1771.86 840.7h1.33v88h-1.33zM1795.42 840.7h1.33v88h-1.33zM1442.04 928.7h1.33v88h-1.33zM1599.1 928.7h1.33v88h-1.33zM1624.62 928.7h1.33v88h-1.33zM1722.78 928.7h1.33v88h-1.33zM1726.71 928.7h1.33v88h-1.33zM1727.69 928.7h1.33v88h-1.33zM1731.62 928.7h1.33v88h-1.33zM1743.4 928.7h1.33v88h-1.33zM1744.38 928.7h1.33v88h-1.33zM1745.36 928.7h1.33v88h-1.33zM1761.07 928.7h1.33v88h-1.33zM1769.9 928.7h1.33v88h-1.33zM1777.75 928.7h1.33v88h-1.33zM1783.64 928.7h1.33v88h-1.33zM1789.53 928.7h1.33v88h-1.33zM1804.26 928.7h1.33v88h-1.33zM1818.98 928.7h1.33v88h-1.33zM1823.89 928.7h1.33v88h-1.33zM1826.83 928.7h1.33v88h-1.33zM1827.82 928.7h1.33v88h-1.33zM1840.58 928.7h1.33v88h-1.33zM1869.04 928.7h1.33v88h-1.33zM1870.03 928.7h1.33v88h-1.33zM1871.99 928.7h1.33v88h-1.33zM1874.93 928.7h1.33v88h-1.33zM1877.88 928.7h1.33v88h-1.33zM1878.86 928.7h1.33v88h-1.33zM1393.94 1016.7h1.33v88.3h-1.33zM1397.87 1016.7h1.33v88.3h-1.33zM1401.8 1016.7h1.33v88.3h-1.33zM1413.57 1016.7h1.33v88.3h-1.33zM1442.04 1016.7h1.33v88.3h-1.33zM1453.82 1016.7h1.33v88.3h-1.33zM1458.73 1016.7h1.33v88.3h-1.33zM1477.38 1016.7h1.33v88.3h-1.33zM1506.83 1016.7h1.33v88.3h-1.33zM1530.39 1016.7h1.33v88.3h-1.33zM1540.2 1016.7h1.33v88.3h-1.33zM1550.02 1016.7h1.33v88.3h-1.33zM1551.98 1016.7h1.33v88.3h-1.33zM1578.49 1016.7h1.33v88.3h-1.33zM1579.47 1016.7h1.33v88.3h-1.33zM1586.34 1016.7h1.33v88.3h-1.33zM1591.25 1016.7h1.33v88.3h-1.33zM1597.14 1016.7h1.33v88.3h-1.33zM1619.71 1016.7h1.33v88.3h-1.33zM1624.62 1016.7h1.33v88.3h-1.33zM1639.35 1016.7h1.33v88.3h-1.33zM1652.11 1016.7h1.33v88.3h-1.33zM1716.89 1016.7h1.33v88.3h-1.33zM1731.62 1016.7h1.33v88.3h-1.33zM1737.51 1016.7h1.33v88.3h-1.33zM1865.12 1016.7h1.33v88.3h-1.33z"/>
<path fill="#FF0000" d="M1400.81 752.6h1.33v88.1h-1.33zM1407.69 752.6h1.33v88.1h-1.33zM1435.17 752.6h1.33v88.1h-1.33zM1484.25 752.6h1.33v88.1h-1.33zM1521.55 752.6h1.33v88.1h-1.33zM1595.17 752.6h1.33v88.1h-1.33zM1398.85 840.7h1.33v88h-1.33zM1514.68 840.7h1.33v88h-1.33zM1712.97 928.7h1.33v88h-1.33zM1856.28 928.7h1.33v88h-1.33zM1880.82 928.7h1.33v88h-1.33zM1383.14 1016.7h1.33v88.3h-1.33zM1486.21 1016.7h1.33v88.3h-1.33zM1543.15 1016.7h1.33v88.3h-1.33z"/>
<path fill="#FF9292" d="M1402.78 752.6h1.33v88.1h-1.33zM1405.72 752.6h1.33v88.1h-1.33zM1412.59 752.6h1.33v88.1h-1.33zM1416.52 752.6h1.33v88.1h-1.33zM1422.41 752.6h1.33v88.1h-1.33zM1434.19 752.6h1.33v88.1h-1.33zM1440.08 752.6h1.33v88.1h-1.33zM1446.95 752.6h1.33v88.1h-1.33zM1456.77 752.6h1.33v88.1h-1.33zM1458.73 752.6h1.33v88.1h-1.33zM1489.16 752.6h1.33v88.1h-1.33zM1491.12 752.6h1.33v88.1h-1.33zM1496.03 752.6h1.33v88.1h-1.33zM1498.98 752.6h1.33v88.1h-1.33zM1504.86 752.6h1.33v88.1h-1.33zM1505.85 752.6h1.33v88.1h-1.33zM1509.77 752.6h1.33v88.1h-1.33zM1513.7 752.6h1.33v88.1h-1.33zM1517.63 752.6h1.33v88.1h-1.33zM1519.59 752.6h1.33v88.1h-1.33zM1528.42 752.6h1.33v88.1h-1.33zM1534.31 752.6h1.33v88.1h-1.33zM1542.17 752.6h1.33v88.1h-1.33zM1558.85 752.6h1.33v88.1h-1.33zM1559.84 752.6h1.33v88.1h-1.33zM1568.67 752.6h1.33v88.1h-1.33zM1577.5 752.6h1.33v88.1h-1.33zM1583.39 752.6h1.33v88.1h-1.33zM1593.21 752.6h1.33v88.1h-1.33zM1610.88 752.6h1.33v88.1h-1.33zM1611.86 752.6h1.33v88.1h-1.33zM1615.79 752.6h1.33v88.1h-1.33zM1620.7 752.6h1.33v88.1h-1.33zM1624.62 752.6h1.33v88.1h-1.33zM1685.48 752.6h1.33v88.1h-1.33zM1715.91 752.6h1.33v88.1h-1.33zM1744.38 752.6h1.33v88.1h-1.33zM1756.16 752.6h1.33v88.1h-1.33zM1791.5 752.6h1.33v88.1h-1.33zM1382.16 840.7h1.33v88h-1.33zM1383.14 840.7h1.33v88h-1.33zM1384.13 840.7h1.33v88h-1.33zM1387.07 840.7h1.33v88h-1.33zM1402.78 840.7h1.33v88h-1.33zM1414.56 840.7h1.33v88h-1.33zM1419.46 840.7h1.33v88h-1.33zM1420.45 840.7h1.33v88h-1.33zM1424.37 840.7h1.33v88h-1.33zM1425.35 840.7h1.33v88h-1.33zM1426.34 840.7h1.33v88h-1.33zM1431.24 840.7h1.33v88h-1.33zM1432.23 840.7h1.33v88h-1.33zM1444 840.7h1.33v88h-1.33zM1451.86 840.7h1.33v88h-1.33zM1456.77 840.7h1.33v88h-1.33zM1459.71 840.7h1.33v88h-1.33zM1464.62 840.7h1.33v88h-1.33zM1466.58 840.7h1.33v88h-1.33zM1497.01 840.7h1.33v88h-1.33zM1534.31 840.7h1.33v88h-1.33zM1546.09 840.7h1.33v88h-1.33zM1564.74 840.7h1.33v88h-1.33zM1566.71 840.7h1.33v88h-1.33zM1569.65 840.7h1.33v88h-1.33zM1581.43 840.7h1.33v88h-1.33zM1593.21 840.7h1.33v88h-1.33zM1600.08 840.7h1.33v88h-1.33zM1635.42 840.7h1.33v88h-1.33zM1638.36 840.7h1.33v88h-1.33zM1639.35 840.7h1.33v88h-1.33zM1671.74 840.7h1.33v88h-1.33zM1675.67 840.7h1.33v88h-1.33zM1687.45 840.7h1.33v88h-1.33zM1787.57 840.7h1.33v88h-1.33zM1788.55 840.7h1.33v88h-1.33zM1832.72 840.7h1.33v88h-1.33zM1449.89 928.7h1.33v88h-1.33zM1577.5 928.7h1.33v88h-1.33zM1604.99 928.7h1.33v88h-1.33zM1615.79 928.7h1.33v88h-1.33zM1693.33 928.7h1.33v88h-1.33zM1699.22 928.7h1.33v88h-1.33zM1703.15 928.7h1.33v88h-1.33zM1710.02 928.7h1.33v88h-1.33zM1711 928.7h1.33v88h-1.33zM1715.91 928.7h1.33v88h-1.33zM1718.86 928.7h1.33v88h-1.33zM1753.21 928.7h1.33v88h-1.33zM1767.94 928.7h1.33v88h-1.33zM1771.86 928.7h1.33v88h-1.33zM1788.55 928.7h1.33v88h-1.33zM1800.33 928.7h1.33v88h-1.33zM1808.18 928.7h1.33v88h-1.33zM1814.07 928.7h1.33v88h-1.33zM1824.87 928.7h1.33v88h-1.33zM1832.72 928.7h1.33v88h-1.33zM1837.63 928.7h1.33v88h-1.33zM1839.6 928.7h1.33v88h-1.33zM1852.36 928.7h1.33v88h-1.33zM1868.06 928.7h1.33v88h-1.33zM1875.91 928.7h1.33v88h-1.33zM1882.79 928.7h1.33v88h-1.33zM1902.42 928.7h0.98v88h-0.98zM1395.91 1016.7h1.33v88.3h-1.33zM1416.52 1016.7h1.33v88.3h-1.33zM1423.39 1016.7h1.33v88.3h-1.33zM1436.15 1016.7h1.33v88.3h-1.33zM1437.13 1016.7h1.33v88.3h-1.33zM1455.78 1016.7h1.33v88.3h-1.33zM1461.67 1016.7h1.33v88.3h-1.33zM1466.58 1016.7h1.33v88.3h-1.33zM1476.4 1016.7h1.33v88.3h-1.33zM1482.29 1016.7h1.33v88.3h-1.33zM1493.09 1016.7h1.33v88.3h-1.33zM1517.63 1016.7h1.33v88.3h-1.33zM1522.53 1016.7h1.33v88.3h-1.33zM1542.17 1016.7h1.33v88.3h-1.33zM1544.13 1016.7h1.33v88.3h-1.33zM1563.76 1016.7h1.33v88.3h-1.33zM1564.74 1016.7h1.33v88.3h-1.33zM1568.67 1016.7h1.33v88.3h-1.33zM1574.56 1016.7h1.33v88.3h-1.33zM1581.43 1016.7h1.33v88.3h-1.33zM1588.3 1016.7h1.33v88.3h-1.33zM1606.95 1016.7h1.33v88.3h-1.33zM1610.88 1016.7h1.33v88.3h-1.33zM1633.46 1016.7h1.33v88.3h-1.33zM1676.65 1016.7h1.33v88.3h-1.33zM1677.63 1016.7h1.33v88.3h-1.33zM1683.52 1016.7h1.33v88.3h-1.33zM1692.35 1016.7h1.33v88.3h-1.33zM1706.1 1016.7h1.33v88.3h-1.33zM1723.76 1016.7h1.33v88.3h-1.33zM1802.29 1016.7h1.33v88.3h-1.33zM1896.53 1016.7h1.33v88.3h-1.33z"/>
<path fill="#D0FFD0" d="M1417.5 752.6h1.33v88.1h-1.33zM1503.88 752.6h1.33v88.1h-1.33zM1518.61 752.6h1.33v88.1h-1.33zM1536.28 752.6h1.33v88.1h-1.33zM1561.8 752.6h1.33v88.1h-1.33zM1573.58 752.6h1.33v88.1h-1.33zM1603.03 752.6h1.33v88.1h-1.33zM1627.57 752.6h1.33v88.1h-1.33zM1630.51 752.6h1.33v88.1h-1.33zM1648.18 752.6h1.33v88.1h-1.33zM1662.9 752.6h1.33v88.1h-1.33zM1673.7 752.6h1.33v88.1h-1.33zM1674.68 752.6h1.33v88.1h-1.33zM1679.59 752.6h1.33v88.1h-1.33zM1700.21 752.6h1.33v88.1h-1.33zM1709.04 752.6h1.33v88.1h-1.33zM1720.82 752.6h1.33v88.1h-1.33zM1724.75 752.6h1.33v88.1h-1.33zM1736.53 752.6h1.33v88.1h-1.33zM1738.49 752.6h1.33v88.1h-1.33zM1768.92 752.6h1.33v88.1h-1.33zM1770.88 752.6h1.33v88.1h-1.33zM1778.74 752.6h1.33v88.1h-1.33zM1781.68 752.6h1.33v88.1h-1.33zM1785.61 752.6h1.33v88.1h-1.33zM1797.39 752.6h1.33v88.1h-1.33zM1807.2 752.6h1.33v88.1h-1.33zM1820.94 752.6h1.33v88.1h-1.33zM1836.65 752.6h1.33v88.1h-1.33zM1837.63 752.6h1.33v88.1h-1.33zM1838.61 752.6h1.33v88.1h-1.33zM1892.6 752.6h1.33v88.1h-1.33zM1893.58 752.6h1.33v88.1h-1.33zM1380.2 840.7h1.33v88h-1.33zM1390.02 840.7h1.33v88h-1.33zM1454.8 840.7h1.33v88h-1.33zM1487.2 840.7h1.33v88h-1.33zM1521.55 840.7h1.33v88h-1.33zM1538.24 840.7h1.33v88h-1.33zM1555.91 840.7h1.33v88h-1.33zM1596.15 840.7h1.33v88h-1.33zM1615.79 840.7h1.33v88h-1.33zM1650.14 840.7h1.33v88h-1.33zM1657.02 840.7h1.33v88h-1.33zM1660.94 840.7h1.33v88h-1.33zM1663.89 840.7h1.33v88h-1.33zM1667.81 840.7h1.33v88h-1.33zM1682.54 840.7h1.33v88h-1.33zM1692.35 840.7h1.33v88h-1.33zM1698.24 840.7h1.33v88h-1.33zM1702.17 840.7h1.33v88h-1.33zM1711 840.7h1.33v88h-1.33zM1740.45 840.7h1.33v88h-1.33zM1755.18 840.7h1.33v88h-1.33zM1789.53 840.7h1.33v88h-1.33zM1806.22 840.7h1.33v88h-1.33zM1809.17 840.7h1.33v88h-1.33zM1819.96 840.7h1.33v88h-1.33zM1839.6 840.7h1.33v88h-1.33zM1840.58 840.7h1.33v88h-1.33zM1846.47 840.7h1.33v88h-1.33zM1388.05 928.7h1.33v88h-1.33zM1393.94 928.7h1.33v88h-1.33zM1399.83 928.7h1.33v88h-1.33zM1406.7 928.7h1.33v88h-1.33zM1426.34 928.7h1.33v88h-1.33zM1433.21 928.7h1.33v88h-1.33zM1457.75 928.7h1.33v88h-1.33zM1461.67 928.7h1.33v88h-1.33zM1462.66 928.7h1.33v88h-1.33zM1478.36 928.7h1.33v88h-1.33zM1481.31 928.7h1.33v88h-1.33zM1487.2 928.7h1.33v88h-1.33zM1496.03 928.7h1.33v88h-1.33zM1507.81 928.7h1.33v88h-1.33zM1517.63 928.7h1.33v88h-1.33zM1519.59 928.7h1.33v88h-1.33zM1520.57 928.7h1.33v88h-1.33zM1521.55 928.7h1.33v88h-1.33zM1524.5 928.7h1.33v88h-1.33zM1541.18 928.7h1.33v88h-1.33zM1543.15 928.7h1.33v88h-1.33zM1544.13 928.7h1.33v88h-1.33zM1546.09 928.7h1.33v88h-1.33zM1553.95 928.7h1.33v88h-1.33zM1554.93 928.7h1.33v88h-1.33zM1555.91 928.7h1.33v88h-1.33zM1562.78 928.7h1.33v88h-1.33zM1568.67 928.7h1.33v88h-1.33zM1569.65 928.7h1.33v88h-1.33zM1571.61 928.7h1.33v88h-1.33zM1589.28 928.7h1.33v88h-1.33zM1607.93 928.7h1.33v88h-1.33zM1612.84 928.7h1.33v88h-1.33zM1613.82 928.7h1.33v88h-1.33zM1614.81 928.7h1.33v88h-1.33zM1621.68 928.7h1.33v88h-1.33zM1623.64 928.7h1.33v88h-1.33zM1630.51 928.7h1.33v88h-1.33zM1633.46 928.7h1.33v88h-1.33zM1639.35 928.7h1.33v88h-1.33zM1649.16 928.7h1.33v88h-1.33zM1670.76 928.7h1.33v88h-1.33zM1673.7 928.7h1.33v88h-1.33zM1674.68 928.7h1.33v88h-1.33zM1684.5 928.7h1.33v88h-1.33zM1692.35 928.7h1.33v88h-1.33zM1697.26 928.7h1.33v88h-1.33zM1704.13 928.7h1.33v88h-1.33zM1705.11 928.7h1.33v88h-1.33zM1717.88 928.7h1.33v88h-1.33zM1724.75 928.7h1.33v88h-1.33zM1735.54 928.7h1.33v88h-1.33zM1737.51 928.7h1.33v88h-1.33zM1746.34 928.7h1.33v88h-1.33zM1751.25 928.7h1.33v88h-1.33zM1760.08 928.7h1.33v88h-1.33zM1762.05 928.7h1.33v88h-1.33zM1776.77 928.7h1.33v88h-1.33zM1815.05 928.7h1.33v88h-1.33zM1842.54 928.7h1.33v88h-1.33zM1425.35 1016.7h1.33v88.3h-1.33zM1439.1 1016.7h1.33v88.3h-1.33zM1512.72 1016.7h1.33v88.3h-1.33zM1541.18 1016.7h1.33v88.3h-1.33zM1551 1016.7h1.33v88.3h-1.33zM1585.36 1016.7h1.33v88.3h-1.33zM1599.1 1016.7h1.33v88.3h-1.33zM1601.06 1016.7h1.33v88.3h-1.33zM1608.92 1016.7h1.33v88.3h-1.33zM1613.82 1016.7h1.33v88.3h-1.33zM1622.66 1016.7h1.33v88.3h-1.33zM1631.49 1016.7h1.33v88.3h-1.33zM1632.47 1016.7h1.33v88.3h-1.33zM1647.2 1016.7h1.33v88.3h-1.33zM1651.13 1016.7h1.33v88.3h-1.33zM1661.92 1016.7h1.33v88.3h-1.33zM1684.5 1016.7h1.33v88.3h-1.33zM1686.46 1016.7h1.33v88.3h-1.33zM1691.37 1016.7h1.33v88.3h-1.33zM1703.15 1016.7h1.33v88.3h-1.33zM1715.91 1016.7h1.33v88.3h-1.33zM1718.86 1016.7h1.33v88.3h-1.33zM1724.75 1016.7h1.33v88.3h-1.33zM1735.54 1016.7h1.33v88.3h-1.33zM1746.34 1016.7h1.33v88.3h-1.33zM1747.32 1016.7h1.33v88.3h-1.33zM1771.86 1016.7h1.33v88.3h-1.33zM1814.07 1016.7h1.33v88.3h-1.33zM1828.8 1016.7h1.33v88.3h-1.33zM1839.6 1016.7h1.33v88.3h-1.33zM1899.47 1016.7h1.33v88.3h-1.33z"/>
<path fill="#FF0000" d="M1426.34 752.6h1.33v88.1h-1.33zM1566.71 752.6h1.33v88.1h-1.33zM1529.41 840.7h1.33v88h-1.33zM1685.48 840.7h1.33v88h-1.33zM1803.28 928.7h1.33v88h-1.33z"/>
<path fill="#FFEFEF" d="M1430.26 752.6h1.33v88.1h-1.33zM1443.02 752.6h1.33v88.1h-1.33zM1459.71 752.6h1.33v88.1h-1.33zM1476.4 752.6h1.33v88.1h-1.33zM1483.27 752.6h1.33v88.1h-1.33zM1508.79 752.6h1.33v88.1h-1.33zM1520.57 752.6h1.33v88.1h-1.33zM1525.48 752.6h1.33v88.1h-1.33zM1533.33 752.6h1.33v88.1h-1.33zM1563.76 752.6h1.33v88.1h-1.33zM1571.61 752.6h1.33v88.1h-1.33zM1619.71 752.6h1.33v88.1h-1.33zM1635.42 752.6h1.33v88.1h-1.33zM1651.13 752.6h1.33v88.1h-1.33zM1652.11 752.6h1.33v88.1h-1.33zM1667.81 752.6h1.33v88.1h-1.33zM1668.79 752.6h1.33v88.1h-1.33zM1675.67 752.6h1.33v88.1h-1.33zM1680.57 752.6h1.33v88.1h-1.33zM1687.45 752.6h1.33v88.1h-1.33zM1689.41 752.6h1.33v88.1h-1.33zM1690.39 752.6h1.33v88.1h-1.33zM1694.32 752.6h1.33v88.1h-1.33zM1698.24 752.6h1.33v88.1h-1.33zM1711 752.6h1.33v88.1h-1.33zM1712.97 752.6h1.33v88.1h-1.33zM1717.88 752.6h1.33v88.1h-1.33zM1718.86 752.6h1.33v88.1h-1.33zM1721.8 752.6h1.33v88.1h-1.33zM1734.56 752.6h1.33v88.1h-1.33zM1746.34 752.6h1.33v88.1h-1.33zM1761.07 752.6h1.33v88.1h-1.33zM1766.96 752.6h1.33v88.1h-1.33zM1782.66 752.6h1.33v88.1h-1.33zM1783.64 752.6h1.33v88.1h-1.33zM1784.62 752.6h1.33v88.1h-1.33zM1786.59 752.6h1.33v88.1h-1.33zM1789.53 752.6h1.33v88.1h-1.33zM1818.98 752.6h1.33v88.1h-1.33zM1415.54 840.7h1.33v88h-1.33zM1433.21 840.7h1.33v88h-1.33zM1442.04 840.7h1.33v88h-1.33zM1448.91 840.7h1.33v88h-1.33zM1452.84 840.7h1.33v88h-1.33zM1457.75 840.7h1.33v88h-1.33zM1462.66 840.7h1.33v88h-1.33zM1477.38 840.7h1.33v88h-1.33zM1491.12 840.7h1.33v88h-1.33zM1510.75 840.7h1.33v88h-1.33zM1524.5 840.7h1.33v88h-1.33zM1535.29 840.7h1.33v88h-1.33zM1551.98 840.7h1.33v88h-1.33zM1562.78 840.7h1.33v88h-1.33zM1571.61 840.7h1.33v88h-1.33zM1573.58 840.7h1.33v88h-1.33zM1576.52 840.7h1.33v88h-1.33zM1592.23 840.7h1.33v88h-1.33zM1595.17 840.7h1.33v88h-1.33zM1607.93 840.7h1.33v88h-1.33zM1614.81 840.7h1.33v88h-1.33zM1619.71 840.7h1.33v88h-1.33zM1624.62 840.7h1.33v88h-1.33zM1629.53 840.7h1.33v88h-1.33zM1632.47 840.7h1.33v88h-1.33zM1636.4 840.7h1.33v88h-1.33zM1637.38 840.7h1.33v88h-1.33zM1640.33 840.7h1.33v88h-1.33zM1641.31 840.7h1.33v88h-1.33zM1647.2 840.7h1.33v88h-1.33zM1661.92 840.7h1.33v88h-1.33zM1665.85 840.7h1.33v88h-1.33zM1668.79 840.7h1.33v88h-1.33zM1670.76 840.7h1.33v88h-1.33zM1672.72 840.7h1.33v88h-1.33zM1681.56 840.7h1.33v88h-1.33zM1683.52 840.7h1.33v88h-1.33zM1691.37 840.7h1.33v88h-1.33zM1720.82 840.7h1.33v88h-1.33zM1741.43 840.7h1.33v88h-1.33zM1751.25 840.7h1.33v88h-1.33zM1764.01 840.7h1.33v88h-1.33zM1768.92 840.7h1.33v88h-1.33zM1772.85 840.7h1.33v88h-1.33zM1773.83 840.7h1.33v88h-1.33zM1776.77 840.7h1.33v88h-1.33zM1793.46 840.7h1.33v88h-1.33zM1814.07 840.7h1.33v88h-1.33zM1830.76 840.7h1.33v88h-1.33zM1835.67 840.7h1.33v88h-1.33zM1836.65 840.7h1.33v88h-1.33zM1391.98 928.7h1.33v88h-1.33zM1397.87 928.7h1.33v88h-1.33zM1423.39 928.7h1.33v88h-1.33zM1424.37 928.7h1.33v88h-1.33zM1427.32 928.7h1.33v88h-1.33zM1436.15 928.7h1.33v88h-1.33zM1450.88 928.7h1.33v88h-1.33zM1455.78 928.7h1.33v88h-1.33zM1471.49 928.7h1.33v88h-1.33zM1485.23 928.7h1.33v88h-1.33zM1491.12 928.7h1.33v88h-1.33zM1494.07 928.7h1.33v88h-1.33zM1508.79 928.7h1.33v88h-1.33zM1509.77 928.7h1.33v88h-1.33zM1535.29 928.7h1.33v88h-1.33zM1549.04 928.7h1.33v88h-1.33zM1564.74 928.7h1.33v88h-1.33zM1567.69 928.7h1.33v88h-1.33zM1585.36 928.7h1.33v88h-1.33zM1600.08 928.7h1.33v88h-1.33zM1604.01 928.7h1.33v88h-1.33zM1610.88 928.7h1.33v88h-1.33zM1617.75 928.7h1.33v88h-1.33zM1628.55 928.7h1.33v88h-1.33zM1634.44 928.7h1.33v88h-1.33zM1651.13 928.7h1.33v88h-1.33zM1653.09 928.7h1.33v88h-1.33zM1655.05 928.7h1.33v88h-1.33zM1656.03 928.7h1.33v88h-1.33zM1665.85 928.7h1.33v88h-1.33zM1671.74 928.7h1.33v88h-1.33zM1677.63 928.7h1.33v88h-1.33zM1680.57 928.7h1.33v88h-1.33zM1681.56 928.7h1.33v88h-1.33zM1688.43 928.7h1.33v88h-1.33zM1708.06 928.7h1.33v88h-1.33zM1716.89 928.7h1.33v88h-1.33zM1758.12 928.7h1.33v88h-1.33zM1764.99 928.7h1.33v88h-1.33zM1772.85 928.7h1.33v88h-1.33zM1778.74 928.7h1.33v88h-1.33zM1779.72 928.7h1.33v88h-1.33zM1784.62 928.7h1.33v88h-1.33zM1785.61 928.7h1.33v88h-1.33zM1786.59 928.7h1.33v88h-1.33zM1805.24 928.7h1.33v88h-1.33zM1809.17 928.7h1.33v88h-1.33zM1820.94 928.7h1.33v88h-1.33zM1829.78 928.7h1.33v88h-1.33zM1848.43 928.7h1.33v88h-1.33zM1855.3 928.7h1.33v88h-1.33zM1859.23 928.7h1.33v88h-1.33zM1860.21 928.7h1.33v88h-1.33zM1863.15 928.7h1.33v88h-1.33zM1414.56 1016.7h1.33v88.3h-1.33zM1454.8 1016.7h1.33v88.3h-1.33zM1460.69 1016.7h1.33v88.3h-1.33zM1478.36 1016.7h1.33v88.3h-1.33zM1488.18 1016.7h1.33v88.3h-1.33zM1496.03 1016.7h1.33v88.3h-1.33zM1497.99 1016.7h1.33v88.3h-1.33zM1553.95 1016.7h1.33v88.3h-1.33zM1558.85 1016.7h1.33v88.3h-1.33zM1576.52 1016.7h1.33v88.3h-1.33zM1577.5 1016.7h1.33v88.3h-1.33zM1587.32 1016.7h1.33v88.3h-1.33zM1604.01 1016.7h1.33v88.3h-1.33zM1609.9 1016.7h1.33v88.3h-1.33zM1611.86 1016.7h1.33v88.3h-1.33zM1618.73 1016.7h1.33v88.3h-1.33zM1626.58 1016.7h1.33v88.3h-1.33zM1628.55 1016.7h1.33v88.3h-1.33zM1629.53 1016.7h1.33v88.3h-1.33zM1630.51 1016.7h1.33v88.3h-1.33zM1641.31 1016.7h1.33v88.3h-1.33zM1645.24 1016.7h1.33v88.3h-1.33zM1648.18 1016.7h1.33v88.3h-1.33zM1658.98 1016.7h1.33v88.3h-1.33zM1672.72 1016.7h1.33v88.3h-1.33zM1682.54 1016.7h1.33v88.3h-1.33zM1708.06 1016.7h1.33v88.3h-1.33zM1710.02 1016.7h1.33v88.3h-1.33zM1713.95 1016.7h1.33v88.3h-1.33zM1717.88 1016.7h1.33v88.3h-1.33zM1742.42 1016.7h1.33v88.3h-1.33zM1762.05 1016.7h1.33v88.3h-1.33zM1824.87 1016.7h1.33v88.3h-1.33zM1850.39 1016.7h1.33v88.3h-1.33z"/>
<path fill="#B1FFB1" d="M1445.97 752.6h1.33v88.1h-1.33zM1464.62 752.6h1.33v88.1h-1.33zM1532.35 752.6h1.33v88.1h-1.33zM1578.49 752.6h1.33v88.1h-1.33zM1631.49 752.6h1.33v88.1h-1.33zM1650.14 752.6h1.33v88.1h-1.33zM1661.92 752.6h1.33v88.1h-1.33zM1666.83 752.6h1.33v88.1h-1.33zM1670.76 752.6h1.33v88.1h-1.33zM1678.61 752.6h1.33v88.1h-1.33zM1681.56 752.6h1.33v88.1h-1.33zM1706.1 752.6h1.33v88.1h-1.33zM1714.93 752.6h1.33v88.1h-1.33zM1763.03 752.6h1.33v88.1h-1.33zM1765.97 752.6h1.33v88.1h-1.33zM1769.9 752.6h1.33v88.1h-1.33zM1779.72 752.6h1.33v88.1h-1.33zM1787.57 752.6h1.33v88.1h-1.33zM1803.28 752.6h1.33v88.1h-1.33zM1827.82 752.6h1.33v88.1h-1.33zM1829.78 752.6h1.33v88.1h-1.33zM1830.76 752.6h1.33v88.1h-1.33zM1842.54 752.6h1.33v88.1h-1.33zM1861.19 752.6h1.33v88.1h-1.33zM1874.93 752.6h1.33v88.1h-1.33zM1876.9 752.6h1.33v88.1h-1.33zM1896.53 752.6h1.33v88.1h-1.33zM1898.49 752.6h1.33v88.1h-1.33zM1899.47 752.6h1.33v88.1h-1.33zM1434.19 840.7h1.33v88h-1.33zM1471.49 840.7h1.33v88h-1.33zM1485.23 840.7h1.33v88h-1.33zM1577.5 840.7h1.33v88h-1.33zM1620.7 840.7h1.33v88h-1.33zM1626.58 840.7h1.33v88h-1.33zM1644.25 840.7h1.33v88h-1.33zM1656.03 840.7h1.33v88h-1.33zM1676.65 840.7h1.33v88h-1.33zM1680.57 840.7h1.33v88h-1.33zM1684.5 840.7h1.33v88h-1.33zM1697.26 840.7h1.33v88h-1.33zM1714.93 840.7h1.33v88h-1.33zM1717.88 840.7h1.33v88h-1.33zM1728.67 840.7h1.33v88h-1.33zM1737.51 840.7h1.33v88h-1.33zM1757.14 840.7h1.33v88h-1.33zM1758.12 840.7h1.33v88h-1.33zM1760.08 840.7h1.33v88h-1.33zM1762.05 840.7h1.33v88h-1.33zM1764.99 840.7h1.33v88h-1.33zM1765.97 840.7h1.33v88h-1.33zM1801.31 840.7h1.33v88h-1.33zM1807.2 840.7h1.33v88h-1.33zM1818.98 840.7h1.33v88h-1.33zM1828.8 840.7h1.33v88h-1.33zM1851.37 840.7h1.33v88h-1.33zM1852.36 840.7h1.33v88h-1.33zM1858.25 840.7h1.33v88h-1.33zM1878.86 840.7h1.33v88h-1.33zM1891.62 840.7h1.33v88h-1.33zM1380.2 928.7h1.33v88h-1.33zM1383.14 928.7h1.33v88h-1.33zM1389.03 928.7h1.33v88h-1.33zM1392.96 928.7h1.33v88h-1.33zM1404.74 928.7h1.33v88h-1.33zM1412.59 928.7h1.33v88h-1.33zM1415.54 928.7h1.33v88h-1.33zM1416.52 928.7h1.33v88h-1.33zM1421.43 928.7h1.33v88h-1.33zM1429.28 928.7h1.33v88h-1.33zM1435.17 928.7h1.33v88h-1.33zM1438.12 928.7h1.33v88h-1.33zM1441.06 928.7h1.33v88h-1.33zM1443.02 928.7h1.33v88h-1.33zM1447.93 928.7h1.33v88h-1.33zM1453.82 928.7h1.33v88h-1.33zM1456.77 928.7h1.33v88h-1.33zM1458.73 928.7h1.33v88h-1.33zM1464.62 928.7h1.33v88h-1.33zM1465.6 928.7h1.33v88h-1.33zM1468.55 928.7h1.33v88h-1.33zM1473.45 928.7h1.33v88h-1.33zM1479.34 928.7h1.33v88h-1.33zM1483.27 928.7h1.33v88h-1.33zM1484.25 928.7h1.33v88h-1.33zM1492.1 928.7h1.33v88h-1.33zM1501.92 928.7h1.33v88h-1.33zM1504.86 928.7h1.33v88h-1.33zM1530.39 928.7h1.33v88h-1.33zM1534.31 928.7h1.33v88h-1.33zM1538.24 928.7h1.33v88h-1.33zM1545.11 928.7h1.33v88h-1.33zM1548.06 928.7h1.33v88h-1.33zM1556.89 928.7h1.33v88h-1.33zM1560.82 928.7h1.33v88h-1.33zM1561.8 928.7h1.33v88h-1.33zM1573.58 928.7h1.33v88h-1.33zM1579.47 928.7h1.33v88h-1.33zM1580.45 928.7h1.33v88h-1.33zM1593.21 928.7h1.33v88h-1.33zM1597.14 928.7h1.33v88h-1.33zM1640.33 928.7h1.33v88h-1.33zM1647.2 928.7h1.33v88h-1.33zM1652.11 928.7h1.33v88h-1.33zM1661.92 928.7h1.33v88h-1.33zM1663.89 928.7h1.33v88h-1.33zM1664.87 928.7h1.33v88h-1.33zM1666.83 928.7h1.33v88h-1.33zM1668.79 928.7h1.33v88h-1.33zM1672.72 928.7h1.33v88h-1.33zM1682.54 928.7h1.33v88h-1.33zM1700.21 928.7h1.33v88h-1.33zM1707.08 928.7h1.33v88h-1.33zM1750.27 928.7h1.33v88h-1.33zM1770.88 928.7h1.33v88h-1.33zM1773.83 928.7h1.33v88h-1.33zM1792.48 928.7h1.33v88h-1.33zM1807.2 928.7h1.33v88h-1.33zM1853.34 928.7h1.33v88h-1.33zM1408.67 1016.7h1.33v88.3h-1.33zM1444 1016.7h1.33v88.3h-1.33zM1592.23 1016.7h1.33v88.3h-1.33zM1605.97 1016.7h1.33v88.3h-1.33zM1620.7 1016.7h1.33v88.3h-1.33zM1659.96 1016.7h1.33v88.3h-1.33zM1660.94 1016.7h1.33v88.3h-1.33zM1667.81 1016.7h1.33v88.3h-1.33zM1679.59 1016.7h1.33v88.3h-1.33zM1688.43 1016.7h1.33v88.3h-1.33zM1689.41 1016.7h1.33v88.3h-1.33zM1693.33 1016.7h1.33v88.3h-1.33zM1702.17 1016.7h1.33v88.3h-1.33zM1721.8 1016.7h1.33v88.3h-1.33zM1725.73 1016.7h1.33v88.3h-1.33zM1729.65 1016.7h1.33v88.3h-1.33zM1733.58 1016.7h1.33v88.3h-1.33zM1736.53 1016.7h1.33v88.3h-1.33zM1744.38 1016.7h1.33v88.3h-1.33zM1752.23 1016.7h1.33v88.3h-1.33zM1763.03 1016.7h1.33v88.3h-1.33zM1776.77 1016.7h1.33v88.3h-1.33zM1780.7 1016.7h1.33v88.3h-1.33zM1798.37 1016.7h1.33v88.3h-1.33zM1800.33 1016.7h1.33v88.3h-1.33zM1810.15 1016.7h1.33v88.3h-1.33zM1826.83 1016.7h1.33v88.3h-1.33zM1832.72 1016.7h1.33v88.3h-1.33zM1840.58 1016.7h1.33v88.3h-1.33zM1845.48 1016.7h1.33v88.3h-1.33zM1847.45 1016.7h1.33v88.3h-1.33zM1854.32 1016.7h1.33v88.3h-1.33zM1871.99 1016.7h1.33v88.3h-1.33zM1872.97 1016.7h1.33v88.3h-1.33zM1876.9 1016.7h1.33v88.3h-1.33zM1877.88 1016.7h1.33v88.3h-1.33zM1888.68 1016.7h1.33v88.3h-1.33zM1890.64 1016.7h1.33v88.3h-1.33zM1891.62 1016.7h1.33v88.3h-1.33zM1892.6 1016.7h1.33v88.3h-1.33z"/>
<path fill="#FF0000" d="M1450.88 752.6h1.33v88.1h-1.33zM1499.96 752.6h1.33v88.1h-1.33zM1590.27 752.6h1.33v88.1h-1.33zM1400.81 840.7h1.33v88h-1.33zM1436.15 840.7h1.33v88h-1.33zM1892.6 928.7h1.33v88h-1.33zM1426.34 1016.7h1.33v88.3h-1.33zM1446.95 1016.7h1.33v88.3h-1.33zM1552.96 1016.7h1.33v88.3h-1.33zM1560.82 1016.7h1.33v88.3h-1.33z"/>
<path fill="#EFFFEF" d="M1500.94 752.6h1.33v88.1h-1.33zM1501.92 752.6h1.33v88.1h-1.33zM1514.68 752.6h1.33v88.1h-1.33zM1580.45 752.6h1.33v88.1h-1.33zM1582.41 752.6h1.33v88.1h-1.33zM1587.32 752.6h1.33v88.1h-1.33zM1591.25 752.6h1.33v88.1h-1.33zM1609.9 752.6h1.33v88.1h-1.33zM1616.77 752.6h1.33v88.1h-1.33zM1636.4 752.6h1.33v88.1h-1.33zM1639.35 752.6h1.33v88.1h-1.33zM1659.96 752.6h1.33v88.1h-1.33zM1663.89 752.6h1.33v88.1h-1.33zM1677.63 752.6h1.33v88.1h-1.33zM1682.54 752.6h1.33v88.1h-1.33zM1684.5 752.6h1.33v88.1h-1.33zM1688.43 752.6h1.33v88.1h-1.33zM1691.37 752.6h1.33v88.1h-1.33zM1697.26 752.6h1.33v88.1h-1.33zM1713.95 752.6h1.33v88.1h-1.33zM1719.84 752.6h1.33v88.1h-1.33zM1733.58 752.6h1.33v88.1h-1.33zM1747.32 752.6h1.33v88.1h-1.33zM1759.1 752.6h1.33v88.1h-1.33zM1760.08 752.6h1.33v88.1h-1.33zM1762.05 752.6h1.33v88.1h-1.33zM1790.51 752.6h1.33v88.1h-1.33zM1793.46 752.6h1.33v88.1h-1.33zM1805.24 752.6h1.33v88.1h-1.33zM1813.09 752.6h1.33v88.1h-1.33zM1815.05 752.6h1.33v88.1h-1.33zM1848.43 752.6h1.33v88.1h-1.33zM1864.14 752.6h1.33v88.1h-1.33zM1866.1 752.6h1.33v88.1h-1.33zM1877.88 752.6h1.33v88.1h-1.33zM1883.77 752.6h1.33v88.1h-1.33zM1396.89 840.7h1.33v88h-1.33zM1435.17 840.7h1.33v88h-1.33zM1463.64 840.7h1.33v88h-1.33zM1520.57 840.7h1.33v88h-1.33zM1523.52 840.7h1.33v88h-1.33zM1526.46 840.7h1.33v88h-1.33zM1565.72 840.7h1.33v88h-1.33zM1580.45 840.7h1.33v88h-1.33zM1582.41 840.7h1.33v88h-1.33zM1601.06 840.7h1.33v88h-1.33zM1602.04 840.7h1.33v88h-1.33zM1616.77 840.7h1.33v88h-1.33zM1617.75 840.7h1.33v88h-1.33zM1642.29 840.7h1.33v88h-1.33zM1654.07 840.7h1.33v88h-1.33zM1664.87 840.7h1.33v88h-1.33zM1708.06 840.7h1.33v88h-1.33zM1713.95 840.7h1.33v88h-1.33zM1721.8 840.7h1.33v88h-1.33zM1727.69 840.7h1.33v88h-1.33zM1732.6 840.7h1.33v88h-1.33zM1733.58 840.7h1.33v88h-1.33zM1734.56 840.7h1.33v88h-1.33zM1744.38 840.7h1.33v88h-1.33zM1745.36 840.7h1.33v88h-1.33zM1748.31 840.7h1.33v88h-1.33zM1750.27 840.7h1.33v88h-1.33zM1754.19 840.7h1.33v88h-1.33zM1756.16 840.7h1.33v88h-1.33zM1769.9 840.7h1.33v88h-1.33zM1777.75 840.7h1.33v88h-1.33zM1778.74 840.7h1.33v88h-1.33zM1782.66 840.7h1.33v88h-1.33zM1785.61 840.7h1.33v88h-1.33zM1790.51 840.7h1.33v88h-1.33zM1794.44 840.7h1.33v88h-1.33zM1798.37 840.7h1.33v88h-1.33zM1803.28 840.7h1.33v88h-1.33zM1811.13 840.7h1.33v88h-1.33zM1823.89 840.7h1.33v88h-1.33zM1824.87 840.7h1.33v88h-1.33zM1825.85 840.7h1.33v88h-1.33zM1834.69 840.7h1.33v88h-1.33zM1841.56 840.7h1.33v88h-1.33zM1857.26 840.7h1.33v88h-1.33zM1859.23 840.7h1.33v88h-1.33zM1877.88 840.7h1.33v88h-1.33zM1886.71 840.7h1.33v88h-1.33zM1384.13 928.7h1.33v88h-1.33zM1385.11 928.7h1.33v88h-1.33zM1387.07 928.7h1.33v88h-1.33zM1405.72 928.7h1.33v88h-1.33zM1407.69 928.7h1.33v88h-1.33zM1409.65 928.7h1.33v88h-1.33zM1430.26 928.7h1.33v88h-1.33zM1434.19 928.7h1.33v88h-1.33zM1439.1 928.7h1.33v88h-1.33zM1451.86 928.7h1.33v88h-1.33zM1454.8 928.7h1.33v88h-1.33zM1466.58 928.7h1.33v88h-1.33zM1482.29 928.7h1.33v88h-1.33zM1497.01 928.7h1.33v88h-1.33zM1497.99 928.7h1.33v88h-1.33zM1503.88 928.7h1.33v88h-1.33zM1518.61 928.7h1.33v88h-1.33zM1522.53 928.7h1.33v88h-1.33zM1525.48 928.7h1.33v88h-1.33zM1532.35 928.7h1.33v88h-1.33zM1537.26 928.7h1.33v88h-1.33zM1542.17 928.7h1.33v88h-1.33zM1550.02 928.7h1.33v88h-1.33zM1551.98 928.7h1.33v88h-1.33zM1557.87 928.7h1.33v88h-1.33zM1558.85 928.7h1.33v88h-1.33zM1563.76 928.7h1.33v88h-1.33zM1566.71 928.7h1.33v88h-1.33zM1574.56 928.7h1.33v88h-1.33zM1576.52 928.7h1.33v88h-1.33zM1583.39 928.7h1.33v88h-1.33zM1584.38 928.7h1.33v88h-1.33zM1596.15 928.7h1.33v88h-1.33zM1601.06 928.7h1.33v88h-1.33zM1602.04 928.7h1.33v88h-1.33zM1605.97 928.7h1.33v88h-1.33zM1608.92 928.7h1.33v88h-1.33zM1609.9 928.7h1.33v88h-1.33zM1627.57 928.7h1.33v88h-1.33zM1629.53 928.7h1.33v88h-1.33zM1631.49 928.7h1.33v88h-1.33zM1635.42 928.7h1.33v88h-1.33zM1636.4 928.7h1.33v88h-1.33zM1637.38 928.7h1.33v88h-1.33zM1645.24 928.7h1.33v88h-1.33zM1657.02 928.7h1.33v88h-1.33zM1658.98 928.7h1.33v88h-1.33zM1659.96 928.7h1.33v88h-1.33zM1662.9 928.7h1.33v88h-1.33zM1669.78 928.7h1.33v88h-1.33zM1690.39 928.7h1.33v88h-1.33zM1696.28 928.7h1.33v88h-1.33zM1709.04 928.7h1.33v88h-1.33zM1725.73 928.7h1.33v88h-1.33zM1752.23 928.7h1.33v88h-1.33zM1754.19 928.7h1.33v88h-1.33zM1755.18 928.7h1.33v88h-1.33zM1791.5 928.7h1.33v88h-1.33zM1801.31 928.7h1.33v88h-1.33zM1811.13 928.7h1.33v88h-1.33zM1822.91 928.7h1.33v88h-1.33zM1845.48 928.7h1.33v88h-1.33zM1849.41 928.7h1.33v88h-1.33zM1864.14 928.7h1.33v88h-1.33zM1418.48 1016.7h1.33v88.3h-1.33zM1422.41 1016.7h1.33v88.3h-1.33zM1434.19 1016.7h1.33v88.3h-1.33zM1484.25 1016.7h1.33v88.3h-1.33zM1500.94 1016.7h1.33v88.3h-1.33zM1507.81 1016.7h1.33v88.3h-1.33zM1509.77 1016.7h1.33v88.3h-1.33zM1529.41 1016.7h1.33v88.3h-1.33zM1533.33 1016.7h1.33v88.3h-1.33zM1548.06 1016.7h1.33v88.3h-1.33zM1569.65 1016.7h1.33v88.3h-1.33zM1575.54 1016.7h1.33v88.3h-1.33zM1582.41 1016.7h1.33v88.3h-1.33zM1583.39 1016.7h1.33v88.3h-1.33zM1584.38 1016.7h1.33v88.3h-1.33zM1594.19 1016.7h1.33v88.3h-1.33zM1596.15 1016.7h1.33v88.3h-1.33zM1598.12 1016.7h1.33v88.3h-1.33zM1603.03 1016.7h1.33v88.3h-1.33zM1612.84 1016.7h1.33v88.3h-1.33zM1627.57 1016.7h1.33v88.3h-1.33zM1646.22 1016.7h1.33v88.3h-1.33zM1649.16 1016.7h1.33v88.3h-1.33zM1655.05 1016.7h1.33v88.3h-1.33zM1657.02 1016.7h1.33v88.3h-1.33zM1662.9 1016.7h1.33v88.3h-1.33zM1674.68 1016.7h1.33v88.3h-1.33zM1680.57 1016.7h1.33v88.3h-1.33zM1681.56 1016.7h1.33v88.3h-1.33zM1687.45 1016.7h1.33v88.3h-1.33zM1694.32 1016.7h1.33v88.3h-1.33zM1722.78 1016.7h1.33v88.3h-1.33zM1758.12 1016.7h1.33v88.3h-1.33zM1766.96 1016.7h1.33v88.3h-1.33zM1769.9 1016.7h1.33v88.3h-1.33zM1795.42 1016.7h1.33v88.3h-1.33zM1834.69 1016.7h1.33v88.3h-1.33zM1878.86 1016.7h1.33v88.3h-1.33z"/>
<path fill="#72FF72" d="M1537.26 752.6h1.33v88.1h-1.33zM1658.98 752.6h1.33v88.1h-1.33zM1669.78 752.6h1.33v88.1h-1.33zM1672.72 752.6h1.33v88.1h-1.33zM1701.19 752.6h1.33v88.1h-1.33zM1704.13 752.6h1.33v88.1h-1.33zM1705.11 752.6h1.33v88.1h-1.33zM1730.64 752.6h1.33v88.1h-1.33zM1745.36 752.6h1.33v88.1h-1.33zM1748.31 752.6h1.33v88.1h-1.33zM1814.07 752.6h1.33v88.1h-1.33zM1843.52 752.6h1.33v88.1h-1.33zM1844.5 752.6h1.33v88.1h-1.33zM1845.48 752.6h1.33v88.1h-1.33zM1849.41 752.6h1.33v88.1h-1.33zM1850.39 752.6h1.33v88.1h-1.33zM1855.3 752.6h1.33v88.1h-1.33zM1901.44 752.6h1.33v88.1h-1.33zM1631.49 840.7h1.33v88h-1.33zM1633.46 840.7h1.33v88h-1.33zM1646.22 840.7h1.33v88h-1.33zM1655.05 840.7h1.33v88h-1.33zM1659.96 840.7h1.33v88h-1.33zM1704.13 840.7h1.33v88h-1.33zM1706.1 840.7h1.33v88h-1.33zM1719.84 840.7h1.33v88h-1.33zM1799.35 840.7h1.33v88h-1.33zM1812.11 840.7h1.33v88h-1.33zM1838.61 840.7h1.33v88h-1.33zM1842.54 840.7h1.33v88h-1.33zM1861.19 840.7h1.33v88h-1.33zM1862.17 840.7h1.33v88h-1.33zM1871.99 840.7h1.33v88h-1.33zM1874.93 840.7h1.33v88h-1.33zM1875.91 840.7h1.33v88h-1.33zM1897.51 840.7h1.33v88h-1.33zM1381.18 928.7h1.33v88h-1.33zM1390.02 928.7h1.33v88h-1.33zM1400.81 928.7h1.33v88h-1.33zM1408.67 928.7h1.33v88h-1.33zM1419.46 928.7h1.33v88h-1.33zM1428.3 928.7h1.33v88h-1.33zM1437.13 928.7h1.33v88h-1.33zM1444.99 928.7h1.33v88h-1.33zM1463.64 928.7h1.33v88h-1.33zM1469.53 928.7h1.33v88h-1.33zM1486.21 928.7h1.33v88h-1.33zM1499.96 928.7h1.33v88h-1.33zM1512.72 928.7h1.33v88h-1.33zM1526.46 928.7h1.33v88h-1.33zM1565.72 928.7h1.33v88h-1.33zM1572.6 928.7h1.33v88h-1.33zM1588.3 928.7h1.33v88h-1.33zM1590.27 928.7h1.33v88h-1.33zM1595.17 928.7h1.33v88h-1.33zM1603.03 928.7h1.33v88h-1.33zM1606.95 928.7h1.33v88h-1.33zM1611.86 928.7h1.33v88h-1.33zM1658 928.7h1.33v88h-1.33zM1492.1 1016.7h1.33v88.3h-1.33zM1654.07 1016.7h1.33v88.3h-1.33zM1658 1016.7h1.33v88.3h-1.33zM1665.85 1016.7h1.33v88.3h-1.33zM1666.83 1016.7h1.33v88.3h-1.33zM1685.48 1016.7h1.33v88.3h-1.33zM1697.26 1016.7h1.33v88.3h-1.33zM1739.47 1016.7h1.33v88.3h-1.33zM1770.88 1016.7h1.33v88.3h-1.33zM1772.85 1016.7h1.33v88.3h-1.33zM1774.81 1016.7h1.33v88.3h-1.33zM1792.48 1016.7h1.33v88.3h-1.33zM1803.28 1016.7h1.33v88.3h-1.33zM1812.11 1016.7h1.33v88.3h-1.33zM1817.02 1016.7h1.33v88.3h-1.33zM1823.89 1016.7h1.33v88.3h-1.33zM1831.74 1016.7h1.33v88.3h-1.33zM1835.67 1016.7h1.33v88.3h-1.33zM1836.65 1016.7h1.33v88.3h-1.33zM1859.23 1016.7h1.33v88.3h-1.33zM1861.19 1016.7h1.33v88.3h-1.33zM1862.17 1016.7h1.33v88.3h-1.33zM1866.1 1016.7h1.33v88.3h-1.33zM1867.08 1016.7h1.33v88.3h-1.33zM1887.69 1016.7h1.33v88.3h-1.33zM1894.57 1016.7h1.33v88.3h-1.33z"/>
<path fill="#15FF15" d="M1596.15 752.6h1.33v88.1h-1.33zM1716.89 752.6h1.33v88.1h-1.33zM1722.78 752.6h1.33v88.1h-1.33zM1771.86 752.6h1.33v88.1h-1.33zM1802.29 752.6h1.33v88.1h-1.33zM1809.17 752.6h1.33v88.1h-1.33zM1810.15 752.6h1.33v88.1h-1.33zM1822.91 752.6h1.33v88.1h-1.33zM1839.6 752.6h1.33v88.1h-1.33zM1841.56 752.6h1.33v88.1h-1.33zM1846.47 752.6h1.33v88.1h-1.33zM1853.34 752.6h1.33v88.1h-1.33zM1857.26 752.6h1.33v88.1h-1.33zM1871.99 752.6h1.33v88.1h-1.33zM1879.84 752.6h1.33v88.1h-1.33zM1881.8 752.6h1.33v88.1h-1.33zM1886.71 752.6h1.33v88.1h-1.33zM1887.69 752.6h1.33v88.1h-1.33zM1894.57 752.6h1.33v88.1h-1.33zM1652.11 840.7h1.33v88h-1.33zM1763.03 840.7h1.33v88h-1.33zM1786.59 840.7h1.33v88h-1.33zM1805.24 840.7h1.33v88h-1.33zM1831.74 840.7h1.33v88h-1.33zM1885.73 840.7h1.33v88h-1.33zM1422.41 928.7h1.33v88h-1.33zM1477.38 928.7h1.33v88h-1.33zM1502.9 928.7h1.33v88h-1.33zM1539.22 928.7h1.33v88h-1.33zM1685.48 928.7h1.33v88h-1.33zM1691.37 928.7h1.33v88h-1.33zM1432.23 1016.7h1.33v88.3h-1.33zM1607.93 1016.7h1.33v88.3h-1.33zM1653.09 1016.7h1.33v88.3h-1.33zM1711 1016.7h1.33v88.3h-1.33zM1719.84 1016.7h1.33v88.3h-1.33zM1743.4 1016.7h1.33v88.3h-1.33zM1753.21 1016.7h1.33v88.3h-1.33zM1813.09 1016.7h1.33v88.3h-1.33zM1821.93 1016.7h1.33v88.3h-1.33zM1844.5 1016.7h1.33v88.3h-1.33zM1856.28 1016.7h1.33v88.3h-1.33zM1860.21 1016.7h1.33v88.3h-1.33zM1882.79 1016.7h1.33v88.3h-1.33zM1883.77 1016.7h1.33v88.3h-1.33z"/>
<path fill="#92FF92" d="M1614.81 752.6h1.33v88.1h-1.33zM1626.58 752.6h1.33v88.1h-1.33zM1629.53 752.6h1.33v88.1h-1.33zM1646.22 752.6h1.33v88.1h-1.33zM1654.07 752.6h1.33v88.1h-1.33zM1660.94 752.6h1.33v88.1h-1.33zM1665.85 752.6h1.33v88.1h-1.33zM1676.65 752.6h1.33v88.1h-1.33zM1710.02 752.6h1.33v88.1h-1.33zM1737.51 752.6h1.33v88.1h-1.33zM1740.45 752.6h1.33v88.1h-1.33zM1753.21 752.6h1.33v88.1h-1.33zM1764.01 752.6h1.33v88.1h-1.33zM1764.99 752.6h1.33v88.1h-1.33zM1767.94 752.6h1.33v88.1h-1.33zM1772.85 752.6h1.33v88.1h-1.33zM1773.83 752.6h1.33v88.1h-1.33zM1774.81 752.6h1.33v88.1h-1.33zM1777.75 752.6h1.33v88.1h-1.33zM1792.48 752.6h1.33v88.1h-1.33zM1798.37 752.6h1.33v88.1h-1.33zM1801.31 752.6h1.33v88.1h-1.33zM1811.13 752.6h1.33v88.1h-1.33zM1816.04 752.6h1.33v88.1h-1.33zM1818 752.6h1.33v88.1h-1.33zM1825.85 752.6h1.33v88.1h-1.33zM1856.28 752.6h1.33v88.1h-1.33zM1865.12 752.6h1.33v88.1h-1.33zM1867.08 752.6h1.33v88.1h-1.33zM1869.04 752.6h1.33v88.1h-1.33zM1888.68 752.6h1.33v88.1h-1.33zM1429.28 840.7h1.33v88h-1.33zM1447.93 840.7h1.33v88h-1.33zM1494.07 840.7h1.33v88h-1.33zM1553.95 840.7h1.33v88h-1.33zM1605.97 840.7h1.33v88h-1.33zM1612.84 840.7h1.33v88h-1.33zM1677.63 840.7h1.33v88h-1.33zM1678.61 840.7h1.33v88h-1.33zM1690.39 840.7h1.33v88h-1.33zM1694.32 840.7h1.33v88h-1.33zM1699.22 840.7h1.33v88h-1.33zM1731.62 840.7h1.33v88h-1.33zM1735.54 840.7h1.33v88h-1.33zM1781.68 840.7h1.33v88h-1.33zM1791.5 840.7h1.33v88h-1.33zM1813.09 840.7h1.33v88h-1.33zM1847.45 840.7h1.33v88h-1.33zM1866.1 840.7h1.33v88h-1.33zM1870.03 840.7h1.33v88h-1.33zM1871.01 840.7h1.33v88h-1.33zM1883.77 840.7h1.33v88h-1.33zM1889.66 840.7h1.33v88h-1.33zM1382.16 928.7h1.33v88h-1.33zM1394.92 928.7h1.33v88h-1.33zM1396.89 928.7h1.33v88h-1.33zM1402.78 928.7h1.33v88h-1.33zM1410.63 928.7h1.33v88h-1.33zM1418.48 928.7h1.33v88h-1.33zM1431.24 928.7h1.33v88h-1.33zM1440.08 928.7h1.33v88h-1.33zM1444 928.7h1.33v88h-1.33zM1460.69 928.7h1.33v88h-1.33zM1467.56 928.7h1.33v88h-1.33zM1488.18 928.7h1.33v88h-1.33zM1493.09 928.7h1.33v88h-1.33zM1511.74 928.7h1.33v88h-1.33zM1531.37 928.7h1.33v88h-1.33zM1540.2 928.7h1.33v88h-1.33zM1551 928.7h1.33v88h-1.33zM1552.96 928.7h1.33v88h-1.33zM1559.84 928.7h1.33v88h-1.33zM1575.54 928.7h1.33v88h-1.33zM1592.23 928.7h1.33v88h-1.33zM1594.19 928.7h1.33v88h-1.33zM1598.12 928.7h1.33v88h-1.33zM1616.77 928.7h1.33v88h-1.33zM1632.47 928.7h1.33v88h-1.33zM1638.36 928.7h1.33v88h-1.33zM1654.07 928.7h1.33v88h-1.33zM1675.67 928.7h1.33v88h-1.33zM1676.65 928.7h1.33v88h-1.33zM1678.61 928.7h1.33v88h-1.33zM1679.59 928.7h1.33v88h-1.33zM1694.32 928.7h1.33v88h-1.33zM1444.99 1016.7h1.33v88.3h-1.33zM1547.07 1016.7h1.33v88.3h-1.33zM1549.04 1016.7h1.33v88.3h-1.33zM1614.81 1016.7h1.33v88.3h-1.33zM1616.77 1016.7h1.33v88.3h-1.33zM1637.38 1016.7h1.33v88.3h-1.33zM1650.14 1016.7h1.33v88.3h-1.33zM1656.03 1016.7h1.33v88.3h-1.33zM1696.28 1016.7h1.33v88.3h-1.33zM1704.13 1016.7h1.33v88.3h-1.33zM1705.11 1016.7h1.33v88.3h-1.33zM1707.08 1016.7h1.33v88.3h-1.33zM1709.04 1016.7h1.33v88.3h-1.33zM1712.97 1016.7h1.33v88.3h-1.33zM1720.82 1016.7h1.33v88.3h-1.33zM1732.6 1016.7h1.33v88.3h-1.33zM1740.45 1016.7h1.33v88.3h-1.33zM1745.36 1016.7h1.33v88.3h-1.33zM1749.29 1016.7h1.33v88.3h-1.33zM1757.14 1016.7h1.33v88.3h-1.33zM1764.99 1016.7h1.33v88.3h-1.33zM1781.68 1016.7h1.33v88.3h-1.33zM1786.59 1016.7h1.33v88.3h-1.33zM1797.39 1016.7h1.33v88.3h-1.33zM1805.24 1016.7h1.33v88.3h-1.33zM1806.22 1016.7h1.33v88.3h-1.33zM1808.18 1016.7h1.33v88.3h-1.33zM1815.05 1016.7h1.33v88.3h-1.33zM1816.04 1016.7h1.33v88.3h-1.33zM1827.82 1016.7h1.33v88.3h-1.33zM1838.61 1016.7h1.33v88.3h-1.33zM1843.52 1016.7h1.33v88.3h-1.33zM1848.43 1016.7h1.33v88.3h-1.33zM1851.37 1016.7h1.33v88.3h-1.33zM1869.04 1016.7h1.33v88.3h-1.33zM1889.66 1016.7h1.33v88.3h-1.33zM1901.44 1016.7h1.33v88.3h-1.33z"/>
<path fill="#53FF53" d="M1617.75 752.6h1.33v88.1h-1.33zM1695.3 752.6h1.33v88.1h-1.33zM1708.06 752.6h1.33v88.1h-1.33zM1723.76 752.6h1.33v88.1h-1.33zM1729.65 752.6h1.33v88.1h-1.33zM1732.6 752.6h1.33v88.1h-1.33zM1735.54 752.6h1.33v88.1h-1.33zM1749.29 752.6h1.33v88.1h-1.33zM1780.7 752.6h1.33v88.1h-1.33zM1799.35 752.6h1.33v88.1h-1.33zM1812.11 752.6h1.33v88.1h-1.33zM1828.8 752.6h1.33v88.1h-1.33zM1851.37 752.6h1.33v88.1h-1.33zM1852.36 752.6h1.33v88.1h-1.33zM1859.23 752.6h1.33v88.1h-1.33zM1891.62 752.6h1.33v88.1h-1.33zM1722.78 840.7h1.33v88h-1.33zM1724.75 840.7h1.33v88h-1.33zM1730.64 840.7h1.33v88h-1.33zM1743.4 840.7h1.33v88h-1.33zM1766.96 840.7h1.33v88h-1.33zM1774.81 840.7h1.33v88h-1.33zM1796.4 840.7h1.33v88h-1.33zM1800.33 840.7h1.33v88h-1.33zM1815.05 840.7h1.33v88h-1.33zM1817.02 840.7h1.33v88h-1.33zM1821.93 840.7h1.33v88h-1.33zM1822.91 840.7h1.33v88h-1.33zM1833.71 840.7h1.33v88h-1.33zM1848.43 840.7h1.33v88h-1.33zM1850.39 840.7h1.33v88h-1.33zM1856.28 840.7h1.33v88h-1.33zM1860.21 840.7h1.33v88h-1.33zM1863.15 840.7h1.33v88h-1.33zM1864.14 840.7h1.33v88h-1.33zM1869.04 840.7h1.33v88h-1.33zM1425.35 928.7h1.33v88h-1.33zM1474.43 928.7h1.33v88h-1.33zM1475.42 928.7h1.33v88h-1.33zM1527.44 928.7h1.33v88h-1.33zM1528.42 928.7h1.33v88h-1.33zM1533.33 928.7h1.33v88h-1.33zM1587.32 928.7h1.33v88h-1.33zM1591.25 928.7h1.33v88h-1.33zM1643.27 928.7h1.33v88h-1.33zM1689.41 928.7h1.33v88h-1.33zM1617.75 1016.7h1.33v88.3h-1.33zM1642.29 1016.7h1.33v88.3h-1.33zM1668.79 1016.7h1.33v88.3h-1.33zM1671.74 1016.7h1.33v88.3h-1.33zM1678.61 1016.7h1.33v88.3h-1.33zM1699.22 1016.7h1.33v88.3h-1.33zM1728.67 1016.7h1.33v88.3h-1.33zM1751.25 1016.7h1.33v88.3h-1.33zM1755.18 1016.7h1.33v88.3h-1.33zM1756.16 1016.7h1.33v88.3h-1.33zM1760.08 1016.7h1.33v88.3h-1.33zM1761.07 1016.7h1.33v88.3h-1.33zM1764.01 1016.7h1.33v88.3h-1.33zM1778.74 1016.7h1.33v88.3h-1.33zM1779.72 1016.7h1.33v88.3h-1.33zM1782.66 1016.7h1.33v88.3h-1.33zM1785.61 1016.7h1.33v88.3h-1.33zM1801.31 1016.7h1.33v88.3h-1.33zM1807.2 1016.7h1.33v88.3h-1.33zM1818 1016.7h1.33v88.3h-1.33zM1819.96 1016.7h1.33v88.3h-1.33zM1820.94 1016.7h1.33v88.3h-1.33zM1822.91 1016.7h1.33v88.3h-1.33zM1830.76 1016.7h1.33v88.3h-1.33zM1833.71 1016.7h1.33v88.3h-1.33zM1842.54 1016.7h1.33v88.3h-1.33zM1846.47 1016.7h1.33v88.3h-1.33zM1855.3 1016.7h1.33v88.3h-1.33zM1858.25 1016.7h1.33v88.3h-1.33zM1863.15 1016.7h1.33v88.3h-1.33zM1868.06 1016.7h1.33v88.3h-1.33zM1886.71 1016.7h1.33v88.3h-1.33z"/>
<path fill="#34FF34" d="M1641.31 752.6h1.33v88.1h-1.33zM1692.35 752.6h1.33v88.1h-1.33zM1743.4 752.6h1.33v88.1h-1.33zM1752.23 752.6h1.33v88.1h-1.33zM1795.42 752.6h1.33v88.1h-1.33zM1800.33 752.6h1.33v88.1h-1.33zM1835.67 752.6h1.33v88.1h-1.33zM1871.01 752.6h1.33v88.1h-1.33zM1873.95 752.6h1.33v88.1h-1.33zM1885.73 752.6h1.33v88.1h-1.33zM1895.55 752.6h1.33v88.1h-1.33zM1739.47 840.7h1.33v88h-1.33zM1761.07 840.7h1.33v88h-1.33zM1808.18 840.7h1.33v88h-1.33zM1818 840.7h1.33v88h-1.33zM1826.83 840.7h1.33v88h-1.33zM1827.82 840.7h1.33v88h-1.33zM1845.48 840.7h1.33v88h-1.33zM1853.34 840.7h1.33v88h-1.33zM1854.32 840.7h1.33v88h-1.33zM1855.3 840.7h1.33v88h-1.33zM1865.12 840.7h1.33v88h-1.33zM1867.08 840.7h1.33v88h-1.33zM1868.06 840.7h1.33v88h-1.33zM1881.8 840.7h1.33v88h-1.33zM1893.58 840.7h1.33v88h-1.33zM1895.55 840.7h1.33v88h-1.33zM1901.44 840.7h1.33v88h-1.33zM1902.42 840.7h0.98v88h-0.98zM1401.8 928.7h1.33v88h-1.33zM1411.61 928.7h1.33v88h-1.33zM1420.45 928.7h1.33v88h-1.33zM1446.95 928.7h1.33v88h-1.33zM1448.91 928.7h1.33v88h-1.33zM1459.71 928.7h1.33v88h-1.33zM1480.32 928.7h1.33v88h-1.33zM1490.14 928.7h1.33v88h-1.33zM1513.7 928.7h1.33v88h-1.33zM1515.66 928.7h1.33v88h-1.33zM1536.28 928.7h1.33v88h-1.33zM1646.22 928.7h1.33v88h-1.33zM1673.7 1016.7h1.33v88.3h-1.33zM1698.24 1016.7h1.33v88.3h-1.33zM1726.71 1016.7h1.33v88.3h-1.33zM1741.43 1016.7h1.33v88.3h-1.33zM1748.31 1016.7h1.33v88.3h-1.33zM1750.27 1016.7h1.33v88.3h-1.33zM1765.97 1016.7h1.33v88.3h-1.33zM1767.94 1016.7h1.33v88.3h-1.33zM1768.92 1016.7h1.33v88.3h-1.33zM1777.75 1016.7h1.33v88.3h-1.33zM1789.53 1016.7h1.33v88.3h-1.33zM1804.26 1016.7h1.33v88.3h-1.33zM1809.17 1016.7h1.33v88.3h-1.33zM1825.85 1016.7h1.33v88.3h-1.33zM1849.41 1016.7h1.33v88.3h-1.33zM1853.34 1016.7h1.33v88.3h-1.33zM1857.26 1016.7h1.33v88.3h-1.33zM1864.14 1016.7h1.33v88.3h-1.33zM1875.91 1016.7h1.33v88.3h-1.33zM1895.55 1016.7h1.33v88.3h-1.33z"/>
<path fill="#00FF00" d="M1693.33 752.6h1.33v88.1h-1.33zM1754.19 752.6h1.33v88.1h-1.33zM1796.4 752.6h1.33v88.1h-1.33zM1823.89 752.6h1.33v88.1h-1.33zM1833.71 752.6h1.33v88.1h-1.33zM1834.69 752.6h1.33v88.1h-1.33zM1847.45 752.6h1.33v88.1h-1.33zM1868.06 752.6h1.33v88.1h-1.33zM1872.97 752.6h1.33v88.1h-1.33zM1880.82 752.6h1.33v88.1h-1.33zM1882.79 752.6h1.33v88.1h-1.33zM1707.08 840.7h1.33v88h-1.33zM1797.39 840.7h1.33v88h-1.33zM1802.29 840.7h1.33v88h-1.33zM1829.78 840.7h1.33v88h-1.33zM1884.75 840.7h1.33v88h-1.33zM1476.4 928.7h1.33v88h-1.33zM1547.07 928.7h1.33v88h-1.33zM1650.14 928.7h1.33v88h-1.33zM1667.81 928.7h1.33v88h-1.33zM1634.44 1016.7h1.33v88.3h-1.33zM1644.25 1016.7h1.33v88.3h-1.33zM1788.55 1016.7h1.33v88.3h-1.33zM1837.63 1016.7h1.33v88.3h-1.33zM1873.95 1016.7h1.33v88.3h-1.33zM1879.84 1016.7h1.33v88.3h-1.33zM1893.58 1016.7h1.33v88.3h-1.33zM1897.51 1016.7h1.33v88.3h-1.33z"/>
<path fill="#00FF00" d="M1758.12 752.6h1.33v88.1h-1.33zM1821.93 752.6h1.33v88.1h-1.33zM1826.83 752.6h1.33v88.1h-1.33zM1840.58 752.6h1.33v88.1h-1.33zM1858.25 752.6h1.33v88.1h-1.33zM1863.15 752.6h1.33v88.1h-1.33zM1870.03 752.6h1.33v88.1h-1.33zM1875.91 752.6h1.33v88.1h-1.33zM1889.66 752.6h1.33v88.1h-1.33zM1890.64 752.6h1.33v88.1h-1.33zM1669.78 840.7h1.33v88h-1.33zM1784.62 840.7h1.33v88h-1.33zM1873.95 840.7h1.33v88h-1.33zM1880.82 840.7h1.33v88h-1.33zM1882.79 840.7h1.33v88h-1.33zM1898.49 840.7h1.33v88h-1.33zM1395.91 928.7h1.33v88h-1.33zM1687.45 928.7h1.33v88h-1.33zM1701.19 1016.7h1.33v88.3h-1.33zM1734.56 1016.7h1.33v88.3h-1.33zM1754.19 1016.7h1.33v88.3h-1.33zM1773.83 1016.7h1.33v88.3h-1.33zM1775.79 1016.7h1.33v88.3h-1.33zM1783.64 1016.7h1.33v88.3h-1.33zM1784.62 1016.7h1.33v88.3h-1.33zM1791.5 1016.7h1.33v88.3h-1.33zM1794.44 1016.7h1.33v88.3h-1.33zM1870.03 1016.7h1.33v88.3h-1.33zM1871.01 1016.7h1.33v88.3h-1.33zM1874.93 1016.7h1.33v88.3h-1.33z"/>
<path fill="#00FF00" d="M1776.77 752.6h1.33v88.1h-1.33zM1794.44 752.6h1.33v88.1h-1.33zM1824.87 752.6h1.33v88.1h-1.33zM1832.72 752.6h1.33v88.1h-1.33zM1878.86 752.6h1.33v88.1h-1.33zM1902.42 752.6h0.98v88.1h-0.98zM1844.5 840.7h1.33v88h-1.33zM1888.68 840.7h1.33v88h-1.33zM1892.6 840.7h1.33v88h-1.33zM1900.46 840.7h1.33v88h-1.33zM1445.97 928.7h1.33v88h-1.33zM1582.41 928.7h1.33v88h-1.33zM1619.71 928.7h1.33v88h-1.33zM1642.29 928.7h1.33v88h-1.33zM1669.78 1016.7h1.33v88.3h-1.33zM1730.64 1016.7h1.33v88.3h-1.33zM1818.98 1016.7h1.33v88.3h-1.33zM1841.56 1016.7h1.33v88.3h-1.33zM1900.46 1016.7h1.33v88.3h-1.33z"/>
<path fill="#00FF00" d="M1819.96 752.6h1.33v88.1h-1.33zM1860.21 752.6h1.33v88.1h-1.33zM1749.29 840.7h1.33v88h-1.33zM1849.41 840.7h1.33v88h-1.33zM1872.97 840.7h1.33v88h-1.33zM1896.53 840.7h1.33v88h-1.33zM1386.09 928.7h1.33v88h-1.33zM1470.51 928.7h1.33v88h-1.33zM1510.75 928.7h1.33v88h-1.33zM1523.52 928.7h1.33v88h-1.33zM1670.76 1016.7h1.33v88.3h-1.33zM1759.1 1016.7h1.33v88.3h-1.33zM1790.51 1016.7h1.33v88.3h-1.33zM1852.36 1016.7h1.33v88.3h-1.33zM1884.75 1016.7h1.33v88.3h-1.33zM1885.73 1016.7h1.33v88.3h-1.33z"/>
<path fill="#00FF00" d="M1854.32 752.6h1.33v88.1h-1.33zM1500.94 928.7h1.33v88h-1.33z"/>
<path fill="#00FF00" d="M1862.17 752.6h1.33v88.1h-1.33zM1902.42 1016.7h0.98v88.3h-0.98z"/>
<path fill="#00FF00" d="M1897.51 752.6h1.33v88.1h-1.33zM1804.26 840.7h1.33v88h-1.33zM1843.52 840.7h1.33v88h-1.33zM1899.47 840.7h1.33v88h-1.33zM1403.76 928.7h1.33v88h-1.33zM1664.87 1016.7h1.33v88.3h-1.33zM1695.3 1016.7h1.33v88.3h-1.33zM1793.46 1016.7h1.33v88.3h-1.33zM1829.78 1016.7h1.33v88.3h-1.33z"/>
<path fill="#00FF00" d="M1900.46 752.6h1.33v88.1h-1.33zM1881.8 1016.7h1.33v88.3h-1.33z"/>
<path fill="#FF0000" d="M1391.98 840.7h1.33v88h-1.33z"/>
<path fill="#00FF00" d="M1879.84 840.7h1.33v88h-1.33zM1894.57 840.7h1.33v88h-1.33z"/>
<path fill="#00FF00" d="M1887.69 840.7h1.33v88h-1.33zM1414.56 928.7h1.33v88h-1.33zM1432.23 928.7h1.33v88h-1.33zM1578.49 928.7h1.33v88h-1.33zM1625.6 928.7h1.33v88h-1.33zM1787.57 1016.7h1.33v88.3h-1.33z"/>
<path fill="#00FF00" d="M1890.64 840.7h1.33v88h-1.33z"/>
<path fill="#FF0000" d="M1554.93 1016.7h1.33v88.3h-1.33z"/>
<path fill="#00FF00" d="M1700.21 1016.7h1.33v88.3h-1.33z"/>
<rect x="1380.2" y="739.2" width="225.77" height="9.1" fill="#FA8A82"/>
<rect x="1605.97" y="739.2" width="297.43" height="9.1" fill="#00D7DF"/>
<text x="1907.1" y="746.9" font-size="9.5" font-weight="bold">type</text>
<text x="1907.1" y="800.35" font-size="10.4">ITGA6</text>
<text x="1907.1" y="888.4" font-size="10.4">AR</text>
<text x="1907.1" y="976.4" font-size="10.4">PLK1</text>
<text x="1907.1" y="1064.55" font-size="10.4">IRF6</text>
<rect x="1945.3" y="737.7" width="12" height="4.76" fill="#FF0000"/>
<rect x="1945.3" y="741.66" width="12" height="4.76" fill="#FF0000"/>
<rect x="1945.3" y="745.63" width="12" height="4.76" fill="#FF0000"/>
<rect x="1945.3" y="749.59" width="12" height="4.76" fill="#FF0000"/>
<rect x="1945.3" y="753.56" width="12" height="4.76" fill="#FF0000"/>
<rect x="1945.3" y="757.52" width="12" height="4.76" fill="#FF0000"/>
<rect x="1945.3" y="761.48" width="12" height="4.76" fill="#FF0000"/>
<rect x="1945.3" y="765.45" width="12" height="4.76" fill="#FF0000"/>
<rect x="1945.3" y="769.41" width="12" height="4.76" fill="#FF0000"/>
<rect x="1945.3" y="773.38" width="12" height="4.76" fill="#FF0000"/>
<rect x="1945.3" y="777.34" width="12" height="4.76" fill="#FF0000"/>
<rect x="1945.3" y="781.3" width="12" height="4.76" fill="#FF0000"/>
<rect x="1945.3" y="785.27" width="12" height="4.76" fill="#FF0000"/>
<rect x="1945.3" y="789.23" width="12" height="4.76" fill="#FF0000"/>
<rect x="1945.3" y="793.2" width="12" height="4.76" fill="#FF0000"/>
<rect x="1945.3" y="797.16" width="12" height="4.76" fill="#FF0000"/>
<rect x="1945.3" y="801.12" width="12" height="4.76" fill="#FF0000"/>
<rect x="1945.3" y="805.09" width="12" height="4.76" fill="#FF1515"/>
<rect x="1945.3" y="809.05" width="12" height="4.76" fill="#FF3434"/>
<rect x="1945.3" y="813.02" width="12" height="4.76" fill="#FF5353"/>
<rect x="1945.3" y="816.98" width="12" height="4.76" fill="#FF7272"/>
<rect x="1945.3" y="820.94" width="12" height="4.76" fill="#FF9292"/>
<rect x="1945.3" y="824.91" width="12" height="4.76" fill="#FFB1B1"/>
<rect x="1945.3" y="828.87" width="12" height="4.76" fill="#FFD0D0"/>
<rect x="1945.3" y="832.84" width="12" height="4.76" fill="#FFEFEF"/>
<rect x="1945.3" y="836.8" width="12" height="4.76" fill="#EFFFEF"/>
<rect x="1945.3" y="840.76" width="12" height="4.76" fill="#D0FFD0"/>
<rect x="1945.3" y="844.73" width="12" height="4.76" fill="#B1FFB1"/>
<rect x="1945.3" y="848.69" width="12" height="4.76" fill="#92FF92"/>
<rect x="1945.3" y="852.66" width="12" height="4.76" fill="#72FF72"/>
<rect x="1945.3" y="856.62" width="12" height="4.76" fill="#53FF53"/>
<rect x="1945.3" y="860.58" width="12" height="4.76" fill="#34FF34"/>
<rect x="1945.3" y="864.55" width="12" height="4.76" fill="#15FF15"/>
<rect x="1945.3" y="868.51" width="12" height="4.76" fill="#00FF00"/>
<rect x="1945.3" y="872.48" width="12" height="4.76" fill="#00FF00"/>
<rect x="1945.3" y="876.44" width="12" height="4.76" fill="#00FF00"/>
<rect x="1945.3" y="880.4" width="12" height="4.76" fill="#00FF00"/>
<rect x="1945.3" y="884.37" width="12" height="4.76" fill="#00FF00"/>
<rect x="1945.3" y="888.33" width="12" height="4.76" fill="#00FF00"/>
<rect x="1945.3" y="892.3" width="12" height="4.76" fill="#00FF00"/>
<rect x="1945.3" y="896.26" width="12" height="4.76" fill="#00FF00"/>
<rect x="1945.3" y="900.22" width="12" height="4.76" fill="#00FF00"/>
<rect x="1945.3" y="904.19" width="12" height="4.76" fill="#00FF00"/>
<rect x="1945.3" y="908.15" width="12" height="4.76" fill="#00FF00"/>
<rect x="1945.3" y="912.12" width="12" height="4.76" fill="#00FF00"/>
<rect x="1945.3" y="916.08" width="12" height="4.76" fill="#00FF00"/>
<rect x="1945.3" y="920.04" width="12" height="4.76" fill="#00FF00"/>
<rect x="1945.3" y="924.01" width="12" height="4.76" fill="#00FF00"/>
<rect x="1945.3" y="927.97" width="12" height="4.76" fill="#00FF00"/>
<rect x="1945.3" y="931.94" width="12" height="3.96" fill="#00FF00"/>
<text x="1962.1" y="767.8" font-size="9.5">4</text>
<text x="1962.1" y="804.4" font-size="9.5">2</text>
<text x="1962.1" y="840.5" font-size="9.5">0</text>
<text x="1962.1" y="877.1" font-size="9.5">−2</text>
<text x="1962.1" y="913.3" font-size="9.5">−4</text>
<text x="1973.4" y="743.5" font-size="9.5" font-weight="bold">type</text>
<rect x="1973.4" y="748.2" width="12.3" height="12.6" fill="#00D7DF"/>
<rect x="1973.4" y="760.8" width="12.3" height="13.2" fill="#FA8A82"/>
<text x="1988.6" y="757.8" font-size="9.5">high</text>
<text x="1988.6" y="770.8" font-size="9.5">low</text>
<path fill="#FF0000" fill-opacity="0.3" d="M1498.85 1248.05L1502.67 1248.05L1502.67 1250.83L1506.49 1250.83L1506.49 1253.61L1510.32 1253.61L1510.32 1256.39L1514.14 1256.39L1514.14 1259.34L1517.96 1259.34L1517.96 1262.28L1521.78 1262.28L1521.78 1265.22L1524.84 1265.22L1524.84 1267.68L1527.9 1267.68L1527.9 1270.13L1530.95 1270.13L1530.95 1272.59L1534.01 1272.59L1534.01 1275.04L1537.07 1275.04L1537.07 1277.49L1540.26 1277.49L1540.26 1278.88L1543.44 1278.88L1543.44 1280.27L1546.63 1280.27L1546.63 1281.66L1549.81 1281.66L1549.81 1283.05L1553 1283.05L1553 1284.44L1556.18 1284.44L1556.18 1285.83L1559.37 1285.83L1559.37 1286.9L1562.55 1286.9L1562.55 1287.96L1565.74 1287.96L1565.74 1289.02L1568.92 1289.02L1568.92 1290.09L1572.11 1290.09L1572.11 1291.15L1575.29 1291.15L1575.29 1292.21L1578.48 1292.21L1578.48 1294.16L1581.66 1294.16L1581.66 1296.1L1584.85 1296.1L1584.85 1298.04L1588.03 1298.04L1588.03 1299.98L1591.22 1299.98L1591.22 1301.92L1594.4 1301.92L1594.4 1303.87L1597.59 1303.87L1597.59 1305.24L1600.77 1305.24L1600.77 1306.61L1603.96 1306.61L1603.96 1307.98L1607.14 1307.98L1607.14 1309.35L1610.33 1309.35L1610.33 1310.72L1613.51 1310.72L1613.51 1312.09L1616.7 1312.09L1616.7 1313.46L1619.88 1313.46L1619.88 1314.83L1623.07 1314.83L1623.07 1316.2L1626.25 1316.2L1626.25 1317.57L1629.44 1317.57L1629.44 1318.94L1632.62 1318.94L1632.62 1320.31L1635.81 1320.31L1635.81 1322L1638.99 1322L1638.99 1323.7L1642.18 1323.7L1642.18 1325.4L1645.36 1325.4L1645.36 1327.09L1648.55 1327.09L1648.55 1328.79L1651.73 1328.79L1651.73 1330.49L1655.55 1330.49L1655.55 1332.74L1659.37 1332.74L1659.37 1334.99L1663.2 1334.99L1663.2 1337.23L1667.02 1337.23L1667.02 1343.25L1670.84 1343.25L1670.84 1349.26L1674.03 1349.26L1674.03 1350.01L1677.21 1350.01L1677.21 1350.77L1680.4 1350.77L1680.4 1351.53L1683.58 1351.53L1683.58 1352.28L1686.77 1352.28L1686.77 1353.04L1689.95 1353.04L1689.95 1353.8L1693.77 1353.8L1693.77 1355.88L1697.59 1355.88L1697.59 1357.97L1701.42 1357.97L1701.42 1360.06L1705.24 1360.06L1705.24 1362.35L1709.06 1362.35L1709.06 1364.65L1712.25 1364.65L1712.25 1364.74L1715.43 1364.74L1715.43 1364.83L1718.62 1364.83L1718.62 1364.92L1721.8 1364.92L1721.8 1365.01L1724.99 1365.01L1724.99 1365.1L1728.17 1365.1L1728.17 1365.2L1731.36 1365.2L1731.36 1366.43L1734.54 1366.43L1734.54 1367.67L1737.73 1367.67L1737.73 1368.9L1740.91 1368.9L1740.91 1370.14L1744.1 1370.14L1744.1 1371.38L1747.28 1371.38L1747.28 1372.61L1750.47 1372.61L1750.47 1372.66L1753.65 1372.66L1753.65 1372.71L1756.84 1372.71L1756.84 1372.76L1760.02 1372.76L1760.02 1372.81L1763.21 1372.81L1763.21 1372.86L1766.39 1372.86L1766.39 1372.91L1769.58 1372.91L1769.58 1373.21L1772.76 1373.21L1772.76 1373.51L1775.95 1373.51L1775.95 1373.8L1779.13 1373.8L1779.13 1374.1L1782.32 1374.1L1782.32 1374.39L1785.5 1374.39L1785.5 1374.69L1789.32 1374.69L1789.32 1378.09L1871.5 1378.09L1871.5 1378.09L1875.32 1378.09L1875.32 1377.84L1879.14 1377.84L1879.14 1382.99L1926.91 1382.99L1926.91 1446.78L1879.14 1446.78L1879.14 1431.82L1875.32 1431.82L1875.32 1416.11L1871.5 1416.11L1871.5 1416.11L1789.32 1416.11L1789.32 1412.29L1785.5 1412.29L1785.5 1411.64L1782.32 1411.64L1782.32 1410.99L1779.13 1410.99L1779.13 1410.34L1775.95 1410.34L1775.95 1409.69L1772.76 1409.69L1772.76 1409.05L1769.58 1409.05L1769.58 1408.4L1766.39 1408.4L1766.39 1407.99L1763.21 1407.99L1763.21 1407.59L1760.02 1407.59L1760.02 1407.18L1756.84 1407.18L1756.84 1406.78L1753.65 1406.78L1753.65 1406.37L1750.47 1406.37L1750.47 1405.97L1747.28 1405.97L1747.28 1404.38L1744.1 1404.38L1744.1 1402.79L1740.91 1402.79L1740.91 1401.2L1737.73 1401.2L1737.73 1399.61L1734.54 1399.61L1734.54 1398.02L1731.36 1398.02L1731.36 1396.43L1728.17 1396.43L1728.17 1395.99L1724.99 1395.99L1724.99 1395.54L1721.8 1395.54L1721.8 1395.09L1718.62 1395.09L1718.62 1394.65L1715.43 1394.65L1715.43 1394.2L1712.25 1394.2L1712.25 1393.76L1709.06 1393.76L1709.06 1391.04L1705.24 1391.04L1705.24 1388.32L1701.42 1388.32L1701.42 1385.81L1697.59 1385.81L1697.59 1383.3L1693.77 1383.3L1693.77 1380.78L1689.95 1380.78L1689.95 1379.82L1686.77 1379.82L1686.77 1378.86L1683.58 1378.86L1683.58 1377.9L1680.4 1377.9L1680.4 1376.94L1677.21 1376.94L1677.21 1375.98L1674.03 1375.98L1674.03 1375.02L1670.84 1375.02L1670.84 1368.76L1667.02 1368.76L1667.02 1362.51L1663.2 1362.51L1663.2 1360.01L1659.37 1360.01L1659.37 1357.52L1655.55 1357.52L1655.55 1355.02L1651.73 1355.02L1651.73 1353.12L1648.55 1353.12L1648.55 1351.22L1645.36 1351.22L1645.36 1349.32L1642.18 1349.32L1642.18 1347.42L1638.99 1347.42L1638.99 1345.52L1635.81 1345.52L1635.81 1343.61L1632.62 1343.61L1632.62 1342.04L1629.44 1342.04L1629.44 1340.47L1626.25 1340.47L1626.25 1338.89L1623.07 1338.89L1623.07 1337.32L1619.88 1337.32L1619.88 1335.74L1616.7 1335.74L1616.7 1334.17L1613.51 1334.17L1613.51 1332.59L1610.33 1332.59L1610.33 1331.02L1607.14 1331.02L1607.14 1329.44L1603.96 1329.44L1603.96 1327.87L1600.77 1327.87L1600.77 1326.3L1597.59 1326.3L1597.59 1324.72L1594.4 1324.72L1594.4 1322.58L1591.22 1322.58L1591.22 1320.43L1588.03 1320.43L1588.03 1318.28L1584.85 1318.28L1584.85 1316.13L1581.66 1316.13L1581.66 1313.99L1578.48 1313.99L1578.48 1311.84L1575.29 1311.84L1575.29 1309.96L1572.11 1309.96L1572.11 1308.08L1568.92 1308.08L1568.92 1306.2L1565.74 1306.2L1565.74 1304.32L1562.55 1304.32L1562.55 1302.44L1559.37 1302.44L1559.37 1300.55L1556.18 1300.55L1556.18 1298.35L1553 1298.35L1553 1296.14L1549.81 1296.14L1549.81 1293.93L1546.63 1293.93L1546.63 1291.72L1543.44 1291.72L1543.44 1289.51L1540.26 1289.51L1540.26 1287.31L1537.07 1287.31L1537.07 1284.07L1534.01 1284.07L1534.01 1280.83L1530.95 1280.83L1530.95 1277.59L1527.9 1277.59L1527.9 1274.35L1524.84 1274.35L1524.84 1271.11L1521.78 1271.11L1521.78 1267.19L1517.96 1267.19L1517.96 1263.26L1514.14 1263.26L1514.14 1259.34L1510.32 1259.34L1510.32 1255.57L1506.49 1255.57L1506.49 1251.81L1502.67 1251.81L1502.67 1248.05L1498.85 1248.05Z"/>
<path fill="#0000FF" fill-opacity="0.3" d="M1498.85 1248.05L1502.67 1248.05L1502.67 1248.5L1506.49 1248.5L1506.49 1248.95L1510.32 1248.95L1510.32 1249.4L1514.14 1249.4L1514.14 1250.01L1517.96 1250.01L1517.96 1250.63L1521.78 1250.63L1521.78 1251.24L1524.97 1251.24L1524.97 1251.34L1528.15 1251.34L1528.15 1251.44L1531.34 1251.44L1531.34 1251.55L1534.52 1251.55L1534.52 1251.65L1537.71 1251.65L1537.71 1251.75L1540.89 1251.75L1540.89 1251.85L1544.71 1251.85L1544.71 1253.2L1548.54 1253.2L1548.54 1254.55L1552.36 1254.55L1552.36 1255.9L1556.18 1255.9L1556.18 1257.25L1559.37 1257.25L1559.37 1257.56L1562.55 1257.56L1562.55 1257.86L1565.74 1257.86L1565.74 1258.17L1568.92 1258.17L1568.92 1258.48L1572.11 1258.48L1572.11 1258.78L1575.29 1258.78L1575.29 1259.09L1578.48 1259.09L1578.48 1260.17L1581.66 1260.17L1581.66 1261.26L1584.85 1261.26L1584.85 1262.34L1588.03 1262.34L1588.03 1263.43L1591.22 1263.43L1591.22 1264.51L1594.4 1264.51L1594.4 1265.59L1597.59 1265.59L1597.59 1266.35L1600.77 1266.35L1600.77 1267.11L1603.96 1267.11L1603.96 1267.86L1607.14 1267.86L1607.14 1268.62L1610.33 1268.62L1610.33 1269.38L1613.51 1269.38L1613.51 1270.13L1616.7 1270.13L1616.7 1270.93L1619.88 1270.93L1619.88 1271.73L1623.07 1271.73L1623.07 1272.52L1626.25 1272.52L1626.25 1273.32L1629.44 1273.32L1629.44 1274.12L1632.62 1274.12L1632.62 1274.92L1635.81 1274.92L1635.81 1275.59L1638.99 1275.59L1638.99 1276.27L1642.18 1276.27L1642.18 1276.94L1645.36 1276.94L1645.36 1277.61L1648.55 1277.61L1648.55 1278.29L1651.73 1278.29L1651.73 1278.96L1654.92 1278.96L1654.92 1279.43L1658.1 1279.43L1658.1 1279.9L1661.29 1279.9L1661.29 1280.37L1664.47 1280.37L1664.47 1280.85L1667.66 1280.85L1667.66 1281.32L1670.84 1281.32L1670.84 1281.79L1674.03 1281.79L1674.03 1282.09L1677.21 1282.09L1677.21 1282.4L1680.4 1282.4L1680.4 1282.71L1683.58 1282.71L1683.58 1283.01L1686.77 1283.01L1686.77 1283.32L1689.95 1283.32L1689.95 1283.63L1693.14 1283.63L1693.14 1283.44L1696.32 1283.44L1696.32 1283.26L1699.51 1283.26L1699.51 1283.07L1702.69 1283.07L1702.69 1282.89L1705.88 1282.89L1705.88 1282.71L1709.06 1282.71L1709.06 1282.52L1712.25 1282.52L1712.25 1283.16L1715.43 1283.16L1715.43 1283.79L1718.62 1283.79L1718.62 1284.42L1721.8 1284.42L1721.8 1285.06L1724.99 1285.06L1724.99 1285.69L1728.17 1285.69L1728.17 1286.32L1731.36 1286.32L1731.36 1287.16L1734.54 1287.16L1734.54 1288L1737.73 1288L1737.73 1288.84L1740.91 1288.84L1740.91 1289.68L1744.1 1289.68L1744.1 1290.52L1747.28 1290.52L1747.28 1291.35L1751.1 1291.35L1751.1 1293.01L1754.92 1293.01L1754.92 1294.67L1758.75 1294.67L1758.75 1296.33L1762.57 1296.33L1762.57 1299.18L1766.39 1299.18L1766.39 1302.03L1976.6 1302.03L1976.6 1350.61L1766.39 1350.61L1766.39 1346.5L1762.57 1346.5L1762.57 1342.39L1758.75 1342.39L1758.75 1339.46L1754.92 1339.46L1754.92 1336.54L1751.1 1336.54L1751.1 1333.62L1747.28 1333.62L1747.28 1331.72L1744.1 1331.72L1744.1 1329.83L1740.91 1329.83L1740.91 1327.94L1737.73 1327.94L1737.73 1326.05L1734.54 1326.05L1734.54 1324.16L1731.36 1324.16L1731.36 1322.27L1728.17 1322.27L1728.17 1320.58L1724.99 1320.58L1724.99 1318.89L1721.8 1318.89L1721.8 1317.21L1718.62 1317.21L1718.62 1315.52L1715.43 1315.52L1715.43 1313.83L1712.25 1313.83L1712.25 1312.15L1709.06 1312.15L1709.06 1311.28L1705.88 1311.28L1705.88 1310.41L1702.69 1310.41L1702.69 1309.54L1699.51 1309.54L1699.51 1308.67L1696.32 1308.67L1696.32 1307.8L1693.14 1307.8L1693.14 1306.93L1689.95 1306.93L1689.95 1306.42L1686.77 1306.42L1686.77 1305.91L1683.58 1305.91L1683.58 1305.4L1680.4 1305.4L1680.4 1304.89L1677.21 1304.89L1677.21 1304.38L1674.03 1304.38L1674.03 1303.87L1670.84 1303.87L1670.84 1303.19L1667.66 1303.19L1667.66 1302.52L1664.47 1302.52L1664.47 1301.84L1661.29 1301.84L1661.29 1301.17L1658.1 1301.17L1658.1 1300.49L1654.92 1300.49L1654.92 1299.82L1651.73 1299.82L1651.73 1298.94L1648.55 1298.94L1648.55 1298.06L1645.36 1298.06L1645.36 1297.18L1642.18 1297.18L1642.18 1296.3L1638.99 1296.3L1638.99 1295.42L1635.81 1295.42L1635.81 1294.54L1632.62 1294.54L1632.62 1293.54L1629.44 1293.54L1629.44 1292.54L1626.25 1292.54L1626.25 1291.54L1623.07 1291.54L1623.07 1290.54L1619.88 1290.54L1619.88 1289.53L1616.7 1289.53L1616.7 1288.53L1613.51 1288.53L1613.51 1287.57L1610.33 1287.57L1610.33 1286.61L1607.14 1286.61L1607.14 1285.65L1603.96 1285.65L1603.96 1284.69L1600.77 1284.69L1600.77 1283.73L1597.59 1283.73L1597.59 1282.77L1594.4 1282.77L1594.4 1281.48L1591.22 1281.48L1591.22 1280.19L1588.03 1280.19L1588.03 1278.9L1584.85 1278.9L1584.85 1277.61L1581.66 1277.61L1581.66 1276.33L1578.48 1276.33L1578.48 1275.04L1575.29 1275.04L1575.29 1274.07L1572.11 1274.07L1572.11 1273.1L1568.92 1273.1L1568.92 1272.12L1565.74 1272.12L1565.74 1271.15L1562.55 1271.15L1562.55 1270.18L1559.37 1270.18L1559.37 1269.21L1556.18 1269.21L1556.18 1267.06L1552.36 1267.06L1552.36 1264.92L1548.54 1264.92L1548.54 1262.77L1544.71 1262.77L1544.71 1260.62L1540.89 1260.62L1540.89 1259.86L1537.71 1259.86L1537.71 1259.09L1534.52 1259.09L1534.52 1258.32L1531.34 1258.32L1531.34 1257.56L1528.15 1257.56L1528.15 1256.79L1524.97 1256.79L1524.97 1256.02L1521.78 1256.02L1521.78 1254.61L1517.96 1254.61L1517.96 1253.2L1514.14 1253.2L1514.14 1251.79L1510.32 1251.79L1510.32 1250.54L1506.49 1250.54L1506.49 1249.3L1502.67 1249.3L1502.67 1248.05L1498.85 1248.05Z"/>
<path fill="none" stroke="#FF0000" stroke-width="2.2" d="M1498.85 1248.05H1502.67V1251.32H1506.49V1254.59H1510.32V1257.86H1514.14V1261.3H1517.96V1264.73H1521.78V1268.17H1524.84V1271.01H1527.9V1273.86H1530.95V1276.71H1534.01V1279.55H1537.07V1282.4H1540.26V1284.2H1543.44V1286H1546.63V1287.8H1549.81V1289.6H1553V1291.4H1556.18V1293.19H1559.37V1294.67H1562.55V1296.14H1565.74V1297.61H1568.92V1299.08H1572.11V1300.55H1575.29V1302.03H1578.48V1304.07H1581.66V1306.12H1584.85V1308.16H1588.03V1310.21H1591.22V1312.25H1594.4V1314.29H1597.59V1315.77H1600.77V1317.24H1603.96V1318.71H1607.14V1320.18H1610.33V1321.66H1613.51V1323.13H1616.7V1324.6H1619.88V1326.07H1623.07V1327.54H1626.25V1329.02H1629.44V1330.49H1632.62V1331.96H1635.81V1333.76H1638.99V1335.56H1642.18V1337.36H1645.36V1339.16H1648.55V1340.96H1651.73V1342.76H1655.55V1345.13H1659.37V1347.5H1663.2V1349.87H1667.02V1356H1670.84V1362.14H1674.03V1363H1677.21V1363.86H1680.4V1364.71H1683.58V1365.57H1686.77V1366.43H1689.95V1367.29H1693.77V1369.66H1697.59V1372.03H1701.42V1374.41H1705.24V1376.98H1709.06V1379.56H1712.25V1379.88H1715.43V1380.21H1718.62V1380.54H1721.8V1380.87H1724.99V1381.19H1728.17V1381.52H1731.36V1382.99H1734.54V1384.46H1737.73V1385.94H1740.91V1387.41H1744.1V1388.88H1747.28V1390.35H1750.47V1390.64H1753.65V1390.93H1756.84V1391.21H1760.02V1391.5H1763.21V1391.78H1766.39V1392.07H1769.58V1392.6H1772.76V1393.13H1775.95V1393.67H1779.13V1394.2H1782.32V1394.73H1785.5V1395.26H1789.32V1398.94H1871.5V1398.94H1875.32V1409.74H1879.14V1422.25H1926.91"/>
<path fill="none" stroke="#FF0000" stroke-width="1.8" d="M1510.72 1253.36v9M1511.32 1253.36v9M1517.35 1256.8v9M1524.59 1263.67v9M1525.29 1266.51v9M1533.1 1272.21v9M1536.37 1275.05v9M1537.3 1277.9v9M1537.31 1277.9v9M1542.78 1279.7v9M1544.87 1281.5v9M1546.41 1281.5v9M1549.47 1283.3v9M1556.29 1288.69v9M1572.04 1294.58v9M1573.07 1296.05v9M1576.85 1297.53v9M1578.33 1297.53v9M1582.58 1301.62v9M1583.14 1301.62v9M1584.12 1301.62v9M1584.56 1301.62v9M1592.79 1307.75v9M1594.96 1309.79v9M1602.2 1312.74v9M1602.37 1312.74v9M1608.6 1315.68v9M1610.89 1317.16v9M1618.19 1320.1v9M1623.7 1323.04v9M1626.58 1324.52v9M1630.65 1325.99v9M1634.74 1327.46v9M1638.58 1329.26v9M1641.73 1331.06v9M1646.84 1334.66v9M1648.27 1334.66v9M1653.75 1338.26v9M1655.37 1338.26v9M1657.88 1340.63v9M1658.29 1340.63v9M1661.42 1343v9M1675.32 1358.5v9M1676.6 1358.5v9M1678.14 1359.36v9M1680.28 1359.36v9M1680.49 1360.21v9M1681.34 1360.21v9M1690.22 1362.79v9M1690.27 1362.79v9M1691.44 1362.79v9M1694.67 1365.16v9M1699.33 1367.53v9M1702.79 1369.91v9M1719.22 1376.04v9M1726.18 1376.69v9M1726.66 1376.69v9M1730.29 1377.02v9M1732.44 1378.49v9M1733.22 1378.49v9M1734.72 1379.96v9M1738.17 1381.44v9M1744.54 1384.38v9M1744.87 1384.38v9M1751.82 1386.14v9M1752.45 1386.14v9M1753.06 1386.14v9M1753.34 1386.14v9M1765.4 1387.28v9M1773.29 1388.63v9M1774.51 1388.63v9M1781.13 1389.7v9M1782.25 1389.7v9M1793.62 1394.44v9M1793.85 1394.44v9M1796.09 1394.44v9M1802.11 1394.44v9M1803.33 1394.44v9M1806.7 1394.44v9M1813.65 1394.44v9M1819.96 1394.44v9M1824.55 1394.44v9M1829.61 1394.44v9M1832.13 1394.44v9M1834.48 1394.44v9M1834.78 1394.44v9M1843.8 1394.44v9M1845.76 1394.44v9M1847.16 1394.44v9M1847.55 1394.44v9M1848.45 1394.44v9M1850.49 1394.44v9M1853.86 1394.44v9M1854.39 1394.44v9M1881.03 1417.75v9M1881.07 1417.75v9M1882.25 1417.75v9M1884.67 1417.75v9M1892.29 1417.75v9M1894.9 1417.75v9M1898.61 1417.75v9M1903.67 1417.75v9M1905.01 1417.75v9M1905.11 1417.75v9M1905.8 1417.75v9M1914.44 1417.75v9M1915.72 1417.75v9M1916 1417.75v9M1916.26 1417.75v9M1921.89 1417.75v9M1926.91 1417.75v9"/>
<path fill="none" stroke="#0000FF" stroke-width="2.2" d="M1498.85 1248.05H1502.67V1248.87H1506.49V1249.69H1510.32V1250.5H1514.14V1251.48H1517.96V1252.47H1521.78V1253.45H1524.97V1253.86H1528.15V1254.27H1531.34V1254.67H1534.52V1255.08H1537.71V1255.49H1540.89V1255.9H1544.71V1257.62H1548.54V1259.34H1552.36V1261.05H1556.18V1262.77H1559.37V1263.38H1562.55V1264H1565.74V1264.61H1568.92V1265.22H1572.11V1265.84H1575.29V1266.45H1578.48V1267.64H1581.66V1268.82H1584.85V1270.01H1588.03V1271.19H1591.22V1272.38H1594.4V1273.57H1597.59V1274.43H1600.77V1275.28H1603.96V1276.14H1607.14V1277H1610.33V1277.86H1613.51V1278.72H1616.7V1279.62H1619.88V1280.52H1623.07V1281.42H1626.25V1282.32H1629.44V1283.22H1632.62V1284.12H1635.81V1284.89H1638.99V1285.67H1642.18V1286.45H1645.36V1287.22H1648.55V1288H1651.73V1288.78H1654.92V1289.35H1658.1V1289.92H1661.29V1290.5H1664.47V1291.07H1667.66V1291.64H1670.84V1292.21H1674.03V1292.62H1677.21V1293.03H1680.4V1293.44H1683.58V1293.85H1686.77V1294.26H1689.95V1294.67H1693.14V1295.08H1696.32V1295.48H1699.51V1295.89H1702.69V1296.3H1705.88V1296.71H1709.06V1297.12H1712.25V1298.35H1715.43V1299.57H1718.62V1300.8H1721.8V1302.03H1724.99V1303.25H1728.17V1304.48H1731.36V1305.91H1734.54V1307.34H1737.73V1308.77H1740.91V1310.21H1744.1V1311.64H1747.28V1313.07H1751.1V1315.44H1754.92V1317.81H1758.75V1320.18H1762.57V1323.74H1766.39V1327.3H1976.6"/>
<path fill="none" stroke="#0000FF" stroke-width="1.8" d="M1502.64 1243.55v9M1509.85 1245.19v9M1521.07 1247.97v9M1538.01 1250.99v9M1538.15 1250.99v9M1539.68 1250.99v9M1541.87 1251.4v9M1543.15 1251.4v9M1543.76 1251.4v9M1544.77 1253.12v9M1552.36 1256.55v9M1553.29 1256.55v9M1558.3 1258.27v9M1564.57 1259.5v9M1566.97 1260.11v9M1568.27 1260.11v9M1570.51 1260.72v9M1581.5 1263.14v9M1583.16 1264.32v9M1587.65 1265.51v9M1597.64 1269.93v9M1598.83 1269.93v9M1604.14 1271.64v9M1612.62 1273.36v9M1618.58 1275.12v9M1618.94 1275.12v9M1622.33 1276.02v9M1624.13 1276.92v9M1626.33 1277.82v9M1631.92 1278.72v9M1633.08 1279.62v9M1639.53 1281.17v9M1640.21 1281.17v9M1642.46 1281.95v9M1644.55 1281.95v9M1651.48 1283.5v9M1652.86 1284.28v9M1656.29 1284.85v9M1658.98 1285.42v9M1663.15 1286v9M1667.01 1286.57v9M1673.13 1287.71v9M1680.24 1288.53v9M1685.17 1289.35v9M1689.06 1289.76v9M1700.4 1291.39v9M1701.83 1291.39v9M1703.74 1291.8v9M1711.15 1292.62v9M1714.57 1293.85v9M1714.7 1293.85v9M1720.94 1296.3v9M1723.87 1297.53v9M1724.75 1297.53v9M1728.1 1298.75v9M1729.25 1299.98v9M1737.64 1302.84v9M1739.86 1304.27v9M1751.11 1310.94v9M1754.55 1310.94v9M1757.3 1313.31v9M1758.58 1313.31v9M1762.44 1315.68v9M1764.26 1319.24v9M1765.27 1319.24v9M1766.92 1322.8v9M1767.63 1322.8v9M1768.19 1322.8v9M1770.1 1322.8v9M1771.89 1322.8v9M1782.17 1322.8v9M1787.65 1322.8v9M1788.68 1322.8v9M1791.5 1322.8v9M1795.61 1322.8v9M1801.13 1322.8v9M1802.53 1322.8v9M1812.32 1322.8v9M1821.18 1322.8v9M1824.07 1322.8v9M1824.87 1322.8v9M1828.62 1322.8v9M1833.66 1322.8v9M1838.16 1322.8v9M1842.59 1322.8v9M1849.02 1322.8v9M1852.06 1322.8v9M1867.49 1322.8v9M1870.46 1322.8v9M1874.58 1322.8v9M1884.85 1322.8v9M1889.28 1322.8v9M1891.72 1322.8v9M1894.06 1322.8v9M1898.25 1322.8v9M1899.24 1322.8v9M1905.63 1322.8v9M1906.3 1322.8v9M1908.53 1322.8v9M1909.17 1322.8v9M1911.63 1322.8v9M1913.5 1322.8v9M1917.89 1322.8v9M1928.42 1322.8v9M1934.64 1322.8v9M1936.23 1322.8v9M1953.53 1322.8v9M1957.42 1322.8v9M1965.27 1322.8v9M1968.33 1322.8v9M1976.6 1322.8v9"/>
<line x1="1475.4" y1="1235.8" x2="1475.4" y2="1506.6" stroke="#000" stroke-width="1.4"/>
<line x1="1474.7" y1="1506" x2="2000" y2="1506" stroke="#000" stroke-width="1.4"/>
<line x1="1471.6" y1="1248.05" x2="1475.4" y2="1248.05" stroke="#000" stroke-width="1.2"/>
<text x="0" y="0" font-size="14.8" text-anchor="end" transform="translate(1466.9 1253.35) scale(1.12 1)">1.00</text>
<line x1="1471.6" y1="1309.39" x2="1475.4" y2="1309.39" stroke="#000" stroke-width="1.2"/>
<text x="0" y="0" font-size="14.8" text-anchor="end" transform="translate(1466.9 1314.69) scale(1.12 1)">0.75</text>
<line x1="1471.6" y1="1370.73" x2="1475.4" y2="1370.73" stroke="#000" stroke-width="1.2"/>
<text x="0" y="0" font-size="14.8" text-anchor="end" transform="translate(1466.9 1376.03) scale(1.12 1)">0.50</text>
<line x1="1471.6" y1="1432.06" x2="1475.4" y2="1432.06" stroke="#000" stroke-width="1.2"/>
<text x="0" y="0" font-size="14.8" text-anchor="end" transform="translate(1466.9 1437.36) scale(1.12 1)">0.25</text>
<line x1="1471.6" y1="1493.4" x2="1475.4" y2="1493.4" stroke="#000" stroke-width="1.2"/>
<text x="0" y="0" font-size="14.8" text-anchor="end" transform="translate(1466.9 1498.7) scale(1.12 1)">0.00</text>
<line x1="1498.85" y1="1506" x2="1498.85" y2="1509.8" stroke="#000" stroke-width="1.2"/>
<text x="0" y="0" font-size="14.8" text-anchor="middle" transform="translate(1498.85 1523.3) scale(1.12 1)">0</text>
<line x1="1537.07" y1="1506" x2="1537.07" y2="1509.8" stroke="#000" stroke-width="1.2"/>
<text x="0" y="0" font-size="14.8" text-anchor="middle" transform="translate(1537.07 1523.3) scale(1.12 1)">1</text>
<line x1="1575.29" y1="1506" x2="1575.29" y2="1509.8" stroke="#000" stroke-width="1.2"/>
<text x="0" y="0" font-size="14.8" text-anchor="middle" transform="translate(1575.29 1523.3) scale(1.12 1)">2</text>
<line x1="1613.51" y1="1506" x2="1613.51" y2="1509.8" stroke="#000" stroke-width="1.2"/>
<text x="0" y="0" font-size="14.8" text-anchor="middle" transform="translate(1613.51 1523.3) scale(1.12 1)">3</text>
<line x1="1651.73" y1="1506" x2="1651.73" y2="1509.8" stroke="#000" stroke-width="1.2"/>
<text x="0" y="0" font-size="14.8" text-anchor="middle" transform="translate(1651.73 1523.3) scale(1.12 1)">4</text>
<line x1="1689.95" y1="1506" x2="1689.95" y2="1509.8" stroke="#000" stroke-width="1.2"/>
<text x="0" y="0" font-size="14.8" text-anchor="middle" transform="translate(1689.95 1523.3) scale(1.12 1)">5</text>
<line x1="1728.17" y1="1506" x2="1728.17" y2="1509.8" stroke="#000" stroke-width="1.2"/>
<text x="0" y="0" font-size="14.8" text-anchor="middle" transform="translate(1728.17 1523.3) scale(1.12 1)">6</text>
<line x1="1766.39" y1="1506" x2="1766.39" y2="1509.8" stroke="#000" stroke-width="1.2"/>
<text x="0" y="0" font-size="14.8" text-anchor="middle" transform="translate(1766.39 1523.3) scale(1.12 1)">7</text>
<line x1="1804.61" y1="1506" x2="1804.61" y2="1509.8" stroke="#000" stroke-width="1.2"/>
<text x="0" y="0" font-size="14.8" text-anchor="middle" transform="translate(1804.61 1523.3) scale(1.12 1)">8</text>
<line x1="1842.83" y1="1506" x2="1842.83" y2="1509.8" stroke="#000" stroke-width="1.2"/>
<text x="0" y="0" font-size="14.8" text-anchor="middle" transform="translate(1842.83 1523.3) scale(1.12 1)">9</text>
<line x1="1881.05" y1="1506" x2="1881.05" y2="1509.8" stroke="#000" stroke-width="1.2"/>
<text x="0" y="0" font-size="14.8" text-anchor="middle" transform="translate(1881.05 1523.3) scale(1.12 1)">10</text>
<line x1="1919.27" y1="1506" x2="1919.27" y2="1509.8" stroke="#000" stroke-width="1.2"/>
<text x="0" y="0" font-size="14.8" text-anchor="middle" transform="translate(1919.27 1523.3) scale(1.12 1)">11</text>
<line x1="1957.49" y1="1506" x2="1957.49" y2="1509.8" stroke="#000" stroke-width="1.2"/>
<text x="0" y="0" font-size="14.8" text-anchor="middle" transform="translate(1957.49 1523.3) scale(1.12 1)">12</text>
<text x="0" y="0" font-size="17.2" text-anchor="middle" transform="translate(1737.7 1543.7) scale(1.12 1)">Time(years)</text>
<text x="0" y="0" font-size="17.8" text-anchor="middle" transform="translate(1396.6 1370.9) scale(1.12 1) rotate(-90)">Survival probability</text>
<text x="0" y="0" font-size="20.6" transform="translate(1508.7 1452.5) scale(1.12 1)">p&lt;0.001</text>
<text x="0" y="0" font-size="12.4" transform="translate(1637.2 1206.3) scale(1.12 1)">Risk</text>
<rect x="1670.6" y="1191.6" width="21.4" height="19.8" fill="#FFB3B3"/>
<line x1="1671.9" y1="1201.6" x2="1690.7" y2="1201.6" stroke="#FF0000" stroke-width="1.9"/>
<line x1="1681.3" y1="1196.5" x2="1681.3" y2="1205.5" stroke="#FF0000" stroke-width="1.5"/>
<text x="0" y="0" font-size="12.4" transform="translate(1700.5 1206.3) scale(1.12 1)">High risk</text>
<rect x="1760.4" y="1191.6" width="21.4" height="19.8" fill="#B3B3FF"/>
<line x1="1761.7" y1="1201.6" x2="1780.5" y2="1201.6" stroke="#0000FF" stroke-width="1.9"/>
<line x1="1771.1" y1="1196.5" x2="1771.1" y2="1205.5" stroke="#0000FF" stroke-width="1.5"/>
<text x="0" y="0" font-size="12.4" transform="translate(1790.1 1206.3) scale(1.12 1)">Low risk</text>
<line x1="1475.4" y1="1590.8" x2="1475.4" y2="1633.3" stroke="#000" stroke-width="1.4"/>
<line x1="1474.7" y1="1632.7" x2="2000" y2="1632.7" stroke="#000" stroke-width="1.4"/>
<line x1="1471.6" y1="1602" x2="1475.4" y2="1602" stroke="#000" stroke-width="1.2"/>
<line x1="1471.6" y1="1621.3" x2="1475.4" y2="1621.3" stroke="#000" stroke-width="1.2"/>
<text x="0" y="0" font-size="14.5" text-anchor="end" fill="#FF0000" transform="translate(1467.9 1607.2) scale(1.12 1)">High risk</text>
<text x="0" y="0" font-size="14.5" text-anchor="end" fill="#0000FF" transform="translate(1467.9 1626.5) scale(1.12 1)">Low risk</text>
<text x="0" y="0" font-size="15.9" text-anchor="middle" fill="#FF0000" transform="translate(1498.85 1607.6) scale(1.12 1)">303</text>
<text x="0" y="0" font-size="15.9" text-anchor="middle" fill="#0000FF" transform="translate(1498.85 1627.1) scale(1.12 1)">230</text>
<line x1="1498.85" y1="1632.7" x2="1498.85" y2="1636.5" stroke="#000" stroke-width="1.2"/>
<text x="0" y="0" font-size="14.8" text-anchor="middle" transform="translate(1498.85 1650.8) scale(1.12 1)">0</text>
<text x="0" y="0" font-size="15.9" text-anchor="middle" fill="#FF0000" transform="translate(1537.07 1607.6) scale(1.12 1)">240</text>
<text x="0" y="0" font-size="15.9" text-anchor="middle" fill="#0000FF" transform="translate(1537.07 1627.1) scale(1.12 1)">198</text>
<line x1="1537.07" y1="1632.7" x2="1537.07" y2="1636.5" stroke="#000" stroke-width="1.2"/>
<text x="0" y="0" font-size="14.8" text-anchor="middle" transform="translate(1537.07 1650.8) scale(1.12 1)">1</text>
<text x="0" y="0" font-size="15.9" text-anchor="middle" fill="#FF0000" transform="translate(1575.29 1607.6) scale(1.12 1)">196</text>
<text x="0" y="0" font-size="15.9" text-anchor="middle" fill="#0000FF" transform="translate(1575.29 1627.1) scale(1.12 1)">161</text>
<line x1="1575.29" y1="1632.7" x2="1575.29" y2="1636.5" stroke="#000" stroke-width="1.2"/>
<text x="0" y="0" font-size="14.8" text-anchor="middle" transform="translate(1575.29 1650.8) scale(1.12 1)">2</text>
<text x="0" y="0" font-size="15.9" text-anchor="middle" fill="#FF0000" transform="translate(1613.51 1607.6) scale(1.12 1)">158</text>
<text x="0" y="0" font-size="15.9" text-anchor="middle" fill="#0000FF" transform="translate(1613.51 1627.1) scale(1.12 1)">133</text>
<line x1="1613.51" y1="1632.7" x2="1613.51" y2="1636.5" stroke="#000" stroke-width="1.2"/>
<text x="0" y="0" font-size="14.8" text-anchor="middle" transform="translate(1613.51 1650.8) scale(1.12 1)">3</text>
<text x="0" y="0" font-size="15.9" text-anchor="middle" fill="#FF0000" transform="translate(1651.73 1607.6) scale(1.12 1)">115</text>
<text x="0" y="0" font-size="15.9" text-anchor="middle" fill="#0000FF" transform="translate(1651.73 1627.1) scale(1.12 1)">103</text>
<line x1="1651.73" y1="1632.7" x2="1651.73" y2="1636.5" stroke="#000" stroke-width="1.2"/>
<text x="0" y="0" font-size="14.8" text-anchor="middle" transform="translate(1651.73 1650.8) scale(1.12 1)">4</text>
<text x="0" y="0" font-size="15.9" text-anchor="middle" fill="#FF0000" transform="translate(1689.95 1607.6) scale(1.12 1)">75</text>
<text x="0" y="0" font-size="15.9" text-anchor="middle" fill="#0000FF" transform="translate(1689.95 1627.1) scale(1.12 1)">74</text>
<line x1="1689.95" y1="1632.7" x2="1689.95" y2="1636.5" stroke="#000" stroke-width="1.2"/>
<text x="0" y="0" font-size="14.8" text-anchor="middle" transform="translate(1689.95 1650.8) scale(1.12 1)">5</text>
<text x="0" y="0" font-size="15.9" text-anchor="middle" fill="#FF0000" transform="translate(1728.17 1607.6) scale(1.12 1)">47</text>
<text x="0" y="0" font-size="15.9" text-anchor="middle" fill="#0000FF" transform="translate(1728.17 1627.1) scale(1.12 1)">51</text>
<line x1="1728.17" y1="1632.7" x2="1728.17" y2="1636.5" stroke="#000" stroke-width="1.2"/>
<text x="0" y="0" font-size="14.8" text-anchor="middle" transform="translate(1728.17 1650.8) scale(1.12 1)">6</text>
<text x="0" y="0" font-size="15.9" text-anchor="middle" fill="#FF0000" transform="translate(1766.39 1607.6) scale(1.12 1)">30</text>
<text x="0" y="0" font-size="15.9" text-anchor="middle" fill="#0000FF" transform="translate(1766.39 1627.1) scale(1.12 1)">32</text>
<line x1="1766.39" y1="1632.7" x2="1766.39" y2="1636.5" stroke="#000" stroke-width="1.2"/>
<text x="0" y="0" font-size="14.8" text-anchor="middle" transform="translate(1766.39 1650.8) scale(1.12 1)">7</text>
<text x="0" y="0" font-size="15.9" text-anchor="middle" fill="#FF0000" transform="translate(1804.61 1607.6) scale(1.12 1)">17</text>
<text x="0" y="0" font-size="15.9" text-anchor="middle" fill="#0000FF" transform="translate(1804.61 1627.1) scale(1.12 1)">24</text>
<line x1="1804.61" y1="1632.7" x2="1804.61" y2="1636.5" stroke="#000" stroke-width="1.2"/>
<text x="0" y="0" font-size="14.8" text-anchor="middle" transform="translate(1804.61 1650.8) scale(1.12 1)">8</text>
<text x="0" y="0" font-size="15.9" text-anchor="middle" fill="#FF0000" transform="translate(1842.83 1607.6) scale(1.12 1)">14</text>
<text x="0" y="0" font-size="15.9" text-anchor="middle" fill="#0000FF" transform="translate(1842.83 1627.1) scale(1.12 1)">17</text>
<line x1="1842.83" y1="1632.7" x2="1842.83" y2="1636.5" stroke="#000" stroke-width="1.2"/>
<text x="0" y="0" font-size="14.8" text-anchor="middle" transform="translate(1842.83 1650.8) scale(1.12 1)">9</text>
<text x="0" y="0" font-size="15.9" text-anchor="middle" fill="#FF0000" transform="translate(1881.05 1607.6) scale(1.12 1)">6</text>
<text x="0" y="0" font-size="15.9" text-anchor="middle" fill="#0000FF" transform="translate(1881.05 1627.1) scale(1.12 1)">7</text>
<line x1="1881.05" y1="1632.7" x2="1881.05" y2="1636.5" stroke="#000" stroke-width="1.2"/>
<text x="0" y="0" font-size="14.8" text-anchor="middle" transform="translate(1881.05 1650.8) scale(1.12 1)">10</text>
<text x="0" y="0" font-size="15.9" text-anchor="middle" fill="#FF0000" transform="translate(1919.27 1607.6) scale(1.12 1)">1</text>
<text x="0" y="0" font-size="15.9" text-anchor="middle" fill="#0000FF" transform="translate(1919.27 1627.1) scale(1.12 1)">2</text>
<line x1="1919.27" y1="1632.7" x2="1919.27" y2="1636.5" stroke="#000" stroke-width="1.2"/>
<text x="0" y="0" font-size="14.8" text-anchor="middle" transform="translate(1919.27 1650.8) scale(1.12 1)">11</text>
<text x="0" y="0" font-size="15.9" text-anchor="middle" fill="#FF0000" transform="translate(1957.49 1607.6) scale(1.12 1)">0</text>
<text x="0" y="0" font-size="15.9" text-anchor="middle" fill="#0000FF" transform="translate(1957.49 1627.1) scale(1.12 1)">1</text>
<line x1="1957.49" y1="1632.7" x2="1957.49" y2="1636.5" stroke="#000" stroke-width="1.2"/>
<text x="0" y="0" font-size="14.8" text-anchor="middle" transform="translate(1957.49 1650.8) scale(1.12 1)">12</text>
<text x="0" y="0" font-size="17.2" text-anchor="middle" transform="translate(1737.7 1670.5) scale(1.12 1)">Time(years)</text>
<text x="0" y="0" font-size="18" text-anchor="middle" transform="translate(1396.4 1611.2) scale(1.12 1) rotate(-90)">Risk</text>
<line x1="1479" y1="2186.5" x2="1953.6" y2="1788" stroke="#000" stroke-width="1.9" stroke-dasharray="5.2 4.6"/>
<path fill="none" stroke="#00FF00" stroke-width="2.7" stroke-linejoin="round" stroke-linecap="round" d="M1496.3 2172.7L1496.3 2161.57L1496.3 2143.02L1498.51 2143.02L1498.51 2131.89L1501.6 2131.89L1501.6 2120.76L1504.25 2120.76L1504.25 2109.63L1509.55 2109.63L1509.55 2098.5L1513.96 2098.5L1513.96 2089.22L1522.79 2089.22L1522.79 2072.53L1529.41 2072.53L1529.41 2061.4L1531.62 2061.4L1531.62 2053.98L1536.04 2053.98L1544.87 2053.98L1544.87 2031.72L1547.07 2031.72L1547.07 2016.88L1549.28 2016.88L1549.28 2009.46L1553.7 2009.46L1566.94 2009.46L1566.94 1998.33L1569.15 1998.33L1569.15 1987.2L1573.56 1987.2L1580.19 1987.2L1580.19 1972.36L1584.6 1972.36L1584.6 1959.37L1586.81 1959.37L1586.81 1951.95L1589.02 1951.95L1589.02 1950.1L1615.51 1950.1L1615.51 1940.82L1615.51 1931.55L1624.34 1931.55L1624.34 1929.69L1637.58 1929.69L1637.58 1916.71L1639.79 1916.71L1639.79 1913L1644.2 1913L1644.2 1907.43L1646.41 1907.43L1668.49 1907.43L1668.49 1901.87L1670.69 1901.87L1677.32 1901.87L1677.32 1883.32L1681.73 1883.32L1694.98 1883.32L1694.98 1875.9L1697.18 1875.9L1697.18 1864.77L1706.01 1864.77L1706.01 1859.2L1708.22 1859.2L1792.11 1859.2L1792.11 1853.64L1796.52 1853.64L1796.52 1851.78L1823.01 1851.78L1823.01 1842.51L1825.22 1842.51L1825.22 1838.8L1831.84 1838.8L1831.84 1831.38L1836.26 1831.38L1836.26 1829.52L1849.5 1829.52L1849.5 1816.54L1853.92 1816.54L1853.92 1814.68L1871.58 1814.68L1871.58 1809.12L1875.99 1809.12L1875.99 1807.26L1904.69 1807.26L1904.69 1801.7L1937.8 1801.7"/>
<path fill="none" stroke="#0000FF" stroke-width="2.7" stroke-linejoin="round" stroke-linecap="round" d="M1496.3 2172.7L1496.3 2161.57L1498.51 2161.57L1498.51 2146.73L1501.6 2146.73L1501.6 2124.47L1502.92 2124.47L1502.92 2120.76L1506.01 2120.76L1506.01 2111.48L1509.55 2111.48L1509.55 2109.63L1516.17 2109.63L1516.17 2098.5L1518.38 2098.5L1518.38 2089.22L1522.79 2089.22L1522.79 2076.24L1527.21 2076.24L1527.21 2061.4L1529.41 2061.4L1529.41 2053.98L1535.15 2053.98L1535.15 2037.28L1536.04 2037.28L1536.04 2031.72L1540.45 2031.72L1540.45 2024.3L1544.87 2024.3L1544.87 2016.88L1549.28 2016.88L1549.28 2003.89L1553.7 2003.89L1553.7 1998.33L1560.32 1998.33L1560.32 1990.91L1564.73 1990.91L1564.73 1979.78L1567.82 1979.78L1567.82 1977.92L1584.6 1977.92L1584.6 1974.21L1589.02 1974.21L1589.02 1968.65L1595.64 1968.65L1595.64 1955.66L1600.05 1955.66L1600.05 1950.1L1602.26 1950.1L1602.26 1948.24L1613.3 1948.24L1613.3 1938.97L1615.51 1938.97L1615.51 1935.26L1622.13 1935.26L1622.13 1933.4L1642 1933.4L1642 1931.55L1650.83 1931.55L1650.83 1927.84L1659.66 1927.84L1659.66 1920.42L1664.07 1920.42L1664.07 1916.71L1668.49 1916.71L1668.49 1911.14L1677.32 1911.14L1677.32 1905.58L1686.15 1905.58L1686.15 1901.87L1694.98 1901.87L1694.98 1898.16L1706.01 1898.16L1706.01 1892.59L1712.64 1892.59L1712.64 1890.74L1725.88 1890.74L1725.88 1885.17L1730.3 1885.17L1730.3 1879.61L1741.33 1879.61L1741.33 1875.9L1750.16 1875.9L1750.16 1864.77L1754.58 1864.77L1754.58 1859.2L1761.2 1859.2L1787.69 1859.2L1787.69 1855.49L1800.94 1855.49L1800.94 1849.93L1805.35 1849.93L1805.35 1844.36L1814.18 1844.36L1814.18 1842.51L1823.01 1842.51L1823.01 1833.23L1827.43 1833.23L1827.43 1827.67L1836.26 1827.67L1836.26 1820.25L1840.67 1820.25L1840.67 1816.54L1849.5 1816.54L1849.5 1812.83L1867.16 1812.83L1867.16 1807.26L1871.58 1807.26L1871.58 1805.41L1884.82 1805.41L1884.82 1801.7L1898.07 1801.7L1937.8 1801.7"/>
<path fill="none" stroke="#FF0000" stroke-width="2.7" stroke-linejoin="round" stroke-linecap="round" d="M1496.3 2172.7L1496.3 2168.99L1496.3 2161.57L1498.51 2161.57L1498.51 2150.44L1500.72 2150.44L1500.72 2120.76L1502.04 2120.76L1502.04 2117.05L1505.13 2117.05L1505.13 2094.79L1506.01 2094.79L1506.01 2091.08L1509.55 2091.08L1509.55 2076.24L1511.75 2076.24L1511.75 2061.4L1513.96 2061.4L1513.96 2057.69L1518.38 2057.69L1518.38 2046.56L1519.26 2046.56L1519.26 2040.99L1522.79 2040.99L1522.79 2035.43L1525 2035.43L1525 2029.86L1527.21 2029.86L1527.21 2028.01L1532.5 2028.01L1532.5 2015.02L1532.5 2013.17L1538.24 2013.17L1538.24 2009.46L1542.66 2009.46L1542.66 2003.89L1544.87 2003.89L1544.87 1998.33L1549.28 1998.33L1549.28 1996.47L1555.9 1996.47L1555.9 1994.62L1562.53 1994.62L1562.53 1990.91L1566.94 1990.91L1566.94 1987.2L1571.36 1987.2L1571.36 1981.63L1575.77 1981.63L1575.77 1979.78L1580.19 1979.78L1580.19 1957.52L1581.51 1957.52L1597.85 1957.52L1597.85 1942.68L1600.05 1942.68L1613.3 1942.68L1613.3 1933.4L1615.51 1933.4L1615.51 1931.55L1628.75 1931.55L1628.75 1922.27L1630.96 1922.27L1630.96 1920.42L1635.37 1920.42L1635.37 1913L1642 1913L1642 1909.29L1650.83 1909.29L1650.83 1903.72L1659.66 1903.72L1659.66 1898.16L1668.49 1898.16L1668.49 1894.45L1677.32 1894.45L1677.32 1887.03L1681.73 1887.03L1681.73 1885.17L1703.81 1885.17L1703.81 1875.9L1706.01 1875.9L1706.01 1872.19L1717.05 1872.19L1717.05 1868.48L1730.3 1868.48L1730.3 1861.06L1732.5 1861.06L1732.5 1855.49L1736.92 1855.49L1736.92 1853.64L1743.54 1853.64L1770.03 1853.64L1770.03 1849.93L1774.45 1849.93L1774.45 1842.51L1778.86 1842.51L1778.86 1838.8L1783.28 1838.8L1783.28 1835.09L1792.11 1835.09L1792.11 1825.81L1800.94 1825.81L1800.94 1823.96L1818.6 1823.96L1818.6 1814.68L1823.01 1814.68L1823.01 1812.83L1831.84 1812.83L1831.84 1809.12L1840.67 1809.12L1840.67 1805.41L1858.33 1805.41L1858.33 1803.55L1875.99 1803.55L1875.99 1801.7L1887.03 1801.7L1937.8 1801.7"/>
<rect x="1478.5" y="1786.5" width="476.6" height="400.5" fill="none" stroke="#000" stroke-width="1.4"/>
<line x1="1465.3" y1="2172.7" x2="1478.5" y2="2172.7" stroke="#000" stroke-width="1.3"/>
<text x="1449.5" y="2172.7" font-size="21.4" text-anchor="middle" transform="rotate(-90 1449.5 2172.7)">0.0</text>
<line x1="1496.3" y1="2187" x2="1496.3" y2="2200.5" stroke="#000" stroke-width="1.3"/>
<text x="1496.3" y="2233.4" font-size="21.4" text-anchor="middle">0.0</text>
<line x1="1465.3" y1="2098.5" x2="1478.5" y2="2098.5" stroke="#000" stroke-width="1.3"/>
<text x="1449.5" y="2098.5" font-size="21.4" text-anchor="middle" transform="rotate(-90 1449.5 2098.5)">0.2</text>
<line x1="1584.6" y1="2187" x2="1584.6" y2="2200.5" stroke="#000" stroke-width="1.3"/>
<text x="1584.6" y="2233.4" font-size="21.4" text-anchor="middle">0.2</text>
<line x1="1465.3" y1="2024.3" x2="1478.5" y2="2024.3" stroke="#000" stroke-width="1.3"/>
<text x="1449.5" y="2024.3" font-size="21.4" text-anchor="middle" transform="rotate(-90 1449.5 2024.3)">0.4</text>
<line x1="1672.9" y1="2187" x2="1672.9" y2="2200.5" stroke="#000" stroke-width="1.3"/>
<text x="1672.9" y="2233.4" font-size="21.4" text-anchor="middle">0.4</text>
<line x1="1465.3" y1="1950.1" x2="1478.5" y2="1950.1" stroke="#000" stroke-width="1.3"/>
<text x="1449.5" y="1950.1" font-size="21.4" text-anchor="middle" transform="rotate(-90 1449.5 1950.1)">0.6</text>
<line x1="1761.2" y1="2187" x2="1761.2" y2="2200.5" stroke="#000" stroke-width="1.3"/>
<text x="1761.2" y="2233.4" font-size="21.4" text-anchor="middle">0.6</text>
<line x1="1465.3" y1="1875.9" x2="1478.5" y2="1875.9" stroke="#000" stroke-width="1.3"/>
<text x="1449.5" y="1875.9" font-size="21.4" text-anchor="middle" transform="rotate(-90 1449.5 1875.9)">0.8</text>
<line x1="1849.5" y1="2187" x2="1849.5" y2="2200.5" stroke="#000" stroke-width="1.3"/>
<text x="1849.5" y="2233.4" font-size="21.4" text-anchor="middle">0.8</text>
<line x1="1465.3" y1="1801.7" x2="1478.5" y2="1801.7" stroke="#000" stroke-width="1.3"/>
<text x="1449.5" y="1801.7" font-size="21.4" text-anchor="middle" transform="rotate(-90 1449.5 1801.7)">1.0</text>
<line x1="1937.8" y1="2187" x2="1937.8" y2="2200.5" stroke="#000" stroke-width="1.3"/>
<text x="1937.8" y="2233.4" font-size="21.4" text-anchor="middle">1.0</text>
<text x="1716.8" y="2282" font-size="21" text-anchor="middle">1−Specificity</text>
<text x="1397.9" y="1986.75" font-size="21" text-anchor="middle" transform="rotate(-90 1397.9 1986.75)">Sensitivity</text>
<line x1="1681.7" y1="2111" x2="1721.7" y2="2111" stroke="#00FF00" stroke-width="2.4"/>
<text x="1739.9" y="2118.6" font-size="21">AUC at 1 years: 0.728</text>
<line x1="1681.7" y1="2136.6" x2="1721.7" y2="2136.6" stroke="#0000FF" stroke-width="2.4"/>
<text x="1739.9" y="2144.2" font-size="21">AUC at 3 years: 0.716</text>
<line x1="1681.7" y1="2162.2" x2="1721.7" y2="2162.2" stroke="#FF0000" stroke-width="2.4"/>
<text x="1739.9" y="2169.8" font-size="21">AUC at 5 years: 0.754</text>
</svg></body></html>
